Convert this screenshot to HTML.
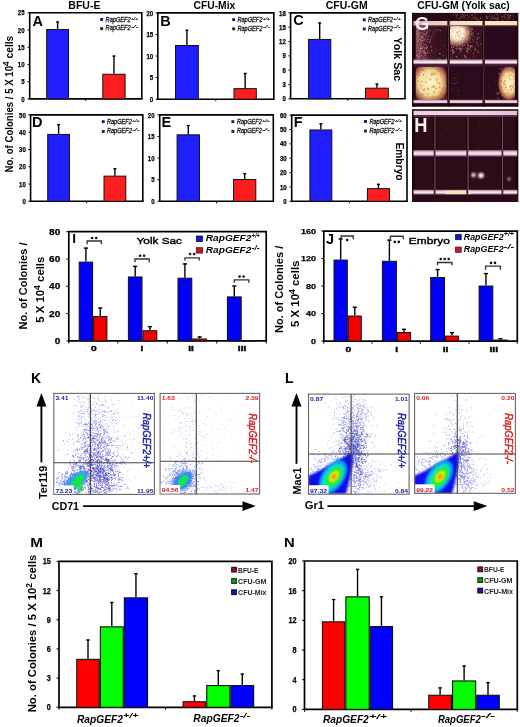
<!DOCTYPE html>
<html><head><meta charset="utf-8"><style>
html,body{margin:0;padding:0;background:#fff;width:520px;height:727px;overflow:hidden}
svg{display:block;font-family:"Liberation Sans",sans-serif;will-change:transform;filter:blur(0.35px)}
</style></head><body>
<svg width="520" height="727" viewBox="0 0 520 727">
<rect x="0" y="0" width="520" height="727" fill="#fff"/>
<path d="M29.70 98.90 V12.80 H141.80 V98.90" fill="none" stroke="#000" stroke-width="1.6"/>
<line x1="28.90" y1="98.90" x2="142.60" y2="98.90" stroke="#000" stroke-width="1.6"/>
<line x1="27.50" y1="98.90" x2="29.70" y2="98.90" stroke="#000" stroke-width="1.0"/>
<text x="24.60" y="101.51" font-size="7.3" font-weight="bold" text-anchor="end" textLength="3.37" lengthAdjust="spacingAndGlyphs" stroke="#000" stroke-width="0.25">0</text>
<line x1="27.50" y1="81.68" x2="29.70" y2="81.68" stroke="#000" stroke-width="1.0"/>
<text x="24.60" y="84.29" font-size="7.3" font-weight="bold" text-anchor="end" textLength="3.37" lengthAdjust="spacingAndGlyphs" stroke="#000" stroke-width="0.25">5</text>
<line x1="27.50" y1="64.46" x2="29.70" y2="64.46" stroke="#000" stroke-width="1.0"/>
<text x="24.60" y="67.07" font-size="7.3" font-weight="bold" text-anchor="end" textLength="6.74" lengthAdjust="spacingAndGlyphs" stroke="#000" stroke-width="0.25">10</text>
<line x1="27.50" y1="47.24" x2="29.70" y2="47.24" stroke="#000" stroke-width="1.0"/>
<text x="24.60" y="49.85" font-size="7.3" font-weight="bold" text-anchor="end" textLength="6.74" lengthAdjust="spacingAndGlyphs" stroke="#000" stroke-width="0.25">15</text>
<line x1="27.50" y1="30.02" x2="29.70" y2="30.02" stroke="#000" stroke-width="1.0"/>
<text x="24.60" y="32.63" font-size="7.3" font-weight="bold" text-anchor="end" textLength="6.74" lengthAdjust="spacingAndGlyphs" stroke="#000" stroke-width="0.25">20</text>
<line x1="27.50" y1="12.80" x2="29.70" y2="12.80" stroke="#000" stroke-width="1.0"/>
<text x="24.60" y="15.41" font-size="7.3" font-weight="bold" text-anchor="end" textLength="6.74" lengthAdjust="spacingAndGlyphs" stroke="#000" stroke-width="0.25">25</text>
<line x1="85.75" y1="98.90" x2="85.75" y2="100.90" stroke="#000" stroke-width="1"/>
<line x1="57.60" y1="28.99" x2="57.60" y2="21.41" stroke="#000" stroke-width="1.4"/>
<line x1="56.10" y1="22.01" x2="59.10" y2="22.01" stroke="#000" stroke-width="1.4"/>
<rect x="46.70" y="29.49" width="21.80" height="69.41" fill="#1e1eff" stroke="#111" stroke-width="1.0"/>
<line x1="113.95" y1="73.76" x2="113.95" y2="55.51" stroke="#000" stroke-width="1.4"/>
<line x1="112.45" y1="56.11" x2="115.45" y2="56.11" stroke="#000" stroke-width="1.4"/>
<rect x="102.80" y="74.26" width="22.30" height="24.64" fill="#ff1e1e" stroke="#111" stroke-width="1.0"/>
<text x="32.40" y="25.60" font-size="14.5" font-weight="bold">A</text>
<rect x="100.20" y="18.00" width="2.90" height="2.90" fill="#1a1a70"/>
<rect x="100.20" y="27.20" width="2.90" height="2.90" fill="#3a1a28"/>
<text x="105.60" y="21.80" font-size="6.6" font-style="italic" fill="#111" textLength="25.00" lengthAdjust="spacingAndGlyphs" stroke="#111" stroke-width="0.3">RapGEF2</text>
<text x="130.90" y="19.50" font-size="4.092" font-style="italic" fill="#111" textLength="7.40" lengthAdjust="spacingAndGlyphs" stroke="#111" stroke-width="0.2">+/+</text>
<text x="105.60" y="30.40" font-size="6.6" font-style="italic" fill="#111" textLength="25.00" lengthAdjust="spacingAndGlyphs" stroke="#111" stroke-width="0.3">RapGEF2</text>
<text x="130.90" y="28.10" font-size="4.092" font-style="italic" fill="#111" textLength="7.40" lengthAdjust="spacingAndGlyphs" stroke="#111" stroke-width="0.2">-/-</text>
<path d="M157.80 99.20 V12.90 H273.80 V99.20" fill="none" stroke="#000" stroke-width="1.6"/>
<line x1="157.00" y1="99.20" x2="274.60" y2="99.20" stroke="#000" stroke-width="1.6"/>
<line x1="155.60" y1="99.20" x2="157.80" y2="99.20" stroke="#000" stroke-width="1.0"/>
<text x="153.20" y="101.81" font-size="7.3" font-weight="bold" text-anchor="end" textLength="3.37" lengthAdjust="spacingAndGlyphs" stroke="#000" stroke-width="0.25">0</text>
<line x1="155.60" y1="77.62" x2="157.80" y2="77.62" stroke="#000" stroke-width="1.0"/>
<text x="153.20" y="80.24" font-size="7.3" font-weight="bold" text-anchor="end" textLength="3.37" lengthAdjust="spacingAndGlyphs" stroke="#000" stroke-width="0.25">5</text>
<line x1="155.60" y1="56.05" x2="157.80" y2="56.05" stroke="#000" stroke-width="1.0"/>
<text x="153.20" y="58.66" font-size="7.3" font-weight="bold" text-anchor="end" textLength="6.74" lengthAdjust="spacingAndGlyphs" stroke="#000" stroke-width="0.25">10</text>
<line x1="155.60" y1="34.48" x2="157.80" y2="34.48" stroke="#000" stroke-width="1.0"/>
<text x="153.20" y="37.09" font-size="7.3" font-weight="bold" text-anchor="end" textLength="6.74" lengthAdjust="spacingAndGlyphs" stroke="#000" stroke-width="0.25">15</text>
<line x1="155.60" y1="12.90" x2="157.80" y2="12.90" stroke="#000" stroke-width="1.0"/>
<text x="153.20" y="15.51" font-size="7.3" font-weight="bold" text-anchor="end" textLength="6.74" lengthAdjust="spacingAndGlyphs" stroke="#000" stroke-width="0.25">20</text>
<line x1="215.80" y1="99.20" x2="215.80" y2="101.20" stroke="#000" stroke-width="1"/>
<line x1="186.90" y1="45.00" x2="186.90" y2="29.73" stroke="#000" stroke-width="1.4"/>
<line x1="185.40" y1="30.33" x2="188.40" y2="30.33" stroke="#000" stroke-width="1.4"/>
<rect x="175.50" y="45.50" width="22.80" height="53.70" fill="#1e1eff" stroke="#111" stroke-width="1.0"/>
<line x1="245.15" y1="88.15" x2="245.15" y2="72.88" stroke="#000" stroke-width="1.4"/>
<line x1="243.65" y1="73.48" x2="246.65" y2="73.48" stroke="#000" stroke-width="1.4"/>
<rect x="234.00" y="88.65" width="22.30" height="10.55" fill="#ff1e1e" stroke="#111" stroke-width="1.0"/>
<text x="160.20" y="25.60" font-size="14.5" font-weight="bold">B</text>
<rect x="232.20" y="18.20" width="2.90" height="2.90" fill="#1a1a70"/>
<rect x="232.20" y="27.40" width="2.90" height="2.90" fill="#3a1a28"/>
<text x="237.40" y="22.00" font-size="6.6" font-style="italic" fill="#111" textLength="25.00" lengthAdjust="spacingAndGlyphs" stroke="#111" stroke-width="0.3">RapGEF2</text>
<text x="262.70" y="19.70" font-size="4.092" font-style="italic" fill="#111" textLength="7.40" lengthAdjust="spacingAndGlyphs" stroke="#111" stroke-width="0.2">+/+</text>
<text x="237.40" y="30.60" font-size="6.6" font-style="italic" fill="#111" textLength="25.00" lengthAdjust="spacingAndGlyphs" stroke="#111" stroke-width="0.3">RapGEF2</text>
<text x="262.70" y="28.30" font-size="4.092" font-style="italic" fill="#111" textLength="7.40" lengthAdjust="spacingAndGlyphs" stroke="#111" stroke-width="0.2">-/-</text>
<path d="M290.60 98.80 V12.90 H405.00 V98.80" fill="none" stroke="#000" stroke-width="1.6"/>
<line x1="289.80" y1="98.80" x2="405.80" y2="98.80" stroke="#000" stroke-width="1.6"/>
<line x1="288.40" y1="98.80" x2="290.60" y2="98.80" stroke="#000" stroke-width="1.0"/>
<text x="285.80" y="101.41" font-size="7.3" font-weight="bold" text-anchor="end" textLength="3.37" lengthAdjust="spacingAndGlyphs" stroke="#000" stroke-width="0.25">0</text>
<line x1="288.40" y1="84.48" x2="290.60" y2="84.48" stroke="#000" stroke-width="1.0"/>
<text x="285.80" y="87.10" font-size="7.3" font-weight="bold" text-anchor="end" textLength="3.37" lengthAdjust="spacingAndGlyphs" stroke="#000" stroke-width="0.25">3</text>
<line x1="288.40" y1="70.17" x2="290.60" y2="70.17" stroke="#000" stroke-width="1.0"/>
<text x="285.80" y="72.78" font-size="7.3" font-weight="bold" text-anchor="end" textLength="3.37" lengthAdjust="spacingAndGlyphs" stroke="#000" stroke-width="0.25">6</text>
<line x1="288.40" y1="55.85" x2="290.60" y2="55.85" stroke="#000" stroke-width="1.0"/>
<text x="285.80" y="58.46" font-size="7.3" font-weight="bold" text-anchor="end" textLength="3.37" lengthAdjust="spacingAndGlyphs" stroke="#000" stroke-width="0.25">9</text>
<line x1="288.40" y1="41.53" x2="290.60" y2="41.53" stroke="#000" stroke-width="1.0"/>
<text x="285.80" y="44.15" font-size="7.3" font-weight="bold" text-anchor="end" textLength="6.74" lengthAdjust="spacingAndGlyphs" stroke="#000" stroke-width="0.25">12</text>
<line x1="288.40" y1="27.22" x2="290.60" y2="27.22" stroke="#000" stroke-width="1.0"/>
<text x="285.80" y="29.83" font-size="7.3" font-weight="bold" text-anchor="end" textLength="6.74" lengthAdjust="spacingAndGlyphs" stroke="#000" stroke-width="0.25">15</text>
<line x1="288.40" y1="12.90" x2="290.60" y2="12.90" stroke="#000" stroke-width="1.0"/>
<text x="285.80" y="15.51" font-size="7.3" font-weight="bold" text-anchor="end" textLength="6.74" lengthAdjust="spacingAndGlyphs" stroke="#000" stroke-width="0.25">18</text>
<line x1="347.80" y1="98.80" x2="347.80" y2="100.80" stroke="#000" stroke-width="1"/>
<line x1="319.70" y1="38.91" x2="319.70" y2="22.44" stroke="#000" stroke-width="1.4"/>
<line x1="318.20" y1="23.04" x2="321.20" y2="23.04" stroke="#000" stroke-width="1.4"/>
<rect x="308.60" y="39.41" width="22.20" height="59.39" fill="#1e1eff" stroke="#111" stroke-width="1.0"/>
<line x1="376.90" y1="87.68" x2="376.90" y2="83.53" stroke="#000" stroke-width="1.4"/>
<line x1="375.40" y1="84.13" x2="378.40" y2="84.13" stroke="#000" stroke-width="1.4"/>
<rect x="365.50" y="88.18" width="22.80" height="10.62" fill="#ff1e1e" stroke="#111" stroke-width="1.0"/>
<text x="293.15" y="25.45" font-size="14.5" font-weight="bold">C</text>
<rect x="362.80" y="18.30" width="2.90" height="2.90" fill="#1a1a70"/>
<rect x="362.80" y="27.50" width="2.90" height="2.90" fill="#3a1a28"/>
<text x="368.00" y="22.00" font-size="6.6" font-style="italic" fill="#111" textLength="25.00" lengthAdjust="spacingAndGlyphs" stroke="#111" stroke-width="0.3">RapGEF2</text>
<text x="393.30" y="19.70" font-size="4.092" font-style="italic" fill="#111" textLength="7.40" lengthAdjust="spacingAndGlyphs" stroke="#111" stroke-width="0.2">+/+</text>
<text x="368.00" y="30.60" font-size="6.6" font-style="italic" fill="#111" textLength="25.00" lengthAdjust="spacingAndGlyphs" stroke="#111" stroke-width="0.3">RapGEF2</text>
<text x="393.30" y="28.30" font-size="4.092" font-style="italic" fill="#111" textLength="7.40" lengthAdjust="spacingAndGlyphs" stroke="#111" stroke-width="0.2">-/-</text>
<path d="M30.60 201.30 V114.90 H142.80 V201.30" fill="none" stroke="#000" stroke-width="1.6"/>
<line x1="29.80" y1="201.30" x2="143.60" y2="201.30" stroke="#000" stroke-width="1.6"/>
<line x1="28.40" y1="201.30" x2="30.60" y2="201.30" stroke="#000" stroke-width="1.0"/>
<text x="25.80" y="203.91" font-size="7.3" font-weight="bold" text-anchor="end" textLength="3.37" lengthAdjust="spacingAndGlyphs" stroke="#000" stroke-width="0.25">0</text>
<line x1="28.40" y1="184.02" x2="30.60" y2="184.02" stroke="#000" stroke-width="1.0"/>
<text x="25.80" y="186.63" font-size="7.3" font-weight="bold" text-anchor="end" textLength="6.74" lengthAdjust="spacingAndGlyphs" stroke="#000" stroke-width="0.25">10</text>
<line x1="28.40" y1="166.74" x2="30.60" y2="166.74" stroke="#000" stroke-width="1.0"/>
<text x="25.80" y="169.35" font-size="7.3" font-weight="bold" text-anchor="end" textLength="6.74" lengthAdjust="spacingAndGlyphs" stroke="#000" stroke-width="0.25">20</text>
<line x1="28.40" y1="149.46" x2="30.60" y2="149.46" stroke="#000" stroke-width="1.0"/>
<text x="25.80" y="152.07" font-size="7.3" font-weight="bold" text-anchor="end" textLength="6.74" lengthAdjust="spacingAndGlyphs" stroke="#000" stroke-width="0.25">30</text>
<line x1="28.40" y1="132.18" x2="30.60" y2="132.18" stroke="#000" stroke-width="1.0"/>
<text x="25.80" y="134.79" font-size="7.3" font-weight="bold" text-anchor="end" textLength="6.74" lengthAdjust="spacingAndGlyphs" stroke="#000" stroke-width="0.25">40</text>
<line x1="28.40" y1="114.90" x2="30.60" y2="114.90" stroke="#000" stroke-width="1.0"/>
<text x="25.80" y="117.51" font-size="7.3" font-weight="bold" text-anchor="end" textLength="6.74" lengthAdjust="spacingAndGlyphs" stroke="#000" stroke-width="0.25">50</text>
<line x1="86.70" y1="201.30" x2="86.70" y2="203.30" stroke="#000" stroke-width="1"/>
<line x1="58.60" y1="133.94" x2="58.60" y2="124.06" stroke="#000" stroke-width="1.4"/>
<line x1="57.10" y1="124.66" x2="60.10" y2="124.66" stroke="#000" stroke-width="1.4"/>
<rect x="47.70" y="134.44" width="21.80" height="66.86" fill="#1e1eff" stroke="#111" stroke-width="1.0"/>
<line x1="114.90" y1="175.64" x2="114.90" y2="168.04" stroke="#000" stroke-width="1.4"/>
<line x1="113.40" y1="168.64" x2="116.40" y2="168.64" stroke="#000" stroke-width="1.4"/>
<rect x="104.00" y="176.14" width="21.80" height="25.16" fill="#ff1e1e" stroke="#111" stroke-width="1.0"/>
<text x="32.00" y="127.30" font-size="14.5" font-weight="bold">D</text>
<rect x="101.80" y="120.20" width="2.90" height="2.90" fill="#1a1a70"/>
<rect x="101.80" y="130.00" width="2.90" height="2.90" fill="#3a1a28"/>
<text x="106.90" y="124.20" font-size="6.6" font-style="italic" fill="#111" textLength="25.00" lengthAdjust="spacingAndGlyphs" stroke="#111" stroke-width="0.3">RapGEF2</text>
<text x="132.20" y="121.90" font-size="4.092" font-style="italic" fill="#111" textLength="7.40" lengthAdjust="spacingAndGlyphs" stroke="#111" stroke-width="0.2">+/+</text>
<text x="106.90" y="132.80" font-size="6.6" font-style="italic" fill="#111" textLength="25.00" lengthAdjust="spacingAndGlyphs" stroke="#111" stroke-width="0.3">RapGEF2</text>
<text x="132.20" y="130.50" font-size="4.092" font-style="italic" fill="#111" textLength="7.40" lengthAdjust="spacingAndGlyphs" stroke="#111" stroke-width="0.2">-/-</text>
<path d="M159.70 201.30 V114.90 H273.30 V201.30" fill="none" stroke="#000" stroke-width="1.6"/>
<line x1="158.90" y1="201.30" x2="274.10" y2="201.30" stroke="#000" stroke-width="1.6"/>
<line x1="157.50" y1="201.30" x2="159.70" y2="201.30" stroke="#000" stroke-width="1.0"/>
<text x="154.60" y="203.91" font-size="7.3" font-weight="bold" text-anchor="end" textLength="3.37" lengthAdjust="spacingAndGlyphs" stroke="#000" stroke-width="0.25">0</text>
<line x1="157.50" y1="179.70" x2="159.70" y2="179.70" stroke="#000" stroke-width="1.0"/>
<text x="154.60" y="182.31" font-size="7.3" font-weight="bold" text-anchor="end" textLength="3.37" lengthAdjust="spacingAndGlyphs" stroke="#000" stroke-width="0.25">5</text>
<line x1="157.50" y1="158.10" x2="159.70" y2="158.10" stroke="#000" stroke-width="1.0"/>
<text x="154.60" y="160.71" font-size="7.3" font-weight="bold" text-anchor="end" textLength="6.74" lengthAdjust="spacingAndGlyphs" stroke="#000" stroke-width="0.25">10</text>
<line x1="157.50" y1="136.50" x2="159.70" y2="136.50" stroke="#000" stroke-width="1.0"/>
<text x="154.60" y="139.11" font-size="7.3" font-weight="bold" text-anchor="end" textLength="6.74" lengthAdjust="spacingAndGlyphs" stroke="#000" stroke-width="0.25">15</text>
<line x1="157.50" y1="114.90" x2="159.70" y2="114.90" stroke="#000" stroke-width="1.0"/>
<text x="154.60" y="117.51" font-size="7.3" font-weight="bold" text-anchor="end" textLength="6.74" lengthAdjust="spacingAndGlyphs" stroke="#000" stroke-width="0.25">20</text>
<line x1="216.50" y1="201.30" x2="216.50" y2="203.30" stroke="#000" stroke-width="1"/>
<line x1="188.30" y1="134.34" x2="188.30" y2="125.01" stroke="#000" stroke-width="1.4"/>
<line x1="186.80" y1="125.61" x2="189.80" y2="125.61" stroke="#000" stroke-width="1.4"/>
<rect x="177.10" y="134.84" width="22.40" height="66.46" fill="#1e1eff" stroke="#111" stroke-width="1.0"/>
<line x1="244.70" y1="179.05" x2="244.70" y2="173.05" stroke="#000" stroke-width="1.4"/>
<line x1="243.20" y1="173.65" x2="246.20" y2="173.65" stroke="#000" stroke-width="1.4"/>
<rect x="233.60" y="179.55" width="22.20" height="21.75" fill="#ff1e1e" stroke="#111" stroke-width="1.0"/>
<text x="161.50" y="127.30" font-size="14.5" font-weight="bold">E</text>
<rect x="231.40" y="120.20" width="2.90" height="2.90" fill="#1a1a70"/>
<rect x="231.40" y="130.00" width="2.90" height="2.90" fill="#3a1a28"/>
<text x="236.90" y="124.20" font-size="6.6" font-style="italic" fill="#111" textLength="25.00" lengthAdjust="spacingAndGlyphs" stroke="#111" stroke-width="0.3">RapGEF2</text>
<text x="262.20" y="121.90" font-size="4.092" font-style="italic" fill="#111" textLength="7.40" lengthAdjust="spacingAndGlyphs" stroke="#111" stroke-width="0.2">+/+</text>
<text x="236.90" y="132.80" font-size="6.6" font-style="italic" fill="#111" textLength="25.00" lengthAdjust="spacingAndGlyphs" stroke="#111" stroke-width="0.3">RapGEF2</text>
<text x="262.20" y="130.50" font-size="4.092" font-style="italic" fill="#111" textLength="7.40" lengthAdjust="spacingAndGlyphs" stroke="#111" stroke-width="0.2">-/-</text>
<path d="M291.70 201.30 V115.10 H407.00 V201.30" fill="none" stroke="#000" stroke-width="1.6"/>
<line x1="290.90" y1="201.30" x2="407.80" y2="201.30" stroke="#000" stroke-width="1.6"/>
<line x1="289.50" y1="201.30" x2="291.70" y2="201.30" stroke="#000" stroke-width="1.0"/>
<text x="286.70" y="203.91" font-size="7.3" font-weight="bold" text-anchor="end" textLength="3.37" lengthAdjust="spacingAndGlyphs" stroke="#000" stroke-width="0.25">0</text>
<line x1="289.50" y1="186.93" x2="291.70" y2="186.93" stroke="#000" stroke-width="1.0"/>
<text x="286.70" y="189.55" font-size="7.3" font-weight="bold" text-anchor="end" textLength="6.74" lengthAdjust="spacingAndGlyphs" stroke="#000" stroke-width="0.25">10</text>
<line x1="289.50" y1="172.57" x2="291.70" y2="172.57" stroke="#000" stroke-width="1.0"/>
<text x="286.70" y="175.18" font-size="7.3" font-weight="bold" text-anchor="end" textLength="6.74" lengthAdjust="spacingAndGlyphs" stroke="#000" stroke-width="0.25">20</text>
<line x1="289.50" y1="158.20" x2="291.70" y2="158.20" stroke="#000" stroke-width="1.0"/>
<text x="286.70" y="160.81" font-size="7.3" font-weight="bold" text-anchor="end" textLength="6.74" lengthAdjust="spacingAndGlyphs" stroke="#000" stroke-width="0.25">30</text>
<line x1="289.50" y1="143.83" x2="291.70" y2="143.83" stroke="#000" stroke-width="1.0"/>
<text x="286.70" y="146.45" font-size="7.3" font-weight="bold" text-anchor="end" textLength="6.74" lengthAdjust="spacingAndGlyphs" stroke="#000" stroke-width="0.25">40</text>
<line x1="289.50" y1="129.47" x2="291.70" y2="129.47" stroke="#000" stroke-width="1.0"/>
<text x="286.70" y="132.08" font-size="7.3" font-weight="bold" text-anchor="end" textLength="6.74" lengthAdjust="spacingAndGlyphs" stroke="#000" stroke-width="0.25">50</text>
<line x1="289.50" y1="115.10" x2="291.70" y2="115.10" stroke="#000" stroke-width="1.0"/>
<text x="286.70" y="117.71" font-size="7.3" font-weight="bold" text-anchor="end" textLength="6.74" lengthAdjust="spacingAndGlyphs" stroke="#000" stroke-width="0.25">60</text>
<line x1="349.35" y1="201.30" x2="349.35" y2="203.30" stroke="#000" stroke-width="1"/>
<line x1="320.85" y1="129.47" x2="320.85" y2="123.15" stroke="#000" stroke-width="1.4"/>
<line x1="319.35" y1="123.75" x2="322.35" y2="123.75" stroke="#000" stroke-width="1.4"/>
<rect x="309.90" y="129.97" width="21.90" height="71.33" fill="#1e1eff" stroke="#111" stroke-width="1.0"/>
<line x1="378.45" y1="188.14" x2="378.45" y2="183.77" stroke="#000" stroke-width="1.4"/>
<line x1="376.95" y1="184.37" x2="379.95" y2="184.37" stroke="#000" stroke-width="1.4"/>
<rect x="367.40" y="188.64" width="22.10" height="12.66" fill="#ff1e1e" stroke="#111" stroke-width="1.0"/>
<text x="293.80" y="127.30" font-size="14.5" font-weight="bold">F</text>
<rect x="364.00" y="120.00" width="2.90" height="2.90" fill="#1a1a70"/>
<rect x="364.00" y="129.60" width="2.90" height="2.90" fill="#3a1a28"/>
<text x="369.40" y="124.20" font-size="6.6" font-style="italic" fill="#111" textLength="25.00" lengthAdjust="spacingAndGlyphs" stroke="#111" stroke-width="0.3">RapGEF2</text>
<text x="394.70" y="121.90" font-size="4.092" font-style="italic" fill="#111" textLength="7.40" lengthAdjust="spacingAndGlyphs" stroke="#111" stroke-width="0.2">+/+</text>
<text x="369.40" y="132.80" font-size="6.6" font-style="italic" fill="#111" textLength="25.00" lengthAdjust="spacingAndGlyphs" stroke="#111" stroke-width="0.3">RapGEF2</text>
<text x="394.70" y="130.50" font-size="4.092" font-style="italic" fill="#111" textLength="7.40" lengthAdjust="spacingAndGlyphs" stroke="#111" stroke-width="0.2">-/-</text>
<text x="68.30" y="9.00" font-size="10.0" font-weight="bold" textLength="32.20" lengthAdjust="spacingAndGlyphs">BFU-E</text>
<text x="193.60" y="8.90" font-size="10.0" font-weight="bold" textLength="41.60" lengthAdjust="spacingAndGlyphs">CFU-Mix</text>
<text x="325.80" y="8.90" font-size="10.0" font-weight="bold" textLength="41.80" lengthAdjust="spacingAndGlyphs">CFU-GM</text>
<text x="417.30" y="8.90" font-size="10.0" font-weight="bold" textLength="92.40" lengthAdjust="spacingAndGlyphs">CFU-GM (Yolk sac)</text>
<text transform="translate(394.40,59.30) rotate(90)" font-size="10.8" font-weight="bold" text-anchor="middle" textLength="44.00" lengthAdjust="spacingAndGlyphs">Yolk Sac</text>
<text transform="translate(396.40,161.50) rotate(90)" font-size="10.8" font-weight="bold" text-anchor="middle" textLength="38.20" lengthAdjust="spacingAndGlyphs">Embryo</text>
<text transform="translate(12.9,172.5) rotate(-90)" font-size="10" font-weight="bold"><tspan textLength="106.5" lengthAdjust="spacingAndGlyphs">No. of Colonies / 5 X 10</tspan><tspan dy="-4.4" font-size="8.4">4</tspan><tspan dy="4.4" textLength="25.6" lengthAdjust="spacingAndGlyphs"> cells</tspan></text>
<path d="M68.80 340.90 V231.70 H266.20 V340.90" fill="none" stroke="#000" stroke-width="1.7"/>
<line x1="68.00" y1="340.90" x2="267.00" y2="340.90" stroke="#000" stroke-width="1.7"/>
<line x1="66.30" y1="340.90" x2="68.80" y2="340.90" stroke="#000" stroke-width="1.0"/>
<text x="60.40" y="344.05" font-size="8.8" font-weight="bold" text-anchor="end" textLength="5.63" lengthAdjust="spacingAndGlyphs" stroke="#000" stroke-width="0.25">0</text>
<line x1="66.30" y1="313.60" x2="68.80" y2="313.60" stroke="#000" stroke-width="1.0"/>
<text x="60.40" y="316.75" font-size="8.8" font-weight="bold" text-anchor="end" textLength="11.26" lengthAdjust="spacingAndGlyphs" stroke="#000" stroke-width="0.25">20</text>
<line x1="66.30" y1="286.30" x2="68.80" y2="286.30" stroke="#000" stroke-width="1.0"/>
<text x="60.40" y="289.45" font-size="8.8" font-weight="bold" text-anchor="end" textLength="11.26" lengthAdjust="spacingAndGlyphs" stroke="#000" stroke-width="0.25">40</text>
<line x1="66.30" y1="259.00" x2="68.80" y2="259.00" stroke="#000" stroke-width="1.0"/>
<text x="60.40" y="262.15" font-size="8.8" font-weight="bold" text-anchor="end" textLength="11.26" lengthAdjust="spacingAndGlyphs" stroke="#000" stroke-width="0.25">60</text>
<line x1="66.30" y1="231.70" x2="68.80" y2="231.70" stroke="#000" stroke-width="1.0"/>
<text x="60.40" y="234.85" font-size="8.8" font-weight="bold" text-anchor="end" textLength="11.26" lengthAdjust="spacingAndGlyphs" stroke="#000" stroke-width="0.25">80</text>
<line x1="68.80" y1="340.90" x2="68.80" y2="343.50" stroke="#000" stroke-width="1"/>
<line x1="117.80" y1="340.90" x2="117.80" y2="343.50" stroke="#000" stroke-width="1"/>
<line x1="167.30" y1="340.90" x2="167.30" y2="343.50" stroke="#000" stroke-width="1"/>
<line x1="216.70" y1="340.90" x2="216.70" y2="343.50" stroke="#000" stroke-width="1"/>
<line x1="266.20" y1="340.90" x2="266.20" y2="343.50" stroke="#000" stroke-width="1"/>
<line x1="85.90" y1="261.59" x2="85.90" y2="247.53" stroke="#000" stroke-width="1.4"/>
<line x1="83.80" y1="248.13" x2="88.00" y2="248.13" stroke="#000" stroke-width="1.4"/>
<rect x="79.20" y="262.09" width="13.40" height="78.81" fill="#0000fa" stroke="#111" stroke-width="1.0"/>
<line x1="100.25" y1="316.06" x2="100.25" y2="307.46" stroke="#000" stroke-width="1.4"/>
<line x1="98.15" y1="308.06" x2="102.35" y2="308.06" stroke="#000" stroke-width="1.4"/>
<rect x="93.60" y="316.56" width="13.30" height="24.34" fill="#f50000" stroke="#111" stroke-width="1.0"/>
<line x1="135.20" y1="276.47" x2="135.20" y2="265.82" stroke="#000" stroke-width="1.4"/>
<line x1="133.10" y1="266.43" x2="137.30" y2="266.43" stroke="#000" stroke-width="1.4"/>
<rect x="128.40" y="276.97" width="13.60" height="63.93" fill="#0000fa" stroke="#111" stroke-width="1.0"/>
<line x1="149.90" y1="330.25" x2="149.90" y2="326.02" stroke="#000" stroke-width="1.4"/>
<line x1="147.80" y1="326.62" x2="152.00" y2="326.62" stroke="#000" stroke-width="1.4"/>
<rect x="143.00" y="330.75" width="13.80" height="10.15" fill="#f50000" stroke="#111" stroke-width="1.0"/>
<line x1="184.90" y1="277.70" x2="184.90" y2="263.37" stroke="#000" stroke-width="1.4"/>
<line x1="182.80" y1="263.97" x2="187.00" y2="263.97" stroke="#000" stroke-width="1.4"/>
<rect x="178.00" y="278.20" width="13.80" height="62.70" fill="#0000fa" stroke="#111" stroke-width="1.0"/>
<line x1="199.65" y1="338.51" x2="199.65" y2="336.40" stroke="#000" stroke-width="1.4"/>
<line x1="197.55" y1="337.00" x2="201.75" y2="337.00" stroke="#000" stroke-width="1.4"/>
<rect x="192.80" y="339.01" width="13.70" height="1.89" fill="#f50000" stroke="#111" stroke-width="1.0"/>
<line x1="234.30" y1="296.40" x2="234.30" y2="285.48" stroke="#000" stroke-width="1.4"/>
<line x1="232.20" y1="286.08" x2="236.40" y2="286.08" stroke="#000" stroke-width="1.4"/>
<rect x="227.40" y="296.90" width="13.80" height="44.00" fill="#0000fa" stroke="#111" stroke-width="1.0"/>
<rect x="242.20" y="340.85" width="13.80" height="0.10" fill="#f50000" stroke="#111" stroke-width="1.0"/>
<text x="93.90" y="350.60" font-size="7.2" font-weight="bold" text-anchor="middle" textLength="5.69" lengthAdjust="spacingAndGlyphs" stroke="#000" stroke-width="0.35">0</text>
<text x="142.00" y="350.60" font-size="7.2" font-weight="bold" text-anchor="middle" textLength="2.84" lengthAdjust="spacingAndGlyphs" stroke="#000" stroke-width="0.35">I</text>
<text x="191.00" y="350.60" font-size="7.2" font-weight="bold" text-anchor="middle" textLength="5.68" lengthAdjust="spacingAndGlyphs" stroke="#000" stroke-width="0.35">II</text>
<text x="242.10" y="350.60" font-size="7.2" font-weight="bold" text-anchor="middle" textLength="8.52" lengthAdjust="spacingAndGlyphs" stroke="#000" stroke-width="0.35">III</text>
<path d="M87.10 244.30 V241.00 H101.30 V244.30" fill="none" stroke="#333" stroke-width="1.35"/>
<circle cx="92.20" cy="238.00" r="1.3" fill="#111"/>
<circle cx="96.20" cy="238.00" r="1.3" fill="#111"/>
<path d="M135.00 262.30 V259.00 H149.20 V262.30" fill="none" stroke="#333" stroke-width="1.35"/>
<circle cx="140.10" cy="255.80" r="1.3" fill="#111"/>
<circle cx="144.10" cy="255.80" r="1.3" fill="#111"/>
<path d="M185.00 260.60 V257.80 H199.20 V260.60" fill="none" stroke="#333" stroke-width="1.35"/>
<circle cx="190.10" cy="254.00" r="1.3" fill="#111"/>
<circle cx="194.10" cy="254.00" r="1.3" fill="#111"/>
<path d="M234.40 282.70 V279.80 H248.80 V282.70" fill="none" stroke="#333" stroke-width="1.35"/>
<circle cx="239.60" cy="276.60" r="1.3" fill="#111"/>
<circle cx="243.60" cy="276.60" r="1.3" fill="#111"/>
<text x="72.30" y="243.30" font-size="13.6" font-weight="bold">I</text>
<text x="136.60" y="243.50" font-size="9.8" textLength="45.40" lengthAdjust="spacingAndGlyphs" stroke="#000" stroke-width="0.4">Yolk Sac</text>
<rect x="196.30" y="236.00" width="6.20" height="5.40" fill="#1414d0" stroke="#0a0a50" stroke-width="0.8"/>
<rect x="196.30" y="247.70" width="6.20" height="5.40" fill="#d01430" stroke="#500a14" stroke-width="0.8"/>
<text x="205.80" y="241.40" font-size="8.6" font-weight="bold" font-style="italic" textLength="45.60" lengthAdjust="spacingAndGlyphs">RapGEF2</text>
<text x="251.80" y="237.80" font-size="6.6" font-weight="bold" font-style="italic" textLength="7.80" lengthAdjust="spacingAndGlyphs">+/+</text>
<text x="205.80" y="253.30" font-size="8.6" font-weight="bold" font-style="italic" textLength="45.60" lengthAdjust="spacingAndGlyphs">RapGEF2</text>
<text x="251.80" y="249.70" font-size="6.6" font-weight="bold" font-style="italic" textLength="7.80" lengthAdjust="spacingAndGlyphs">-/-</text>
<text transform="translate(27.30,286.00) rotate(-90)" font-size="10.2" font-weight="bold" text-anchor="middle" textLength="87.00" lengthAdjust="spacingAndGlyphs">No. of Colonies /</text>
<text transform="translate(43.90,322.65) rotate(-90)" font-size="10.2" font-weight="bold"><tspan textLength="32.78" lengthAdjust="spacingAndGlyphs">5 X 10</tspan><tspan dy="-4.4" font-size="8.67">4</tspan><tspan dy="4.4" textLength="28.36" lengthAdjust="spacingAndGlyphs"> cells</tspan></text>
<path d="M323.80 341.10 V231.10 H517.30 V341.10" fill="none" stroke="#000" stroke-width="1.7"/>
<line x1="323.00" y1="341.10" x2="518.10" y2="341.10" stroke="#000" stroke-width="1.7"/>
<line x1="321.30" y1="341.10" x2="323.80" y2="341.10" stroke="#000" stroke-width="1.0"/>
<text x="316.00" y="343.96" font-size="8.0" font-weight="bold" text-anchor="end" textLength="4.98" lengthAdjust="spacingAndGlyphs" stroke="#000" stroke-width="0.25">0</text>
<line x1="321.30" y1="313.60" x2="323.80" y2="313.60" stroke="#000" stroke-width="1.0"/>
<text x="316.00" y="316.46" font-size="8.0" font-weight="bold" text-anchor="end" textLength="9.97" lengthAdjust="spacingAndGlyphs" stroke="#000" stroke-width="0.25">40</text>
<line x1="321.30" y1="286.10" x2="323.80" y2="286.10" stroke="#000" stroke-width="1.0"/>
<text x="316.00" y="288.96" font-size="8.0" font-weight="bold" text-anchor="end" textLength="9.97" lengthAdjust="spacingAndGlyphs" stroke="#000" stroke-width="0.25">80</text>
<line x1="321.30" y1="258.60" x2="323.80" y2="258.60" stroke="#000" stroke-width="1.0"/>
<text x="316.00" y="261.46" font-size="8.0" font-weight="bold" text-anchor="end" textLength="14.95" lengthAdjust="spacingAndGlyphs" stroke="#000" stroke-width="0.25">120</text>
<line x1="321.30" y1="231.10" x2="323.80" y2="231.10" stroke="#000" stroke-width="1.0"/>
<text x="316.00" y="233.96" font-size="8.0" font-weight="bold" text-anchor="end" textLength="14.95" lengthAdjust="spacingAndGlyphs" stroke="#000" stroke-width="0.25">160</text>
<line x1="323.80" y1="341.10" x2="323.80" y2="343.70" stroke="#000" stroke-width="1"/>
<line x1="372.10" y1="341.10" x2="372.10" y2="343.70" stroke="#000" stroke-width="1"/>
<line x1="420.30" y1="341.10" x2="420.30" y2="343.70" stroke="#000" stroke-width="1"/>
<line x1="469.10" y1="341.10" x2="469.10" y2="343.70" stroke="#000" stroke-width="1"/>
<line x1="517.30" y1="341.10" x2="517.30" y2="343.70" stroke="#000" stroke-width="1"/>
<line x1="340.65" y1="259.56" x2="340.65" y2="238.32" stroke="#000" stroke-width="1.4"/>
<line x1="338.55" y1="238.92" x2="342.75" y2="238.92" stroke="#000" stroke-width="1.4"/>
<rect x="334.00" y="260.06" width="13.30" height="81.04" fill="#0000fa" stroke="#111" stroke-width="1.0"/>
<line x1="354.80" y1="315.53" x2="354.80" y2="306.66" stroke="#000" stroke-width="1.4"/>
<line x1="352.70" y1="307.26" x2="356.90" y2="307.26" stroke="#000" stroke-width="1.4"/>
<rect x="348.30" y="316.03" width="13.00" height="25.07" fill="#f50000" stroke="#111" stroke-width="1.0"/>
<line x1="389.40" y1="260.80" x2="389.40" y2="239.56" stroke="#000" stroke-width="1.4"/>
<line x1="387.30" y1="240.16" x2="391.50" y2="240.16" stroke="#000" stroke-width="1.4"/>
<rect x="382.40" y="261.30" width="14.00" height="79.80" fill="#0000fa" stroke="#111" stroke-width="1.0"/>
<line x1="403.95" y1="332.03" x2="403.95" y2="328.79" stroke="#000" stroke-width="1.4"/>
<line x1="401.85" y1="329.39" x2="406.05" y2="329.39" stroke="#000" stroke-width="1.4"/>
<rect x="397.40" y="332.53" width="13.10" height="8.57" fill="#f50000" stroke="#111" stroke-width="1.0"/>
<line x1="437.60" y1="277.02" x2="437.60" y2="268.98" stroke="#000" stroke-width="1.4"/>
<line x1="435.50" y1="269.58" x2="439.70" y2="269.58" stroke="#000" stroke-width="1.4"/>
<rect x="430.70" y="277.52" width="13.80" height="63.58" fill="#0000fa" stroke="#111" stroke-width="1.0"/>
<line x1="451.95" y1="335.60" x2="451.95" y2="332.03" stroke="#000" stroke-width="1.4"/>
<line x1="449.85" y1="332.63" x2="454.05" y2="332.63" stroke="#000" stroke-width="1.4"/>
<rect x="445.50" y="336.10" width="12.90" height="5.00" fill="#f50000" stroke="#111" stroke-width="1.0"/>
<line x1="485.95" y1="285.55" x2="485.95" y2="272.97" stroke="#000" stroke-width="1.4"/>
<line x1="483.85" y1="273.57" x2="488.05" y2="273.57" stroke="#000" stroke-width="1.4"/>
<rect x="479.10" y="286.05" width="13.70" height="55.05" fill="#0000fa" stroke="#111" stroke-width="1.0"/>
<line x1="500.40" y1="339.52" x2="500.40" y2="338.08" stroke="#000" stroke-width="1.4"/>
<line x1="498.30" y1="338.68" x2="502.50" y2="338.68" stroke="#000" stroke-width="1.4"/>
<rect x="493.80" y="340.02" width="13.20" height="1.08" fill="#f50000" stroke="#111" stroke-width="1.0"/>
<text x="348.40" y="351.70" font-size="7.2" font-weight="bold" text-anchor="middle" textLength="5.69" lengthAdjust="spacingAndGlyphs" stroke="#000" stroke-width="0.35">0</text>
<text x="396.60" y="351.70" font-size="7.2" font-weight="bold" text-anchor="middle" textLength="2.84" lengthAdjust="spacingAndGlyphs" stroke="#000" stroke-width="0.35">I</text>
<text x="445.50" y="351.70" font-size="7.2" font-weight="bold" text-anchor="middle" textLength="5.68" lengthAdjust="spacingAndGlyphs" stroke="#000" stroke-width="0.35">II</text>
<text x="493.80" y="351.70" font-size="7.2" font-weight="bold" text-anchor="middle" textLength="8.52" lengthAdjust="spacingAndGlyphs" stroke="#000" stroke-width="0.35">III</text>
<path d="M341.20 239.30 V236.00 H353.20 V239.30" fill="none" stroke="#333" stroke-width="1.35"/>
<circle cx="347.20" cy="240.00" r="1.3" fill="#111"/>
<path d="M390.40 239.30 V236.20 H403.20 V239.30" fill="none" stroke="#333" stroke-width="1.35"/>
<circle cx="394.80" cy="241.90" r="1.3" fill="#111"/>
<circle cx="398.80" cy="241.90" r="1.3" fill="#111"/>
<path d="M437.50 265.20 V262.50 H451.90 V265.20" fill="none" stroke="#333" stroke-width="1.35"/>
<circle cx="440.70" cy="259.00" r="1.3" fill="#111"/>
<circle cx="444.70" cy="259.00" r="1.3" fill="#111"/>
<circle cx="448.70" cy="259.00" r="1.3" fill="#111"/>
<path d="M485.60 269.80 V266.10 H500.40 V269.80" fill="none" stroke="#333" stroke-width="1.35"/>
<circle cx="491.00" cy="262.90" r="1.3" fill="#111"/>
<circle cx="495.00" cy="262.90" r="1.3" fill="#111"/>
<text x="326.00" y="243.75" font-size="14.5" font-weight="bold">J</text>
<text x="408.80" y="243.50" font-size="9.8" textLength="41.00" lengthAdjust="spacingAndGlyphs" stroke="#000" stroke-width="0.4">Embryo</text>
<rect x="455.60" y="234.50" width="5.60" height="5.20" fill="#1414d0" stroke="#0a0a50" stroke-width="0.8"/>
<rect x="455.60" y="247.10" width="5.60" height="5.20" fill="#d01430" stroke="#500a14" stroke-width="0.8"/>
<text x="463.80" y="239.60" font-size="8.6" font-weight="bold" font-style="italic" textLength="39.80" lengthAdjust="spacingAndGlyphs">RapGEF2</text>
<text x="503.80" y="236.00" font-size="6.6" font-weight="bold" font-style="italic" textLength="10.20" lengthAdjust="spacingAndGlyphs">+/+</text>
<text x="463.80" y="252.10" font-size="8.6" font-weight="bold" font-style="italic" textLength="39.80" lengthAdjust="spacingAndGlyphs">RapGEF2</text>
<text x="503.80" y="248.50" font-size="6.6" font-weight="bold" font-style="italic" textLength="10.20" lengthAdjust="spacingAndGlyphs">-/-</text>
<text transform="translate(282.70,289.40) rotate(-90)" font-size="10.2" font-weight="bold" text-anchor="middle" textLength="87.40" lengthAdjust="spacingAndGlyphs">No. of Colonies /</text>
<text transform="translate(299.40,327.00) rotate(-90)" font-size="10.2" font-weight="bold"><tspan textLength="33.02" lengthAdjust="spacingAndGlyphs">5 X 10</tspan><tspan dy="-4.4" font-size="8.67">4</tspan><tspan dy="4.4" textLength="28.58" lengthAdjust="spacingAndGlyphs"> cells</tspan></text>
<defs><radialGradient id="glow1" cx="0.5" cy="0.5" r="0.5"><stop offset="0" stop-color="#fffcea"/><stop offset="0.42" stop-color="#fbf0c4"/><stop offset="0.68" stop-color="#d89080" stop-opacity="0.75"/><stop offset="1" stop-color="#3a1020" stop-opacity="0"/></radialGradient><radialGradient id="glow2" cx="0.5" cy="0.5" r="0.5"><stop offset="0" stop-color="#f8f6c8"/><stop offset="0.55" stop-color="#f2dc98"/><stop offset="0.82" stop-color="#c87050" stop-opacity="0.8"/><stop offset="1" stop-color="#401020" stop-opacity="0"/></radialGradient><linearGradient id="bandG1" x1="0" x2="1" y1="0" y2="0"><stop offset="0" stop-color="#dcb0c0"/><stop offset="0.3" stop-color="#eed8c0"/><stop offset="0.5" stop-color="#f0e4c8"/><stop offset="0.7" stop-color="#f4ecc4"/><stop offset="1" stop-color="#f2e4b0"/></linearGradient><linearGradient id="bandH1" x1="0" x2="1" y1="0" y2="0"><stop offset="0" stop-color="#ecd0dc"/><stop offset="0.5" stop-color="#eed8e0"/><stop offset="1" stop-color="#e4c0d0"/></linearGradient><linearGradient id="bandV" x1="0" x2="0" y1="0" y2="1"><stop offset="0" stop-color="#b07890"/><stop offset="0.35" stop-color="#ecd0dc"/><stop offset="0.6" stop-color="#f6ecf0"/><stop offset="1" stop-color="#6a3a68"/></linearGradient><linearGradient id="cell1" x1="0" x2="1" y1="0" y2="0"><stop offset="0" stop-color="#7a3a4a"/><stop offset="0.4" stop-color="#3e1424"/><stop offset="1" stop-color="#30101e"/></linearGradient></defs>
<rect x="412.00" y="12.90" width="106.20" height="93.60" fill="#2a0a16"/>
<rect x="489.5" y="19.8" width="1.1" height="1.1" fill="#904040" fill-opacity="0.42"/><rect x="504.4" y="13.5" width="1.2" height="1.2" fill="#b86050" fill-opacity="0.62"/><rect x="480.1" y="15.6" width="0.8" height="0.8" fill="#904040" fill-opacity="0.48"/><rect x="482.3" y="17.4" width="1.3" height="1.3" fill="#b86050" fill-opacity="0.62"/><rect x="489.3" y="20.4" width="0.8" height="0.8" fill="#904040" fill-opacity="0.55"/><rect x="454.6" y="13.7" width="1.0" height="1.0" fill="#b86050" fill-opacity="0.49"/><rect x="507.0" y="17.9" width="1.0" height="1.0" fill="#b86050" fill-opacity="0.40"/><rect x="452.7" y="14.8" width="1.1" height="1.1" fill="#d89070" fill-opacity="0.38"/><rect x="474.2" y="13.5" width="1.2" height="1.2" fill="#d89070" fill-opacity="0.41"/><rect x="504.8" y="17.1" width="1.2" height="1.2" fill="#b86050" fill-opacity="0.56"/><rect x="496.5" y="14.1" width="1.0" height="1.0" fill="#904040" fill-opacity="0.65"/><rect x="473.7" y="17.7" width="0.6" height="0.6" fill="#d89070" fill-opacity="0.46"/><rect x="471.4" y="14.6" width="1.2" height="1.2" fill="#d89070" fill-opacity="0.69"/><rect x="487.4" y="17.7" width="1.0" height="1.0" fill="#d89070" fill-opacity="0.57"/><rect x="461.0" y="16.6" width="0.8" height="0.8" fill="#b86050" fill-opacity="0.34"/><rect x="510.1" y="15.0" width="1.1" height="1.1" fill="#d89070" fill-opacity="0.42"/><rect x="504.4" y="18.1" width="0.7" height="0.7" fill="#904040" fill-opacity="0.68"/><rect x="506.2" y="17.5" width="0.7" height="0.7" fill="#904040" fill-opacity="0.38"/><rect x="507.7" y="17.4" width="0.7" height="0.7" fill="#d89070" fill-opacity="0.56"/><rect x="486.2" y="16.1" width="0.9" height="0.9" fill="#904040" fill-opacity="0.40"/><rect x="454.3" y="19.6" width="0.9" height="0.9" fill="#904040" fill-opacity="0.43"/><rect x="497.1" y="13.7" width="0.9" height="0.9" fill="#d89070" fill-opacity="0.31"/><rect x="459.4" y="20.3" width="1.1" height="1.1" fill="#904040" fill-opacity="0.51"/><rect x="504.4" y="15.9" width="1.0" height="1.0" fill="#d89070" fill-opacity="0.57"/><rect x="473.3" y="17.1" width="1.1" height="1.1" fill="#904040" fill-opacity="0.36"/><rect x="508.0" y="13.5" width="1.1" height="1.1" fill="#904040" fill-opacity="0.62"/><rect x="460.2" y="16.4" width="1.2" height="1.2" fill="#904040" fill-opacity="0.55"/><rect x="499.6" y="17.1" width="1.1" height="1.1" fill="#b86050" fill-opacity="0.39"/><rect x="463.9" y="16.0" width="0.7" height="0.7" fill="#d89070" fill-opacity="0.68"/><rect x="486.4" y="15.9" width="0.8" height="0.8" fill="#d89070" fill-opacity="0.68"/><rect x="478.7" y="20.4" width="1.0" height="1.0" fill="#904040" fill-opacity="0.66"/><rect x="496.6" y="17.6" width="0.9" height="0.9" fill="#d89070" fill-opacity="0.65"/><rect x="476.7" y="20.0" width="0.6" height="0.6" fill="#b86050" fill-opacity="0.51"/><rect x="509.1" y="15.3" width="1.2" height="1.2" fill="#d89070" fill-opacity="0.57"/><rect x="495.0" y="17.9" width="1.3" height="1.3" fill="#b86050" fill-opacity="0.46"/><rect x="464.2" y="13.9" width="0.7" height="0.7" fill="#b86050" fill-opacity="0.67"/><rect x="502.4" y="14.3" width="1.0" height="1.0" fill="#904040" fill-opacity="0.54"/><rect x="491.6" y="15.6" width="1.3" height="1.3" fill="#d89070" fill-opacity="0.49"/><rect x="489.7" y="17.9" width="0.7" height="0.7" fill="#904040" fill-opacity="0.46"/><rect x="497.8" y="19.2" width="1.1" height="1.1" fill="#b86050" fill-opacity="0.35"/><rect x="506.8" y="19.1" width="1.2" height="1.2" fill="#904040" fill-opacity="0.67"/><rect x="454.8" y="13.7" width="0.6" height="0.6" fill="#d89070" fill-opacity="0.40"/><rect x="466.9" y="14.8" width="1.0" height="1.0" fill="#b86050" fill-opacity="0.54"/><rect x="462.0" y="18.2" width="0.6" height="0.6" fill="#b86050" fill-opacity="0.42"/><rect x="508.3" y="17.3" width="1.2" height="1.2" fill="#d89070" fill-opacity="0.54"/><rect x="463.5" y="17.5" width="0.6" height="0.6" fill="#d89070" fill-opacity="0.62"/><rect x="509.6" y="19.5" width="0.6" height="0.6" fill="#d89070" fill-opacity="0.43"/><rect x="458.8" y="17.9" width="1.2" height="1.2" fill="#d89070" fill-opacity="0.43"/><rect x="503.8" y="19.1" width="0.7" height="0.7" fill="#904040" fill-opacity="0.65"/><rect x="463.8" y="17.5" width="1.0" height="1.0" fill="#904040" fill-opacity="0.54"/><rect x="457.8" y="18.1" width="1.0" height="1.0" fill="#904040" fill-opacity="0.62"/><rect x="471.6" y="18.6" width="1.2" height="1.2" fill="#904040" fill-opacity="0.66"/><rect x="461.7" y="13.7" width="1.1" height="1.1" fill="#d89070" fill-opacity="0.53"/><rect x="508.7" y="16.2" width="0.8" height="0.8" fill="#b86050" fill-opacity="0.48"/><rect x="491.4" y="14.2" width="0.9" height="0.9" fill="#904040" fill-opacity="0.56"/><rect x="501.8" y="16.1" width="0.9" height="0.9" fill="#b86050" fill-opacity="0.52"/><rect x="464.9" y="15.2" width="0.8" height="0.8" fill="#904040" fill-opacity="0.33"/><rect x="497.2" y="17.6" width="0.8" height="0.8" fill="#d89070" fill-opacity="0.33"/><rect x="497.8" y="14.4" width="0.7" height="0.7" fill="#904040" fill-opacity="0.33"/><rect x="506.4" y="15.4" width="0.8" height="0.8" fill="#b86050" fill-opacity="0.63"/><rect x="489.2" y="14.8" width="0.9" height="0.9" fill="#b86050" fill-opacity="0.45"/><rect x="494.7" y="14.2" width="1.1" height="1.1" fill="#904040" fill-opacity="0.61"/><rect x="501.5" y="18.2" width="0.9" height="0.9" fill="#904040" fill-opacity="0.51"/><rect x="497.4" y="14.8" width="0.8" height="0.8" fill="#b86050" fill-opacity="0.51"/><rect x="496.9" y="19.8" width="0.7" height="0.7" fill="#904040" fill-opacity="0.62"/><rect x="490.7" y="18.5" width="1.3" height="1.3" fill="#b86050" fill-opacity="0.68"/><rect x="502.6" y="18.9" width="0.9" height="0.9" fill="#b86050" fill-opacity="0.37"/><rect x="497.6" y="18.8" width="1.1" height="1.1" fill="#d89070" fill-opacity="0.48"/><rect x="474.7" y="16.4" width="0.6" height="0.6" fill="#d89070" fill-opacity="0.52"/><rect x="475.3" y="17.3" width="1.1" height="1.1" fill="#904040" fill-opacity="0.45"/><rect x="501.8" y="19.9" width="0.9" height="0.9" fill="#904040" fill-opacity="0.60"/><rect x="511.6" y="14.5" width="1.1" height="1.1" fill="#b86050" fill-opacity="0.63"/><rect x="507.2" y="14.4" width="0.7" height="0.7" fill="#904040" fill-opacity="0.35"/><rect x="462.6" y="17.5" width="0.9" height="0.9" fill="#904040" fill-opacity="0.60"/><rect x="463.4" y="19.9" width="0.8" height="0.8" fill="#904040" fill-opacity="0.33"/><rect x="480.4" y="13.7" width="0.8" height="0.8" fill="#904040" fill-opacity="0.42"/><rect x="495.2" y="16.7" width="0.6" height="0.6" fill="#904040" fill-opacity="0.66"/><rect x="507.0" y="15.2" width="0.9" height="0.9" fill="#904040" fill-opacity="0.39"/><rect x="459.5" y="13.7" width="1.0" height="1.0" fill="#904040" fill-opacity="0.37"/><rect x="503.6" y="16.9" width="0.7" height="0.7" fill="#b86050" fill-opacity="0.57"/><rect x="468.0" y="17.2" width="0.8" height="0.8" fill="#904040" fill-opacity="0.55"/><rect x="484.2" y="16.3" width="1.2" height="1.2" fill="#d89070" fill-opacity="0.65"/><rect x="462.8" y="14.5" width="0.7" height="0.7" fill="#d89070" fill-opacity="0.68"/><rect x="465.8" y="20.3" width="0.7" height="0.7" fill="#904040" fill-opacity="0.50"/><rect x="481.8" y="19.9" width="0.6" height="0.6" fill="#904040" fill-opacity="0.54"/><rect x="456.0" y="15.2" width="0.9" height="0.9" fill="#b86050" fill-opacity="0.65"/><rect x="497.7" y="19.3" width="1.1" height="1.1" fill="#904040" fill-opacity="0.64"/><rect x="492.9" y="18.6" width="0.8" height="0.8" fill="#904040" fill-opacity="0.37"/><rect x="497.4" y="14.7" width="1.2" height="1.2" fill="#904040" fill-opacity="0.43"/><rect x="508.2" y="14.6" width="1.0" height="1.0" fill="#d89070" fill-opacity="0.34"/><rect x="509.9" y="17.5" width="1.2" height="1.2" fill="#b86050" fill-opacity="0.62"/><rect x="494.2" y="18.0" width="1.3" height="1.3" fill="#b86050" fill-opacity="0.47"/><rect x="476.9" y="18.3" width="1.2" height="1.2" fill="#904040" fill-opacity="0.57"/><rect x="464.5" y="17.4" width="1.1" height="1.1" fill="#d89070" fill-opacity="0.33"/><rect x="495.7" y="13.6" width="1.3" height="1.3" fill="#904040" fill-opacity="0.46"/><rect x="495.2" y="17.2" width="1.1" height="1.1" fill="#d89070" fill-opacity="0.33"/><rect x="485.8" y="17.4" width="1.3" height="1.3" fill="#d89070" fill-opacity="0.48"/><rect x="489.9" y="17.4" width="0.7" height="0.7" fill="#b86050" fill-opacity="0.54"/><rect x="465.3" y="14.9" width="1.2" height="1.2" fill="#d89070" fill-opacity="0.48"/><rect x="497.0" y="18.5" width="1.0" height="1.0" fill="#b86050" fill-opacity="0.62"/><rect x="479.9" y="17.8" width="1.2" height="1.2" fill="#d89070" fill-opacity="0.56"/><rect x="476.4" y="17.4" width="0.9" height="0.9" fill="#904040" fill-opacity="0.60"/><rect x="474.8" y="16.8" width="1.1" height="1.1" fill="#904040" fill-opacity="0.44"/><rect x="501.6" y="16.2" width="1.2" height="1.2" fill="#d89070" fill-opacity="0.61"/><rect x="478.8" y="18.5" width="0.6" height="0.6" fill="#904040" fill-opacity="0.64"/><rect x="486.8" y="17.4" width="1.1" height="1.1" fill="#d89070" fill-opacity="0.57"/><rect x="487.0" y="16.4" width="0.7" height="0.7" fill="#d89070" fill-opacity="0.42"/><rect x="477.8" y="20.5" width="0.8" height="0.8" fill="#b86050" fill-opacity="0.48"/><rect x="474.3" y="17.6" width="1.3" height="1.3" fill="#b86050" fill-opacity="0.45"/><rect x="468.0" y="19.7" width="0.9" height="0.9" fill="#904040" fill-opacity="0.57"/><rect x="456.4" y="19.6" width="0.8" height="0.8" fill="#d89070" fill-opacity="0.38"/><rect x="477.2" y="19.3" width="1.2" height="1.2" fill="#d89070" fill-opacity="0.49"/><rect x="498.1" y="16.7" width="0.9" height="0.9" fill="#d89070" fill-opacity="0.38"/><rect x="471.0" y="18.4" width="1.1" height="1.1" fill="#d89070" fill-opacity="0.32"/><rect x="496.0" y="19.2" width="0.9" height="0.9" fill="#b86050" fill-opacity="0.57"/><rect x="466.8" y="18.0" width="0.9" height="0.9" fill="#b86050" fill-opacity="0.55"/><rect x="467.5" y="16.8" width="1.0" height="1.0" fill="#904040" fill-opacity="0.38"/><rect x="509.7" y="15.5" width="0.8" height="0.8" fill="#d89070" fill-opacity="0.40"/><rect x="456.0" y="16.5" width="1.1" height="1.1" fill="#d89070" fill-opacity="0.38"/><rect x="460.2" y="15.7" width="1.1" height="1.1" fill="#904040" fill-opacity="0.50"/><rect x="507.4" y="18.1" width="1.0" height="1.0" fill="#904040" fill-opacity="0.60"/><rect x="472.6" y="15.3" width="0.9" height="0.9" fill="#904040" fill-opacity="0.50"/><rect x="460.5" y="16.6" width="1.0" height="1.0" fill="#d89070" fill-opacity="0.36"/><rect x="462.4" y="15.5" width="1.3" height="1.3" fill="#b86050" fill-opacity="0.31"/><rect x="463.0" y="14.7" width="0.9" height="0.9" fill="#904040" fill-opacity="0.48"/><rect x="461.8" y="15.4" width="1.2" height="1.2" fill="#b86050" fill-opacity="0.37"/><rect x="489.0" y="16.3" width="0.9" height="0.9" fill="#d89070" fill-opacity="0.36"/><rect x="507.4" y="19.8" width="1.1" height="1.1" fill="#904040" fill-opacity="0.32"/><rect x="491.8" y="17.7" width="1.1" height="1.1" fill="#904040" fill-opacity="0.68"/><rect x="505.2" y="14.3" width="0.8" height="0.8" fill="#b86050" fill-opacity="0.31"/><rect x="501.9" y="19.9" width="1.3" height="1.3" fill="#d89070" fill-opacity="0.57"/><rect x="492.7" y="17.5" width="1.3" height="1.3" fill="#d89070" fill-opacity="0.54"/><rect x="472.1" y="17.1" width="0.6" height="0.6" fill="#d89070" fill-opacity="0.58"/><rect x="477.3" y="19.5" width="1.1" height="1.1" fill="#904040" fill-opacity="0.43"/><rect x="456.6" y="14.4" width="0.7" height="0.7" fill="#b86050" fill-opacity="0.48"/><rect x="507.7" y="15.4" width="1.2" height="1.2" fill="#b86050" fill-opacity="0.57"/><rect x="503.2" y="16.3" width="0.6" height="0.6" fill="#b86050" fill-opacity="0.40"/><rect x="460.5" y="19.1" width="1.1" height="1.1" fill="#904040" fill-opacity="0.38"/><rect x="468.1" y="20.1" width="0.8" height="0.8" fill="#904040" fill-opacity="0.35"/><rect x="500.9" y="14.3" width="1.0" height="1.0" fill="#904040" fill-opacity="0.31"/><rect x="485.0" y="19.4" width="0.7" height="0.7" fill="#b86050" fill-opacity="0.61"/><rect x="488.5" y="15.7" width="1.0" height="1.0" fill="#b86050" fill-opacity="0.48"/><rect x="503.7" y="15.6" width="1.1" height="1.1" fill="#904040" fill-opacity="0.60"/><rect x="474.7" y="18.6" width="1.1" height="1.1" fill="#d89070" fill-opacity="0.45"/><rect x="453.6" y="20.2" width="1.1" height="1.1" fill="#b86050" fill-opacity="0.59"/><rect x="468.7" y="16.8" width="1.2" height="1.2" fill="#b86050" fill-opacity="0.48"/><rect x="469.3" y="15.6" width="0.7" height="0.7" fill="#904040" fill-opacity="0.41"/><rect x="462.4" y="13.9" width="0.9" height="0.9" fill="#b86050" fill-opacity="0.39"/><rect x="496.3" y="20.0" width="0.8" height="0.8" fill="#b86050" fill-opacity="0.50"/><rect x="456.5" y="14.4" width="1.2" height="1.2" fill="#d89070" fill-opacity="0.49"/>
<rect x="415.50" y="25.60" width="31.50" height="34.20" fill="url(#cell1)"/>
<rect x="450.00" y="25.60" width="32.50" height="34.20" fill="#38101e"/>
<rect x="485.00" y="25.60" width="30.00" height="34.20" fill="#2a0a1e"/>
<rect x="442.8" y="55.0" width="0.9" height="0.9" fill="#d08898" fill-opacity="0.68"/><rect x="418.3" y="34.9" width="0.8" height="0.8" fill="#e8b0b0" fill-opacity="0.53"/><rect x="428.2" y="31.1" width="0.9" height="0.9" fill="#d08898" fill-opacity="0.59"/><rect x="417.4" y="37.1" width="0.8" height="0.8" fill="#d89898" fill-opacity="0.76"/><rect x="418.2" y="31.7" width="0.9" height="0.9" fill="#a05868" fill-opacity="0.52"/><rect x="425.6" y="52.2" width="1.1" height="1.1" fill="#a05868" fill-opacity="0.38"/><rect x="421.1" y="30.7" width="0.5" height="0.5" fill="#d89898" fill-opacity="0.37"/><rect x="424.7" y="27.1" width="1.0" height="1.0" fill="#d08898" fill-opacity="0.43"/><rect x="420.5" y="49.9" width="0.6" height="0.6" fill="#e8b0b0" fill-opacity="0.65"/><rect x="420.0" y="56.3" width="0.6" height="0.6" fill="#d89898" fill-opacity="0.47"/><rect x="423.1" y="33.8" width="0.7" height="0.7" fill="#a05868" fill-opacity="0.49"/><rect x="426.0" y="47.3" width="0.6" height="0.6" fill="#d89898" fill-opacity="0.65"/><rect x="417.1" y="39.5" width="0.7" height="0.7" fill="#a05868" fill-opacity="0.60"/><rect x="418.5" y="58.5" width="0.7" height="0.7" fill="#e8b0b0" fill-opacity="0.40"/><rect x="426.4" y="37.0" width="0.5" height="0.5" fill="#a05868" fill-opacity="0.34"/><rect x="422.3" y="37.2" width="0.5" height="0.5" fill="#a05868" fill-opacity="0.76"/><rect x="416.3" y="34.2" width="1.1" height="1.1" fill="#d08898" fill-opacity="0.35"/><rect x="425.9" y="26.9" width="0.5" height="0.5" fill="#a05868" fill-opacity="0.36"/><rect x="418.7" y="52.7" width="0.9" height="0.9" fill="#a05868" fill-opacity="0.35"/><rect x="416.5" y="55.8" width="0.6" height="0.6" fill="#a05868" fill-opacity="0.65"/><rect x="416.3" y="40.8" width="1.0" height="1.0" fill="#a05868" fill-opacity="0.73"/><rect x="417.4" y="59.2" width="0.5" height="0.5" fill="#a05868" fill-opacity="0.56"/><rect x="416.6" y="44.1" width="0.9" height="0.9" fill="#d89898" fill-opacity="0.63"/><rect x="425.0" y="52.9" width="1.0" height="1.0" fill="#e8b0b0" fill-opacity="0.47"/><rect x="426.9" y="28.3" width="0.9" height="0.9" fill="#d08898" fill-opacity="0.63"/><rect x="420.4" y="26.4" width="0.6" height="0.6" fill="#d08898" fill-opacity="0.39"/><rect x="422.4" y="48.3" width="0.8" height="0.8" fill="#d89898" fill-opacity="0.75"/><rect x="423.6" y="50.1" width="1.1" height="1.1" fill="#e8b0b0" fill-opacity="0.50"/><rect x="416.5" y="31.4" width="0.6" height="0.6" fill="#a05868" fill-opacity="0.60"/><rect x="419.5" y="44.9" width="1.0" height="1.0" fill="#e8b0b0" fill-opacity="0.43"/><rect x="428.9" y="52.1" width="0.9" height="0.9" fill="#a05868" fill-opacity="0.56"/><rect x="424.8" y="56.8" width="1.0" height="1.0" fill="#a05868" fill-opacity="0.50"/><rect x="445.0" y="57.8" width="1.2" height="1.2" fill="#e8b0b0" fill-opacity="0.34"/><rect x="421.7" y="38.3" width="0.9" height="0.9" fill="#a05868" fill-opacity="0.71"/><rect x="416.2" y="38.5" width="0.6" height="0.6" fill="#e8b0b0" fill-opacity="0.63"/><rect x="425.1" y="52.1" width="1.1" height="1.1" fill="#d89898" fill-opacity="0.34"/><rect x="419.7" y="51.1" width="0.6" height="0.6" fill="#d89898" fill-opacity="0.45"/><rect x="430.3" y="51.8" width="1.1" height="1.1" fill="#a05868" fill-opacity="0.59"/><rect x="417.8" y="50.0" width="0.7" height="0.7" fill="#d89898" fill-opacity="0.60"/><rect x="435.5" y="57.2" width="0.6" height="0.6" fill="#e8b0b0" fill-opacity="0.48"/><rect x="421.0" y="42.0" width="1.2" height="1.2" fill="#d89898" fill-opacity="0.56"/><rect x="418.6" y="32.9" width="1.0" height="1.0" fill="#d08898" fill-opacity="0.45"/><rect x="423.9" y="26.0" width="1.2" height="1.2" fill="#e8b0b0" fill-opacity="0.33"/><rect x="427.3" y="37.0" width="1.1" height="1.1" fill="#d89898" fill-opacity="0.39"/><rect x="416.3" y="55.8" width="1.0" height="1.0" fill="#a05868" fill-opacity="0.32"/><rect x="418.8" y="42.7" width="0.9" height="0.9" fill="#a05868" fill-opacity="0.67"/><rect x="423.3" y="56.1" width="0.9" height="0.9" fill="#a05868" fill-opacity="0.77"/><rect x="421.3" y="39.7" width="1.0" height="1.0" fill="#d08898" fill-opacity="0.77"/><rect x="437.9" y="58.6" width="1.0" height="1.0" fill="#d08898" fill-opacity="0.53"/><rect x="420.6" y="40.7" width="1.1" height="1.1" fill="#d08898" fill-opacity="0.72"/><rect x="426.0" y="48.0" width="1.0" height="1.0" fill="#d89898" fill-opacity="0.61"/><rect x="418.7" y="44.2" width="1.1" height="1.1" fill="#a05868" fill-opacity="0.74"/><rect x="417.8" y="51.9" width="1.0" height="1.0" fill="#e8b0b0" fill-opacity="0.46"/><rect x="430.2" y="44.9" width="0.8" height="0.8" fill="#e8b0b0" fill-opacity="0.41"/><rect x="419.8" y="38.1" width="0.6" height="0.6" fill="#d08898" fill-opacity="0.44"/><rect x="421.9" y="29.0" width="0.7" height="0.7" fill="#e8b0b0" fill-opacity="0.70"/><rect x="420.8" y="42.5" width="0.8" height="0.8" fill="#e8b0b0" fill-opacity="0.64"/><rect x="422.0" y="36.3" width="1.2" height="1.2" fill="#d89898" fill-opacity="0.47"/><rect x="423.1" y="57.5" width="1.2" height="1.2" fill="#d89898" fill-opacity="0.62"/><rect x="429.3" y="32.6" width="0.6" height="0.6" fill="#d89898" fill-opacity="0.47"/><rect x="433.2" y="31.3" width="1.2" height="1.2" fill="#d89898" fill-opacity="0.39"/><rect x="419.2" y="47.8" width="0.5" height="0.5" fill="#e8b0b0" fill-opacity="0.66"/><rect x="424.0" y="52.1" width="0.9" height="0.9" fill="#d08898" fill-opacity="0.64"/><rect x="418.3" y="35.3" width="1.0" height="1.0" fill="#e8b0b0" fill-opacity="0.62"/><rect x="446.8" y="48.9" width="0.7" height="0.7" fill="#d08898" fill-opacity="0.76"/><rect x="421.9" y="26.1" width="1.1" height="1.1" fill="#d89898" fill-opacity="0.61"/><rect x="418.5" y="33.9" width="0.6" height="0.6" fill="#a05868" fill-opacity="0.51"/><rect x="416.7" y="29.5" width="0.9" height="0.9" fill="#d08898" fill-opacity="0.52"/><rect x="424.3" y="44.2" width="1.1" height="1.1" fill="#e8b0b0" fill-opacity="0.46"/><rect x="416.8" y="55.7" width="1.0" height="1.0" fill="#d89898" fill-opacity="0.73"/><rect x="416.1" y="53.9" width="0.6" height="0.6" fill="#e8b0b0" fill-opacity="0.46"/><rect x="422.7" y="38.7" width="0.5" height="0.5" fill="#e8b0b0" fill-opacity="0.50"/><rect x="419.7" y="39.3" width="1.0" height="1.0" fill="#e8b0b0" fill-opacity="0.69"/><rect x="417.1" y="32.5" width="0.8" height="0.8" fill="#a05868" fill-opacity="0.39"/><rect x="418.1" y="57.7" width="0.7" height="0.7" fill="#e8b0b0" fill-opacity="0.56"/><rect x="417.2" y="41.1" width="0.5" height="0.5" fill="#e8b0b0" fill-opacity="0.79"/><rect x="425.1" y="44.0" width="0.5" height="0.5" fill="#d89898" fill-opacity="0.77"/><rect x="421.8" y="40.0" width="0.6" height="0.6" fill="#d89898" fill-opacity="0.63"/><rect x="416.5" y="33.7" width="1.0" height="1.0" fill="#e8b0b0" fill-opacity="0.52"/><rect x="425.0" y="59.3" width="0.5" height="0.5" fill="#e8b0b0" fill-opacity="0.51"/><rect x="422.1" y="49.6" width="1.1" height="1.1" fill="#a05868" fill-opacity="0.67"/><rect x="421.0" y="35.9" width="0.7" height="0.7" fill="#d08898" fill-opacity="0.69"/><rect x="419.5" y="32.9" width="0.7" height="0.7" fill="#e8b0b0" fill-opacity="0.49"/><rect x="418.1" y="32.9" width="0.9" height="0.9" fill="#d08898" fill-opacity="0.44"/><rect x="418.8" y="55.8" width="0.8" height="0.8" fill="#a05868" fill-opacity="0.77"/><rect x="417.0" y="41.1" width="1.2" height="1.2" fill="#d89898" fill-opacity="0.30"/><rect x="426.1" y="32.8" width="0.8" height="0.8" fill="#e8b0b0" fill-opacity="0.75"/><rect x="418.7" y="55.1" width="0.7" height="0.7" fill="#d08898" fill-opacity="0.58"/><rect x="425.6" y="56.8" width="0.6" height="0.6" fill="#a05868" fill-opacity="0.47"/><rect x="425.2" y="53.1" width="1.0" height="1.0" fill="#d08898" fill-opacity="0.70"/><rect x="422.6" y="28.8" width="1.0" height="1.0" fill="#d08898" fill-opacity="0.31"/><rect x="417.2" y="57.6" width="0.6" height="0.6" fill="#d89898" fill-opacity="0.71"/><rect x="428.7" y="37.2" width="0.7" height="0.7" fill="#e8b0b0" fill-opacity="0.35"/><rect x="417.1" y="35.8" width="1.1" height="1.1" fill="#e8b0b0" fill-opacity="0.44"/><rect x="427.4" y="40.9" width="0.8" height="0.8" fill="#e8b0b0" fill-opacity="0.38"/><rect x="416.7" y="36.0" width="1.0" height="1.0" fill="#d08898" fill-opacity="0.69"/><rect x="419.8" y="28.2" width="0.8" height="0.8" fill="#e8b0b0" fill-opacity="0.66"/><rect x="427.1" y="28.5" width="0.8" height="0.8" fill="#d89898" fill-opacity="0.43"/><rect x="439.7" y="30.1" width="1.2" height="1.2" fill="#e8b0b0" fill-opacity="0.55"/><rect x="422.5" y="33.0" width="1.1" height="1.1" fill="#e8b0b0" fill-opacity="0.32"/><rect x="427.2" y="33.8" width="0.7" height="0.7" fill="#d08898" fill-opacity="0.30"/><rect x="440.4" y="48.4" width="0.5" height="0.5" fill="#d89898" fill-opacity="0.67"/><rect x="422.5" y="40.3" width="1.0" height="1.0" fill="#d08898" fill-opacity="0.39"/><rect x="429.9" y="29.8" width="1.0" height="1.0" fill="#d08898" fill-opacity="0.67"/><rect x="427.5" y="39.1" width="0.9" height="0.9" fill="#e8b0b0" fill-opacity="0.77"/><rect x="416.7" y="54.3" width="0.5" height="0.5" fill="#a05868" fill-opacity="0.67"/><rect x="418.0" y="30.1" width="1.0" height="1.0" fill="#e8b0b0" fill-opacity="0.59"/><rect x="436.5" y="33.2" width="0.6" height="0.6" fill="#d89898" fill-opacity="0.39"/><rect x="424.1" y="51.2" width="0.8" height="0.8" fill="#d89898" fill-opacity="0.66"/><rect x="419.0" y="28.9" width="1.0" height="1.0" fill="#d89898" fill-opacity="0.75"/><rect x="421.0" y="51.9" width="0.6" height="0.6" fill="#a05868" fill-opacity="0.59"/><rect x="424.7" y="34.1" width="0.7" height="0.7" fill="#d08898" fill-opacity="0.69"/><rect x="416.7" y="42.2" width="0.5" height="0.5" fill="#e8b0b0" fill-opacity="0.75"/><rect x="426.9" y="34.3" width="0.5" height="0.5" fill="#e8b0b0" fill-opacity="0.43"/><rect x="419.3" y="43.8" width="0.6" height="0.6" fill="#e8b0b0" fill-opacity="0.33"/><rect x="416.7" y="48.3" width="1.0" height="1.0" fill="#d89898" fill-opacity="0.66"/><rect x="418.2" y="28.8" width="0.9" height="0.9" fill="#d89898" fill-opacity="0.30"/><rect x="426.6" y="53.1" width="0.8" height="0.8" fill="#e8b0b0" fill-opacity="0.35"/><rect x="425.2" y="59.0" width="1.0" height="1.0" fill="#e8b0b0" fill-opacity="0.51"/><rect x="419.2" y="50.8" width="0.8" height="0.8" fill="#e8b0b0" fill-opacity="0.46"/><rect x="423.3" y="57.3" width="1.0" height="1.0" fill="#a05868" fill-opacity="0.71"/><rect x="424.2" y="28.6" width="0.6" height="0.6" fill="#a05868" fill-opacity="0.31"/><rect x="420.2" y="51.5" width="0.6" height="0.6" fill="#a05868" fill-opacity="0.78"/><rect x="425.3" y="47.8" width="0.9" height="0.9" fill="#d89898" fill-opacity="0.33"/><rect x="416.4" y="50.0" width="1.0" height="1.0" fill="#d08898" fill-opacity="0.72"/><rect x="424.3" y="39.0" width="0.6" height="0.6" fill="#d89898" fill-opacity="0.74"/><rect x="416.8" y="32.1" width="0.7" height="0.7" fill="#a05868" fill-opacity="0.78"/><rect x="418.2" y="49.7" width="1.0" height="1.0" fill="#e8b0b0" fill-opacity="0.45"/><rect x="420.0" y="26.7" width="1.1" height="1.1" fill="#a05868" fill-opacity="0.64"/><rect x="425.2" y="47.9" width="0.8" height="0.8" fill="#d89898" fill-opacity="0.53"/><rect x="422.9" y="35.0" width="0.7" height="0.7" fill="#e8b0b0" fill-opacity="0.35"/><rect x="417.1" y="56.7" width="0.7" height="0.7" fill="#a05868" fill-opacity="0.32"/><rect x="422.0" y="46.3" width="1.1" height="1.1" fill="#d08898" fill-opacity="0.66"/><rect x="427.0" y="42.4" width="0.8" height="0.8" fill="#a05868" fill-opacity="0.55"/><rect x="417.0" y="39.2" width="0.9" height="0.9" fill="#d08898" fill-opacity="0.61"/><rect x="435.6" y="51.3" width="0.6" height="0.6" fill="#d89898" fill-opacity="0.66"/><rect x="417.8" y="55.9" width="0.9" height="0.9" fill="#d08898" fill-opacity="0.65"/><rect x="432.7" y="34.7" width="0.6" height="0.6" fill="#e8b0b0" fill-opacity="0.72"/><rect x="422.6" y="28.5" width="0.9" height="0.9" fill="#d08898" fill-opacity="0.74"/><rect x="423.1" y="46.8" width="1.1" height="1.1" fill="#a05868" fill-opacity="0.40"/><rect x="421.5" y="46.4" width="0.9" height="0.9" fill="#a05868" fill-opacity="0.58"/><rect x="419.3" y="35.1" width="0.8" height="0.8" fill="#e8b0b0" fill-opacity="0.51"/><rect x="428.5" y="32.4" width="0.5" height="0.5" fill="#d08898" fill-opacity="0.46"/><rect x="417.9" y="56.0" width="0.9" height="0.9" fill="#a05868" fill-opacity="0.77"/><rect x="422.8" y="58.4" width="0.7" height="0.7" fill="#d89898" fill-opacity="0.56"/><rect x="430.5" y="55.7" width="0.5" height="0.5" fill="#d08898" fill-opacity="0.38"/><rect x="435.0" y="47.5" width="0.7" height="0.7" fill="#e8b0b0" fill-opacity="0.47"/><rect x="416.1" y="33.3" width="0.8" height="0.8" fill="#d89898" fill-opacity="0.52"/><rect x="433.0" y="41.9" width="0.7" height="0.7" fill="#a05868" fill-opacity="0.31"/><rect x="417.2" y="55.5" width="0.6" height="0.6" fill="#d89898" fill-opacity="0.60"/><rect x="428.6" y="34.9" width="1.2" height="1.2" fill="#e8b0b0" fill-opacity="0.37"/><rect x="419.8" y="43.4" width="0.6" height="0.6" fill="#e8b0b0" fill-opacity="0.36"/><rect x="418.4" y="29.7" width="1.0" height="1.0" fill="#a05868" fill-opacity="0.66"/><rect x="418.5" y="33.1" width="0.6" height="0.6" fill="#a05868" fill-opacity="0.57"/><rect x="430.7" y="46.3" width="1.1" height="1.1" fill="#d08898" fill-opacity="0.77"/><rect x="426.5" y="35.3" width="0.8" height="0.8" fill="#a05868" fill-opacity="0.38"/><rect x="418.3" y="48.8" width="0.6" height="0.6" fill="#a05868" fill-opacity="0.64"/><rect x="416.6" y="55.0" width="0.7" height="0.7" fill="#d08898" fill-opacity="0.40"/><rect x="419.2" y="51.4" width="0.7" height="0.7" fill="#d08898" fill-opacity="0.54"/><rect x="417.8" y="28.3" width="0.9" height="0.9" fill="#d89898" fill-opacity="0.71"/><rect x="419.1" y="26.7" width="0.8" height="0.8" fill="#e8b0b0" fill-opacity="0.71"/><rect x="416.1" y="31.0" width="1.2" height="1.2" fill="#e8b0b0" fill-opacity="0.34"/><rect x="424.3" y="35.1" width="0.6" height="0.6" fill="#e8b0b0" fill-opacity="0.52"/><rect x="429.8" y="47.1" width="0.9" height="0.9" fill="#a05868" fill-opacity="0.35"/><rect x="417.7" y="32.8" width="0.5" height="0.5" fill="#d89898" fill-opacity="0.42"/><rect x="422.7" y="46.5" width="0.7" height="0.7" fill="#e8b0b0" fill-opacity="0.61"/><rect x="425.5" y="55.4" width="0.7" height="0.7" fill="#d08898" fill-opacity="0.65"/><rect x="425.1" y="52.4" width="0.8" height="0.8" fill="#d08898" fill-opacity="0.55"/><rect x="417.6" y="40.4" width="1.2" height="1.2" fill="#d08898" fill-opacity="0.50"/><rect x="427.3" y="51.7" width="1.1" height="1.1" fill="#a05868" fill-opacity="0.64"/><rect x="420.4" y="40.0" width="0.6" height="0.6" fill="#e8b0b0" fill-opacity="0.71"/><rect x="418.0" y="38.4" width="0.9" height="0.9" fill="#e8b0b0" fill-opacity="0.38"/><rect x="441.6" y="26.2" width="0.9" height="0.9" fill="#a05868" fill-opacity="0.50"/><rect x="418.1" y="49.9" width="1.1" height="1.1" fill="#e8b0b0" fill-opacity="0.32"/><rect x="442.8" y="55.9" width="0.8" height="0.8" fill="#d08898" fill-opacity="0.56"/><rect x="418.8" y="55.7" width="1.0" height="1.0" fill="#d08898" fill-opacity="0.63"/><rect x="417.2" y="34.5" width="0.9" height="0.9" fill="#e8b0b0" fill-opacity="0.36"/><rect x="431.2" y="36.3" width="0.9" height="0.9" fill="#e8b0b0" fill-opacity="0.61"/><rect x="416.3" y="35.1" width="1.2" height="1.2" fill="#a05868" fill-opacity="0.44"/><rect x="421.1" y="42.4" width="1.1" height="1.1" fill="#a05868" fill-opacity="0.58"/><rect x="425.6" y="26.7" width="1.2" height="1.2" fill="#d08898" fill-opacity="0.33"/><rect x="419.0" y="55.9" width="1.0" height="1.0" fill="#d08898" fill-opacity="0.65"/><rect x="432.8" y="36.3" width="0.9" height="0.9" fill="#d89898" fill-opacity="0.44"/><rect x="426.8" y="46.5" width="1.2" height="1.2" fill="#e8b0b0" fill-opacity="0.70"/><rect x="431.6" y="56.7" width="0.7" height="0.7" fill="#d89898" fill-opacity="0.55"/><rect x="434.7" y="27.5" width="0.8" height="0.8" fill="#d89898" fill-opacity="0.31"/><rect x="418.6" y="47.5" width="0.6" height="0.6" fill="#e8b0b0" fill-opacity="0.48"/><rect x="424.0" y="55.3" width="0.8" height="0.8" fill="#d89898" fill-opacity="0.67"/><rect x="422.4" y="34.2" width="0.8" height="0.8" fill="#a05868" fill-opacity="0.61"/><rect x="417.7" y="32.4" width="0.7" height="0.7" fill="#a05868" fill-opacity="0.39"/><rect x="427.1" y="32.0" width="1.0" height="1.0" fill="#a05868" fill-opacity="0.53"/><rect x="421.0" y="32.0" width="0.9" height="0.9" fill="#d89898" fill-opacity="0.68"/><rect x="416.4" y="47.4" width="0.8" height="0.8" fill="#d89898" fill-opacity="0.39"/><rect x="422.2" y="56.4" width="0.5" height="0.5" fill="#e8b0b0" fill-opacity="0.54"/><rect x="416.2" y="51.9" width="0.8" height="0.8" fill="#e8b0b0" fill-opacity="0.57"/><rect x="420.1" y="39.9" width="1.2" height="1.2" fill="#d08898" fill-opacity="0.46"/><rect x="421.7" y="55.6" width="0.7" height="0.7" fill="#d08898" fill-opacity="0.51"/><rect x="419.0" y="42.3" width="0.7" height="0.7" fill="#d08898" fill-opacity="0.38"/><rect x="419.0" y="50.8" width="1.0" height="1.0" fill="#e8b0b0" fill-opacity="0.37"/><rect x="419.5" y="37.8" width="0.8" height="0.8" fill="#d89898" fill-opacity="0.78"/><rect x="439.4" y="57.9" width="0.9" height="0.9" fill="#d89898" fill-opacity="0.70"/><rect x="423.2" y="50.8" width="1.0" height="1.0" fill="#d08898" fill-opacity="0.64"/><rect x="416.8" y="27.3" width="1.1" height="1.1" fill="#a05868" fill-opacity="0.49"/><rect x="416.0" y="43.5" width="1.1" height="1.1" fill="#d89898" fill-opacity="0.39"/><rect x="445.7" y="58.5" width="1.0" height="1.0" fill="#d89898" fill-opacity="0.74"/><rect x="424.1" y="28.2" width="1.0" height="1.0" fill="#a05868" fill-opacity="0.57"/><rect x="439.2" y="53.0" width="1.2" height="1.2" fill="#e8b0b0" fill-opacity="0.77"/><rect x="424.4" y="47.1" width="0.8" height="0.8" fill="#d89898" fill-opacity="0.65"/><rect x="420.3" y="49.1" width="0.6" height="0.6" fill="#d89898" fill-opacity="0.54"/><rect x="443.8" y="51.6" width="0.5" height="0.5" fill="#e8b0b0" fill-opacity="0.80"/><rect x="423.7" y="52.0" width="0.6" height="0.6" fill="#e8b0b0" fill-opacity="0.72"/><rect x="425.1" y="36.1" width="0.9" height="0.9" fill="#a05868" fill-opacity="0.69"/><rect x="419.9" y="43.9" width="0.6" height="0.6" fill="#e8b0b0" fill-opacity="0.44"/><rect x="422.2" y="59.0" width="0.7" height="0.7" fill="#a05868" fill-opacity="0.61"/><rect x="423.4" y="33.2" width="1.2" height="1.2" fill="#d89898" fill-opacity="0.76"/><rect x="421.1" y="37.0" width="1.2" height="1.2" fill="#d08898" fill-opacity="0.35"/><rect x="421.0" y="39.6" width="1.0" height="1.0" fill="#a05868" fill-opacity="0.44"/><rect x="416.4" y="57.5" width="0.7" height="0.7" fill="#a05868" fill-opacity="0.31"/><rect x="424.5" y="50.3" width="0.7" height="0.7" fill="#a05868" fill-opacity="0.43"/><rect x="421.2" y="52.4" width="0.7" height="0.7" fill="#e8b0b0" fill-opacity="0.34"/><rect x="419.9" y="40.9" width="0.6" height="0.6" fill="#a05868" fill-opacity="0.62"/><rect x="418.4" y="46.6" width="1.2" height="1.2" fill="#d08898" fill-opacity="0.48"/><rect x="418.5" y="52.2" width="0.8" height="0.8" fill="#a05868" fill-opacity="0.47"/><rect x="420.1" y="34.6" width="0.7" height="0.7" fill="#d08898" fill-opacity="0.63"/><rect x="443.9" y="45.3" width="1.2" height="1.2" fill="#a05868" fill-opacity="0.47"/><rect x="424.8" y="39.8" width="0.7" height="0.7" fill="#d08898" fill-opacity="0.60"/><rect x="419.6" y="42.9" width="0.6" height="0.6" fill="#e8b0b0" fill-opacity="0.80"/><rect x="423.4" y="29.9" width="0.7" height="0.7" fill="#a05868" fill-opacity="0.44"/><rect x="418.8" y="28.4" width="0.6" height="0.6" fill="#d08898" fill-opacity="0.40"/><rect x="425.7" y="41.3" width="0.7" height="0.7" fill="#e8b0b0" fill-opacity="0.54"/><rect x="429.4" y="56.9" width="0.5" height="0.5" fill="#d89898" fill-opacity="0.76"/><rect x="418.7" y="38.1" width="0.8" height="0.8" fill="#d08898" fill-opacity="0.68"/><rect x="418.6" y="57.0" width="0.8" height="0.8" fill="#a05868" fill-opacity="0.44"/><rect x="416.4" y="46.6" width="0.7" height="0.7" fill="#a05868" fill-opacity="0.55"/><rect x="446.5" y="28.0" width="0.6" height="0.6" fill="#e8b0b0" fill-opacity="0.51"/><rect x="418.6" y="32.8" width="0.8" height="0.8" fill="#a05868" fill-opacity="0.68"/><rect x="425.1" y="37.9" width="0.6" height="0.6" fill="#e8b0b0" fill-opacity="0.36"/><rect x="426.2" y="34.6" width="0.8" height="0.8" fill="#e8b0b0" fill-opacity="0.39"/><rect x="420.7" y="49.5" width="1.0" height="1.0" fill="#e8b0b0" fill-opacity="0.55"/><rect x="426.6" y="53.7" width="0.7" height="0.7" fill="#e8b0b0" fill-opacity="0.47"/><rect x="422.5" y="38.3" width="1.2" height="1.2" fill="#a05868" fill-opacity="0.34"/><rect x="419.7" y="48.1" width="1.0" height="1.0" fill="#d08898" fill-opacity="0.43"/><rect x="418.3" y="32.1" width="0.6" height="0.6" fill="#e8b0b0" fill-opacity="0.57"/><rect x="417.0" y="46.3" width="0.9" height="0.9" fill="#d08898" fill-opacity="0.37"/><rect x="426.2" y="34.7" width="0.5" height="0.5" fill="#d08898" fill-opacity="0.34"/><rect x="417.7" y="28.1" width="1.2" height="1.2" fill="#a05868" fill-opacity="0.33"/><rect x="416.7" y="26.3" width="0.6" height="0.6" fill="#d89898" fill-opacity="0.63"/><rect x="416.5" y="55.1" width="0.9" height="0.9" fill="#a05868" fill-opacity="0.48"/><rect x="426.6" y="39.5" width="0.8" height="0.8" fill="#d89898" fill-opacity="0.48"/><rect x="435.1" y="29.4" width="1.1" height="1.1" fill="#e8b0b0" fill-opacity="0.42"/><rect x="419.3" y="48.0" width="1.1" height="1.1" fill="#e8b0b0" fill-opacity="0.46"/><rect x="422.6" y="51.6" width="1.2" height="1.2" fill="#a05868" fill-opacity="0.66"/><rect x="419.1" y="38.5" width="1.1" height="1.1" fill="#d08898" fill-opacity="0.39"/><rect x="424.8" y="34.3" width="0.7" height="0.7" fill="#e8b0b0" fill-opacity="0.42"/><rect x="420.9" y="45.1" width="0.6" height="0.6" fill="#d08898" fill-opacity="0.40"/><rect x="426.2" y="57.1" width="0.7" height="0.7" fill="#a05868" fill-opacity="0.65"/><rect x="420.6" y="50.7" width="1.1" height="1.1" fill="#d08898" fill-opacity="0.42"/><rect x="422.8" y="51.8" width="0.9" height="0.9" fill="#d08898" fill-opacity="0.72"/><rect x="422.2" y="30.4" width="0.6" height="0.6" fill="#e8b0b0" fill-opacity="0.58"/><rect x="417.4" y="55.4" width="0.8" height="0.8" fill="#d89898" fill-opacity="0.37"/><rect x="416.4" y="53.9" width="0.7" height="0.7" fill="#d08898" fill-opacity="0.55"/><rect x="421.0" y="42.7" width="0.8" height="0.8" fill="#a05868" fill-opacity="0.64"/><rect x="426.0" y="48.3" width="0.9" height="0.9" fill="#d08898" fill-opacity="0.77"/><rect x="422.6" y="35.9" width="0.7" height="0.7" fill="#d89898" fill-opacity="0.60"/><rect x="418.1" y="26.6" width="0.7" height="0.7" fill="#e8b0b0" fill-opacity="0.31"/><rect x="417.6" y="56.3" width="0.6" height="0.6" fill="#d89898" fill-opacity="0.66"/><rect x="421.0" y="52.8" width="0.7" height="0.7" fill="#e8b0b0" fill-opacity="0.45"/><rect x="417.4" y="44.3" width="0.5" height="0.5" fill="#d89898" fill-opacity="0.57"/><rect x="424.3" y="30.9" width="0.7" height="0.7" fill="#a05868" fill-opacity="0.64"/><rect x="416.5" y="36.7" width="0.6" height="0.6" fill="#d08898" fill-opacity="0.73"/><rect x="430.9" y="38.4" width="0.7" height="0.7" fill="#e8b0b0" fill-opacity="0.44"/><rect x="417.4" y="45.4" width="1.1" height="1.1" fill="#a05868" fill-opacity="0.65"/><rect x="426.2" y="45.1" width="0.6" height="0.6" fill="#d89898" fill-opacity="0.36"/><rect x="423.8" y="27.6" width="0.6" height="0.6" fill="#d08898" fill-opacity="0.64"/><rect x="422.9" y="44.7" width="0.8" height="0.8" fill="#d89898" fill-opacity="0.45"/><rect x="416.6" y="54.2" width="1.0" height="1.0" fill="#d89898" fill-opacity="0.51"/><rect x="433.0" y="52.6" width="0.8" height="0.8" fill="#d89898" fill-opacity="0.59"/><rect x="420.4" y="44.2" width="1.0" height="1.0" fill="#e8b0b0" fill-opacity="0.41"/><rect x="427.3" y="57.7" width="1.2" height="1.2" fill="#d89898" fill-opacity="0.34"/><rect x="416.5" y="47.0" width="0.6" height="0.6" fill="#d08898" fill-opacity="0.71"/><rect x="416.1" y="50.5" width="1.1" height="1.1" fill="#a05868" fill-opacity="0.32"/><rect x="418.1" y="38.1" width="0.5" height="0.5" fill="#d89898" fill-opacity="0.54"/><rect x="427.1" y="50.6" width="1.2" height="1.2" fill="#d89898" fill-opacity="0.44"/><rect x="419.8" y="39.1" width="1.0" height="1.0" fill="#d08898" fill-opacity="0.75"/><rect x="423.7" y="53.1" width="0.8" height="0.8" fill="#e8b0b0" fill-opacity="0.75"/><rect x="427.6" y="49.5" width="1.0" height="1.0" fill="#d08898" fill-opacity="0.41"/><rect x="423.1" y="28.9" width="1.1" height="1.1" fill="#d08898" fill-opacity="0.72"/><rect x="428.3" y="53.3" width="0.7" height="0.7" fill="#e8b0b0" fill-opacity="0.36"/><rect x="427.4" y="28.8" width="1.0" height="1.0" fill="#d08898" fill-opacity="0.79"/><rect x="416.1" y="29.9" width="0.6" height="0.6" fill="#d08898" fill-opacity="0.33"/><rect x="426.0" y="30.3" width="0.8" height="0.8" fill="#a05868" fill-opacity="0.34"/><rect x="420.7" y="48.0" width="1.0" height="1.0" fill="#d89898" fill-opacity="0.71"/><rect x="424.6" y="30.1" width="0.6" height="0.6" fill="#d89898" fill-opacity="0.32"/><rect x="416.6" y="27.2" width="1.0" height="1.0" fill="#d89898" fill-opacity="0.58"/><rect x="418.0" y="37.7" width="0.7" height="0.7" fill="#d89898" fill-opacity="0.52"/><rect x="423.4" y="37.3" width="0.6" height="0.6" fill="#d08898" fill-opacity="0.32"/><rect x="419.9" y="47.8" width="1.1" height="1.1" fill="#d89898" fill-opacity="0.43"/><rect x="424.7" y="30.5" width="0.7" height="0.7" fill="#d89898" fill-opacity="0.39"/><rect x="429.8" y="53.5" width="0.6" height="0.6" fill="#e8b0b0" fill-opacity="0.33"/><rect x="418.2" y="43.4" width="0.6" height="0.6" fill="#d89898" fill-opacity="0.60"/><rect x="430.1" y="54.4" width="0.7" height="0.7" fill="#e8b0b0" fill-opacity="0.32"/><rect x="422.6" y="26.2" width="0.8" height="0.8" fill="#a05868" fill-opacity="0.32"/><rect x="420.5" y="36.6" width="0.6" height="0.6" fill="#d08898" fill-opacity="0.43"/><rect x="426.4" y="55.4" width="0.7" height="0.7" fill="#d89898" fill-opacity="0.65"/><rect x="421.4" y="36.5" width="1.2" height="1.2" fill="#d89898" fill-opacity="0.61"/><rect x="425.1" y="26.4" width="1.0" height="1.0" fill="#e8b0b0" fill-opacity="0.49"/><rect x="440.2" y="54.7" width="0.5" height="0.5" fill="#a05868" fill-opacity="0.47"/><rect x="423.5" y="47.2" width="0.9" height="0.9" fill="#a05868" fill-opacity="0.65"/><rect x="419.6" y="53.4" width="0.7" height="0.7" fill="#d89898" fill-opacity="0.69"/><rect x="416.7" y="34.3" width="0.6" height="0.6" fill="#d08898" fill-opacity="0.33"/><rect x="421.3" y="37.7" width="0.6" height="0.6" fill="#d08898" fill-opacity="0.72"/><rect x="424.3" y="48.6" width="0.9" height="0.9" fill="#e8b0b0" fill-opacity="0.67"/><rect x="424.8" y="53.1" width="1.2" height="1.2" fill="#e8b0b0" fill-opacity="0.47"/><rect x="418.3" y="56.6" width="0.5" height="0.5" fill="#d08898" fill-opacity="0.56"/><rect x="424.3" y="47.8" width="0.9" height="0.9" fill="#a05868" fill-opacity="0.61"/><rect x="423.8" y="38.0" width="1.0" height="1.0" fill="#a05868" fill-opacity="0.79"/><rect x="416.8" y="29.0" width="0.7" height="0.7" fill="#e8b0b0" fill-opacity="0.37"/><rect x="433.0" y="32.9" width="1.1" height="1.1" fill="#d89898" fill-opacity="0.36"/><rect x="420.2" y="53.4" width="0.6" height="0.6" fill="#d89898" fill-opacity="0.40"/><rect x="420.3" y="36.0" width="1.0" height="1.0" fill="#d89898" fill-opacity="0.66"/><rect x="421.5" y="26.1" width="1.2" height="1.2" fill="#d89898" fill-opacity="0.61"/><rect x="424.6" y="58.7" width="1.1" height="1.1" fill="#e8b0b0" fill-opacity="0.68"/><rect x="427.5" y="58.4" width="1.1" height="1.1" fill="#a05868" fill-opacity="0.72"/><rect x="418.9" y="28.4" width="1.0" height="1.0" fill="#d89898" fill-opacity="0.48"/><rect x="420.8" y="51.8" width="0.5" height="0.5" fill="#e8b0b0" fill-opacity="0.65"/><rect x="424.8" y="57.8" width="0.7" height="0.7" fill="#e8b0b0" fill-opacity="0.47"/><rect x="427.5" y="36.0" width="0.6" height="0.6" fill="#e8b0b0" fill-opacity="0.64"/><rect x="426.6" y="31.3" width="1.1" height="1.1" fill="#e8b0b0" fill-opacity="0.53"/><rect x="423.5" y="50.5" width="1.0" height="1.0" fill="#e8b0b0" fill-opacity="0.63"/><rect x="416.5" y="37.6" width="1.2" height="1.2" fill="#e8b0b0" fill-opacity="0.37"/><rect x="417.9" y="41.2" width="0.9" height="0.9" fill="#d89898" fill-opacity="0.78"/><rect x="425.5" y="31.3" width="0.9" height="0.9" fill="#a05868" fill-opacity="0.69"/><rect x="429.0" y="28.0" width="0.7" height="0.7" fill="#a05868" fill-opacity="0.64"/><rect x="417.3" y="27.1" width="0.8" height="0.8" fill="#d89898" fill-opacity="0.72"/><rect x="426.2" y="44.6" width="0.9" height="0.9" fill="#d08898" fill-opacity="0.62"/><rect x="420.1" y="51.2" width="1.0" height="1.0" fill="#e8b0b0" fill-opacity="0.50"/><rect x="418.6" y="56.9" width="1.2" height="1.2" fill="#a05868" fill-opacity="0.74"/><rect x="418.3" y="53.6" width="1.2" height="1.2" fill="#e8b0b0" fill-opacity="0.73"/><rect x="418.0" y="47.6" width="0.7" height="0.7" fill="#e8b0b0" fill-opacity="0.43"/><rect x="422.4" y="37.1" width="1.2" height="1.2" fill="#a05868" fill-opacity="0.42"/><rect x="420.1" y="48.2" width="1.1" height="1.1" fill="#a05868" fill-opacity="0.37"/><rect x="418.5" y="56.4" width="1.1" height="1.1" fill="#a05868" fill-opacity="0.34"/><rect x="421.2" y="54.8" width="0.5" height="0.5" fill="#e8b0b0" fill-opacity="0.44"/><rect x="423.9" y="27.5" width="0.6" height="0.6" fill="#e8b0b0" fill-opacity="0.41"/><rect x="436.9" y="31.3" width="0.6" height="0.6" fill="#d89898" fill-opacity="0.38"/><rect x="417.1" y="40.3" width="1.1" height="1.1" fill="#e8b0b0" fill-opacity="0.33"/><rect x="426.3" y="47.5" width="1.1" height="1.1" fill="#d08898" fill-opacity="0.42"/><rect x="437.4" y="28.9" width="1.2" height="1.2" fill="#d08898" fill-opacity="0.48"/><rect x="416.6" y="39.4" width="0.7" height="0.7" fill="#d89898" fill-opacity="0.71"/><rect x="422.4" y="40.1" width="1.1" height="1.1" fill="#d89898" fill-opacity="0.53"/><rect x="417.4" y="33.4" width="1.1" height="1.1" fill="#d89898" fill-opacity="0.67"/><rect x="421.2" y="45.5" width="1.2" height="1.2" fill="#d89898" fill-opacity="0.31"/><rect x="416.2" y="27.2" width="1.0" height="1.0" fill="#d08898" fill-opacity="0.75"/><rect x="418.0" y="36.7" width="1.2" height="1.2" fill="#a05868" fill-opacity="0.45"/><rect x="421.3" y="56.8" width="0.7" height="0.7" fill="#e8b0b0" fill-opacity="0.59"/><rect x="425.0" y="35.0" width="0.8" height="0.8" fill="#d89898" fill-opacity="0.48"/><rect x="429.7" y="39.4" width="1.2" height="1.2" fill="#d89898" fill-opacity="0.78"/><rect x="418.1" y="26.0" width="0.8" height="0.8" fill="#a05868" fill-opacity="0.48"/><rect x="427.4" y="51.9" width="0.8" height="0.8" fill="#d08898" fill-opacity="0.43"/><rect x="418.1" y="44.2" width="0.5" height="0.5" fill="#e8b0b0" fill-opacity="0.44"/><rect x="420.3" y="46.6" width="0.9" height="0.9" fill="#e8b0b0" fill-opacity="0.68"/><rect x="423.5" y="43.3" width="0.6" height="0.6" fill="#d89898" fill-opacity="0.78"/><rect x="419.6" y="31.1" width="0.7" height="0.7" fill="#d08898" fill-opacity="0.37"/><rect x="419.1" y="52.6" width="0.6" height="0.6" fill="#d89898" fill-opacity="0.65"/><rect x="417.4" y="56.1" width="0.8" height="0.8" fill="#a05868" fill-opacity="0.78"/><rect x="421.1" y="47.8" width="1.0" height="1.0" fill="#d89898" fill-opacity="0.33"/><rect x="425.8" y="32.8" width="1.0" height="1.0" fill="#e8b0b0" fill-opacity="0.59"/><rect x="420.0" y="47.6" width="0.6" height="0.6" fill="#d08898" fill-opacity="0.32"/><rect x="426.1" y="37.4" width="0.6" height="0.6" fill="#a05868" fill-opacity="0.31"/><rect x="420.6" y="26.9" width="1.0" height="1.0" fill="#d08898" fill-opacity="0.63"/><rect x="419.7" y="35.4" width="0.6" height="0.6" fill="#d89898" fill-opacity="0.46"/><rect x="425.0" y="41.2" width="0.8" height="0.8" fill="#a05868" fill-opacity="0.45"/><rect x="422.4" y="35.5" width="0.6" height="0.6" fill="#a05868" fill-opacity="0.50"/><rect x="423.4" y="47.0" width="1.1" height="1.1" fill="#d08898" fill-opacity="0.30"/><rect x="420.8" y="28.8" width="1.1" height="1.1" fill="#a05868" fill-opacity="0.38"/><rect x="419.3" y="51.1" width="0.5" height="0.5" fill="#a05868" fill-opacity="0.59"/><rect x="421.9" y="35.8" width="1.2" height="1.2" fill="#d08898" fill-opacity="0.61"/><rect x="423.4" y="39.5" width="1.1" height="1.1" fill="#e8b0b0" fill-opacity="0.49"/><rect x="419.6" y="54.6" width="0.7" height="0.7" fill="#d08898" fill-opacity="0.75"/><rect x="416.5" y="50.1" width="0.8" height="0.8" fill="#a05868" fill-opacity="0.51"/><rect x="416.6" y="29.7" width="0.6" height="0.6" fill="#d08898" fill-opacity="0.40"/><rect x="427.3" y="39.5" width="0.7" height="0.7" fill="#d08898" fill-opacity="0.69"/><rect x="420.8" y="26.1" width="0.5" height="0.5" fill="#d89898" fill-opacity="0.61"/><rect x="416.7" y="45.8" width="0.9" height="0.9" fill="#e8b0b0" fill-opacity="0.39"/><rect x="444.5" y="44.0" width="0.7" height="0.7" fill="#a05868" fill-opacity="0.40"/><rect x="423.3" y="55.3" width="1.0" height="1.0" fill="#a05868" fill-opacity="0.31"/><rect x="426.9" y="26.2" width="0.8" height="0.8" fill="#e8b0b0" fill-opacity="0.56"/><rect x="420.1" y="45.1" width="1.0" height="1.0" fill="#a05868" fill-opacity="0.78"/><rect x="416.4" y="33.8" width="0.5" height="0.5" fill="#a05868" fill-opacity="0.68"/><rect x="419.2" y="51.7" width="0.7" height="0.7" fill="#d08898" fill-opacity="0.55"/><rect x="416.6" y="30.2" width="1.0" height="1.0" fill="#d89898" fill-opacity="0.42"/><rect x="425.5" y="51.9" width="0.7" height="0.7" fill="#a05868" fill-opacity="0.77"/><rect x="417.3" y="39.4" width="1.0" height="1.0" fill="#d89898" fill-opacity="0.46"/><rect x="418.8" y="32.7" width="0.8" height="0.8" fill="#d89898" fill-opacity="0.51"/><rect x="416.9" y="44.9" width="0.7" height="0.7" fill="#e8b0b0" fill-opacity="0.30"/><rect x="419.5" y="32.2" width="1.0" height="1.0" fill="#d08898" fill-opacity="0.66"/><rect x="436.8" y="48.6" width="0.7" height="0.7" fill="#e8b0b0" fill-opacity="0.43"/><rect x="416.3" y="55.0" width="0.9" height="0.9" fill="#e8b0b0" fill-opacity="0.44"/><rect x="417.6" y="28.3" width="1.0" height="1.0" fill="#e8b0b0" fill-opacity="0.67"/><rect x="421.3" y="38.1" width="1.0" height="1.0" fill="#a05868" fill-opacity="0.68"/><rect x="420.5" y="47.9" width="0.7" height="0.7" fill="#e8b0b0" fill-opacity="0.77"/><rect x="421.1" y="54.9" width="1.1" height="1.1" fill="#d08898" fill-opacity="0.77"/><rect x="419.9" y="47.9" width="1.1" height="1.1" fill="#d08898" fill-opacity="0.69"/><rect x="427.0" y="56.2" width="0.6" height="0.6" fill="#d08898" fill-opacity="0.64"/><rect x="418.0" y="44.8" width="0.7" height="0.7" fill="#d08898" fill-opacity="0.32"/><rect x="431.1" y="50.0" width="1.1" height="1.1" fill="#d89898" fill-opacity="0.72"/><rect x="416.5" y="33.3" width="1.0" height="1.0" fill="#d89898" fill-opacity="0.76"/><rect x="429.0" y="41.6" width="1.2" height="1.2" fill="#e8b0b0" fill-opacity="0.76"/><rect x="419.1" y="44.5" width="0.6" height="0.6" fill="#a05868" fill-opacity="0.33"/><rect x="420.3" y="47.8" width="1.0" height="1.0" fill="#e8b0b0" fill-opacity="0.37"/><rect x="417.4" y="55.5" width="0.6" height="0.6" fill="#e8b0b0" fill-opacity="0.33"/><rect x="418.6" y="30.0" width="0.6" height="0.6" fill="#a05868" fill-opacity="0.61"/><rect x="426.1" y="46.4" width="0.8" height="0.8" fill="#d89898" fill-opacity="0.40"/><rect x="421.6" y="47.6" width="1.1" height="1.1" fill="#d89898" fill-opacity="0.55"/><rect x="416.8" y="31.4" width="1.2" height="1.2" fill="#d08898" fill-opacity="0.47"/><rect x="423.6" y="31.9" width="0.6" height="0.6" fill="#e8b0b0" fill-opacity="0.66"/><rect x="424.7" y="39.4" width="0.8" height="0.8" fill="#a05868" fill-opacity="0.48"/><rect x="426.8" y="29.1" width="1.1" height="1.1" fill="#e8b0b0" fill-opacity="0.32"/><rect x="424.6" y="54.9" width="0.6" height="0.6" fill="#e8b0b0" fill-opacity="0.72"/><rect x="419.6" y="57.7" width="0.9" height="0.9" fill="#e8b0b0" fill-opacity="0.69"/>
<clipPath id="c2"><rect x="450" y="25.6" width="32.5" height="34.2"/></clipPath>
<ellipse cx="457" cy="33" rx="17" ry="16" fill="url(#glow1)" clip-path="url(#c2)"/>
<rect x="467.9" y="43.0" width="0.7" height="0.7" fill="#d89090" fill-opacity="0.50"/><rect x="450.2" y="54.0" width="1.1" height="1.1" fill="#f0d0c0" fill-opacity="0.30"/><rect x="474.8" y="47.4" width="1.0" height="1.0" fill="#f0d0c0" fill-opacity="0.36"/><rect x="480.3" y="32.8" width="1.1" height="1.1" fill="#b06068" fill-opacity="0.38"/><rect x="462.6" y="43.4" width="0.6" height="0.6" fill="#d89090" fill-opacity="0.71"/><rect x="456.7" y="33.5" width="1.0" height="1.0" fill="#f0d0c0" fill-opacity="0.56"/><rect x="460.1" y="51.7" width="1.0" height="1.0" fill="#e8b0a8" fill-opacity="0.35"/><rect x="457.9" y="32.9" width="0.9" height="0.9" fill="#f0d0c0" fill-opacity="0.42"/><rect x="451.3" y="35.6" width="1.0" height="1.0" fill="#b06068" fill-opacity="0.63"/><rect x="476.0" y="37.1" width="0.8" height="0.8" fill="#f0d0c0" fill-opacity="0.38"/><rect x="459.8" y="34.0" width="1.0" height="1.0" fill="#f0d0c0" fill-opacity="0.71"/><rect x="466.4" y="26.9" width="0.7" height="0.7" fill="#b06068" fill-opacity="0.65"/><rect x="468.1" y="48.9" width="0.7" height="0.7" fill="#d89090" fill-opacity="0.63"/><rect x="463.8" y="33.3" width="1.0" height="1.0" fill="#b06068" fill-opacity="0.66"/><rect x="457.9" y="57.8" width="0.7" height="0.7" fill="#d89090" fill-opacity="0.70"/><rect x="461.7" y="32.1" width="0.9" height="0.9" fill="#e8b0a8" fill-opacity="0.37"/><rect x="464.4" y="26.1" width="0.9" height="0.9" fill="#b06068" fill-opacity="0.47"/><rect x="464.7" y="56.5" width="1.1" height="1.1" fill="#f0d0c0" fill-opacity="0.67"/><rect x="450.4" y="50.1" width="0.9" height="0.9" fill="#e8b0a8" fill-opacity="0.67"/><rect x="465.6" y="47.3" width="0.5" height="0.5" fill="#b06068" fill-opacity="0.63"/><rect x="462.3" y="47.9" width="1.0" height="1.0" fill="#d89090" fill-opacity="0.70"/><rect x="458.9" y="37.2" width="0.6" height="0.6" fill="#e8b0a8" fill-opacity="0.79"/><rect x="472.7" y="32.8" width="0.8" height="0.8" fill="#b06068" fill-opacity="0.58"/><rect x="464.9" y="32.6" width="0.7" height="0.7" fill="#e8b0a8" fill-opacity="0.45"/><rect x="458.9" y="39.0" width="0.5" height="0.5" fill="#d89090" fill-opacity="0.47"/><rect x="452.4" y="44.9" width="1.0" height="1.0" fill="#b06068" fill-opacity="0.66"/><rect x="466.1" y="50.5" width="1.1" height="1.1" fill="#e8b0a8" fill-opacity="0.75"/><rect x="468.0" y="33.2" width="1.1" height="1.1" fill="#f0d0c0" fill-opacity="0.64"/><rect x="455.8" y="38.2" width="1.0" height="1.0" fill="#f0d0c0" fill-opacity="0.77"/><rect x="451.3" y="38.6" width="1.1" height="1.1" fill="#f0d0c0" fill-opacity="0.40"/><rect x="464.0" y="33.0" width="0.6" height="0.6" fill="#f0d0c0" fill-opacity="0.63"/><rect x="467.7" y="45.0" width="1.2" height="1.2" fill="#e8b0a8" fill-opacity="0.73"/><rect x="461.3" y="40.3" width="0.9" height="0.9" fill="#d89090" fill-opacity="0.60"/><rect x="452.6" y="53.2" width="1.2" height="1.2" fill="#f0d0c0" fill-opacity="0.32"/><rect x="461.9" y="55.3" width="1.0" height="1.0" fill="#e8b0a8" fill-opacity="0.33"/><rect x="462.3" y="33.0" width="1.1" height="1.1" fill="#f0d0c0" fill-opacity="0.79"/><rect x="464.6" y="42.5" width="1.1" height="1.1" fill="#b06068" fill-opacity="0.70"/><rect x="459.2" y="48.8" width="1.0" height="1.0" fill="#d89090" fill-opacity="0.55"/><rect x="464.1" y="48.4" width="0.9" height="0.9" fill="#d89090" fill-opacity="0.40"/><rect x="451.0" y="43.6" width="1.1" height="1.1" fill="#b06068" fill-opacity="0.63"/><rect x="458.4" y="45.7" width="0.7" height="0.7" fill="#d89090" fill-opacity="0.52"/><rect x="470.8" y="31.0" width="0.8" height="0.8" fill="#f0d0c0" fill-opacity="0.39"/><rect x="472.1" y="35.6" width="0.5" height="0.5" fill="#b06068" fill-opacity="0.77"/><rect x="477.2" y="51.2" width="0.9" height="0.9" fill="#d89090" fill-opacity="0.66"/><rect x="463.8" y="38.7" width="0.5" height="0.5" fill="#b06068" fill-opacity="0.43"/><rect x="464.2" y="44.5" width="1.1" height="1.1" fill="#e8b0a8" fill-opacity="0.74"/><rect x="458.7" y="53.3" width="0.9" height="0.9" fill="#f0d0c0" fill-opacity="0.35"/><rect x="471.1" y="32.5" width="1.1" height="1.1" fill="#b06068" fill-opacity="0.41"/><rect x="464.0" y="55.6" width="1.0" height="1.0" fill="#b06068" fill-opacity="0.61"/><rect x="466.6" y="44.2" width="0.6" height="0.6" fill="#d89090" fill-opacity="0.67"/><rect x="451.7" y="57.2" width="1.0" height="1.0" fill="#e8b0a8" fill-opacity="0.61"/><rect x="463.5" y="31.6" width="1.0" height="1.0" fill="#e8b0a8" fill-opacity="0.40"/><rect x="460.5" y="32.9" width="0.9" height="0.9" fill="#f0d0c0" fill-opacity="0.51"/><rect x="463.3" y="30.1" width="0.6" height="0.6" fill="#f0d0c0" fill-opacity="0.60"/><rect x="480.8" y="29.8" width="1.0" height="1.0" fill="#f0d0c0" fill-opacity="0.32"/><rect x="469.0" y="31.0" width="1.0" height="1.0" fill="#e8b0a8" fill-opacity="0.57"/><rect x="458.0" y="31.5" width="0.7" height="0.7" fill="#b06068" fill-opacity="0.48"/><rect x="458.0" y="29.3" width="0.6" height="0.6" fill="#e8b0a8" fill-opacity="0.45"/><rect x="467.0" y="39.3" width="0.6" height="0.6" fill="#d89090" fill-opacity="0.32"/><rect x="459.5" y="47.4" width="1.1" height="1.1" fill="#d89090" fill-opacity="0.79"/><rect x="469.7" y="27.6" width="0.9" height="0.9" fill="#e8b0a8" fill-opacity="0.79"/><rect x="473.6" y="55.8" width="0.9" height="0.9" fill="#f0d0c0" fill-opacity="0.54"/><rect x="456.9" y="44.9" width="1.2" height="1.2" fill="#e8b0a8" fill-opacity="0.45"/><rect x="455.5" y="33.5" width="0.8" height="0.8" fill="#d89090" fill-opacity="0.78"/><rect x="460.5" y="42.2" width="0.7" height="0.7" fill="#b06068" fill-opacity="0.58"/><rect x="459.6" y="35.3" width="0.5" height="0.5" fill="#d89090" fill-opacity="0.73"/><rect x="455.4" y="27.5" width="0.9" height="0.9" fill="#f0d0c0" fill-opacity="0.41"/><rect x="472.1" y="45.8" width="0.9" height="0.9" fill="#e8b0a8" fill-opacity="0.72"/><rect x="466.5" y="39.0" width="0.9" height="0.9" fill="#d89090" fill-opacity="0.75"/><rect x="454.0" y="50.9" width="1.0" height="1.0" fill="#d89090" fill-opacity="0.56"/><rect x="476.3" y="41.7" width="1.0" height="1.0" fill="#f0d0c0" fill-opacity="0.55"/><rect x="451.7" y="34.7" width="0.6" height="0.6" fill="#f0d0c0" fill-opacity="0.53"/><rect x="471.4" y="28.8" width="1.1" height="1.1" fill="#d89090" fill-opacity="0.36"/><rect x="477.5" y="33.0" width="1.1" height="1.1" fill="#d89090" fill-opacity="0.62"/><rect x="460.8" y="45.4" width="0.7" height="0.7" fill="#f0d0c0" fill-opacity="0.72"/><rect x="460.1" y="28.0" width="0.7" height="0.7" fill="#b06068" fill-opacity="0.61"/><rect x="455.7" y="47.5" width="0.6" height="0.6" fill="#d89090" fill-opacity="0.50"/><rect x="468.1" y="33.1" width="0.5" height="0.5" fill="#f0d0c0" fill-opacity="0.59"/><rect x="462.4" y="37.3" width="1.2" height="1.2" fill="#f0d0c0" fill-opacity="0.64"/><rect x="451.0" y="29.3" width="0.6" height="0.6" fill="#b06068" fill-opacity="0.64"/><rect x="453.7" y="29.1" width="0.5" height="0.5" fill="#d89090" fill-opacity="0.46"/><rect x="459.1" y="33.6" width="1.0" height="1.0" fill="#f0d0c0" fill-opacity="0.77"/><rect x="454.9" y="27.0" width="0.7" height="0.7" fill="#b06068" fill-opacity="0.64"/><rect x="473.9" y="39.2" width="1.2" height="1.2" fill="#b06068" fill-opacity="0.32"/><rect x="476.0" y="43.8" width="0.6" height="0.6" fill="#f0d0c0" fill-opacity="0.40"/><rect x="466.4" y="41.7" width="1.2" height="1.2" fill="#e8b0a8" fill-opacity="0.44"/><rect x="457.0" y="47.7" width="0.9" height="0.9" fill="#d89090" fill-opacity="0.66"/><rect x="457.1" y="40.4" width="0.8" height="0.8" fill="#f0d0c0" fill-opacity="0.38"/><rect x="462.5" y="29.5" width="0.6" height="0.6" fill="#f0d0c0" fill-opacity="0.46"/><rect x="458.4" y="42.6" width="0.9" height="0.9" fill="#b06068" fill-opacity="0.59"/><rect x="453.7" y="27.2" width="0.9" height="0.9" fill="#f0d0c0" fill-opacity="0.46"/><rect x="473.1" y="36.1" width="1.1" height="1.1" fill="#b06068" fill-opacity="0.74"/><rect x="463.5" y="45.1" width="0.6" height="0.6" fill="#e8b0a8" fill-opacity="0.43"/><rect x="462.4" y="59.2" width="0.7" height="0.7" fill="#e8b0a8" fill-opacity="0.74"/><rect x="468.1" y="28.4" width="1.1" height="1.1" fill="#b06068" fill-opacity="0.35"/><rect x="456.7" y="28.3" width="0.6" height="0.6" fill="#d89090" fill-opacity="0.58"/><rect x="458.2" y="27.1" width="1.0" height="1.0" fill="#f0d0c0" fill-opacity="0.38"/><rect x="461.7" y="34.0" width="1.1" height="1.1" fill="#e8b0a8" fill-opacity="0.34"/><rect x="476.7" y="43.9" width="0.6" height="0.6" fill="#b06068" fill-opacity="0.58"/><rect x="457.7" y="35.8" width="1.0" height="1.0" fill="#b06068" fill-opacity="0.63"/><rect x="457.2" y="34.5" width="1.0" height="1.0" fill="#e8b0a8" fill-opacity="0.68"/><rect x="458.5" y="48.1" width="1.1" height="1.1" fill="#f0d0c0" fill-opacity="0.54"/><rect x="458.0" y="35.7" width="0.8" height="0.8" fill="#d89090" fill-opacity="0.53"/><rect x="468.4" y="38.1" width="0.9" height="0.9" fill="#e8b0a8" fill-opacity="0.33"/><rect x="451.7" y="47.5" width="1.1" height="1.1" fill="#e8b0a8" fill-opacity="0.56"/><rect x="466.2" y="58.3" width="0.9" height="0.9" fill="#b06068" fill-opacity="0.76"/><rect x="465.0" y="41.3" width="0.5" height="0.5" fill="#f0d0c0" fill-opacity="0.33"/><rect x="469.3" y="48.7" width="1.0" height="1.0" fill="#f0d0c0" fill-opacity="0.45"/><rect x="466.4" y="34.9" width="1.1" height="1.1" fill="#b06068" fill-opacity="0.33"/><rect x="456.4" y="33.2" width="1.0" height="1.0" fill="#f0d0c0" fill-opacity="0.34"/><rect x="458.8" y="50.7" width="0.7" height="0.7" fill="#e8b0a8" fill-opacity="0.33"/><rect x="450.8" y="36.6" width="1.1" height="1.1" fill="#d89090" fill-opacity="0.68"/><rect x="453.6" y="27.9" width="1.0" height="1.0" fill="#f0d0c0" fill-opacity="0.62"/><rect x="465.7" y="41.5" width="0.6" height="0.6" fill="#b06068" fill-opacity="0.70"/><rect x="474.9" y="48.8" width="0.7" height="0.7" fill="#f0d0c0" fill-opacity="0.77"/><rect x="471.8" y="28.7" width="1.1" height="1.1" fill="#f0d0c0" fill-opacity="0.54"/><rect x="456.4" y="48.8" width="0.7" height="0.7" fill="#f0d0c0" fill-opacity="0.61"/><rect x="455.9" y="45.5" width="0.8" height="0.8" fill="#d89090" fill-opacity="0.74"/><rect x="452.9" y="44.8" width="0.6" height="0.6" fill="#b06068" fill-opacity="0.73"/><rect x="456.3" y="48.8" width="0.9" height="0.9" fill="#e8b0a8" fill-opacity="0.58"/><rect x="450.2" y="27.7" width="0.8" height="0.8" fill="#b06068" fill-opacity="0.44"/><rect x="460.3" y="36.4" width="0.8" height="0.8" fill="#d89090" fill-opacity="0.44"/><rect x="466.8" y="47.3" width="1.1" height="1.1" fill="#f0d0c0" fill-opacity="0.68"/><rect x="455.6" y="30.8" width="0.6" height="0.6" fill="#b06068" fill-opacity="0.36"/><rect x="468.9" y="58.7" width="0.8" height="0.8" fill="#d89090" fill-opacity="0.57"/><rect x="468.4" y="42.4" width="1.0" height="1.0" fill="#d89090" fill-opacity="0.55"/><rect x="463.9" y="56.6" width="0.8" height="0.8" fill="#b06068" fill-opacity="0.49"/><rect x="458.9" y="36.8" width="0.8" height="0.8" fill="#d89090" fill-opacity="0.40"/><rect x="478.9" y="51.0" width="1.2" height="1.2" fill="#b06068" fill-opacity="0.39"/><rect x="468.0" y="27.9" width="0.5" height="0.5" fill="#e8b0a8" fill-opacity="0.79"/><rect x="475.4" y="49.5" width="0.6" height="0.6" fill="#f0d0c0" fill-opacity="0.74"/><rect x="461.1" y="38.9" width="0.7" height="0.7" fill="#f0d0c0" fill-opacity="0.77"/><rect x="452.9" y="28.4" width="0.8" height="0.8" fill="#f0d0c0" fill-opacity="0.80"/><rect x="461.0" y="49.4" width="1.0" height="1.0" fill="#b06068" fill-opacity="0.66"/><rect x="453.8" y="52.9" width="0.7" height="0.7" fill="#b06068" fill-opacity="0.63"/><rect x="475.5" y="38.5" width="0.6" height="0.6" fill="#f0d0c0" fill-opacity="0.36"/><rect x="459.4" y="51.5" width="0.7" height="0.7" fill="#d89090" fill-opacity="0.50"/><rect x="460.8" y="43.1" width="0.8" height="0.8" fill="#b06068" fill-opacity="0.69"/><rect x="474.6" y="31.0" width="0.7" height="0.7" fill="#d89090" fill-opacity="0.37"/><rect x="477.4" y="43.8" width="0.8" height="0.8" fill="#b06068" fill-opacity="0.60"/><rect x="462.3" y="43.3" width="0.5" height="0.5" fill="#e8b0a8" fill-opacity="0.59"/><rect x="466.1" y="38.4" width="1.1" height="1.1" fill="#e8b0a8" fill-opacity="0.76"/><rect x="466.2" y="57.0" width="1.0" height="1.0" fill="#b06068" fill-opacity="0.73"/><rect x="467.1" y="34.0" width="0.8" height="0.8" fill="#e8b0a8" fill-opacity="0.58"/><rect x="465.3" y="26.6" width="1.0" height="1.0" fill="#e8b0a8" fill-opacity="0.67"/><rect x="463.3" y="34.6" width="0.7" height="0.7" fill="#b06068" fill-opacity="0.33"/><rect x="461.8" y="41.1" width="1.2" height="1.2" fill="#e8b0a8" fill-opacity="0.36"/><rect x="471.2" y="30.8" width="0.8" height="0.8" fill="#d89090" fill-opacity="0.44"/><rect x="455.1" y="38.4" width="0.6" height="0.6" fill="#b06068" fill-opacity="0.46"/><rect x="469.1" y="36.0" width="0.7" height="0.7" fill="#b06068" fill-opacity="0.32"/><rect x="455.2" y="35.6" width="1.1" height="1.1" fill="#b06068" fill-opacity="0.56"/><rect x="472.9" y="40.9" width="1.0" height="1.0" fill="#b06068" fill-opacity="0.65"/><rect x="458.6" y="36.1" width="0.9" height="0.9" fill="#f0d0c0" fill-opacity="0.40"/><rect x="468.7" y="46.1" width="0.9" height="0.9" fill="#f0d0c0" fill-opacity="0.49"/><rect x="463.8" y="32.2" width="1.0" height="1.0" fill="#e8b0a8" fill-opacity="0.72"/><rect x="459.0" y="44.1" width="0.9" height="0.9" fill="#f0d0c0" fill-opacity="0.45"/><rect x="467.2" y="51.1" width="1.1" height="1.1" fill="#f0d0c0" fill-opacity="0.54"/><rect x="457.0" y="27.3" width="0.7" height="0.7" fill="#d89090" fill-opacity="0.34"/><rect x="469.5" y="37.9" width="1.1" height="1.1" fill="#d89090" fill-opacity="0.69"/><rect x="466.9" y="41.3" width="0.8" height="0.8" fill="#d89090" fill-opacity="0.31"/><rect x="474.4" y="49.7" width="0.9" height="0.9" fill="#f0d0c0" fill-opacity="0.66"/><rect x="456.0" y="31.8" width="1.2" height="1.2" fill="#d89090" fill-opacity="0.71"/><rect x="462.9" y="52.6" width="0.6" height="0.6" fill="#d89090" fill-opacity="0.32"/><rect x="477.5" y="52.1" width="0.8" height="0.8" fill="#f0d0c0" fill-opacity="0.43"/><rect x="462.3" y="38.8" width="0.5" height="0.5" fill="#f0d0c0" fill-opacity="0.45"/><rect x="468.0" y="31.5" width="1.2" height="1.2" fill="#e8b0a8" fill-opacity="0.60"/><rect x="453.0" y="52.2" width="0.8" height="0.8" fill="#d89090" fill-opacity="0.47"/><rect x="450.6" y="28.4" width="0.6" height="0.6" fill="#e8b0a8" fill-opacity="0.78"/><rect x="472.4" y="32.1" width="1.0" height="1.0" fill="#b06068" fill-opacity="0.33"/><rect x="451.0" y="47.2" width="0.8" height="0.8" fill="#e8b0a8" fill-opacity="0.75"/><rect x="452.9" y="42.3" width="1.2" height="1.2" fill="#b06068" fill-opacity="0.40"/><rect x="454.1" y="26.8" width="1.2" height="1.2" fill="#f0d0c0" fill-opacity="0.74"/><rect x="468.4" y="53.1" width="0.6" height="0.6" fill="#d89090" fill-opacity="0.37"/><rect x="456.9" y="32.5" width="0.9" height="0.9" fill="#b06068" fill-opacity="0.79"/><rect x="450.7" y="38.9" width="0.6" height="0.6" fill="#d89090" fill-opacity="0.44"/><rect x="454.2" y="29.9" width="1.0" height="1.0" fill="#f0d0c0" fill-opacity="0.57"/><rect x="462.1" y="41.9" width="1.2" height="1.2" fill="#d89090" fill-opacity="0.74"/><rect x="478.1" y="52.2" width="0.6" height="0.6" fill="#f0d0c0" fill-opacity="0.36"/><rect x="464.9" y="28.2" width="1.1" height="1.1" fill="#e8b0a8" fill-opacity="0.32"/><rect x="451.0" y="29.5" width="0.5" height="0.5" fill="#f0d0c0" fill-opacity="0.63"/><rect x="472.5" y="41.6" width="0.7" height="0.7" fill="#b06068" fill-opacity="0.49"/><rect x="471.4" y="33.9" width="1.2" height="1.2" fill="#e8b0a8" fill-opacity="0.75"/><rect x="466.2" y="48.2" width="0.8" height="0.8" fill="#b06068" fill-opacity="0.65"/><rect x="462.2" y="37.2" width="0.9" height="0.9" fill="#b06068" fill-opacity="0.61"/><rect x="460.1" y="34.9" width="0.6" height="0.6" fill="#e8b0a8" fill-opacity="0.62"/><rect x="458.0" y="34.4" width="1.1" height="1.1" fill="#f0d0c0" fill-opacity="0.55"/><rect x="476.7" y="29.7" width="0.5" height="0.5" fill="#f0d0c0" fill-opacity="0.33"/><rect x="467.3" y="48.6" width="1.2" height="1.2" fill="#f0d0c0" fill-opacity="0.79"/><rect x="457.6" y="30.7" width="0.9" height="0.9" fill="#d89090" fill-opacity="0.61"/><rect x="465.8" y="35.3" width="0.8" height="0.8" fill="#b06068" fill-opacity="0.51"/><rect x="459.3" y="36.2" width="0.6" height="0.6" fill="#d89090" fill-opacity="0.35"/><rect x="457.9" y="31.7" width="0.7" height="0.7" fill="#b06068" fill-opacity="0.35"/><rect x="460.3" y="37.6" width="0.5" height="0.5" fill="#d89090" fill-opacity="0.37"/><rect x="463.2" y="32.5" width="1.1" height="1.1" fill="#f0d0c0" fill-opacity="0.78"/><rect x="465.8" y="42.1" width="0.7" height="0.7" fill="#d89090" fill-opacity="0.51"/><rect x="461.0" y="58.7" width="0.7" height="0.7" fill="#b06068" fill-opacity="0.47"/><rect x="461.1" y="26.2" width="0.8" height="0.8" fill="#d89090" fill-opacity="0.49"/><rect x="461.6" y="40.6" width="1.1" height="1.1" fill="#e8b0a8" fill-opacity="0.60"/><rect x="456.2" y="56.1" width="1.1" height="1.1" fill="#d89090" fill-opacity="0.64"/><rect x="462.5" y="39.0" width="0.6" height="0.6" fill="#b06068" fill-opacity="0.61"/><rect x="460.9" y="27.0" width="0.6" height="0.6" fill="#d89090" fill-opacity="0.53"/><rect x="452.5" y="30.7" width="0.7" height="0.7" fill="#d89090" fill-opacity="0.77"/><rect x="459.4" y="34.5" width="0.8" height="0.8" fill="#d89090" fill-opacity="0.41"/><rect x="459.4" y="32.4" width="0.7" height="0.7" fill="#d89090" fill-opacity="0.33"/><rect x="470.1" y="45.3" width="1.2" height="1.2" fill="#d89090" fill-opacity="0.58"/><rect x="480.2" y="43.7" width="1.0" height="1.0" fill="#b06068" fill-opacity="0.78"/><rect x="451.9" y="42.9" width="1.1" height="1.1" fill="#e8b0a8" fill-opacity="0.70"/><rect x="454.0" y="30.2" width="0.6" height="0.6" fill="#d89090" fill-opacity="0.77"/><rect x="467.9" y="34.5" width="0.5" height="0.5" fill="#e8b0a8" fill-opacity="0.61"/><rect x="457.8" y="59.2" width="1.1" height="1.1" fill="#d89090" fill-opacity="0.55"/><rect x="472.0" y="39.2" width="1.1" height="1.1" fill="#d89090" fill-opacity="0.49"/><rect x="470.0" y="41.6" width="0.8" height="0.8" fill="#f0d0c0" fill-opacity="0.64"/><rect x="470.1" y="47.1" width="1.0" height="1.0" fill="#e8b0a8" fill-opacity="0.67"/><rect x="455.3" y="47.9" width="1.1" height="1.1" fill="#b06068" fill-opacity="0.61"/><rect x="452.5" y="51.4" width="1.2" height="1.2" fill="#f0d0c0" fill-opacity="0.51"/><rect x="465.3" y="28.5" width="1.1" height="1.1" fill="#b06068" fill-opacity="0.75"/><rect x="452.3" y="49.6" width="1.1" height="1.1" fill="#f0d0c0" fill-opacity="0.75"/><rect x="451.6" y="46.3" width="0.6" height="0.6" fill="#b06068" fill-opacity="0.50"/><rect x="458.9" y="43.1" width="1.1" height="1.1" fill="#f0d0c0" fill-opacity="0.52"/><rect x="466.1" y="35.8" width="0.6" height="0.6" fill="#f0d0c0" fill-opacity="0.78"/><rect x="463.3" y="26.3" width="1.2" height="1.2" fill="#b06068" fill-opacity="0.49"/><rect x="455.3" y="39.1" width="1.1" height="1.1" fill="#e8b0a8" fill-opacity="0.57"/><rect x="463.0" y="39.1" width="1.0" height="1.0" fill="#f0d0c0" fill-opacity="0.71"/><rect x="460.0" y="50.7" width="1.0" height="1.0" fill="#f0d0c0" fill-opacity="0.31"/><rect x="477.2" y="49.4" width="0.7" height="0.7" fill="#b06068" fill-opacity="0.56"/><rect x="471.1" y="50.3" width="0.7" height="0.7" fill="#e8b0a8" fill-opacity="0.47"/><rect x="470.8" y="29.2" width="0.6" height="0.6" fill="#e8b0a8" fill-opacity="0.54"/><rect x="456.5" y="42.2" width="1.1" height="1.1" fill="#d89090" fill-opacity="0.36"/><rect x="474.7" y="48.0" width="0.8" height="0.8" fill="#b06068" fill-opacity="0.53"/><rect x="471.6" y="26.5" width="1.0" height="1.0" fill="#e8b0a8" fill-opacity="0.35"/><rect x="477.0" y="38.4" width="1.0" height="1.0" fill="#e8b0a8" fill-opacity="0.80"/><rect x="452.4" y="26.9" width="0.8" height="0.8" fill="#d89090" fill-opacity="0.50"/><rect x="452.9" y="26.9" width="1.1" height="1.1" fill="#f0d0c0" fill-opacity="0.36"/><rect x="456.2" y="34.1" width="1.2" height="1.2" fill="#e8b0a8" fill-opacity="0.40"/><rect x="470.2" y="35.5" width="0.8" height="0.8" fill="#f0d0c0" fill-opacity="0.40"/><rect x="459.2" y="30.6" width="1.1" height="1.1" fill="#b06068" fill-opacity="0.78"/><rect x="481.5" y="42.9" width="0.9" height="0.9" fill="#e8b0a8" fill-opacity="0.34"/><rect x="470.6" y="45.5" width="1.2" height="1.2" fill="#e8b0a8" fill-opacity="0.67"/><rect x="451.0" y="35.1" width="0.5" height="0.5" fill="#d89090" fill-opacity="0.74"/><rect x="470.0" y="45.6" width="0.8" height="0.8" fill="#e8b0a8" fill-opacity="0.36"/><rect x="462.4" y="39.0" width="0.7" height="0.7" fill="#f0d0c0" fill-opacity="0.53"/><rect x="479.1" y="37.5" width="0.7" height="0.7" fill="#f0d0c0" fill-opacity="0.74"/><rect x="458.3" y="32.4" width="0.8" height="0.8" fill="#b06068" fill-opacity="0.45"/><rect x="455.4" y="59.4" width="1.1" height="1.1" fill="#b06068" fill-opacity="0.50"/><rect x="459.2" y="27.4" width="0.8" height="0.8" fill="#b06068" fill-opacity="0.78"/><rect x="452.5" y="44.8" width="0.6" height="0.6" fill="#f0d0c0" fill-opacity="0.61"/><rect x="468.3" y="39.8" width="1.1" height="1.1" fill="#f0d0c0" fill-opacity="0.52"/><rect x="464.0" y="55.0" width="0.8" height="0.8" fill="#e8b0a8" fill-opacity="0.68"/><rect x="453.2" y="38.3" width="0.8" height="0.8" fill="#e8b0a8" fill-opacity="0.47"/><rect x="455.6" y="56.1" width="0.7" height="0.7" fill="#e8b0a8" fill-opacity="0.70"/><rect x="467.3" y="44.0" width="0.9" height="0.9" fill="#d89090" fill-opacity="0.64"/><rect x="450.2" y="28.2" width="1.1" height="1.1" fill="#b06068" fill-opacity="0.46"/><rect x="456.2" y="39.2" width="0.6" height="0.6" fill="#d89090" fill-opacity="0.50"/><rect x="461.0" y="26.4" width="0.8" height="0.8" fill="#d89090" fill-opacity="0.64"/><rect x="461.5" y="30.7" width="0.8" height="0.8" fill="#f0d0c0" fill-opacity="0.46"/><rect x="457.1" y="32.2" width="0.7" height="0.7" fill="#f0d0c0" fill-opacity="0.56"/><rect x="467.2" y="36.6" width="1.0" height="1.0" fill="#f0d0c0" fill-opacity="0.35"/><rect x="454.5" y="38.0" width="0.5" height="0.5" fill="#d89090" fill-opacity="0.72"/><rect x="457.8" y="41.7" width="1.1" height="1.1" fill="#b06068" fill-opacity="0.32"/><rect x="460.8" y="32.6" width="1.1" height="1.1" fill="#d89090" fill-opacity="0.41"/><rect x="452.8" y="30.3" width="0.9" height="0.9" fill="#b06068" fill-opacity="0.34"/><rect x="465.8" y="55.5" width="0.9" height="0.9" fill="#e8b0a8" fill-opacity="0.38"/><rect x="466.3" y="37.5" width="0.5" height="0.5" fill="#b06068" fill-opacity="0.52"/><rect x="450.6" y="32.6" width="0.6" height="0.6" fill="#b06068" fill-opacity="0.43"/><rect x="460.1" y="48.0" width="1.1" height="1.1" fill="#e8b0a8" fill-opacity="0.75"/><rect x="456.7" y="42.6" width="0.5" height="0.5" fill="#b06068" fill-opacity="0.72"/><rect x="472.6" y="52.4" width="1.0" height="1.0" fill="#d89090" fill-opacity="0.37"/><rect x="458.7" y="38.3" width="0.6" height="0.6" fill="#b06068" fill-opacity="0.38"/><rect x="461.9" y="38.0" width="1.1" height="1.1" fill="#b06068" fill-opacity="0.51"/><rect x="462.4" y="26.7" width="0.7" height="0.7" fill="#e8b0a8" fill-opacity="0.43"/><rect x="462.2" y="41.4" width="1.1" height="1.1" fill="#e8b0a8" fill-opacity="0.38"/><rect x="452.7" y="37.3" width="0.9" height="0.9" fill="#e8b0a8" fill-opacity="0.66"/><rect x="471.1" y="28.8" width="0.8" height="0.8" fill="#f0d0c0" fill-opacity="0.59"/><rect x="452.1" y="43.3" width="0.6" height="0.6" fill="#d89090" fill-opacity="0.63"/><rect x="452.3" y="52.0" width="1.1" height="1.1" fill="#e8b0a8" fill-opacity="0.59"/><rect x="452.2" y="35.9" width="0.6" height="0.6" fill="#d89090" fill-opacity="0.65"/><rect x="466.4" y="33.5" width="0.8" height="0.8" fill="#d89090" fill-opacity="0.65"/><rect x="451.7" y="50.2" width="0.8" height="0.8" fill="#d89090" fill-opacity="0.61"/><rect x="453.0" y="46.2" width="1.1" height="1.1" fill="#f0d0c0" fill-opacity="0.66"/><rect x="473.3" y="32.0" width="0.7" height="0.7" fill="#f0d0c0" fill-opacity="0.62"/><rect x="452.1" y="31.8" width="1.0" height="1.0" fill="#e8b0a8" fill-opacity="0.79"/><rect x="469.4" y="48.2" width="0.8" height="0.8" fill="#e8b0a8" fill-opacity="0.59"/><rect x="473.2" y="52.9" width="0.9" height="0.9" fill="#d89090" fill-opacity="0.71"/><rect x="462.0" y="45.4" width="1.2" height="1.2" fill="#f0d0c0" fill-opacity="0.58"/><rect x="452.5" y="43.9" width="0.6" height="0.6" fill="#f0d0c0" fill-opacity="0.53"/><rect x="452.2" y="37.4" width="0.7" height="0.7" fill="#e8b0a8" fill-opacity="0.52"/><rect x="451.1" y="27.1" width="1.0" height="1.0" fill="#e8b0a8" fill-opacity="0.68"/><rect x="465.8" y="40.7" width="0.9" height="0.9" fill="#f0d0c0" fill-opacity="0.43"/><rect x="464.8" y="34.5" width="0.9" height="0.9" fill="#f0d0c0" fill-opacity="0.46"/><rect x="461.0" y="43.6" width="0.6" height="0.6" fill="#e8b0a8" fill-opacity="0.38"/><rect x="455.6" y="28.4" width="1.0" height="1.0" fill="#d89090" fill-opacity="0.74"/><rect x="456.3" y="57.3" width="0.7" height="0.7" fill="#e8b0a8" fill-opacity="0.47"/><rect x="458.4" y="39.9" width="0.5" height="0.5" fill="#b06068" fill-opacity="0.33"/><rect x="477.8" y="36.6" width="0.7" height="0.7" fill="#d89090" fill-opacity="0.77"/><rect x="453.0" y="54.9" width="0.6" height="0.6" fill="#b06068" fill-opacity="0.62"/><rect x="460.3" y="49.5" width="1.1" height="1.1" fill="#f0d0c0" fill-opacity="0.59"/><rect x="477.5" y="45.5" width="0.9" height="0.9" fill="#d89090" fill-opacity="0.62"/><rect x="461.3" y="26.4" width="0.5" height="0.5" fill="#e8b0a8" fill-opacity="0.41"/><rect x="458.7" y="36.8" width="1.0" height="1.0" fill="#e8b0a8" fill-opacity="0.68"/><rect x="463.2" y="28.7" width="1.1" height="1.1" fill="#f0d0c0" fill-opacity="0.37"/>
<rect x="415.50" y="66.60" width="31.00" height="33.60" fill="#3a1222"/>
<rect x="449.00" y="66.60" width="33.50" height="33.60" fill="#2c0c1c"/>
<rect x="485.00" y="66.60" width="30.00" height="33.60" fill="#2c0c1c"/>
<clipPath id="c4"><rect x="415.5" y="66.6" width="31" height="33.6"/></clipPath>
<rect x="416" y="67.5" width="30" height="32" fill="url(#glow2)"/>
<ellipse cx="430" cy="83" rx="21" ry="23" fill="url(#glow2)" clip-path="url(#c4)"/>
<rect x="441.3" y="81.2" width="0.9" height="0.9" fill="#b05030" fill-opacity="0.60"/><rect x="444.9" y="85.2" width="1.7" height="1.7" fill="#e09050" fill-opacity="0.53"/><rect x="425.1" y="81.2" width="1.5" height="1.5" fill="#d07838" fill-opacity="0.64"/><rect x="443.1" y="85.0" width="1.3" height="1.3" fill="#e09050" fill-opacity="0.53"/><rect x="443.2" y="80.3" width="0.9" height="0.9" fill="#c06030" fill-opacity="0.58"/><rect x="440.5" y="96.4" width="1.5" height="1.5" fill="#d07838" fill-opacity="0.63"/><rect x="439.9" y="92.6" width="1.4" height="1.4" fill="#d07838" fill-opacity="0.66"/><rect x="418.2" y="73.4" width="1.8" height="1.8" fill="#e09050" fill-opacity="0.58"/><rect x="421.8" y="95.5" width="0.9" height="0.9" fill="#b05030" fill-opacity="0.49"/><rect x="425.8" y="76.7" width="0.9" height="0.9" fill="#b05030" fill-opacity="0.48"/><rect x="420.7" y="87.5" width="1.1" height="1.1" fill="#c06030" fill-opacity="0.68"/><rect x="441.9" y="90.7" width="1.6" height="1.6" fill="#e09050" fill-opacity="0.38"/><rect x="444.3" y="86.1" width="1.3" height="1.3" fill="#d07838" fill-opacity="0.42"/><rect x="430.7" y="73.4" width="1.7" height="1.7" fill="#b05030" fill-opacity="0.52"/><rect x="421.6" y="97.2" width="1.4" height="1.4" fill="#d07838" fill-opacity="0.63"/><rect x="436.8" y="82.4" width="1.1" height="1.1" fill="#e09050" fill-opacity="0.37"/><rect x="434.8" y="73.1" width="1.2" height="1.2" fill="#d07838" fill-opacity="0.67"/><rect x="440.2" y="75.4" width="1.7" height="1.7" fill="#e09050" fill-opacity="0.40"/><rect x="442.8" y="91.0" width="1.8" height="1.8" fill="#e09050" fill-opacity="0.53"/><rect x="426.4" y="95.7" width="1.1" height="1.1" fill="#e09050" fill-opacity="0.47"/><rect x="433.4" y="74.0" width="1.3" height="1.3" fill="#b05030" fill-opacity="0.51"/><rect x="442.5" y="95.8" width="1.8" height="1.8" fill="#c06030" fill-opacity="0.60"/><rect x="438.2" y="82.0" width="1.7" height="1.7" fill="#b05030" fill-opacity="0.41"/><rect x="421.2" y="81.4" width="0.9" height="0.9" fill="#c06030" fill-opacity="0.60"/><rect x="422.9" y="89.3" width="1.4" height="1.4" fill="#c06030" fill-opacity="0.60"/><rect x="439.2" y="83.4" width="1.4" height="1.4" fill="#b05030" fill-opacity="0.44"/><rect x="431.5" y="72.5" width="1.8" height="1.8" fill="#b05030" fill-opacity="0.38"/><rect x="418.3" y="81.1" width="1.3" height="1.3" fill="#e09050" fill-opacity="0.52"/><rect x="427.1" y="87.4" width="1.2" height="1.2" fill="#d07838" fill-opacity="0.36"/><rect x="434.0" y="72.3" width="1.7" height="1.7" fill="#d07838" fill-opacity="0.52"/><rect x="427.6" y="88.5" width="1.7" height="1.7" fill="#d07838" fill-opacity="0.49"/><rect x="444.3" y="94.2" width="1.2" height="1.2" fill="#c06030" fill-opacity="0.48"/><rect x="440.0" y="72.4" width="0.9" height="0.9" fill="#e09050" fill-opacity="0.55"/><rect x="433.4" y="91.4" width="1.7" height="1.7" fill="#b05030" fill-opacity="0.49"/><rect x="426.8" y="93.8" width="1.0" height="1.0" fill="#d07838" fill-opacity="0.60"/><rect x="440.9" y="87.8" width="0.9" height="0.9" fill="#e09050" fill-opacity="0.60"/><rect x="431.4" y="75.1" width="0.9" height="0.9" fill="#b05030" fill-opacity="0.39"/><rect x="421.7" y="93.6" width="1.8" height="1.8" fill="#d07838" fill-opacity="0.70"/><rect x="433.1" y="85.8" width="0.9" height="0.9" fill="#e09050" fill-opacity="0.62"/><rect x="433.4" y="85.9" width="1.6" height="1.6" fill="#c06030" fill-opacity="0.63"/><rect x="437.2" y="70.3" width="1.3" height="1.3" fill="#d07838" fill-opacity="0.64"/><rect x="443.6" y="84.5" width="1.3" height="1.3" fill="#e09050" fill-opacity="0.36"/><rect x="431.8" y="85.8" width="1.7" height="1.7" fill="#c06030" fill-opacity="0.37"/><rect x="421.8" y="80.7" width="1.6" height="1.6" fill="#e09050" fill-opacity="0.41"/><rect x="438.9" y="86.6" width="1.7" height="1.7" fill="#b05030" fill-opacity="0.49"/><rect x="419.6" y="84.5" width="1.6" height="1.6" fill="#d07838" fill-opacity="0.53"/><rect x="432.1" y="95.6" width="1.6" height="1.6" fill="#e09050" fill-opacity="0.68"/><rect x="437.6" y="78.4" width="1.0" height="1.0" fill="#d07838" fill-opacity="0.59"/><rect x="431.7" y="86.8" width="0.9" height="0.9" fill="#c06030" fill-opacity="0.65"/><rect x="429.3" y="78.5" width="1.8" height="1.8" fill="#e09050" fill-opacity="0.69"/><rect x="421.4" y="85.1" width="1.2" height="1.2" fill="#d07838" fill-opacity="0.53"/><rect x="436.0" y="80.3" width="1.1" height="1.1" fill="#d07838" fill-opacity="0.65"/><rect x="435.8" y="78.6" width="1.0" height="1.0" fill="#c06030" fill-opacity="0.68"/><rect x="440.4" y="75.9" width="1.4" height="1.4" fill="#d07838" fill-opacity="0.35"/><rect x="442.5" y="96.4" width="1.0" height="1.0" fill="#b05030" fill-opacity="0.46"/><rect x="423.0" y="89.1" width="1.2" height="1.2" fill="#d07838" fill-opacity="0.35"/><rect x="423.9" y="88.5" width="1.5" height="1.5" fill="#d07838" fill-opacity="0.54"/><rect x="435.2" y="87.8" width="1.5" height="1.5" fill="#c06030" fill-opacity="0.62"/><rect x="427.1" y="93.8" width="1.2" height="1.2" fill="#b05030" fill-opacity="0.58"/><rect x="427.3" y="87.8" width="1.2" height="1.2" fill="#c06030" fill-opacity="0.52"/>
<rect x="422.9" y="69.3" width="1.0" height="1.0" fill="#c05048" fill-opacity="0.63"/><rect x="446.0" y="88.1" width="1.1" height="1.1" fill="#c05048" fill-opacity="0.47"/><rect x="430.8" y="70.4" width="0.8" height="0.8" fill="#a04040" fill-opacity="0.63"/><rect x="440.3" y="94.3" width="0.8" height="0.8" fill="#d07050" fill-opacity="0.73"/><rect x="431.0" y="67.5" width="0.8" height="0.8" fill="#a04040" fill-opacity="0.49"/><rect x="433.0" y="96.5" width="1.0" height="1.0" fill="#c05048" fill-opacity="0.57"/><rect x="444.3" y="78.0" width="1.1" height="1.1" fill="#a04040" fill-opacity="0.69"/><rect x="441.0" y="67.2" width="0.7" height="0.7" fill="#d07050" fill-opacity="0.65"/><rect x="417.6" y="96.1" width="1.2" height="1.2" fill="#c05048" fill-opacity="0.66"/><rect x="418.2" y="90.7" width="0.8" height="0.8" fill="#c05048" fill-opacity="0.74"/><rect x="437.3" y="74.8" width="1.0" height="1.0" fill="#d07050" fill-opacity="0.64"/><rect x="417.4" y="87.6" width="0.8" height="0.8" fill="#a04040" fill-opacity="0.41"/><rect x="417.8" y="80.7" width="1.2" height="1.2" fill="#c05048" fill-opacity="0.49"/><rect x="424.2" y="72.7" width="0.6" height="0.6" fill="#a04040" fill-opacity="0.69"/><rect x="433.9" y="97.3" width="1.0" height="1.0" fill="#c05048" fill-opacity="0.48"/><rect x="441.7" y="67.9" width="0.8" height="0.8" fill="#a04040" fill-opacity="0.71"/><rect x="437.7" y="73.3" width="0.6" height="0.6" fill="#c05048" fill-opacity="0.71"/><rect x="417.7" y="75.6" width="0.7" height="0.7" fill="#c05048" fill-opacity="0.54"/><rect x="439.8" y="67.7" width="1.1" height="1.1" fill="#a04040" fill-opacity="0.77"/><rect x="428.9" y="67.5" width="0.8" height="0.8" fill="#d07050" fill-opacity="0.63"/><rect x="437.8" y="98.4" width="0.8" height="0.8" fill="#d07050" fill-opacity="0.73"/><rect x="418.7" y="98.2" width="1.1" height="1.1" fill="#c05048" fill-opacity="0.53"/><rect x="442.1" y="68.4" width="0.7" height="0.7" fill="#d07050" fill-opacity="0.47"/><rect x="429.4" y="96.3" width="1.1" height="1.1" fill="#a04040" fill-opacity="0.41"/><rect x="441.7" y="69.7" width="0.7" height="0.7" fill="#d07050" fill-opacity="0.49"/><rect x="441.4" y="92.3" width="0.7" height="0.7" fill="#d07050" fill-opacity="0.69"/><rect x="416.4" y="83.9" width="0.7" height="0.7" fill="#c05048" fill-opacity="0.46"/><rect x="445.0" y="82.2" width="1.0" height="1.0" fill="#c05048" fill-opacity="0.62"/><rect x="434.5" y="98.9" width="0.7" height="0.7" fill="#a04040" fill-opacity="0.48"/><rect x="419.3" y="74.7" width="0.9" height="0.9" fill="#a04040" fill-opacity="0.57"/><rect x="420.2" y="67.4" width="1.1" height="1.1" fill="#d07050" fill-opacity="0.61"/><rect x="422.9" y="74.0" width="1.2" height="1.2" fill="#a04040" fill-opacity="0.77"/><rect x="422.4" y="98.2" width="0.7" height="0.7" fill="#c05048" fill-opacity="0.63"/><rect x="417.8" y="96.6" width="1.0" height="1.0" fill="#c05048" fill-opacity="0.63"/><rect x="443.9" y="98.2" width="1.1" height="1.1" fill="#c05048" fill-opacity="0.66"/><rect x="444.2" y="71.3" width="0.6" height="0.6" fill="#a04040" fill-opacity="0.44"/><rect x="445.8" y="87.4" width="0.9" height="0.9" fill="#a04040" fill-opacity="0.55"/><rect x="426.1" y="71.6" width="0.7" height="0.7" fill="#d07050" fill-opacity="0.58"/><rect x="416.6" y="73.6" width="1.1" height="1.1" fill="#a04040" fill-opacity="0.77"/><rect x="419.4" y="70.7" width="0.8" height="0.8" fill="#d07050" fill-opacity="0.47"/><rect x="417.4" y="70.8" width="1.1" height="1.1" fill="#c05048" fill-opacity="0.55"/><rect x="419.7" y="68.5" width="1.1" height="1.1" fill="#c05048" fill-opacity="0.59"/><rect x="426.1" y="69.2" width="0.8" height="0.8" fill="#d07050" fill-opacity="0.67"/><rect x="443.8" y="95.8" width="0.8" height="0.8" fill="#c05048" fill-opacity="0.68"/><rect x="441.4" y="89.1" width="1.2" height="1.2" fill="#c05048" fill-opacity="0.52"/><rect x="418.0" y="71.6" width="0.9" height="0.9" fill="#a04040" fill-opacity="0.55"/><rect x="441.4" y="95.9" width="0.7" height="0.7" fill="#c05048" fill-opacity="0.52"/><rect x="443.3" y="67.9" width="0.8" height="0.8" fill="#d07050" fill-opacity="0.70"/><rect x="418.0" y="97.6" width="0.6" height="0.6" fill="#c05048" fill-opacity="0.61"/><rect x="445.8" y="98.2" width="0.9" height="0.9" fill="#d07050" fill-opacity="0.73"/><rect x="436.4" y="96.6" width="0.8" height="0.8" fill="#a04040" fill-opacity="0.60"/><rect x="435.5" y="68.5" width="1.0" height="1.0" fill="#d07050" fill-opacity="0.51"/><rect x="437.7" y="69.7" width="0.7" height="0.7" fill="#c05048" fill-opacity="0.56"/><rect x="438.4" y="91.2" width="1.0" height="1.0" fill="#d07050" fill-opacity="0.72"/><rect x="443.5" y="69.8" width="0.9" height="0.9" fill="#d07050" fill-opacity="0.44"/><rect x="445.9" y="89.8" width="1.0" height="1.0" fill="#d07050" fill-opacity="0.57"/><rect x="417.8" y="72.4" width="0.8" height="0.8" fill="#a04040" fill-opacity="0.74"/><rect x="421.6" y="69.6" width="0.9" height="0.9" fill="#c05048" fill-opacity="0.65"/><rect x="418.4" y="71.8" width="0.8" height="0.8" fill="#d07050" fill-opacity="0.71"/><rect x="441.6" y="96.2" width="1.0" height="1.0" fill="#d07050" fill-opacity="0.57"/><rect x="443.4" y="72.6" width="1.2" height="1.2" fill="#c05048" fill-opacity="0.76"/><rect x="441.2" y="78.5" width="1.0" height="1.0" fill="#d07050" fill-opacity="0.80"/><rect x="438.1" y="97.8" width="0.8" height="0.8" fill="#a04040" fill-opacity="0.58"/><rect x="423.3" y="70.2" width="1.1" height="1.1" fill="#d07050" fill-opacity="0.46"/><rect x="433.5" y="94.6" width="0.6" height="0.6" fill="#a04040" fill-opacity="0.69"/><rect x="423.8" y="70.9" width="0.8" height="0.8" fill="#d07050" fill-opacity="0.75"/><rect x="441.7" y="97.1" width="0.8" height="0.8" fill="#c05048" fill-opacity="0.53"/><rect x="436.2" y="97.5" width="0.6" height="0.6" fill="#a04040" fill-opacity="0.50"/><rect x="417.1" y="93.5" width="0.8" height="0.8" fill="#a04040" fill-opacity="0.79"/><rect x="417.4" y="68.2" width="1.2" height="1.2" fill="#d07050" fill-opacity="0.66"/><rect x="442.3" y="87.7" width="1.0" height="1.0" fill="#c05048" fill-opacity="0.60"/><rect x="441.9" y="73.6" width="0.7" height="0.7" fill="#d07050" fill-opacity="0.54"/><rect x="429.5" y="67.4" width="0.7" height="0.7" fill="#d07050" fill-opacity="0.45"/><rect x="433.2" y="71.3" width="0.8" height="0.8" fill="#c05048" fill-opacity="0.73"/><rect x="445.3" y="91.3" width="1.1" height="1.1" fill="#d07050" fill-opacity="0.56"/><rect x="418.6" y="70.7" width="0.6" height="0.6" fill="#c05048" fill-opacity="0.56"/><rect x="420.5" y="98.3" width="0.6" height="0.6" fill="#c05048" fill-opacity="0.69"/><rect x="444.4" y="74.8" width="1.0" height="1.0" fill="#a04040" fill-opacity="0.65"/><rect x="432.0" y="67.1" width="0.8" height="0.8" fill="#a04040" fill-opacity="0.66"/><rect x="417.2" y="81.3" width="0.7" height="0.7" fill="#c05048" fill-opacity="0.58"/>
<clipPath id="c6"><rect x="485" y="66.6" width="30" height="33.6"/></clipPath>
<ellipse cx="509" cy="83" rx="12" ry="19" fill="url(#glow2)" clip-path="url(#c6)"/>
<rect x="504.2" y="82.4" width="0.6" height="0.6" fill="#a04040" fill-opacity="0.74"/><rect x="514.4" y="84.0" width="0.9" height="0.9" fill="#a04040" fill-opacity="0.85"/><rect x="501.9" y="95.1" width="0.6" height="0.6" fill="#c05040" fill-opacity="0.76"/><rect x="502.9" y="82.0" width="1.1" height="1.1" fill="#a04040" fill-opacity="0.59"/><rect x="513.9" y="82.0" width="0.7" height="0.7" fill="#a04040" fill-opacity="0.54"/><rect x="513.5" y="78.6" width="1.0" height="1.0" fill="#a04040" fill-opacity="0.79"/><rect x="507.3" y="90.2" width="0.6" height="0.6" fill="#a04040" fill-opacity="0.73"/><rect x="509.4" y="96.5" width="0.6" height="0.6" fill="#c05040" fill-opacity="0.71"/><rect x="511.4" y="90.5" width="0.7" height="0.7" fill="#c05040" fill-opacity="0.83"/><rect x="514.9" y="79.6" width="0.5" height="0.5" fill="#a04040" fill-opacity="0.48"/><rect x="509.6" y="81.6" width="0.6" height="0.6" fill="#c05040" fill-opacity="0.46"/><rect x="512.1" y="96.6" width="0.5" height="0.5" fill="#c05040" fill-opacity="0.84"/><rect x="510.5" y="94.1" width="0.6" height="0.6" fill="#c05040" fill-opacity="0.59"/><rect x="501.6" y="86.9" width="1.1" height="1.1" fill="#c05040" fill-opacity="0.78"/><rect x="507.0" y="69.9" width="1.0" height="1.0" fill="#c05040" fill-opacity="0.60"/><rect x="514.8" y="92.3" width="0.5" height="0.5" fill="#e09060" fill-opacity="0.86"/><rect x="509.2" y="86.1" width="1.2" height="1.2" fill="#a04040" fill-opacity="0.48"/><rect x="506.2" y="78.6" width="0.5" height="0.5" fill="#c05040" fill-opacity="0.47"/><rect x="514.5" y="96.6" width="0.6" height="0.6" fill="#e09060" fill-opacity="0.41"/><rect x="497.9" y="73.0" width="0.8" height="0.8" fill="#c05040" fill-opacity="0.77"/><rect x="504.7" y="83.5" width="0.9" height="0.9" fill="#a04040" fill-opacity="0.44"/><rect x="514.0" y="76.0" width="0.7" height="0.7" fill="#c05040" fill-opacity="0.56"/><rect x="501.7" y="94.9" width="0.8" height="0.8" fill="#e09060" fill-opacity="0.45"/><rect x="515.0" y="80.4" width="1.2" height="1.2" fill="#a04040" fill-opacity="0.86"/><rect x="503.1" y="97.1" width="1.2" height="1.2" fill="#a04040" fill-opacity="0.71"/><rect x="508.0" y="76.2" width="0.7" height="0.7" fill="#e09060" fill-opacity="0.80"/><rect x="507.3" y="92.4" width="1.2" height="1.2" fill="#e09060" fill-opacity="0.85"/><rect x="504.7" y="72.0" width="0.6" height="0.6" fill="#a04040" fill-opacity="0.67"/><rect x="513.9" y="85.1" width="0.6" height="0.6" fill="#c05040" fill-opacity="0.49"/><rect x="501.7" y="95.4" width="0.7" height="0.7" fill="#e09060" fill-opacity="0.76"/><rect x="502.8" y="70.4" width="0.9" height="0.9" fill="#c05040" fill-opacity="0.52"/><rect x="500.7" y="80.1" width="1.0" height="1.0" fill="#a04040" fill-opacity="0.83"/><rect x="503.8" y="75.9" width="0.6" height="0.6" fill="#c05040" fill-opacity="0.62"/><rect x="503.9" y="94.2" width="1.0" height="1.0" fill="#c05040" fill-opacity="0.53"/><rect x="503.4" y="72.1" width="0.9" height="0.9" fill="#e09060" fill-opacity="0.54"/><rect x="496.2" y="93.0" width="1.1" height="1.1" fill="#e09060" fill-opacity="0.82"/><rect x="508.0" y="71.6" width="0.9" height="0.9" fill="#c05040" fill-opacity="0.83"/><rect x="500.9" y="82.2" width="0.9" height="0.9" fill="#a04040" fill-opacity="0.55"/><rect x="504.6" y="86.6" width="0.6" height="0.6" fill="#e09060" fill-opacity="0.76"/><rect x="514.7" y="83.6" width="0.6" height="0.6" fill="#a04040" fill-opacity="0.89"/><rect x="509.2" y="73.1" width="0.6" height="0.6" fill="#a04040" fill-opacity="0.77"/><rect x="513.4" y="88.4" width="1.1" height="1.1" fill="#a04040" fill-opacity="0.59"/><rect x="509.2" y="74.8" width="0.9" height="0.9" fill="#a04040" fill-opacity="0.83"/><rect x="505.7" y="83.7" width="0.7" height="0.7" fill="#c05040" fill-opacity="0.85"/><rect x="507.9" y="91.9" width="0.6" height="0.6" fill="#a04040" fill-opacity="0.61"/><rect x="510.1" y="70.1" width="1.0" height="1.0" fill="#a04040" fill-opacity="0.87"/><rect x="507.9" y="90.4" width="0.6" height="0.6" fill="#e09060" fill-opacity="0.72"/><rect x="509.4" y="92.9" width="1.1" height="1.1" fill="#e09060" fill-opacity="0.73"/><rect x="501.9" y="89.2" width="1.1" height="1.1" fill="#a04040" fill-opacity="0.53"/><rect x="511.2" y="89.1" width="0.8" height="0.8" fill="#c05040" fill-opacity="0.57"/><rect x="499.9" y="68.4" width="1.0" height="1.0" fill="#e09060" fill-opacity="0.57"/><rect x="500.2" y="73.6" width="0.6" height="0.6" fill="#e09060" fill-opacity="0.71"/><rect x="513.4" y="89.3" width="0.9" height="0.9" fill="#a04040" fill-opacity="0.44"/><rect x="496.4" y="97.2" width="0.9" height="0.9" fill="#c05040" fill-opacity="0.72"/><rect x="507.9" y="89.1" width="0.6" height="0.6" fill="#e09060" fill-opacity="0.83"/><rect x="511.1" y="74.3" width="0.8" height="0.8" fill="#c05040" fill-opacity="0.81"/><rect x="511.3" y="72.5" width="0.6" height="0.6" fill="#c05040" fill-opacity="0.56"/><rect x="511.0" y="84.7" width="1.0" height="1.0" fill="#a04040" fill-opacity="0.48"/><rect x="502.4" y="73.3" width="0.5" height="0.5" fill="#c05040" fill-opacity="0.63"/><rect x="514.6" y="79.8" width="0.6" height="0.6" fill="#e09060" fill-opacity="0.54"/><rect x="498.1" y="98.2" width="0.9" height="0.9" fill="#e09060" fill-opacity="0.87"/><rect x="513.3" y="76.2" width="1.1" height="1.1" fill="#a04040" fill-opacity="0.67"/><rect x="508.9" y="77.6" width="1.0" height="1.0" fill="#c05040" fill-opacity="0.52"/><rect x="499.3" y="75.2" width="0.8" height="0.8" fill="#c05040" fill-opacity="0.49"/><rect x="507.2" y="71.2" width="1.2" height="1.2" fill="#e09060" fill-opacity="0.85"/><rect x="498.0" y="92.4" width="1.2" height="1.2" fill="#e09060" fill-opacity="0.88"/><rect x="510.7" y="88.3" width="0.7" height="0.7" fill="#c05040" fill-opacity="0.51"/><rect x="504.1" y="80.3" width="0.7" height="0.7" fill="#a04040" fill-opacity="0.84"/><rect x="500.9" y="76.0" width="0.7" height="0.7" fill="#e09060" fill-opacity="0.89"/><rect x="500.8" y="68.1" width="1.1" height="1.1" fill="#e09060" fill-opacity="0.43"/><rect x="512.6" y="87.0" width="0.9" height="0.9" fill="#a04040" fill-opacity="0.84"/><rect x="503.5" y="84.1" width="1.2" height="1.2" fill="#a04040" fill-opacity="0.70"/><rect x="506.4" y="68.9" width="0.7" height="0.7" fill="#e09060" fill-opacity="0.47"/><rect x="509.8" y="79.2" width="0.7" height="0.7" fill="#a04040" fill-opacity="0.67"/><rect x="505.8" y="92.3" width="0.5" height="0.5" fill="#a04040" fill-opacity="0.49"/><rect x="512.2" y="75.3" width="1.1" height="1.1" fill="#e09060" fill-opacity="0.82"/><rect x="505.5" y="86.6" width="1.1" height="1.1" fill="#e09060" fill-opacity="0.74"/><rect x="512.9" y="71.6" width="0.9" height="0.9" fill="#e09060" fill-opacity="0.62"/><rect x="513.0" y="77.6" width="1.0" height="1.0" fill="#e09060" fill-opacity="0.40"/><rect x="502.2" y="74.3" width="0.8" height="0.8" fill="#c05040" fill-opacity="0.49"/><rect x="505.3" y="87.1" width="0.9" height="0.9" fill="#a04040" fill-opacity="0.69"/><rect x="511.8" y="94.3" width="0.7" height="0.7" fill="#c05040" fill-opacity="0.76"/><rect x="512.7" y="85.4" width="1.2" height="1.2" fill="#a04040" fill-opacity="0.57"/><rect x="504.0" y="89.4" width="0.9" height="0.9" fill="#e09060" fill-opacity="0.84"/><rect x="502.0" y="75.7" width="1.1" height="1.1" fill="#c05040" fill-opacity="0.55"/><rect x="497.2" y="94.4" width="0.9" height="0.9" fill="#a04040" fill-opacity="0.73"/><rect x="513.6" y="89.3" width="0.9" height="0.9" fill="#c05040" fill-opacity="0.54"/><rect x="513.5" y="82.3" width="0.8" height="0.8" fill="#a04040" fill-opacity="0.49"/><rect x="505.6" y="93.6" width="0.9" height="0.9" fill="#a04040" fill-opacity="0.72"/><rect x="513.6" y="70.2" width="0.7" height="0.7" fill="#e09060" fill-opacity="0.67"/><rect x="511.2" y="90.7" width="0.6" height="0.6" fill="#e09060" fill-opacity="0.62"/><rect x="506.5" y="75.7" width="0.7" height="0.7" fill="#e09060" fill-opacity="0.72"/><rect x="513.4" y="85.7" width="0.7" height="0.7" fill="#a04040" fill-opacity="0.56"/><rect x="514.7" y="97.7" width="0.9" height="0.9" fill="#e09060" fill-opacity="0.44"/><rect x="505.1" y="98.5" width="1.0" height="1.0" fill="#a04040" fill-opacity="0.90"/><rect x="510.6" y="94.4" width="0.7" height="0.7" fill="#e09060" fill-opacity="0.70"/><rect x="510.4" y="93.4" width="0.8" height="0.8" fill="#e09060" fill-opacity="0.46"/><rect x="504.5" y="80.4" width="1.1" height="1.1" fill="#c05040" fill-opacity="0.54"/><rect x="514.2" y="72.1" width="0.9" height="0.9" fill="#e09060" fill-opacity="0.69"/><rect x="497.0" y="83.2" width="1.0" height="1.0" fill="#a04040" fill-opacity="0.56"/><rect x="514.1" y="80.4" width="0.5" height="0.5" fill="#a04040" fill-opacity="0.53"/><rect x="513.9" y="92.2" width="0.7" height="0.7" fill="#c05040" fill-opacity="0.43"/><rect x="495.7" y="91.0" width="1.0" height="1.0" fill="#a04040" fill-opacity="0.74"/><rect x="510.7" y="86.8" width="0.5" height="0.5" fill="#e09060" fill-opacity="0.51"/><rect x="512.9" y="94.8" width="0.9" height="0.9" fill="#a04040" fill-opacity="0.49"/><rect x="510.2" y="88.9" width="1.0" height="1.0" fill="#e09060" fill-opacity="0.41"/><rect x="495.1" y="80.8" width="0.9" height="0.9" fill="#c05040" fill-opacity="0.53"/><rect x="508.3" y="70.2" width="0.8" height="0.8" fill="#a04040" fill-opacity="0.41"/><rect x="509.7" y="95.6" width="1.1" height="1.1" fill="#e09060" fill-opacity="0.89"/><rect x="501.0" y="81.6" width="0.7" height="0.7" fill="#e09060" fill-opacity="0.76"/><rect x="505.1" y="96.7" width="0.7" height="0.7" fill="#c05040" fill-opacity="0.88"/><rect x="501.1" y="80.2" width="0.7" height="0.7" fill="#a04040" fill-opacity="0.85"/><rect x="514.5" y="83.2" width="0.7" height="0.7" fill="#e09060" fill-opacity="0.86"/><rect x="498.7" y="73.0" width="1.0" height="1.0" fill="#e09060" fill-opacity="0.63"/><rect x="505.2" y="87.7" width="1.0" height="1.0" fill="#c05040" fill-opacity="0.45"/><rect x="514.1" y="69.5" width="1.0" height="1.0" fill="#e09060" fill-opacity="0.64"/><rect x="508.0" y="92.9" width="0.9" height="0.9" fill="#c05040" fill-opacity="0.62"/><rect x="510.1" y="85.7" width="0.9" height="0.9" fill="#a04040" fill-opacity="0.87"/><rect x="514.7" y="71.8" width="0.5" height="0.5" fill="#e09060" fill-opacity="0.59"/><rect x="501.5" y="94.4" width="0.7" height="0.7" fill="#c05040" fill-opacity="0.54"/>
<rect x="451.2" y="89.3" width="0.9" height="0.9" fill="#b07080" fill-opacity="0.63"/><rect x="453.6" y="77.1" width="0.6" height="0.6" fill="#b07080" fill-opacity="0.37"/><rect x="454.6" y="79.9" width="0.8" height="0.8" fill="#b07080" fill-opacity="0.31"/><rect x="456.4" y="82.0" width="1.0" height="1.0" fill="#b07080" fill-opacity="0.64"/><rect x="453.9" y="83.0" width="1.0" height="1.0" fill="#c08090" fill-opacity="0.62"/><rect x="453.9" y="78.0" width="0.8" height="0.8" fill="#b07080" fill-opacity="0.56"/><rect x="457.7" y="91.7" width="0.6" height="0.6" fill="#b07080" fill-opacity="0.44"/><rect x="451.5" y="82.7" width="0.8" height="0.8" fill="#b07080" fill-opacity="0.51"/><rect x="453.8" y="77.7" width="0.9" height="0.9" fill="#c08090" fill-opacity="0.32"/><rect x="457.0" y="76.6" width="0.7" height="0.7" fill="#b07080" fill-opacity="0.40"/><rect x="455.6" y="77.7" width="0.9" height="0.9" fill="#b07080" fill-opacity="0.46"/><rect x="458.4" y="90.1" width="0.7" height="0.7" fill="#c08090" fill-opacity="0.39"/><rect x="451.9" y="89.1" width="0.7" height="0.7" fill="#c08090" fill-opacity="0.34"/><rect x="458.0" y="89.9" width="0.9" height="0.9" fill="#b07080" fill-opacity="0.58"/>
<rect x="412.00" y="12.90" width="3.50" height="93.60" fill="#200810"/>
<rect x="447.00" y="12.90" width="3.00" height="93.60" fill="#200810"/>
<line x1="448.50" y1="26.00" x2="448.50" y2="100.00" stroke="#7a4a60" stroke-width="0.7"/>
<rect x="482.50" y="12.90" width="2.50" height="93.60" fill="#200810"/>
<line x1="483.75" y1="26.00" x2="483.75" y2="100.00" stroke="#7a4a60" stroke-width="0.7"/>
<rect x="515.00" y="12.90" width="3.20" height="93.60" fill="#200810"/>
<rect x="413.50" y="21.00" width="103.70" height="4.40" fill="url(#bandG1)"/>
<rect x="413.50" y="25.20" width="103.70" height="1.00" fill="#8a5060"/>
<rect x="413.50" y="59.40" width="103.70" height="5.20" fill="url(#bandV)"/>
<rect x="413.50" y="64.60" width="103.70" height="2.00" fill="#3e1a38"/>
<rect x="413.50" y="99.80" width="103.70" height="4.00" fill="url(#bandV)"/>
<rect x="447.30" y="21.00" width="2.40" height="4.40" fill="#3a1018"/>
<rect x="447.30" y="59.40" width="2.40" height="5.20" fill="#3a1018"/>
<rect x="447.30" y="99.80" width="2.40" height="4.00" fill="#3a1018"/>
<rect x="482.50" y="21.00" width="2.40" height="4.40" fill="#3a1018"/>
<rect x="482.50" y="59.40" width="2.40" height="5.20" fill="#3a1018"/>
<rect x="482.50" y="99.80" width="2.40" height="4.00" fill="#3a1018"/>
<rect x="412.00" y="103.40" width="106.20" height="3.10" fill="#240812"/>
<text x="415.0" y="29.6" font-size="18" font-weight="bold" fill="#f6f0f2" textLength="14.2" lengthAdjust="spacingAndGlyphs">G</text>
<rect x="412.00" y="109.20" width="106.20" height="92.80" fill="#2a0a14"/>
<rect x="415.00" y="117.20" width="18.40" height="33.40" fill="#2e0c16"/>
<rect x="436.00" y="117.20" width="30.00" height="33.40" fill="#300e18"/>
<rect x="469.00" y="117.20" width="32.00" height="33.40" fill="#2e0c16"/>
<rect x="504.00" y="117.20" width="12.00" height="33.40" fill="#2c0c16"/>
<rect x="415.00" y="157.60" width="101.00" height="32.40" fill="#2c0c16"/>
<rect x="412.00" y="110.80" width="2.80" height="84.00" fill="#1a0610"/>
<rect x="433.40" y="110.80" width="3.20" height="84.00" fill="#1a0610"/>
<line x1="435.00" y1="115.00" x2="435.00" y2="190.00" stroke="#9a7088" stroke-width="0.8"/>
<rect x="466.60" y="110.80" width="3.00" height="84.00" fill="#1a0610"/>
<line x1="468.10" y1="115.00" x2="468.10" y2="190.00" stroke="#9a7088" stroke-width="0.8"/>
<rect x="501.20" y="110.80" width="2.80" height="84.00" fill="#1a0610"/>
<line x1="502.60" y1="115.00" x2="502.60" y2="190.00" stroke="#9a7088" stroke-width="0.8"/>
<rect x="515.60" y="110.80" width="2.60" height="84.00" fill="#1a0610"/>
<rect x="413.50" y="110.80" width="103.70" height="4.20" fill="url(#bandH1)"/>
<rect x="413.50" y="115.00" width="103.70" height="2.00" fill="#5a3050"/>
<rect x="413.50" y="150.20" width="103.70" height="6.40" fill="url(#bandV)"/>
<rect x="413.50" y="189.80" width="103.70" height="5.00" fill="url(#bandV)"/>
<rect x="445.00" y="190.60" width="26.00" height="3.60" fill="#eee6bc"/>
<rect x="433.70" y="150.20" width="1.80" height="6.40" fill="#4a2030"/>
<rect x="433.70" y="189.80" width="1.80" height="5.00" fill="#4a2030"/>
<rect x="466.40" y="150.20" width="1.80" height="6.40" fill="#4a2030"/>
<rect x="466.40" y="189.80" width="1.80" height="5.00" fill="#4a2030"/>
<rect x="501.50" y="150.20" width="1.80" height="6.40" fill="#4a2030"/>
<rect x="501.50" y="189.80" width="1.80" height="5.00" fill="#4a2030"/>
<rect x="412.00" y="194.80" width="106.20" height="7.20" fill="#2a0a16"/>
<circle cx="473.5" cy="175" r="2.2" fill="#f8e8d0" filter="url(#b1)"/>
<circle cx="481" cy="175.5" r="2.8" fill="#fff0d8" filter="url(#b1)"/>
<circle cx="509" cy="179" r="1.5" fill="#e0c0b0" filter="url(#b1)"/>
<rect x="451.6" y="130.8" width="0.6" height="0.6" fill="#704858" fill-opacity="0.57"/><rect x="417.8" y="131.2" width="0.9" height="0.9" fill="#604050" fill-opacity="0.32"/><rect x="445.0" y="171.9" width="0.7" height="0.7" fill="#704858" fill-opacity="0.38"/><rect x="435.7" y="175.9" width="1.2" height="1.2" fill="#604050" fill-opacity="0.48"/><rect x="440.7" y="134.8" width="1.0" height="1.0" fill="#604050" fill-opacity="0.54"/><rect x="428.8" y="131.5" width="0.8" height="0.8" fill="#704858" fill-opacity="0.43"/><rect x="497.2" y="123.4" width="0.8" height="0.8" fill="#704858" fill-opacity="0.54"/><rect x="486.8" y="176.0" width="0.8" height="0.8" fill="#604050" fill-opacity="0.46"/><rect x="504.5" y="118.5" width="1.1" height="1.1" fill="#704858" fill-opacity="0.43"/><rect x="493.2" y="172.3" width="0.7" height="0.7" fill="#704858" fill-opacity="0.59"/><rect x="510.0" y="135.7" width="1.2" height="1.2" fill="#604050" fill-opacity="0.45"/><rect x="493.2" y="183.8" width="0.8" height="0.8" fill="#704858" fill-opacity="0.34"/><rect x="499.7" y="149.3" width="0.9" height="0.9" fill="#704858" fill-opacity="0.56"/><rect x="472.4" y="168.4" width="1.1" height="1.1" fill="#604050" fill-opacity="0.30"/><rect x="471.6" y="161.1" width="0.7" height="0.7" fill="#704858" fill-opacity="0.32"/><rect x="456.8" y="173.6" width="0.7" height="0.7" fill="#604050" fill-opacity="0.56"/><rect x="421.8" y="142.2" width="0.7" height="0.7" fill="#704858" fill-opacity="0.35"/><rect x="501.1" y="154.8" width="0.8" height="0.8" fill="#704858" fill-opacity="0.43"/><rect x="428.2" y="161.4" width="1.0" height="1.0" fill="#704858" fill-opacity="0.54"/><rect x="492.4" y="166.3" width="1.1" height="1.1" fill="#604050" fill-opacity="0.43"/><rect x="430.7" y="155.6" width="0.9" height="0.9" fill="#604050" fill-opacity="0.51"/><rect x="459.9" y="166.3" width="0.7" height="0.7" fill="#604050" fill-opacity="0.37"/><rect x="424.5" y="183.3" width="1.0" height="1.0" fill="#704858" fill-opacity="0.32"/><rect x="449.0" y="173.9" width="1.1" height="1.1" fill="#604050" fill-opacity="0.35"/><rect x="508.4" y="131.7" width="0.6" height="0.6" fill="#704858" fill-opacity="0.31"/><rect x="439.3" y="173.2" width="0.9" height="0.9" fill="#604050" fill-opacity="0.54"/><rect x="424.4" y="171.6" width="0.7" height="0.7" fill="#704858" fill-opacity="0.58"/><rect x="488.8" y="170.3" width="1.0" height="1.0" fill="#604050" fill-opacity="0.41"/><rect x="478.4" y="148.4" width="1.1" height="1.1" fill="#704858" fill-opacity="0.57"/><rect x="499.5" y="178.3" width="0.7" height="0.7" fill="#704858" fill-opacity="0.31"/><rect x="453.6" y="186.0" width="1.0" height="1.0" fill="#704858" fill-opacity="0.55"/><rect x="479.0" y="125.2" width="0.9" height="0.9" fill="#704858" fill-opacity="0.56"/><rect x="496.4" y="121.5" width="1.2" height="1.2" fill="#604050" fill-opacity="0.39"/><rect x="458.5" y="185.8" width="1.1" height="1.1" fill="#704858" fill-opacity="0.41"/><rect x="479.4" y="122.2" width="1.1" height="1.1" fill="#704858" fill-opacity="0.51"/><rect x="447.0" y="128.1" width="0.7" height="0.7" fill="#604050" fill-opacity="0.59"/><rect x="437.4" y="151.3" width="0.7" height="0.7" fill="#704858" fill-opacity="0.55"/><rect x="440.2" y="169.1" width="0.8" height="0.8" fill="#604050" fill-opacity="0.34"/><rect x="497.1" y="142.1" width="1.0" height="1.0" fill="#604050" fill-opacity="0.52"/><rect x="448.4" y="161.9" width="1.0" height="1.0" fill="#704858" fill-opacity="0.36"/>
<text x="414.3" y="131.5" font-size="20" font-weight="bold" fill="#f6f0f2" textLength="13.2" lengthAdjust="spacingAndGlyphs">H</text>
<defs><filter id="b1" x="-50%" y="-50%" width="200%" height="200%"><feGaussianBlur stdDeviation="1.2"/></filter><filter id="b2" x="-50%" y="-50%" width="200%" height="200%"><feGaussianBlur stdDeviation="2.2"/></filter></defs>
<clipPath id="k1"><rect x="53.8" y="393.4" width="100.60000000000001" height="101.0"/></clipPath>
<g clip-path="url(#k1)">
<path d="M100.8 439.1h0.9v0.9h-0.9zM106.0 474.0h0.9v0.9h-0.9zM100.6 444.5h0.9v0.9h-0.9zM82.7 478.5h0.9v0.9h-0.9zM107.0 484.2h0.9v0.9h-0.9zM101.9 426.0h0.9v0.9h-0.9zM91.1 459.0h0.9v0.9h-0.9zM103.4 430.3h0.9v0.9h-0.9zM101.0 460.5h0.9v0.9h-0.9zM100.2 480.0h0.9v0.9h-0.9zM97.3 434.5h0.9v0.9h-0.9zM88.9 455.5h0.9v0.9h-0.9zM95.2 438.0h0.9v0.9h-0.9zM91.7 459.2h0.9v0.9h-0.9zM103.6 477.5h0.9v0.9h-0.9zM97.4 434.1h0.9v0.9h-0.9zM93.8 461.7h0.9v0.9h-0.9zM88.4 434.2h0.9v0.9h-0.9zM94.2 485.8h0.9v0.9h-0.9zM97.1 464.8h0.9v0.9h-0.9zM94.0 453.1h0.9v0.9h-0.9zM111.2 482.3h0.9v0.9h-0.9zM108.1 435.9h0.9v0.9h-0.9zM67.2 453.8h0.9v0.9h-0.9zM95.1 459.1h0.9v0.9h-0.9zM92.4 488.8h0.9v0.9h-0.9zM99.4 465.5h0.9v0.9h-0.9zM99.4 447.6h0.9v0.9h-0.9zM120.3 456.7h0.9v0.9h-0.9zM84.8 463.1h0.9v0.9h-0.9zM92.8 453.4h0.9v0.9h-0.9zM119.5 445.1h0.9v0.9h-0.9zM104.1 446.0h0.9v0.9h-0.9zM104.3 431.9h0.9v0.9h-0.9zM91.3 463.8h0.9v0.9h-0.9zM78.9 469.4h0.9v0.9h-0.9zM98.8 476.5h0.9v0.9h-0.9zM98.2 425.4h0.9v0.9h-0.9zM83.5 477.7h0.9v0.9h-0.9zM89.5 461.2h0.9v0.9h-0.9zM96.2 433.0h0.9v0.9h-0.9zM86.6 463.5h0.9v0.9h-0.9zM95.9 477.9h0.9v0.9h-0.9zM98.1 472.0h0.9v0.9h-0.9zM97.4 476.1h0.9v0.9h-0.9zM91.4 480.5h0.9v0.9h-0.9zM103.5 479.5h0.9v0.9h-0.9zM106.8 460.9h0.9v0.9h-0.9zM100.5 419.9h0.9v0.9h-0.9zM88.0 446.4h0.9v0.9h-0.9zM105.0 468.7h0.9v0.9h-0.9zM91.5 452.2h0.9v0.9h-0.9zM106.7 475.3h0.9v0.9h-0.9zM85.2 477.5h0.9v0.9h-0.9zM107.1 462.5h0.9v0.9h-0.9zM83.3 442.1h0.9v0.9h-0.9zM93.5 480.2h0.9v0.9h-0.9zM97.6 452.1h0.9v0.9h-0.9zM100.0 446.0h0.9v0.9h-0.9zM86.2 473.4h0.9v0.9h-0.9zM84.8 449.3h0.9v0.9h-0.9zM99.2 478.8h0.9v0.9h-0.9zM91.9 438.3h0.9v0.9h-0.9zM99.6 462.3h0.9v0.9h-0.9zM105.4 444.7h0.9v0.9h-0.9zM78.9 456.9h0.9v0.9h-0.9zM99.8 454.2h0.9v0.9h-0.9zM110.5 439.0h0.9v0.9h-0.9zM93.7 474.7h0.9v0.9h-0.9zM88.1 436.7h0.9v0.9h-0.9zM105.3 442.0h0.9v0.9h-0.9zM99.8 479.5h0.9v0.9h-0.9zM106.9 481.1h0.9v0.9h-0.9zM93.2 475.0h0.9v0.9h-0.9zM80.7 468.4h0.9v0.9h-0.9zM92.1 437.5h0.9v0.9h-0.9zM105.5 446.8h0.9v0.9h-0.9zM99.1 441.8h0.9v0.9h-0.9zM79.1 479.6h0.9v0.9h-0.9zM83.9 467.4h0.9v0.9h-0.9zM106.7 483.9h0.9v0.9h-0.9zM104.5 481.1h0.9v0.9h-0.9zM90.0 457.2h0.9v0.9h-0.9zM97.0 445.3h0.9v0.9h-0.9zM101.9 441.8h0.9v0.9h-0.9zM106.6 481.0h0.9v0.9h-0.9zM99.8 473.6h0.9v0.9h-0.9zM96.0 454.9h0.9v0.9h-0.9zM94.2 457.7h0.9v0.9h-0.9zM108.6 454.8h0.9v0.9h-0.9zM72.2 455.2h0.9v0.9h-0.9zM95.5 413.6h0.9v0.9h-0.9zM97.4 460.5h0.9v0.9h-0.9zM81.3 454.1h0.9v0.9h-0.9zM100.7 467.5h0.9v0.9h-0.9zM89.8 465.9h0.9v0.9h-0.9zM106.5 478.8h0.9v0.9h-0.9zM95.6 461.4h0.9v0.9h-0.9zM104.4 477.6h0.9v0.9h-0.9zM110.4 410.5h0.9v0.9h-0.9zM101.2 439.7h0.9v0.9h-0.9zM80.3 437.3h0.9v0.9h-0.9zM116.3 456.1h0.9v0.9h-0.9zM95.8 475.9h0.9v0.9h-0.9zM89.4 444.1h0.9v0.9h-0.9zM98.6 476.2h0.9v0.9h-0.9zM94.9 433.2h0.9v0.9h-0.9zM106.4 423.4h0.9v0.9h-0.9zM97.4 435.1h0.9v0.9h-0.9zM97.2 428.6h0.9v0.9h-0.9zM89.1 461.4h0.9v0.9h-0.9zM102.2 455.4h0.9v0.9h-0.9zM85.6 468.3h0.9v0.9h-0.9zM104.3 441.0h0.9v0.9h-0.9zM80.2 459.8h0.9v0.9h-0.9zM69.9 460.8h0.9v0.9h-0.9zM103.8 470.8h0.9v0.9h-0.9zM125.0 456.8h0.9v0.9h-0.9zM86.0 449.1h0.9v0.9h-0.9zM83.2 463.4h0.9v0.9h-0.9zM103.5 480.1h0.9v0.9h-0.9zM87.8 475.0h0.9v0.9h-0.9zM91.4 480.6h0.9v0.9h-0.9zM93.2 450.4h0.9v0.9h-0.9zM102.9 446.2h0.9v0.9h-0.9zM100.1 457.0h0.9v0.9h-0.9zM95.1 471.3h0.9v0.9h-0.9zM87.7 476.5h0.9v0.9h-0.9zM93.5 490.2h0.9v0.9h-0.9zM86.5 434.7h0.9v0.9h-0.9zM97.1 452.2h0.9v0.9h-0.9zM84.6 453.1h0.9v0.9h-0.9zM85.0 455.7h0.9v0.9h-0.9zM113.0 413.5h0.9v0.9h-0.9zM96.4 459.8h0.9v0.9h-0.9zM96.4 403.9h0.9v0.9h-0.9zM102.6 467.7h0.9v0.9h-0.9zM92.4 472.5h0.9v0.9h-0.9zM94.5 473.7h0.9v0.9h-0.9zM101.7 437.7h0.9v0.9h-0.9zM100.1 480.9h0.9v0.9h-0.9zM84.2 444.5h0.9v0.9h-0.9zM106.2 437.3h0.9v0.9h-0.9zM90.5 442.2h0.9v0.9h-0.9zM85.4 444.9h0.9v0.9h-0.9zM87.1 465.3h0.9v0.9h-0.9zM92.7 478.3h0.9v0.9h-0.9zM114.9 419.8h0.9v0.9h-0.9zM84.1 451.0h0.9v0.9h-0.9zM98.8 479.9h0.9v0.9h-0.9zM73.5 465.9h0.9v0.9h-0.9zM97.0 472.0h0.9v0.9h-0.9zM106.9 431.9h0.9v0.9h-0.9zM94.4 481.0h0.9v0.9h-0.9zM90.1 430.6h0.9v0.9h-0.9zM99.5 465.8h0.9v0.9h-0.9zM104.7 489.2h0.9v0.9h-0.9zM118.7 472.2h0.9v0.9h-0.9zM99.3 479.6h0.9v0.9h-0.9zM90.5 449.9h0.9v0.9h-0.9zM95.6 452.4h0.9v0.9h-0.9zM96.2 485.4h0.9v0.9h-0.9zM98.2 462.0h0.9v0.9h-0.9zM96.7 459.5h0.9v0.9h-0.9zM98.9 433.8h0.9v0.9h-0.9zM78.6 465.0h0.9v0.9h-0.9zM106.1 474.9h0.9v0.9h-0.9zM90.7 446.1h0.9v0.9h-0.9zM84.1 451.9h0.9v0.9h-0.9zM104.0 493.6h0.9v0.9h-0.9zM111.5 465.6h0.9v0.9h-0.9zM102.4 456.2h0.9v0.9h-0.9zM98.8 439.3h0.9v0.9h-0.9zM86.7 449.6h0.9v0.9h-0.9zM128.6 457.0h0.9v0.9h-0.9zM106.7 489.4h0.9v0.9h-0.9zM84.5 449.8h0.9v0.9h-0.9zM98.0 443.4h0.9v0.9h-0.9zM79.9 454.8h0.9v0.9h-0.9zM98.9 478.9h0.9v0.9h-0.9zM92.0 457.2h0.9v0.9h-0.9zM110.5 445.4h0.9v0.9h-0.9zM107.6 459.4h0.9v0.9h-0.9zM67.2 471.0h0.9v0.9h-0.9zM97.5 427.7h0.9v0.9h-0.9zM79.2 457.0h0.9v0.9h-0.9zM109.2 459.8h0.9v0.9h-0.9zM98.8 453.9h0.9v0.9h-0.9zM103.0 476.7h0.9v0.9h-0.9zM85.3 450.6h0.9v0.9h-0.9zM117.1 454.7h0.9v0.9h-0.9zM119.2 462.8h0.9v0.9h-0.9zM85.3 476.6h0.9v0.9h-0.9zM101.1 457.6h0.9v0.9h-0.9zM89.6 492.3h0.9v0.9h-0.9zM96.7 443.8h0.9v0.9h-0.9zM83.1 487.7h0.9v0.9h-0.9zM117.5 444.8h0.9v0.9h-0.9zM86.3 458.7h0.9v0.9h-0.9zM93.7 469.3h0.9v0.9h-0.9zM89.9 479.9h0.9v0.9h-0.9zM94.4 453.9h0.9v0.9h-0.9zM90.8 488.0h0.9v0.9h-0.9zM95.5 457.7h0.9v0.9h-0.9zM84.1 446.2h0.9v0.9h-0.9zM92.2 471.0h0.9v0.9h-0.9zM94.7 463.9h0.9v0.9h-0.9zM93.3 481.1h0.9v0.9h-0.9zM97.6 451.0h0.9v0.9h-0.9zM93.8 469.6h0.9v0.9h-0.9zM105.3 474.7h0.9v0.9h-0.9zM93.4 467.6h0.9v0.9h-0.9zM95.5 461.4h0.9v0.9h-0.9zM89.7 448.0h0.9v0.9h-0.9zM91.2 480.1h0.9v0.9h-0.9zM83.1 464.7h0.9v0.9h-0.9zM102.7 471.9h0.9v0.9h-0.9zM84.4 455.0h0.9v0.9h-0.9zM88.8 462.3h0.9v0.9h-0.9zM101.0 441.3h0.9v0.9h-0.9zM101.4 463.7h0.9v0.9h-0.9zM92.6 477.3h0.9v0.9h-0.9zM74.8 463.9h0.9v0.9h-0.9zM101.6 479.2h0.9v0.9h-0.9zM99.9 468.3h0.9v0.9h-0.9zM81.5 489.3h0.9v0.9h-0.9zM105.5 458.2h0.9v0.9h-0.9zM89.3 429.2h0.9v0.9h-0.9zM84.6 470.6h0.9v0.9h-0.9zM98.1 458.7h0.9v0.9h-0.9zM95.0 442.5h0.9v0.9h-0.9zM99.2 475.0h0.9v0.9h-0.9zM79.3 467.3h0.9v0.9h-0.9zM116.9 470.9h0.9v0.9h-0.9zM90.4 455.4h0.9v0.9h-0.9zM80.1 465.9h0.9v0.9h-0.9zM103.8 467.1h0.9v0.9h-0.9zM100.6 448.3h0.9v0.9h-0.9zM93.3 461.8h0.9v0.9h-0.9zM96.3 469.3h0.9v0.9h-0.9zM99.7 427.5h0.9v0.9h-0.9zM88.8 429.9h0.9v0.9h-0.9zM91.8 426.7h0.9v0.9h-0.9zM87.4 473.5h0.9v0.9h-0.9zM97.8 445.0h0.9v0.9h-0.9zM101.9 446.7h0.9v0.9h-0.9zM94.5 422.3h0.9v0.9h-0.9zM87.5 444.0h0.9v0.9h-0.9zM103.8 477.7h0.9v0.9h-0.9zM77.6 434.2h0.9v0.9h-0.9zM85.7 473.9h0.9v0.9h-0.9zM97.4 468.3h0.9v0.9h-0.9zM97.3 452.5h0.9v0.9h-0.9zM96.4 487.3h0.9v0.9h-0.9zM106.9 479.8h0.9v0.9h-0.9zM86.9 456.3h0.9v0.9h-0.9zM90.1 428.7h0.9v0.9h-0.9zM100.7 492.2h0.9v0.9h-0.9zM70.0 434.7h0.9v0.9h-0.9zM131.1 452.5h0.9v0.9h-0.9zM89.3 479.7h0.9v0.9h-0.9zM89.0 484.3h0.9v0.9h-0.9zM106.5 445.1h0.9v0.9h-0.9zM96.6 461.4h0.9v0.9h-0.9zM77.4 456.8h0.9v0.9h-0.9zM103.9 485.6h0.9v0.9h-0.9zM92.1 425.4h0.9v0.9h-0.9zM93.9 480.3h0.9v0.9h-0.9zM102.3 404.8h0.9v0.9h-0.9zM87.0 462.3h0.9v0.9h-0.9zM101.8 439.8h0.9v0.9h-0.9zM89.6 465.3h0.9v0.9h-0.9zM81.7 447.3h0.9v0.9h-0.9zM94.5 452.0h0.9v0.9h-0.9zM87.4 450.5h0.9v0.9h-0.9zM108.0 465.8h0.9v0.9h-0.9zM98.6 458.8h0.9v0.9h-0.9zM105.6 475.1h0.9v0.9h-0.9zM98.5 492.8h0.9v0.9h-0.9zM99.9 476.0h0.9v0.9h-0.9zM88.4 437.5h0.9v0.9h-0.9zM104.3 429.5h0.9v0.9h-0.9zM116.6 446.9h0.9v0.9h-0.9zM93.6 483.1h0.9v0.9h-0.9zM90.5 455.3h0.9v0.9h-0.9zM95.3 448.6h0.9v0.9h-0.9zM91.7 464.8h0.9v0.9h-0.9zM89.3 433.7h0.9v0.9h-0.9zM98.5 439.2h0.9v0.9h-0.9zM93.8 472.2h0.9v0.9h-0.9zM112.8 455.9h0.9v0.9h-0.9zM97.0 452.9h0.9v0.9h-0.9zM100.6 468.4h0.9v0.9h-0.9zM107.5 450.3h0.9v0.9h-0.9zM93.7 448.3h0.9v0.9h-0.9zM112.8 452.8h0.9v0.9h-0.9zM90.0 474.1h0.9v0.9h-0.9zM88.1 463.2h0.9v0.9h-0.9zM93.0 438.1h0.9v0.9h-0.9zM95.7 455.9h0.9v0.9h-0.9zM81.6 475.0h0.9v0.9h-0.9zM78.7 439.2h0.9v0.9h-0.9zM112.3 468.8h0.9v0.9h-0.9zM96.1 456.8h0.9v0.9h-0.9zM89.9 478.5h0.9v0.9h-0.9zM87.0 471.0h0.9v0.9h-0.9zM92.8 491.4h0.9v0.9h-0.9zM94.5 472.4h0.9v0.9h-0.9zM85.5 451.1h0.9v0.9h-0.9zM86.9 451.2h0.9v0.9h-0.9zM94.9 470.1h0.9v0.9h-0.9zM91.3 469.9h0.9v0.9h-0.9zM97.2 438.5h0.9v0.9h-0.9zM102.2 469.0h0.9v0.9h-0.9zM82.3 435.4h0.9v0.9h-0.9zM104.0 428.9h0.9v0.9h-0.9zM96.7 476.9h0.9v0.9h-0.9zM102.3 473.0h0.9v0.9h-0.9zM114.6 441.2h0.9v0.9h-0.9zM99.9 442.4h0.9v0.9h-0.9zM84.9 438.6h0.9v0.9h-0.9zM103.5 475.1h0.9v0.9h-0.9zM82.6 466.4h0.9v0.9h-0.9zM91.6 458.8h0.9v0.9h-0.9zM99.2 460.7h0.9v0.9h-0.9zM103.7 466.5h0.9v0.9h-0.9zM97.8 459.2h0.9v0.9h-0.9zM88.3 458.5h0.9v0.9h-0.9zM90.9 424.1h0.9v0.9h-0.9zM106.7 435.2h0.9v0.9h-0.9zM96.9 474.2h0.9v0.9h-0.9zM78.5 447.9h0.9v0.9h-0.9zM106.3 472.9h0.9v0.9h-0.9zM101.6 486.7h0.9v0.9h-0.9zM106.6 454.9h0.9v0.9h-0.9zM93.3 467.7h0.9v0.9h-0.9zM85.3 475.9h0.9v0.9h-0.9zM91.6 492.7h0.9v0.9h-0.9zM104.4 477.1h0.9v0.9h-0.9zM108.1 459.8h0.9v0.9h-0.9zM88.9 445.2h0.9v0.9h-0.9zM96.4 439.8h0.9v0.9h-0.9zM97.4 471.7h0.9v0.9h-0.9zM110.1 471.4h0.9v0.9h-0.9zM104.8 458.5h0.9v0.9h-0.9zM83.6 479.0h0.9v0.9h-0.9zM102.0 449.9h0.9v0.9h-0.9zM105.2 484.2h0.9v0.9h-0.9zM120.4 462.8h0.9v0.9h-0.9zM78.5 461.3h0.9v0.9h-0.9zM91.1 462.0h0.9v0.9h-0.9zM111.7 460.0h0.9v0.9h-0.9zM83.8 429.8h0.9v0.9h-0.9zM102.7 465.5h0.9v0.9h-0.9zM108.2 486.9h0.9v0.9h-0.9zM89.6 476.4h0.9v0.9h-0.9zM102.9 456.0h0.9v0.9h-0.9zM113.7 440.6h0.9v0.9h-0.9zM97.0 435.9h0.9v0.9h-0.9zM107.9 473.4h0.9v0.9h-0.9zM87.1 432.9h0.9v0.9h-0.9zM95.0 414.4h0.9v0.9h-0.9zM95.9 479.7h0.9v0.9h-0.9zM109.5 477.2h0.9v0.9h-0.9zM103.4 476.6h0.9v0.9h-0.9zM88.7 452.3h0.9v0.9h-0.9zM104.5 465.7h0.9v0.9h-0.9zM105.5 442.7h0.9v0.9h-0.9zM94.2 477.8h0.9v0.9h-0.9zM94.9 476.8h0.9v0.9h-0.9zM78.4 423.0h0.9v0.9h-0.9zM99.1 478.1h0.9v0.9h-0.9zM99.6 491.9h0.9v0.9h-0.9zM87.5 486.3h0.9v0.9h-0.9zM105.2 477.8h0.9v0.9h-0.9zM81.9 462.0h0.9v0.9h-0.9zM90.9 455.2h0.9v0.9h-0.9zM91.8 474.0h0.9v0.9h-0.9zM118.9 469.7h0.9v0.9h-0.9zM79.4 466.7h0.9v0.9h-0.9zM103.2 455.8h0.9v0.9h-0.9zM101.2 438.6h0.9v0.9h-0.9zM110.0 461.5h0.9v0.9h-0.9zM86.0 450.4h0.9v0.9h-0.9zM71.9 482.6h0.9v0.9h-0.9zM105.4 490.6h0.9v0.9h-0.9zM83.8 486.9h0.9v0.9h-0.9zM93.4 477.1h0.9v0.9h-0.9zM84.0 433.9h0.9v0.9h-0.9zM106.5 472.3h0.9v0.9h-0.9zM89.1 459.8h0.9v0.9h-0.9zM106.9 462.4h0.9v0.9h-0.9zM98.3 455.2h0.9v0.9h-0.9zM95.5 470.5h0.9v0.9h-0.9zM97.6 468.2h0.9v0.9h-0.9zM94.8 454.8h0.9v0.9h-0.9zM103.8 410.6h0.9v0.9h-0.9zM100.4 461.3h0.9v0.9h-0.9zM93.2 471.5h0.9v0.9h-0.9zM108.1 472.5h0.9v0.9h-0.9zM90.3 458.9h0.9v0.9h-0.9zM100.2 471.1h0.9v0.9h-0.9zM101.6 482.6h0.9v0.9h-0.9zM113.3 452.6h0.9v0.9h-0.9zM91.4 491.3h0.9v0.9h-0.9zM116.2 422.9h0.9v0.9h-0.9zM98.9 436.8h0.9v0.9h-0.9zM94.9 443.9h0.9v0.9h-0.9zM89.6 413.1h0.9v0.9h-0.9zM103.4 442.0h0.9v0.9h-0.9zM97.5 487.0h0.9v0.9h-0.9zM84.9 486.8h0.9v0.9h-0.9zM84.6 463.9h0.9v0.9h-0.9zM89.6 466.8h0.9v0.9h-0.9zM109.0 452.0h0.9v0.9h-0.9zM112.1 466.8h0.9v0.9h-0.9zM106.6 459.3h0.9v0.9h-0.9zM100.9 476.7h0.9v0.9h-0.9zM92.3 431.9h0.9v0.9h-0.9zM97.6 482.0h0.9v0.9h-0.9zM106.7 452.8h0.9v0.9h-0.9zM120.4 479.1h0.9v0.9h-0.9zM107.0 431.2h0.9v0.9h-0.9zM93.9 453.6h0.9v0.9h-0.9zM97.4 463.6h0.9v0.9h-0.9zM91.7 480.0h0.9v0.9h-0.9zM88.4 437.6h0.9v0.9h-0.9zM99.2 471.7h0.9v0.9h-0.9zM117.2 451.5h0.9v0.9h-0.9zM97.6 486.3h0.9v0.9h-0.9zM111.9 464.1h0.9v0.9h-0.9zM116.4 485.2h0.9v0.9h-0.9zM114.7 477.4h0.9v0.9h-0.9zM104.9 451.5h0.9v0.9h-0.9zM92.4 453.5h0.9v0.9h-0.9zM99.9 473.7h0.9v0.9h-0.9zM97.3 467.8h0.9v0.9h-0.9zM94.4 445.3h0.9v0.9h-0.9zM94.8 448.6h0.9v0.9h-0.9zM98.6 475.3h0.9v0.9h-0.9zM87.3 409.4h0.9v0.9h-0.9zM96.9 476.5h0.9v0.9h-0.9zM80.3 457.8h0.9v0.9h-0.9zM99.9 477.6h0.9v0.9h-0.9zM103.9 479.4h0.9v0.9h-0.9zM98.8 463.1h0.9v0.9h-0.9zM100.1 441.7h0.9v0.9h-0.9zM103.5 434.1h0.9v0.9h-0.9zM89.7 424.5h0.9v0.9h-0.9zM94.4 486.4h0.9v0.9h-0.9zM102.6 457.8h0.9v0.9h-0.9zM108.0 451.2h0.9v0.9h-0.9zM101.3 456.4h0.9v0.9h-0.9zM125.1 435.2h0.9v0.9h-0.9zM96.0 468.1h0.9v0.9h-0.9zM108.0 488.4h0.9v0.9h-0.9zM110.9 484.8h0.9v0.9h-0.9zM95.5 430.7h0.9v0.9h-0.9zM88.0 489.3h0.9v0.9h-0.9zM84.0 446.7h0.9v0.9h-0.9zM98.8 423.7h0.9v0.9h-0.9zM109.2 437.4h0.9v0.9h-0.9zM100.0 442.7h0.9v0.9h-0.9zM98.9 461.9h0.9v0.9h-0.9zM92.8 441.4h0.9v0.9h-0.9zM103.2 431.8h0.9v0.9h-0.9zM73.5 456.7h0.9v0.9h-0.9zM97.3 448.0h0.9v0.9h-0.9zM81.9 471.3h0.9v0.9h-0.9zM120.9 463.6h0.9v0.9h-0.9zM85.1 424.0h0.9v0.9h-0.9zM83.8 483.9h0.9v0.9h-0.9zM109.2 436.4h0.9v0.9h-0.9zM87.2 450.2h0.9v0.9h-0.9zM104.4 460.1h0.9v0.9h-0.9zM99.9 446.7h0.9v0.9h-0.9zM82.6 424.2h0.9v0.9h-0.9zM90.3 487.9h0.9v0.9h-0.9zM115.4 445.2h0.9v0.9h-0.9zM82.8 457.1h0.9v0.9h-0.9zM87.9 461.5h0.9v0.9h-0.9zM95.2 463.9h0.9v0.9h-0.9zM105.9 458.6h0.9v0.9h-0.9zM99.8 467.4h0.9v0.9h-0.9zM105.2 469.7h0.9v0.9h-0.9zM85.3 479.1h0.9v0.9h-0.9zM107.4 453.5h0.9v0.9h-0.9zM103.3 447.0h0.9v0.9h-0.9zM79.5 440.7h0.9v0.9h-0.9zM113.9 473.9h0.9v0.9h-0.9zM122.2 461.1h0.9v0.9h-0.9zM88.5 473.1h0.9v0.9h-0.9zM97.6 472.8h0.9v0.9h-0.9zM80.7 466.2h0.9v0.9h-0.9zM75.1 477.0h0.9v0.9h-0.9zM82.7 437.9h0.9v0.9h-0.9zM90.8 440.4h0.9v0.9h-0.9zM90.6 455.8h0.9v0.9h-0.9zM103.7 437.7h0.9v0.9h-0.9zM100.0 475.8h0.9v0.9h-0.9zM83.3 435.3h0.9v0.9h-0.9zM103.2 463.4h0.9v0.9h-0.9zM117.6 412.8h0.9v0.9h-0.9zM110.2 439.9h0.9v0.9h-0.9zM107.9 455.2h0.9v0.9h-0.9zM97.2 456.8h0.9v0.9h-0.9zM107.8 426.2h0.9v0.9h-0.9zM86.4 464.2h0.9v0.9h-0.9zM105.3 481.5h0.9v0.9h-0.9zM96.0 475.0h0.9v0.9h-0.9zM109.4 448.8h0.9v0.9h-0.9zM102.1 450.3h0.9v0.9h-0.9zM85.0 438.3h0.9v0.9h-0.9zM98.4 474.6h0.9v0.9h-0.9zM110.4 490.8h0.9v0.9h-0.9zM84.6 451.5h0.9v0.9h-0.9zM90.8 428.0h0.9v0.9h-0.9zM88.5 466.0h0.9v0.9h-0.9zM80.5 476.2h0.9v0.9h-0.9zM107.6 407.6h0.9v0.9h-0.9zM111.4 464.8h0.9v0.9h-0.9zM99.7 478.4h0.9v0.9h-0.9zM96.4 473.0h0.9v0.9h-0.9zM99.6 470.0h0.9v0.9h-0.9zM89.0 483.2h0.9v0.9h-0.9zM106.8 443.2h0.9v0.9h-0.9zM108.5 445.1h0.9v0.9h-0.9zM107.3 470.2h0.9v0.9h-0.9zM91.2 448.3h0.9v0.9h-0.9zM97.9 467.2h0.9v0.9h-0.9zM95.2 423.7h0.9v0.9h-0.9zM116.7 477.2h0.9v0.9h-0.9zM99.0 478.9h0.9v0.9h-0.9zM76.3 462.9h0.9v0.9h-0.9zM101.4 465.3h0.9v0.9h-0.9zM104.5 440.3h0.9v0.9h-0.9zM106.7 443.7h0.9v0.9h-0.9zM97.4 440.1h0.9v0.9h-0.9zM75.3 453.5h0.9v0.9h-0.9zM77.1 441.8h0.9v0.9h-0.9zM83.3 462.7h0.9v0.9h-0.9zM95.6 449.0h0.9v0.9h-0.9zM100.4 433.0h0.9v0.9h-0.9zM104.6 431.0h0.9v0.9h-0.9zM93.3 486.2h0.9v0.9h-0.9zM107.5 460.6h0.9v0.9h-0.9zM93.9 457.5h0.9v0.9h-0.9zM89.3 462.5h0.9v0.9h-0.9zM106.4 460.4h0.9v0.9h-0.9zM86.9 477.1h0.9v0.9h-0.9zM67.0 473.2h0.9v0.9h-0.9zM85.3 450.2h0.9v0.9h-0.9zM98.0 445.5h0.9v0.9h-0.9zM63.1 440.3h0.9v0.9h-0.9zM93.1 437.0h0.9v0.9h-0.9zM93.3 490.0h0.9v0.9h-0.9zM81.3 443.7h0.9v0.9h-0.9zM80.7 421.6h0.9v0.9h-0.9zM91.9 445.1h0.9v0.9h-0.9zM91.0 446.2h0.9v0.9h-0.9zM110.9 468.6h0.9v0.9h-0.9zM101.1 444.3h0.9v0.9h-0.9zM79.6 472.7h0.9v0.9h-0.9zM87.6 469.8h0.9v0.9h-0.9zM104.8 487.3h0.9v0.9h-0.9zM100.4 489.0h0.9v0.9h-0.9zM117.5 438.8h0.9v0.9h-0.9zM96.8 453.9h0.9v0.9h-0.9zM93.6 467.0h0.9v0.9h-0.9zM91.4 475.5h0.9v0.9h-0.9zM121.0 486.1h0.9v0.9h-0.9zM81.4 458.5h0.9v0.9h-0.9zM97.1 473.8h0.9v0.9h-0.9zM81.5 476.4h0.9v0.9h-0.9zM98.4 452.9h0.9v0.9h-0.9zM106.8 477.5h0.9v0.9h-0.9zM94.3 483.4h0.9v0.9h-0.9zM105.0 458.8h0.9v0.9h-0.9zM104.9 482.4h0.9v0.9h-0.9zM115.9 463.3h0.9v0.9h-0.9zM105.6 462.0h0.9v0.9h-0.9zM93.6 455.8h0.9v0.9h-0.9zM89.5 449.6h0.9v0.9h-0.9zM87.7 465.1h0.9v0.9h-0.9zM102.2 453.8h0.9v0.9h-0.9zM93.4 455.8h0.9v0.9h-0.9zM127.0 446.5h0.9v0.9h-0.9zM117.3 431.3h0.9v0.9h-0.9zM94.6 443.3h0.9v0.9h-0.9zM93.4 468.6h0.9v0.9h-0.9zM115.6 438.3h0.9v0.9h-0.9zM76.3 449.0h0.9v0.9h-0.9zM107.5 484.5h0.9v0.9h-0.9zM87.0 448.1h0.9v0.9h-0.9zM91.8 474.1h0.9v0.9h-0.9zM93.1 449.0h0.9v0.9h-0.9zM98.5 450.3h0.9v0.9h-0.9zM101.4 463.6h0.9v0.9h-0.9zM103.5 489.7h0.9v0.9h-0.9zM97.3 445.4h0.9v0.9h-0.9zM109.2 488.1h0.9v0.9h-0.9zM89.0 445.7h0.9v0.9h-0.9zM81.2 466.8h0.9v0.9h-0.9zM77.5 456.1h0.9v0.9h-0.9zM79.2 460.2h0.9v0.9h-0.9zM90.9 465.2h0.9v0.9h-0.9zM108.3 460.5h0.9v0.9h-0.9zM98.9 441.7h0.9v0.9h-0.9zM90.4 479.3h0.9v0.9h-0.9zM85.2 476.4h0.9v0.9h-0.9zM91.2 487.8h0.9v0.9h-0.9zM92.6 489.7h0.9v0.9h-0.9zM90.8 435.1h0.9v0.9h-0.9zM81.2 487.7h0.9v0.9h-0.9zM91.8 488.0h0.9v0.9h-0.9zM108.2 451.4h0.9v0.9h-0.9zM73.1 482.7h0.9v0.9h-0.9zM94.4 491.4h0.9v0.9h-0.9zM73.7 451.2h0.9v0.9h-0.9zM99.0 434.4h0.9v0.9h-0.9zM88.8 454.8h0.9v0.9h-0.9zM98.1 466.7h0.9v0.9h-0.9zM117.0 437.7h0.9v0.9h-0.9zM98.2 456.9h0.9v0.9h-0.9zM109.8 442.1h0.9v0.9h-0.9zM96.2 454.0h0.9v0.9h-0.9zM73.3 463.9h0.9v0.9h-0.9zM102.4 410.8h0.9v0.9h-0.9zM92.4 469.2h0.9v0.9h-0.9zM80.9 490.3h0.9v0.9h-0.9zM105.6 458.1h0.9v0.9h-0.9zM100.2 454.3h0.9v0.9h-0.9zM91.2 483.9h0.9v0.9h-0.9zM106.5 436.7h0.9v0.9h-0.9zM87.4 437.1h0.9v0.9h-0.9zM104.1 434.2h0.9v0.9h-0.9zM86.7 458.9h0.9v0.9h-0.9zM102.9 469.9h0.9v0.9h-0.9zM84.9 460.2h0.9v0.9h-0.9zM113.4 473.0h0.9v0.9h-0.9zM99.8 478.6h0.9v0.9h-0.9zM112.8 471.9h0.9v0.9h-0.9zM88.0 445.8h0.9v0.9h-0.9zM91.8 456.6h0.9v0.9h-0.9zM106.2 487.0h0.9v0.9h-0.9zM66.8 441.1h0.9v0.9h-0.9zM85.3 456.9h0.9v0.9h-0.9zM108.4 453.7h0.9v0.9h-0.9zM102.1 458.4h0.9v0.9h-0.9zM107.8 440.5h0.9v0.9h-0.9zM93.6 435.0h0.9v0.9h-0.9zM89.0 480.9h0.9v0.9h-0.9zM81.9 447.7h0.9v0.9h-0.9zM78.4 460.8h0.9v0.9h-0.9zM90.9 475.5h0.9v0.9h-0.9zM91.0 455.1h0.9v0.9h-0.9zM90.1 474.3h0.9v0.9h-0.9zM58.0 449.7h0.9v0.9h-0.9zM75.0 454.8h0.9v0.9h-0.9zM91.1 460.3h0.9v0.9h-0.9zM100.2 452.9h0.9v0.9h-0.9zM90.6 412.9h0.9v0.9h-0.9zM87.4 462.4h0.9v0.9h-0.9zM71.6 467.2h0.9v0.9h-0.9zM119.2 471.5h0.9v0.9h-0.9zM84.9 442.1h0.9v0.9h-0.9zM115.5 468.9h0.9v0.9h-0.9zM114.2 466.3h0.9v0.9h-0.9zM100.0 426.6h0.9v0.9h-0.9zM90.7 418.0h0.9v0.9h-0.9zM98.5 471.5h0.9v0.9h-0.9zM84.3 442.9h0.9v0.9h-0.9zM99.9 482.0h0.9v0.9h-0.9zM102.9 450.3h0.9v0.9h-0.9zM107.5 448.2h0.9v0.9h-0.9zM116.1 461.8h0.9v0.9h-0.9zM92.7 475.5h0.9v0.9h-0.9zM108.5 439.3h0.9v0.9h-0.9zM88.3 486.9h0.9v0.9h-0.9zM87.2 481.8h0.9v0.9h-0.9zM90.2 475.2h0.9v0.9h-0.9zM86.2 451.2h0.9v0.9h-0.9zM107.8 480.3h0.9v0.9h-0.9zM107.2 479.1h0.9v0.9h-0.9zM111.0 438.0h0.9v0.9h-0.9zM100.0 456.0h0.9v0.9h-0.9zM90.6 469.4h0.9v0.9h-0.9zM84.3 451.5h0.9v0.9h-0.9zM101.9 469.7h0.9v0.9h-0.9zM100.0 485.2h0.9v0.9h-0.9zM84.8 445.9h0.9v0.9h-0.9zM103.4 428.9h0.9v0.9h-0.9zM77.8 453.0h0.9v0.9h-0.9zM95.0 435.9h0.9v0.9h-0.9zM90.1 446.8h0.9v0.9h-0.9zM91.2 459.5h0.9v0.9h-0.9zM85.1 460.7h0.9v0.9h-0.9zM107.5 487.8h0.9v0.9h-0.9zM103.2 441.7h0.9v0.9h-0.9zM110.0 469.1h0.9v0.9h-0.9zM98.4 451.8h0.9v0.9h-0.9zM82.7 489.3h0.9v0.9h-0.9zM83.9 468.1h0.9v0.9h-0.9zM110.2 451.4h0.9v0.9h-0.9zM100.5 430.0h0.9v0.9h-0.9zM90.3 436.6h0.9v0.9h-0.9zM92.8 430.4h0.9v0.9h-0.9zM99.1 442.9h0.9v0.9h-0.9zM80.9 457.2h0.9v0.9h-0.9zM98.5 485.0h0.9v0.9h-0.9zM99.0 476.0h0.9v0.9h-0.9zM90.8 471.3h0.9v0.9h-0.9zM92.2 453.5h0.9v0.9h-0.9zM98.7 447.6h0.9v0.9h-0.9zM87.8 462.7h0.9v0.9h-0.9zM87.8 464.8h0.9v0.9h-0.9zM105.4 467.1h0.9v0.9h-0.9zM99.2 469.4h0.9v0.9h-0.9zM115.2 459.6h0.9v0.9h-0.9zM85.9 423.5h0.9v0.9h-0.9zM77.2 439.7h0.9v0.9h-0.9zM107.1 445.5h0.9v0.9h-0.9zM88.6 453.5h0.9v0.9h-0.9zM80.6 475.5h0.9v0.9h-0.9zM96.2 491.3h0.9v0.9h-0.9zM77.4 468.7h0.9v0.9h-0.9zM92.9 454.1h0.9v0.9h-0.9zM72.7 456.1h0.9v0.9h-0.9zM94.1 441.6h0.9v0.9h-0.9zM73.3 468.1h0.9v0.9h-0.9zM94.0 484.6h0.9v0.9h-0.9zM113.3 473.4h0.9v0.9h-0.9zM93.7 477.4h0.9v0.9h-0.9zM105.1 476.4h0.9v0.9h-0.9zM86.8 449.3h0.9v0.9h-0.9zM80.1 465.2h0.9v0.9h-0.9zM108.0 476.1h0.9v0.9h-0.9zM95.9 486.9h0.9v0.9h-0.9zM114.4 413.4h0.9v0.9h-0.9zM83.6 451.6h0.9v0.9h-0.9zM94.1 457.8h0.9v0.9h-0.9zM97.4 441.4h0.9v0.9h-0.9zM112.0 478.9h0.9v0.9h-0.9zM116.5 466.4h0.9v0.9h-0.9zM89.4 454.1h0.9v0.9h-0.9zM84.0 429.3h0.9v0.9h-0.9zM77.4 435.5h0.9v0.9h-0.9zM111.2 442.3h0.9v0.9h-0.9zM95.5 471.1h0.9v0.9h-0.9zM89.3 437.6h0.9v0.9h-0.9zM95.9 420.6h0.9v0.9h-0.9zM68.3 432.9h0.9v0.9h-0.9zM77.5 450.2h0.9v0.9h-0.9zM98.1 452.4h0.9v0.9h-0.9zM85.4 480.9h0.9v0.9h-0.9zM102.9 490.0h0.9v0.9h-0.9zM116.0 487.7h0.9v0.9h-0.9zM83.0 459.7h0.9v0.9h-0.9zM96.6 436.0h0.9v0.9h-0.9zM91.6 452.2h0.9v0.9h-0.9zM100.4 424.8h0.9v0.9h-0.9zM96.6 466.8h0.9v0.9h-0.9zM94.8 477.5h0.9v0.9h-0.9zM86.7 424.1h0.9v0.9h-0.9zM96.2 461.0h0.9v0.9h-0.9zM89.6 467.8h0.9v0.9h-0.9zM94.8 487.0h0.9v0.9h-0.9zM95.7 489.6h0.9v0.9h-0.9zM103.6 478.0h0.9v0.9h-0.9zM90.0 448.3h0.9v0.9h-0.9zM92.8 454.6h0.9v0.9h-0.9zM108.2 486.1h0.9v0.9h-0.9zM94.0 449.9h0.9v0.9h-0.9zM93.5 461.2h0.9v0.9h-0.9zM105.9 493.2h0.9v0.9h-0.9zM99.4 464.6h0.9v0.9h-0.9zM97.4 434.5h0.9v0.9h-0.9zM98.8 456.1h0.9v0.9h-0.9zM82.8 474.8h0.9v0.9h-0.9zM101.5 458.2h0.9v0.9h-0.9zM111.0 485.2h0.9v0.9h-0.9zM102.8 487.6h0.9v0.9h-0.9zM79.3 449.0h0.9v0.9h-0.9zM99.6 451.9h0.9v0.9h-0.9zM86.5 459.9h0.9v0.9h-0.9zM94.0 438.0h0.9v0.9h-0.9zM97.9 469.6h0.9v0.9h-0.9zM83.4 458.4h0.9v0.9h-0.9zM111.2 477.7h0.9v0.9h-0.9zM95.8 450.0h0.9v0.9h-0.9zM105.3 444.4h0.9v0.9h-0.9zM111.3 444.4h0.9v0.9h-0.9zM109.7 450.3h0.9v0.9h-0.9zM80.4 447.4h0.9v0.9h-0.9zM97.1 455.9h0.9v0.9h-0.9zM73.1 443.7h0.9v0.9h-0.9zM91.7 461.1h0.9v0.9h-0.9zM104.5 447.9h0.9v0.9h-0.9zM106.7 453.7h0.9v0.9h-0.9zM110.8 469.3h0.9v0.9h-0.9zM92.5 476.0h0.9v0.9h-0.9zM100.1 471.3h0.9v0.9h-0.9zM97.7 447.3h0.9v0.9h-0.9zM110.6 469.9h0.9v0.9h-0.9zM114.1 459.6h0.9v0.9h-0.9zM92.7 459.9h0.9v0.9h-0.9zM138.3 427.6h0.9v0.9h-0.9zM96.6 475.4h0.9v0.9h-0.9zM92.6 459.2h0.9v0.9h-0.9zM105.0 474.8h0.9v0.9h-0.9zM102.7 439.7h0.9v0.9h-0.9zM89.5 434.6h0.9v0.9h-0.9zM112.9 485.0h0.9v0.9h-0.9zM97.3 444.5h0.9v0.9h-0.9zM113.6 475.7h0.9v0.9h-0.9zM112.0 456.0h0.9v0.9h-0.9zM86.0 463.6h0.9v0.9h-0.9zM85.7 492.3h0.9v0.9h-0.9zM99.5 488.7h0.9v0.9h-0.9zM97.4 452.8h0.9v0.9h-0.9zM99.7 455.5h0.9v0.9h-0.9zM87.8 491.8h0.9v0.9h-0.9zM101.5 462.1h0.9v0.9h-0.9zM112.2 444.8h0.9v0.9h-0.9zM82.1 486.3h0.9v0.9h-0.9zM99.5 461.5h0.9v0.9h-0.9zM95.4 490.4h0.9v0.9h-0.9zM94.6 459.2h0.9v0.9h-0.9zM116.3 489.6h0.9v0.9h-0.9zM110.9 457.8h0.9v0.9h-0.9zM106.2 489.3h0.9v0.9h-0.9zM88.5 473.6h0.9v0.9h-0.9zM121.5 459.1h0.9v0.9h-0.9zM100.8 467.5h0.9v0.9h-0.9zM90.5 452.0h0.9v0.9h-0.9zM93.1 440.3h0.9v0.9h-0.9zM91.5 441.8h0.9v0.9h-0.9zM120.2 461.8h0.9v0.9h-0.9zM99.1 441.9h0.9v0.9h-0.9zM97.5 471.9h0.9v0.9h-0.9zM73.2 473.7h0.9v0.9h-0.9zM105.0 472.6h0.9v0.9h-0.9zM85.2 453.3h0.9v0.9h-0.9z" fill="#2020b0" fill-opacity="0.62"/>
<path d="M93.2 413.8h0.9v0.9h-0.9zM92.4 464.9h0.9v0.9h-0.9zM105.9 432.1h0.9v0.9h-0.9zM84.6 436.5h0.9v0.9h-0.9zM88.8 421.4h0.9v0.9h-0.9zM90.3 417.0h0.9v0.9h-0.9zM91.2 408.7h0.9v0.9h-0.9zM85.2 461.9h0.9v0.9h-0.9zM102.9 434.6h0.9v0.9h-0.9zM86.3 427.5h0.9v0.9h-0.9zM101.9 422.4h0.9v0.9h-0.9zM113.1 393.5h0.9v0.9h-0.9zM105.5 400.8h0.9v0.9h-0.9zM74.6 449.6h0.9v0.9h-0.9zM100.4 412.7h0.9v0.9h-0.9zM97.5 447.3h0.9v0.9h-0.9zM98.2 442.7h0.9v0.9h-0.9zM76.4 440.7h0.9v0.9h-0.9zM100.3 444.8h0.9v0.9h-0.9zM81.8 401.4h0.9v0.9h-0.9zM105.6 417.6h0.9v0.9h-0.9zM103.4 442.9h0.9v0.9h-0.9zM118.2 400.2h0.9v0.9h-0.9zM88.8 464.6h0.9v0.9h-0.9zM77.4 415.7h0.9v0.9h-0.9zM103.1 426.6h0.9v0.9h-0.9zM101.4 405.4h0.9v0.9h-0.9zM88.8 436.0h0.9v0.9h-0.9zM106.2 411.9h0.9v0.9h-0.9zM99.5 422.7h0.9v0.9h-0.9zM79.7 402.9h0.9v0.9h-0.9zM89.1 454.2h0.9v0.9h-0.9zM91.5 437.9h0.9v0.9h-0.9zM94.5 433.2h0.9v0.9h-0.9zM85.7 437.6h0.9v0.9h-0.9zM90.6 405.5h0.9v0.9h-0.9zM98.5 450.7h0.9v0.9h-0.9zM91.9 449.2h0.9v0.9h-0.9zM89.9 431.5h0.9v0.9h-0.9zM89.6 434.9h0.9v0.9h-0.9zM91.6 424.5h0.9v0.9h-0.9zM73.4 442.1h0.9v0.9h-0.9zM94.2 409.9h0.9v0.9h-0.9zM82.3 440.2h0.9v0.9h-0.9zM93.7 436.9h0.9v0.9h-0.9zM77.9 397.0h0.9v0.9h-0.9zM95.0 425.4h0.9v0.9h-0.9zM79.1 424.4h0.9v0.9h-0.9zM95.0 454.8h0.9v0.9h-0.9zM85.0 429.3h0.9v0.9h-0.9zM110.6 417.0h0.9v0.9h-0.9zM97.5 398.1h0.9v0.9h-0.9zM84.6 426.1h0.9v0.9h-0.9zM94.9 415.2h0.9v0.9h-0.9zM92.3 403.7h0.9v0.9h-0.9zM104.6 425.4h0.9v0.9h-0.9zM96.2 451.3h0.9v0.9h-0.9zM97.8 430.0h0.9v0.9h-0.9zM81.5 404.9h0.9v0.9h-0.9zM100.6 435.2h0.9v0.9h-0.9zM113.6 403.8h0.9v0.9h-0.9zM92.3 438.9h0.9v0.9h-0.9zM94.3 415.9h0.9v0.9h-0.9zM83.1 452.5h0.9v0.9h-0.9zM94.5 434.8h0.9v0.9h-0.9zM81.7 410.3h0.9v0.9h-0.9zM93.1 432.8h0.9v0.9h-0.9zM88.8 456.5h0.9v0.9h-0.9zM84.4 423.8h0.9v0.9h-0.9zM98.5 404.7h0.9v0.9h-0.9zM77.8 413.4h0.9v0.9h-0.9zM92.3 410.1h0.9v0.9h-0.9zM79.4 402.0h0.9v0.9h-0.9zM111.0 399.6h0.9v0.9h-0.9zM112.4 437.3h0.9v0.9h-0.9zM101.2 452.4h0.9v0.9h-0.9zM111.7 420.0h0.9v0.9h-0.9zM98.6 445.3h0.9v0.9h-0.9zM98.1 448.0h0.9v0.9h-0.9zM88.4 465.0h0.9v0.9h-0.9zM83.7 423.9h0.9v0.9h-0.9zM94.0 420.3h0.9v0.9h-0.9zM87.3 437.3h0.9v0.9h-0.9zM88.3 430.1h0.9v0.9h-0.9zM100.0 434.6h0.9v0.9h-0.9zM91.4 456.5h0.9v0.9h-0.9zM77.1 418.6h0.9v0.9h-0.9zM90.5 432.8h0.9v0.9h-0.9zM85.0 406.4h0.9v0.9h-0.9zM89.7 424.5h0.9v0.9h-0.9zM81.7 413.2h0.9v0.9h-0.9zM104.7 411.3h0.9v0.9h-0.9zM111.7 423.2h0.9v0.9h-0.9zM81.5 418.2h0.9v0.9h-0.9zM99.1 436.2h0.9v0.9h-0.9zM98.6 445.7h0.9v0.9h-0.9zM81.9 395.2h0.9v0.9h-0.9zM93.7 450.1h0.9v0.9h-0.9zM101.1 433.4h0.9v0.9h-0.9zM108.8 443.6h0.9v0.9h-0.9zM80.9 413.7h0.9v0.9h-0.9zM85.2 423.0h0.9v0.9h-0.9zM95.5 410.8h0.9v0.9h-0.9zM96.1 447.7h0.9v0.9h-0.9zM88.7 406.6h0.9v0.9h-0.9zM86.5 432.1h0.9v0.9h-0.9zM97.1 456.6h0.9v0.9h-0.9zM64.9 454.2h0.9v0.9h-0.9zM108.5 442.7h0.9v0.9h-0.9zM87.2 433.5h0.9v0.9h-0.9zM78.2 411.1h0.9v0.9h-0.9zM98.0 454.8h0.9v0.9h-0.9zM78.4 441.7h0.9v0.9h-0.9zM96.4 409.4h0.9v0.9h-0.9zM88.5 399.8h0.9v0.9h-0.9zM98.4 414.2h0.9v0.9h-0.9zM100.4 451.8h0.9v0.9h-0.9zM105.4 455.5h0.9v0.9h-0.9zM87.5 463.5h0.9v0.9h-0.9zM89.5 410.9h0.9v0.9h-0.9zM92.3 420.1h0.9v0.9h-0.9zM78.3 458.4h0.9v0.9h-0.9zM98.3 432.8h0.9v0.9h-0.9zM93.7 444.8h0.9v0.9h-0.9zM79.0 398.9h0.9v0.9h-0.9zM104.5 419.9h0.9v0.9h-0.9zM106.0 427.7h0.9v0.9h-0.9zM79.2 420.2h0.9v0.9h-0.9zM98.1 418.9h0.9v0.9h-0.9zM100.8 463.9h0.9v0.9h-0.9zM82.6 431.3h0.9v0.9h-0.9zM78.4 396.0h0.9v0.9h-0.9zM91.2 451.8h0.9v0.9h-0.9zM87.4 429.6h0.9v0.9h-0.9zM92.3 443.9h0.9v0.9h-0.9zM91.3 423.9h0.9v0.9h-0.9zM97.6 411.0h0.9v0.9h-0.9zM86.7 411.6h0.9v0.9h-0.9zM90.7 435.8h0.9v0.9h-0.9zM122.0 445.3h0.9v0.9h-0.9zM91.0 439.1h0.9v0.9h-0.9zM99.7 442.5h0.9v0.9h-0.9zM95.2 454.8h0.9v0.9h-0.9zM94.5 434.7h0.9v0.9h-0.9zM83.2 450.5h0.9v0.9h-0.9zM97.5 452.8h0.9v0.9h-0.9zM91.8 435.0h0.9v0.9h-0.9zM100.4 426.9h0.9v0.9h-0.9zM112.8 419.0h0.9v0.9h-0.9zM94.1 402.2h0.9v0.9h-0.9zM99.9 394.4h0.9v0.9h-0.9zM82.0 457.6h0.9v0.9h-0.9zM93.4 428.5h0.9v0.9h-0.9zM107.8 416.7h0.9v0.9h-0.9zM91.6 463.5h0.9v0.9h-0.9zM85.9 450.2h0.9v0.9h-0.9zM94.3 430.2h0.9v0.9h-0.9zM90.4 451.0h0.9v0.9h-0.9zM89.8 424.7h0.9v0.9h-0.9zM88.5 436.9h0.9v0.9h-0.9zM112.1 469.1h0.9v0.9h-0.9zM83.5 452.3h0.9v0.9h-0.9zM88.1 423.1h0.9v0.9h-0.9zM86.5 444.4h0.9v0.9h-0.9zM104.6 455.2h0.9v0.9h-0.9zM89.4 426.6h0.9v0.9h-0.9zM105.3 420.1h0.9v0.9h-0.9zM93.9 470.6h0.9v0.9h-0.9zM92.0 422.8h0.9v0.9h-0.9zM77.6 400.4h0.9v0.9h-0.9zM104.3 432.7h0.9v0.9h-0.9zM97.6 480.0h0.9v0.9h-0.9zM96.3 443.6h0.9v0.9h-0.9zM91.0 451.0h0.9v0.9h-0.9zM79.5 418.0h0.9v0.9h-0.9zM101.7 456.9h0.9v0.9h-0.9zM94.9 421.6h0.9v0.9h-0.9zM88.6 459.5h0.9v0.9h-0.9zM85.9 441.1h0.9v0.9h-0.9zM93.4 439.4h0.9v0.9h-0.9zM91.3 467.7h0.9v0.9h-0.9zM108.6 419.7h0.9v0.9h-0.9zM100.0 420.5h0.9v0.9h-0.9zM86.3 433.2h0.9v0.9h-0.9zM81.2 435.7h0.9v0.9h-0.9zM89.9 393.6h0.9v0.9h-0.9zM83.1 458.0h0.9v0.9h-0.9zM93.0 436.0h0.9v0.9h-0.9zM96.3 427.3h0.9v0.9h-0.9zM98.6 444.6h0.9v0.9h-0.9zM96.4 422.3h0.9v0.9h-0.9zM90.3 457.6h0.9v0.9h-0.9zM98.2 432.4h0.9v0.9h-0.9zM83.4 446.9h0.9v0.9h-0.9zM91.5 411.5h0.9v0.9h-0.9zM100.4 424.9h0.9v0.9h-0.9zM95.1 439.2h0.9v0.9h-0.9zM79.6 410.2h0.9v0.9h-0.9zM80.7 416.4h0.9v0.9h-0.9zM76.1 429.8h0.9v0.9h-0.9zM110.3 455.4h0.9v0.9h-0.9zM76.8 447.6h0.9v0.9h-0.9zM90.9 450.8h0.9v0.9h-0.9zM110.7 437.5h0.9v0.9h-0.9zM103.1 450.7h0.9v0.9h-0.9zM105.5 464.7h0.9v0.9h-0.9zM87.3 434.5h0.9v0.9h-0.9zM99.7 440.4h0.9v0.9h-0.9zM122.8 443.6h0.9v0.9h-0.9zM96.5 428.6h0.9v0.9h-0.9zM89.2 439.9h0.9v0.9h-0.9zM92.2 447.3h0.9v0.9h-0.9zM96.1 423.6h0.9v0.9h-0.9zM106.2 452.1h0.9v0.9h-0.9zM83.3 416.6h0.9v0.9h-0.9zM78.1 426.7h0.9v0.9h-0.9zM92.6 467.6h0.9v0.9h-0.9zM94.4 400.9h0.9v0.9h-0.9zM106.5 428.8h0.9v0.9h-0.9zM99.5 427.2h0.9v0.9h-0.9zM86.1 428.4h0.9v0.9h-0.9zM98.0 418.6h0.9v0.9h-0.9zM103.5 444.6h0.9v0.9h-0.9zM95.2 406.8h0.9v0.9h-0.9zM89.0 401.2h0.9v0.9h-0.9zM99.1 440.8h0.9v0.9h-0.9zM88.8 403.9h0.9v0.9h-0.9zM73.7 438.3h0.9v0.9h-0.9zM105.7 430.5h0.9v0.9h-0.9zM79.5 414.9h0.9v0.9h-0.9zM89.0 422.4h0.9v0.9h-0.9zM89.2 427.7h0.9v0.9h-0.9zM89.0 439.7h0.9v0.9h-0.9zM89.5 415.9h0.9v0.9h-0.9zM77.9 425.2h0.9v0.9h-0.9zM97.6 398.2h0.9v0.9h-0.9zM92.6 423.6h0.9v0.9h-0.9zM103.0 428.6h0.9v0.9h-0.9zM103.3 419.5h0.9v0.9h-0.9zM105.7 475.5h0.9v0.9h-0.9zM110.8 457.6h0.9v0.9h-0.9zM96.8 426.0h0.9v0.9h-0.9zM76.9 450.1h0.9v0.9h-0.9zM94.4 435.5h0.9v0.9h-0.9zM92.4 404.0h0.9v0.9h-0.9zM86.3 453.5h0.9v0.9h-0.9zM83.4 437.6h0.9v0.9h-0.9zM102.0 443.0h0.9v0.9h-0.9zM81.1 449.0h0.9v0.9h-0.9zM97.7 413.9h0.9v0.9h-0.9zM90.6 446.2h0.9v0.9h-0.9zM99.1 424.0h0.9v0.9h-0.9zM91.8 429.6h0.9v0.9h-0.9zM86.7 446.0h0.9v0.9h-0.9zM92.8 437.5h0.9v0.9h-0.9zM72.3 433.6h0.9v0.9h-0.9zM86.3 440.9h0.9v0.9h-0.9zM87.8 414.3h0.9v0.9h-0.9zM78.3 461.2h0.9v0.9h-0.9zM94.0 421.2h0.9v0.9h-0.9zM94.9 446.1h0.9v0.9h-0.9zM86.2 428.6h0.9v0.9h-0.9zM90.5 423.2h0.9v0.9h-0.9zM98.9 441.5h0.9v0.9h-0.9zM102.8 438.4h0.9v0.9h-0.9zM84.6 458.1h0.9v0.9h-0.9zM95.5 452.2h0.9v0.9h-0.9zM102.5 416.1h0.9v0.9h-0.9zM91.8 439.6h0.9v0.9h-0.9zM84.4 430.8h0.9v0.9h-0.9zM84.4 411.1h0.9v0.9h-0.9zM88.9 404.4h0.9v0.9h-0.9zM81.8 434.2h0.9v0.9h-0.9zM112.2 416.8h0.9v0.9h-0.9zM86.4 398.1h0.9v0.9h-0.9zM95.8 426.5h0.9v0.9h-0.9zM93.9 433.4h0.9v0.9h-0.9zM98.4 430.7h0.9v0.9h-0.9zM88.2 402.0h0.9v0.9h-0.9zM79.0 415.8h0.9v0.9h-0.9zM108.4 458.6h0.9v0.9h-0.9zM91.2 411.6h0.9v0.9h-0.9zM93.2 421.3h0.9v0.9h-0.9zM94.0 479.2h0.9v0.9h-0.9zM104.6 436.1h0.9v0.9h-0.9zM99.7 417.4h0.9v0.9h-0.9zM100.2 435.2h0.9v0.9h-0.9zM93.5 397.8h0.9v0.9h-0.9zM94.6 427.8h0.9v0.9h-0.9zM84.6 409.3h0.9v0.9h-0.9zM89.6 464.7h0.9v0.9h-0.9zM81.3 425.9h0.9v0.9h-0.9zM117.9 448.5h0.9v0.9h-0.9zM107.6 444.5h0.9v0.9h-0.9zM103.7 412.2h0.9v0.9h-0.9zM86.5 430.2h0.9v0.9h-0.9zM112.6 420.3h0.9v0.9h-0.9zM75.0 449.4h0.9v0.9h-0.9zM79.9 437.6h0.9v0.9h-0.9zM84.2 420.4h0.9v0.9h-0.9zM82.4 464.6h0.9v0.9h-0.9zM93.3 439.5h0.9v0.9h-0.9zM94.0 438.3h0.9v0.9h-0.9zM111.1 410.9h0.9v0.9h-0.9zM102.0 437.1h0.9v0.9h-0.9zM104.2 395.9h0.9v0.9h-0.9zM96.2 438.3h0.9v0.9h-0.9zM90.5 407.5h0.9v0.9h-0.9zM85.2 432.1h0.9v0.9h-0.9zM76.9 422.0h0.9v0.9h-0.9zM83.3 433.1h0.9v0.9h-0.9zM88.2 435.9h0.9v0.9h-0.9zM99.6 426.8h0.9v0.9h-0.9zM75.2 426.8h0.9v0.9h-0.9zM78.4 395.3h0.9v0.9h-0.9zM81.5 455.8h0.9v0.9h-0.9zM95.4 440.6h0.9v0.9h-0.9zM87.9 395.5h0.9v0.9h-0.9zM84.5 470.0h0.9v0.9h-0.9zM78.7 412.3h0.9v0.9h-0.9zM91.1 439.2h0.9v0.9h-0.9zM84.7 437.4h0.9v0.9h-0.9zM85.9 430.4h0.9v0.9h-0.9zM85.6 441.4h0.9v0.9h-0.9zM93.9 397.8h0.9v0.9h-0.9zM93.5 427.2h0.9v0.9h-0.9zM74.9 422.4h0.9v0.9h-0.9zM90.4 429.9h0.9v0.9h-0.9zM96.0 422.0h0.9v0.9h-0.9zM102.4 413.9h0.9v0.9h-0.9zM99.8 411.9h0.9v0.9h-0.9zM94.1 447.5h0.9v0.9h-0.9zM80.6 409.3h0.9v0.9h-0.9zM84.3 436.0h0.9v0.9h-0.9zM101.1 435.7h0.9v0.9h-0.9zM85.0 425.8h0.9v0.9h-0.9zM102.3 437.3h0.9v0.9h-0.9zM104.7 439.9h0.9v0.9h-0.9zM81.4 416.3h0.9v0.9h-0.9zM96.4 435.4h0.9v0.9h-0.9zM90.9 469.9h0.9v0.9h-0.9zM112.3 404.4h0.9v0.9h-0.9zM100.4 421.3h0.9v0.9h-0.9zM86.9 411.1h0.9v0.9h-0.9zM96.1 471.7h0.9v0.9h-0.9zM82.8 397.1h0.9v0.9h-0.9zM90.5 428.2h0.9v0.9h-0.9zM94.0 448.4h0.9v0.9h-0.9zM93.5 408.9h0.9v0.9h-0.9zM95.1 425.0h0.9v0.9h-0.9zM82.9 412.3h0.9v0.9h-0.9zM73.5 398.5h0.9v0.9h-0.9zM88.4 426.4h0.9v0.9h-0.9zM83.1 438.9h0.9v0.9h-0.9zM85.0 419.2h0.9v0.9h-0.9zM113.4 431.6h0.9v0.9h-0.9zM103.6 443.0h0.9v0.9h-0.9zM90.3 454.2h0.9v0.9h-0.9zM77.7 400.8h0.9v0.9h-0.9zM79.0 441.4h0.9v0.9h-0.9zM95.6 414.3h0.9v0.9h-0.9zM89.1 410.9h0.9v0.9h-0.9zM93.4 442.1h0.9v0.9h-0.9zM94.5 434.7h0.9v0.9h-0.9zM102.7 403.9h0.9v0.9h-0.9zM73.2 463.3h0.9v0.9h-0.9zM93.6 436.8h0.9v0.9h-0.9zM96.1 426.5h0.9v0.9h-0.9zM101.5 416.1h0.9v0.9h-0.9zM96.0 437.2h0.9v0.9h-0.9zM81.0 419.5h0.9v0.9h-0.9zM86.2 452.9h0.9v0.9h-0.9zM76.8 434.9h0.9v0.9h-0.9zM93.9 441.5h0.9v0.9h-0.9zM93.9 421.3h0.9v0.9h-0.9zM97.1 395.6h0.9v0.9h-0.9zM82.3 439.6h0.9v0.9h-0.9zM80.6 405.8h0.9v0.9h-0.9zM107.3 425.7h0.9v0.9h-0.9zM93.8 427.7h0.9v0.9h-0.9zM109.5 410.9h0.9v0.9h-0.9zM96.4 447.5h0.9v0.9h-0.9zM77.4 396.7h0.9v0.9h-0.9zM100.1 460.7h0.9v0.9h-0.9zM104.4 415.0h0.9v0.9h-0.9zM87.5 449.1h0.9v0.9h-0.9zM72.8 456.3h0.9v0.9h-0.9zM98.7 409.1h0.9v0.9h-0.9zM90.6 411.9h0.9v0.9h-0.9zM94.8 448.6h0.9v0.9h-0.9zM65.1 432.1h0.9v0.9h-0.9zM96.6 429.8h0.9v0.9h-0.9zM100.9 439.8h0.9v0.9h-0.9zM73.8 459.4h0.9v0.9h-0.9zM73.4 412.5h0.9v0.9h-0.9zM87.5 409.1h0.9v0.9h-0.9zM108.5 432.6h0.9v0.9h-0.9zM108.2 438.2h0.9v0.9h-0.9zM85.9 440.3h0.9v0.9h-0.9zM102.0 418.4h0.9v0.9h-0.9zM94.6 459.9h0.9v0.9h-0.9zM95.5 417.1h0.9v0.9h-0.9zM84.7 455.5h0.9v0.9h-0.9zM102.6 436.1h0.9v0.9h-0.9zM119.0 417.1h0.9v0.9h-0.9zM101.2 404.3h0.9v0.9h-0.9zM67.5 449.2h0.9v0.9h-0.9zM79.9 456.2h0.9v0.9h-0.9zM95.3 415.2h0.9v0.9h-0.9zM92.7 442.1h0.9v0.9h-0.9zM73.4 404.5h0.9v0.9h-0.9zM90.6 414.5h0.9v0.9h-0.9zM88.4 422.6h0.9v0.9h-0.9zM91.5 420.4h0.9v0.9h-0.9zM90.7 442.0h0.9v0.9h-0.9zM101.2 401.6h0.9v0.9h-0.9zM106.6 449.2h0.9v0.9h-0.9zM98.8 449.1h0.9v0.9h-0.9zM80.8 423.2h0.9v0.9h-0.9zM83.3 402.1h0.9v0.9h-0.9zM91.4 426.6h0.9v0.9h-0.9zM87.7 412.4h0.9v0.9h-0.9zM88.5 430.2h0.9v0.9h-0.9zM82.7 405.0h0.9v0.9h-0.9zM101.4 428.1h0.9v0.9h-0.9zM100.5 426.7h0.9v0.9h-0.9zM101.5 428.2h0.9v0.9h-0.9zM91.2 434.2h0.9v0.9h-0.9zM96.5 434.4h0.9v0.9h-0.9zM82.8 449.2h0.9v0.9h-0.9zM81.8 410.9h0.9v0.9h-0.9zM86.5 443.7h0.9v0.9h-0.9zM97.8 431.5h0.9v0.9h-0.9zM90.5 418.9h0.9v0.9h-0.9zM80.5 406.3h0.9v0.9h-0.9zM92.9 459.8h0.9v0.9h-0.9zM96.2 433.2h0.9v0.9h-0.9zM93.6 416.8h0.9v0.9h-0.9zM85.3 429.6h0.9v0.9h-0.9zM92.6 428.1h0.9v0.9h-0.9zM87.8 416.7h0.9v0.9h-0.9zM88.7 398.0h0.9v0.9h-0.9zM91.1 431.4h0.9v0.9h-0.9zM99.5 424.5h0.9v0.9h-0.9zM110.2 421.9h0.9v0.9h-0.9zM107.6 449.5h0.9v0.9h-0.9zM98.3 399.5h0.9v0.9h-0.9zM88.0 407.3h0.9v0.9h-0.9zM88.9 431.6h0.9v0.9h-0.9zM89.3 446.2h0.9v0.9h-0.9zM103.5 441.4h0.9v0.9h-0.9zM64.3 443.9h0.9v0.9h-0.9zM72.1 438.9h0.9v0.9h-0.9zM92.0 437.2h0.9v0.9h-0.9zM105.2 442.9h0.9v0.9h-0.9zM82.9 413.1h0.9v0.9h-0.9zM69.2 439.2h0.9v0.9h-0.9zM105.0 449.9h0.9v0.9h-0.9zM107.1 463.0h0.9v0.9h-0.9zM97.0 433.6h0.9v0.9h-0.9zM104.6 399.2h0.9v0.9h-0.9zM84.0 429.3h0.9v0.9h-0.9zM103.7 442.2h0.9v0.9h-0.9zM109.0 439.3h0.9v0.9h-0.9zM98.4 469.8h0.9v0.9h-0.9zM94.8 423.8h0.9v0.9h-0.9zM104.8 406.0h0.9v0.9h-0.9zM103.3 414.3h0.9v0.9h-0.9zM84.5 442.5h0.9v0.9h-0.9zM105.6 410.8h0.9v0.9h-0.9zM99.4 405.5h0.9v0.9h-0.9zM93.6 410.0h0.9v0.9h-0.9zM105.0 454.5h0.9v0.9h-0.9zM101.3 433.4h0.9v0.9h-0.9zM99.5 420.9h0.9v0.9h-0.9zM86.9 446.7h0.9v0.9h-0.9zM100.3 443.2h0.9v0.9h-0.9zM80.9 407.0h0.9v0.9h-0.9zM90.7 446.3h0.9v0.9h-0.9zM75.1 433.5h0.9v0.9h-0.9zM96.4 402.5h0.9v0.9h-0.9zM91.2 433.9h0.9v0.9h-0.9zM92.8 438.8h0.9v0.9h-0.9zM97.9 422.0h0.9v0.9h-0.9zM95.5 406.6h0.9v0.9h-0.9zM83.1 433.7h0.9v0.9h-0.9zM91.3 440.4h0.9v0.9h-0.9zM86.8 425.0h0.9v0.9h-0.9zM90.8 427.7h0.9v0.9h-0.9zM88.3 414.2h0.9v0.9h-0.9zM85.5 446.4h0.9v0.9h-0.9zM94.3 409.5h0.9v0.9h-0.9zM112.6 440.9h0.9v0.9h-0.9zM83.8 413.1h0.9v0.9h-0.9zM97.2 460.2h0.9v0.9h-0.9zM77.4 437.7h0.9v0.9h-0.9zM107.9 411.8h0.9v0.9h-0.9zM88.7 452.6h0.9v0.9h-0.9zM93.4 426.5h0.9v0.9h-0.9zM104.8 441.2h0.9v0.9h-0.9zM101.9 415.2h0.9v0.9h-0.9zM77.1 415.6h0.9v0.9h-0.9zM97.6 444.1h0.9v0.9h-0.9zM89.7 430.9h0.9v0.9h-0.9zM98.2 412.3h0.9v0.9h-0.9zM93.5 409.7h0.9v0.9h-0.9zM99.4 442.9h0.9v0.9h-0.9zM94.9 467.1h0.9v0.9h-0.9zM90.6 410.6h0.9v0.9h-0.9zM103.8 443.7h0.9v0.9h-0.9zM87.7 398.8h0.9v0.9h-0.9zM82.4 443.6h0.9v0.9h-0.9zM90.6 463.5h0.9v0.9h-0.9zM87.7 430.3h0.9v0.9h-0.9zM90.5 440.9h0.9v0.9h-0.9zM87.1 434.7h0.9v0.9h-0.9zM87.3 450.9h0.9v0.9h-0.9zM75.6 405.5h0.9v0.9h-0.9zM91.6 442.9h0.9v0.9h-0.9zM95.1 419.6h0.9v0.9h-0.9zM86.0 421.7h0.9v0.9h-0.9zM85.4 429.0h0.9v0.9h-0.9z" fill="#3a3ae0" fill-opacity="0.45"/>
<path d="M68.7 477.3h0.9v0.9h-0.9zM70.4 488.9h0.9v0.9h-0.9zM68.4 477.7h0.9v0.9h-0.9zM65.3 485.7h0.9v0.9h-0.9zM83.2 466.1h0.9v0.9h-0.9zM88.2 485.2h0.9v0.9h-0.9zM64.7 476.0h0.9v0.9h-0.9zM89.9 472.2h0.9v0.9h-0.9zM85.2 471.8h0.9v0.9h-0.9zM69.4 466.4h0.9v0.9h-0.9zM77.8 493.6h0.9v0.9h-0.9zM73.9 475.7h0.9v0.9h-0.9zM77.9 475.1h0.9v0.9h-0.9zM86.9 472.0h0.9v0.9h-0.9zM68.7 476.9h0.9v0.9h-0.9zM66.1 480.3h0.9v0.9h-0.9zM93.3 464.3h0.9v0.9h-0.9zM81.9 466.1h0.9v0.9h-0.9zM77.4 478.9h0.9v0.9h-0.9zM72.4 493.8h0.9v0.9h-0.9zM73.8 471.6h0.9v0.9h-0.9zM76.5 464.1h0.9v0.9h-0.9zM80.0 474.5h0.9v0.9h-0.9zM83.0 476.9h0.9v0.9h-0.9zM77.7 483.8h0.9v0.9h-0.9zM78.8 466.6h0.9v0.9h-0.9zM58.6 472.0h0.9v0.9h-0.9zM74.7 488.3h0.9v0.9h-0.9zM73.4 487.9h0.9v0.9h-0.9zM75.8 493.2h0.9v0.9h-0.9zM86.2 461.7h0.9v0.9h-0.9zM80.9 484.3h0.9v0.9h-0.9zM57.8 477.5h0.9v0.9h-0.9zM81.6 487.6h0.9v0.9h-0.9zM76.0 484.1h0.9v0.9h-0.9zM96.8 468.5h0.9v0.9h-0.9zM72.2 479.9h0.9v0.9h-0.9zM71.6 469.6h0.9v0.9h-0.9zM63.0 481.5h0.9v0.9h-0.9zM77.5 476.2h0.9v0.9h-0.9zM58.0 486.4h0.9v0.9h-0.9zM80.5 484.8h0.9v0.9h-0.9zM71.3 479.3h0.9v0.9h-0.9zM91.8 464.8h0.9v0.9h-0.9zM65.4 471.7h0.9v0.9h-0.9zM72.9 485.3h0.9v0.9h-0.9zM66.3 480.8h0.9v0.9h-0.9zM72.7 466.0h0.9v0.9h-0.9zM87.7 472.3h0.9v0.9h-0.9zM69.1 481.1h0.9v0.9h-0.9zM78.4 473.8h0.9v0.9h-0.9zM78.8 492.4h0.9v0.9h-0.9zM81.8 483.1h0.9v0.9h-0.9zM74.0 472.9h0.9v0.9h-0.9zM64.6 482.7h0.9v0.9h-0.9zM85.5 478.5h0.9v0.9h-0.9zM72.6 479.0h0.9v0.9h-0.9zM69.8 481.6h0.9v0.9h-0.9zM64.7 485.5h0.9v0.9h-0.9zM67.2 471.9h0.9v0.9h-0.9zM68.0 468.4h0.9v0.9h-0.9zM78.4 476.9h0.9v0.9h-0.9zM88.2 469.2h0.9v0.9h-0.9zM68.4 482.3h0.9v0.9h-0.9zM75.9 465.4h0.9v0.9h-0.9zM71.8 480.2h0.9v0.9h-0.9zM66.6 481.9h0.9v0.9h-0.9zM70.2 477.4h0.9v0.9h-0.9zM101.4 459.4h0.9v0.9h-0.9zM87.9 470.7h0.9v0.9h-0.9zM72.9 485.4h0.9v0.9h-0.9zM74.7 477.8h0.9v0.9h-0.9zM79.6 468.4h0.9v0.9h-0.9zM78.0 475.7h0.9v0.9h-0.9zM73.3 478.6h0.9v0.9h-0.9zM65.0 473.3h0.9v0.9h-0.9zM63.3 486.6h0.9v0.9h-0.9zM72.8 466.6h0.9v0.9h-0.9zM74.3 462.5h0.9v0.9h-0.9zM89.0 460.7h0.9v0.9h-0.9zM66.4 481.2h0.9v0.9h-0.9zM82.5 480.0h0.9v0.9h-0.9zM72.3 479.4h0.9v0.9h-0.9zM86.9 474.8h0.9v0.9h-0.9zM79.6 489.3h0.9v0.9h-0.9zM69.0 486.1h0.9v0.9h-0.9zM76.8 472.1h0.9v0.9h-0.9zM79.0 484.1h0.9v0.9h-0.9zM83.6 473.2h0.9v0.9h-0.9zM69.6 485.1h0.9v0.9h-0.9zM90.7 456.5h0.9v0.9h-0.9zM63.7 480.8h0.9v0.9h-0.9zM75.2 473.6h0.9v0.9h-0.9zM77.9 478.5h0.9v0.9h-0.9zM88.1 478.9h0.9v0.9h-0.9zM65.7 473.9h0.9v0.9h-0.9zM64.5 485.4h0.9v0.9h-0.9zM64.2 486.2h0.9v0.9h-0.9zM91.0 487.3h0.9v0.9h-0.9zM73.9 479.0h0.9v0.9h-0.9zM74.4 475.5h0.9v0.9h-0.9zM70.4 490.6h0.9v0.9h-0.9zM70.1 473.9h0.9v0.9h-0.9zM78.2 482.2h0.9v0.9h-0.9zM71.5 467.5h0.9v0.9h-0.9zM67.2 486.0h0.9v0.9h-0.9zM86.5 466.3h0.9v0.9h-0.9zM64.6 476.6h0.9v0.9h-0.9zM72.5 480.6h0.9v0.9h-0.9zM70.9 484.1h0.9v0.9h-0.9zM58.0 487.5h0.9v0.9h-0.9zM75.5 476.5h0.9v0.9h-0.9zM68.6 486.1h0.9v0.9h-0.9zM92.2 468.0h0.9v0.9h-0.9zM55.8 492.5h0.9v0.9h-0.9zM70.9 484.0h0.9v0.9h-0.9zM65.0 491.0h0.9v0.9h-0.9zM88.3 474.4h0.9v0.9h-0.9zM62.0 474.0h0.9v0.9h-0.9zM83.4 483.4h0.9v0.9h-0.9zM61.4 490.2h0.9v0.9h-0.9zM76.2 472.3h0.9v0.9h-0.9zM79.1 476.2h0.9v0.9h-0.9zM75.6 461.9h0.9v0.9h-0.9zM72.2 475.3h0.9v0.9h-0.9zM79.0 478.3h0.9v0.9h-0.9zM81.4 487.1h0.9v0.9h-0.9zM81.3 474.0h0.9v0.9h-0.9zM72.2 486.0h0.9v0.9h-0.9zM77.1 475.5h0.9v0.9h-0.9zM72.9 489.6h0.9v0.9h-0.9zM78.0 473.8h0.9v0.9h-0.9zM73.6 485.4h0.9v0.9h-0.9zM66.9 483.8h0.9v0.9h-0.9zM63.8 480.6h0.9v0.9h-0.9zM81.8 465.3h0.9v0.9h-0.9zM57.8 488.5h0.9v0.9h-0.9zM93.6 493.6h0.9v0.9h-0.9zM64.6 487.0h0.9v0.9h-0.9zM66.6 480.3h0.9v0.9h-0.9zM72.1 487.3h0.9v0.9h-0.9zM95.3 467.5h0.9v0.9h-0.9zM65.8 482.9h0.9v0.9h-0.9zM74.5 488.5h0.9v0.9h-0.9zM80.1 484.4h0.9v0.9h-0.9zM78.4 477.8h0.9v0.9h-0.9zM62.1 492.1h0.9v0.9h-0.9zM82.1 483.1h0.9v0.9h-0.9zM84.1 459.7h0.9v0.9h-0.9zM55.2 489.3h0.9v0.9h-0.9zM79.2 477.4h0.9v0.9h-0.9zM73.8 467.7h0.9v0.9h-0.9zM82.6 488.8h0.9v0.9h-0.9zM69.5 479.1h0.9v0.9h-0.9zM85.5 474.3h0.9v0.9h-0.9zM78.0 491.4h0.9v0.9h-0.9zM72.0 482.3h0.9v0.9h-0.9zM80.8 468.2h0.9v0.9h-0.9zM74.4 482.8h0.9v0.9h-0.9zM76.4 473.7h0.9v0.9h-0.9zM90.7 488.7h0.9v0.9h-0.9zM84.8 483.5h0.9v0.9h-0.9zM76.9 449.6h0.9v0.9h-0.9zM72.2 474.0h0.9v0.9h-0.9zM84.1 475.7h0.9v0.9h-0.9zM90.9 488.0h0.9v0.9h-0.9zM65.5 484.1h0.9v0.9h-0.9zM97.0 472.8h0.9v0.9h-0.9zM68.6 479.2h0.9v0.9h-0.9zM73.7 481.9h0.9v0.9h-0.9zM60.6 487.6h0.9v0.9h-0.9zM74.1 487.0h0.9v0.9h-0.9zM58.0 484.4h0.9v0.9h-0.9zM69.0 485.4h0.9v0.9h-0.9zM72.1 469.3h0.9v0.9h-0.9zM71.4 492.1h0.9v0.9h-0.9zM71.5 488.6h0.9v0.9h-0.9zM85.1 471.4h0.9v0.9h-0.9zM78.1 477.9h0.9v0.9h-0.9zM78.5 477.5h0.9v0.9h-0.9zM80.7 472.0h0.9v0.9h-0.9zM70.1 485.7h0.9v0.9h-0.9zM72.4 485.7h0.9v0.9h-0.9zM77.5 472.6h0.9v0.9h-0.9zM70.4 480.3h0.9v0.9h-0.9zM71.9 478.6h0.9v0.9h-0.9zM66.9 491.1h0.9v0.9h-0.9zM79.9 477.5h0.9v0.9h-0.9zM88.2 487.2h0.9v0.9h-0.9zM74.7 478.8h0.9v0.9h-0.9zM60.9 492.6h0.9v0.9h-0.9zM64.1 483.6h0.9v0.9h-0.9zM74.2 481.8h0.9v0.9h-0.9zM64.9 484.5h0.9v0.9h-0.9zM73.4 473.7h0.9v0.9h-0.9zM83.2 474.8h0.9v0.9h-0.9zM68.6 477.6h0.9v0.9h-0.9zM65.3 482.4h0.9v0.9h-0.9zM82.5 473.5h0.9v0.9h-0.9zM82.7 476.0h0.9v0.9h-0.9zM102.3 469.2h0.9v0.9h-0.9zM71.1 477.5h0.9v0.9h-0.9zM65.5 486.8h0.9v0.9h-0.9zM73.9 473.8h0.9v0.9h-0.9zM68.1 477.9h0.9v0.9h-0.9zM73.5 477.1h0.9v0.9h-0.9zM79.4 466.2h0.9v0.9h-0.9zM73.6 485.4h0.9v0.9h-0.9zM84.8 481.5h0.9v0.9h-0.9zM79.7 469.7h0.9v0.9h-0.9zM81.0 487.0h0.9v0.9h-0.9zM70.9 481.4h0.9v0.9h-0.9zM76.4 492.4h0.9v0.9h-0.9zM72.8 455.3h0.9v0.9h-0.9zM68.9 483.6h0.9v0.9h-0.9zM80.0 466.4h0.9v0.9h-0.9zM67.3 481.6h0.9v0.9h-0.9zM78.0 484.8h0.9v0.9h-0.9zM81.8 484.1h0.9v0.9h-0.9zM90.2 465.6h0.9v0.9h-0.9zM80.3 484.1h0.9v0.9h-0.9zM70.9 473.1h0.9v0.9h-0.9zM74.6 482.7h0.9v0.9h-0.9zM70.7 482.1h0.9v0.9h-0.9zM61.2 476.0h0.9v0.9h-0.9zM93.3 472.8h0.9v0.9h-0.9zM83.3 466.8h0.9v0.9h-0.9zM70.1 488.0h0.9v0.9h-0.9zM71.9 475.5h0.9v0.9h-0.9zM64.9 490.0h0.9v0.9h-0.9zM84.7 477.4h0.9v0.9h-0.9zM79.8 475.9h0.9v0.9h-0.9zM72.8 477.4h0.9v0.9h-0.9zM69.9 489.7h0.9v0.9h-0.9zM81.4 476.5h0.9v0.9h-0.9zM77.3 474.2h0.9v0.9h-0.9zM72.7 482.3h0.9v0.9h-0.9zM79.9 475.1h0.9v0.9h-0.9zM61.2 488.5h0.9v0.9h-0.9zM73.0 489.9h0.9v0.9h-0.9zM72.7 477.3h0.9v0.9h-0.9zM87.6 468.4h0.9v0.9h-0.9zM70.2 475.4h0.9v0.9h-0.9zM77.6 465.6h0.9v0.9h-0.9zM78.9 487.1h0.9v0.9h-0.9zM67.6 480.1h0.9v0.9h-0.9zM84.1 475.5h0.9v0.9h-0.9zM72.5 469.7h0.9v0.9h-0.9zM83.1 467.4h0.9v0.9h-0.9zM84.4 476.5h0.9v0.9h-0.9zM69.3 489.1h0.9v0.9h-0.9zM77.0 482.1h0.9v0.9h-0.9zM65.1 490.3h0.9v0.9h-0.9zM71.1 488.4h0.9v0.9h-0.9zM71.8 481.7h0.9v0.9h-0.9zM69.4 475.3h0.9v0.9h-0.9zM89.0 463.8h0.9v0.9h-0.9zM62.3 487.7h0.9v0.9h-0.9zM80.4 488.7h0.9v0.9h-0.9zM56.5 481.4h0.9v0.9h-0.9zM62.0 483.6h0.9v0.9h-0.9zM69.9 474.9h0.9v0.9h-0.9zM81.4 482.5h0.9v0.9h-0.9zM60.0 486.2h0.9v0.9h-0.9zM75.3 462.9h0.9v0.9h-0.9zM56.9 476.4h0.9v0.9h-0.9zM83.4 475.7h0.9v0.9h-0.9zM66.2 472.5h0.9v0.9h-0.9zM86.5 480.3h0.9v0.9h-0.9zM83.5 482.5h0.9v0.9h-0.9zM66.4 476.8h0.9v0.9h-0.9zM76.4 475.6h0.9v0.9h-0.9zM62.7 490.4h0.9v0.9h-0.9zM56.2 482.0h0.9v0.9h-0.9zM65.3 476.7h0.9v0.9h-0.9zM82.6 467.7h0.9v0.9h-0.9zM67.4 485.9h0.9v0.9h-0.9zM70.0 486.5h0.9v0.9h-0.9zM79.4 458.9h0.9v0.9h-0.9zM75.3 481.7h0.9v0.9h-0.9zM73.3 480.1h0.9v0.9h-0.9zM63.8 486.7h0.9v0.9h-0.9zM72.3 477.8h0.9v0.9h-0.9zM83.4 482.1h0.9v0.9h-0.9zM80.4 489.5h0.9v0.9h-0.9zM78.2 472.9h0.9v0.9h-0.9zM75.8 477.5h0.9v0.9h-0.9zM75.5 464.8h0.9v0.9h-0.9zM79.0 472.7h0.9v0.9h-0.9zM75.8 485.4h0.9v0.9h-0.9zM80.7 474.0h0.9v0.9h-0.9zM90.6 469.9h0.9v0.9h-0.9zM75.9 478.0h0.9v0.9h-0.9zM64.0 489.9h0.9v0.9h-0.9zM78.4 483.0h0.9v0.9h-0.9zM75.6 486.3h0.9v0.9h-0.9zM86.9 452.0h0.9v0.9h-0.9zM79.3 474.3h0.9v0.9h-0.9zM72.4 482.3h0.9v0.9h-0.9zM83.8 467.6h0.9v0.9h-0.9zM61.4 485.9h0.9v0.9h-0.9zM76.8 492.8h0.9v0.9h-0.9zM75.5 482.8h0.9v0.9h-0.9zM77.7 488.1h0.9v0.9h-0.9zM71.7 488.5h0.9v0.9h-0.9zM82.6 489.1h0.9v0.9h-0.9zM60.9 489.7h0.9v0.9h-0.9zM67.9 483.8h0.9v0.9h-0.9zM68.4 484.8h0.9v0.9h-0.9zM69.4 480.8h0.9v0.9h-0.9zM74.0 481.2h0.9v0.9h-0.9zM77.1 490.9h0.9v0.9h-0.9zM74.5 489.0h0.9v0.9h-0.9zM74.7 475.9h0.9v0.9h-0.9zM89.3 484.1h0.9v0.9h-0.9zM84.1 476.9h0.9v0.9h-0.9zM78.6 482.6h0.9v0.9h-0.9zM83.6 480.0h0.9v0.9h-0.9zM68.2 479.0h0.9v0.9h-0.9zM84.2 485.4h0.9v0.9h-0.9zM68.8 478.9h0.9v0.9h-0.9zM77.3 478.9h0.9v0.9h-0.9zM76.2 476.1h0.9v0.9h-0.9zM70.3 485.2h0.9v0.9h-0.9zM67.7 486.4h0.9v0.9h-0.9zM72.0 484.1h0.9v0.9h-0.9zM84.8 477.4h0.9v0.9h-0.9zM75.0 466.5h0.9v0.9h-0.9zM73.5 476.6h0.9v0.9h-0.9zM90.4 486.1h0.9v0.9h-0.9zM61.6 473.6h0.9v0.9h-0.9zM60.4 486.6h0.9v0.9h-0.9zM65.2 471.5h0.9v0.9h-0.9zM68.7 477.6h0.9v0.9h-0.9zM70.5 476.6h0.9v0.9h-0.9zM81.4 489.1h0.9v0.9h-0.9zM80.1 467.9h0.9v0.9h-0.9zM68.9 491.1h0.9v0.9h-0.9zM64.4 483.3h0.9v0.9h-0.9zM90.0 467.7h0.9v0.9h-0.9zM75.2 469.7h0.9v0.9h-0.9zM64.6 475.4h0.9v0.9h-0.9zM54.5 493.1h0.9v0.9h-0.9zM60.4 479.8h0.9v0.9h-0.9zM69.9 482.8h0.9v0.9h-0.9zM73.6 482.4h0.9v0.9h-0.9zM77.2 482.1h0.9v0.9h-0.9zM78.7 491.0h0.9v0.9h-0.9zM89.8 480.7h0.9v0.9h-0.9zM58.8 483.7h0.9v0.9h-0.9zM68.0 479.2h0.9v0.9h-0.9zM80.0 475.5h0.9v0.9h-0.9zM73.5 477.9h0.9v0.9h-0.9zM85.2 481.4h0.9v0.9h-0.9zM71.5 477.3h0.9v0.9h-0.9zM109.5 459.7h0.9v0.9h-0.9zM78.4 474.5h0.9v0.9h-0.9zM73.2 493.5h0.9v0.9h-0.9zM73.0 480.5h0.9v0.9h-0.9zM74.0 488.5h0.9v0.9h-0.9zM84.9 481.6h0.9v0.9h-0.9zM89.2 483.0h0.9v0.9h-0.9zM73.4 474.2h0.9v0.9h-0.9zM70.5 480.4h0.9v0.9h-0.9zM61.7 478.3h0.9v0.9h-0.9zM79.5 460.6h0.9v0.9h-0.9zM81.0 470.6h0.9v0.9h-0.9zM80.0 487.4h0.9v0.9h-0.9zM64.9 484.9h0.9v0.9h-0.9zM79.2 494.1h0.9v0.9h-0.9zM88.9 470.1h0.9v0.9h-0.9zM68.2 493.9h0.9v0.9h-0.9zM63.9 487.1h0.9v0.9h-0.9zM88.9 457.0h0.9v0.9h-0.9zM77.0 493.0h0.9v0.9h-0.9zM70.6 481.2h0.9v0.9h-0.9zM88.5 479.0h0.9v0.9h-0.9zM67.9 482.7h0.9v0.9h-0.9zM76.9 483.9h0.9v0.9h-0.9zM75.3 478.4h0.9v0.9h-0.9zM84.2 469.2h0.9v0.9h-0.9zM59.7 491.6h0.9v0.9h-0.9zM70.0 490.6h0.9v0.9h-0.9zM67.4 475.4h0.9v0.9h-0.9zM77.2 469.3h0.9v0.9h-0.9zM73.0 490.8h0.9v0.9h-0.9zM74.6 473.8h0.9v0.9h-0.9zM70.5 485.6h0.9v0.9h-0.9zM64.6 476.5h0.9v0.9h-0.9zM83.7 470.8h0.9v0.9h-0.9zM76.9 488.5h0.9v0.9h-0.9zM99.3 460.5h0.9v0.9h-0.9zM77.9 479.5h0.9v0.9h-0.9zM81.7 470.9h0.9v0.9h-0.9zM80.6 476.2h0.9v0.9h-0.9zM79.9 479.7h0.9v0.9h-0.9zM56.7 479.3h0.9v0.9h-0.9zM75.2 491.8h0.9v0.9h-0.9zM74.9 487.8h0.9v0.9h-0.9zM60.8 480.9h0.9v0.9h-0.9zM74.1 460.8h0.9v0.9h-0.9zM69.6 462.4h0.9v0.9h-0.9zM76.8 481.3h0.9v0.9h-0.9zM78.2 476.4h0.9v0.9h-0.9zM83.4 477.2h0.9v0.9h-0.9zM91.0 474.5h0.9v0.9h-0.9zM64.0 480.5h0.9v0.9h-0.9zM68.4 483.8h0.9v0.9h-0.9zM79.9 468.1h0.9v0.9h-0.9zM77.9 474.6h0.9v0.9h-0.9zM63.5 484.8h0.9v0.9h-0.9zM77.9 475.3h0.9v0.9h-0.9zM80.0 488.1h0.9v0.9h-0.9zM71.5 477.8h0.9v0.9h-0.9zM73.7 470.1h0.9v0.9h-0.9zM76.2 473.1h0.9v0.9h-0.9zM80.3 471.1h0.9v0.9h-0.9zM75.3 474.3h0.9v0.9h-0.9zM75.9 477.6h0.9v0.9h-0.9zM71.1 479.2h0.9v0.9h-0.9zM91.5 476.2h0.9v0.9h-0.9zM71.5 491.3h0.9v0.9h-0.9zM86.6 463.2h0.9v0.9h-0.9zM96.8 470.7h0.9v0.9h-0.9zM98.5 473.0h0.9v0.9h-0.9zM72.8 481.9h0.9v0.9h-0.9zM87.9 461.5h0.9v0.9h-0.9zM85.6 475.1h0.9v0.9h-0.9zM82.7 472.9h0.9v0.9h-0.9zM103.3 459.4h0.9v0.9h-0.9zM70.9 473.8h0.9v0.9h-0.9zM88.3 488.1h0.9v0.9h-0.9zM62.5 488.7h0.9v0.9h-0.9zM73.8 475.6h0.9v0.9h-0.9zM78.4 478.7h0.9v0.9h-0.9zM69.7 463.6h0.9v0.9h-0.9zM70.8 471.8h0.9v0.9h-0.9zM81.7 483.6h0.9v0.9h-0.9zM77.3 465.5h0.9v0.9h-0.9zM80.3 461.4h0.9v0.9h-0.9zM71.2 493.7h0.9v0.9h-0.9zM64.4 484.6h0.9v0.9h-0.9zM67.5 485.0h0.9v0.9h-0.9zM73.5 491.3h0.9v0.9h-0.9zM69.7 487.5h0.9v0.9h-0.9zM90.4 473.3h0.9v0.9h-0.9zM56.4 478.1h0.9v0.9h-0.9zM77.7 490.1h0.9v0.9h-0.9zM70.4 465.0h0.9v0.9h-0.9zM64.0 481.8h0.9v0.9h-0.9zM70.0 479.4h0.9v0.9h-0.9zM68.4 491.0h0.9v0.9h-0.9zM85.2 488.0h0.9v0.9h-0.9zM77.1 482.7h0.9v0.9h-0.9zM70.7 478.1h0.9v0.9h-0.9zM72.6 470.5h0.9v0.9h-0.9zM64.5 483.9h0.9v0.9h-0.9zM80.5 488.5h0.9v0.9h-0.9zM72.0 475.1h0.9v0.9h-0.9zM76.0 463.2h0.9v0.9h-0.9zM77.3 491.0h0.9v0.9h-0.9zM88.8 491.1h0.9v0.9h-0.9zM74.8 492.0h0.9v0.9h-0.9zM79.2 485.7h0.9v0.9h-0.9zM71.8 466.7h0.9v0.9h-0.9zM76.4 475.8h0.9v0.9h-0.9zM57.8 491.4h0.9v0.9h-0.9zM64.5 490.5h0.9v0.9h-0.9zM83.1 480.8h0.9v0.9h-0.9zM81.5 486.4h0.9v0.9h-0.9zM85.9 472.2h0.9v0.9h-0.9zM73.2 479.2h0.9v0.9h-0.9zM65.2 490.3h0.9v0.9h-0.9zM84.8 475.6h0.9v0.9h-0.9zM70.1 476.5h0.9v0.9h-0.9zM78.8 490.4h0.9v0.9h-0.9zM80.7 475.8h0.9v0.9h-0.9zM80.9 473.8h0.9v0.9h-0.9zM73.6 487.9h0.9v0.9h-0.9zM64.7 482.6h0.9v0.9h-0.9zM77.5 486.2h0.9v0.9h-0.9zM84.0 476.7h0.9v0.9h-0.9zM78.1 479.5h0.9v0.9h-0.9zM83.7 468.7h0.9v0.9h-0.9zM102.8 470.6h0.9v0.9h-0.9zM71.8 493.3h0.9v0.9h-0.9zM62.1 477.2h0.9v0.9h-0.9zM82.4 482.9h0.9v0.9h-0.9zM74.4 474.6h0.9v0.9h-0.9zM65.7 477.2h0.9v0.9h-0.9zM59.1 492.8h0.9v0.9h-0.9zM92.5 459.4h0.9v0.9h-0.9zM79.9 486.7h0.9v0.9h-0.9zM58.4 482.6h0.9v0.9h-0.9zM81.5 466.0h0.9v0.9h-0.9zM76.1 477.9h0.9v0.9h-0.9zM76.6 484.2h0.9v0.9h-0.9zM60.2 482.6h0.9v0.9h-0.9zM69.8 477.9h0.9v0.9h-0.9zM63.6 475.4h0.9v0.9h-0.9zM92.0 456.5h0.9v0.9h-0.9zM87.4 489.5h0.9v0.9h-0.9zM79.7 493.8h0.9v0.9h-0.9zM61.5 482.9h0.9v0.9h-0.9zM69.4 486.1h0.9v0.9h-0.9zM96.4 466.0h0.9v0.9h-0.9zM74.8 475.3h0.9v0.9h-0.9zM60.8 488.4h0.9v0.9h-0.9zM84.3 478.1h0.9v0.9h-0.9zM76.9 476.0h0.9v0.9h-0.9zM77.0 475.6h0.9v0.9h-0.9zM72.6 481.8h0.9v0.9h-0.9zM78.0 488.8h0.9v0.9h-0.9zM74.5 478.1h0.9v0.9h-0.9zM73.8 484.6h0.9v0.9h-0.9zM63.0 492.3h0.9v0.9h-0.9zM68.6 492.0h0.9v0.9h-0.9zM73.1 479.9h0.9v0.9h-0.9zM58.1 489.8h0.9v0.9h-0.9zM69.6 478.3h0.9v0.9h-0.9zM72.2 484.6h0.9v0.9h-0.9zM80.7 476.5h0.9v0.9h-0.9zM74.1 478.5h0.9v0.9h-0.9zM72.3 484.3h0.9v0.9h-0.9zM81.1 482.2h0.9v0.9h-0.9zM73.6 464.5h0.9v0.9h-0.9zM61.5 492.7h0.9v0.9h-0.9zM63.0 480.9h0.9v0.9h-0.9zM66.8 486.2h0.9v0.9h-0.9zM85.5 480.5h0.9v0.9h-0.9zM79.4 470.7h0.9v0.9h-0.9zM91.7 475.7h0.9v0.9h-0.9zM73.2 479.0h0.9v0.9h-0.9zM79.5 485.1h0.9v0.9h-0.9zM72.5 489.6h0.9v0.9h-0.9zM64.2 478.6h0.9v0.9h-0.9zM78.0 481.0h0.9v0.9h-0.9zM83.7 477.1h0.9v0.9h-0.9zM77.2 477.7h0.9v0.9h-0.9zM79.3 479.0h0.9v0.9h-0.9zM72.4 479.3h0.9v0.9h-0.9zM74.2 491.7h0.9v0.9h-0.9zM70.3 474.3h0.9v0.9h-0.9zM85.9 479.9h0.9v0.9h-0.9zM75.7 480.8h0.9v0.9h-0.9zM97.8 451.7h0.9v0.9h-0.9zM72.7 490.7h0.9v0.9h-0.9zM75.4 474.9h0.9v0.9h-0.9zM80.3 467.0h0.9v0.9h-0.9z" fill="#3a3ae0" fill-opacity="0.75"/>
<path d="M112.6 490.6h0.9v0.9h-0.9zM108.3 488.3h0.9v0.9h-0.9zM112.4 487.7h0.9v0.9h-0.9zM88.4 469.6h0.9v0.9h-0.9zM92.1 459.3h0.9v0.9h-0.9zM108.2 481.9h0.9v0.9h-0.9zM114.8 474.1h0.9v0.9h-0.9zM118.0 475.0h0.9v0.9h-0.9zM101.8 442.3h0.9v0.9h-0.9zM103.2 475.8h0.9v0.9h-0.9zM100.4 458.8h0.9v0.9h-0.9zM102.7 477.3h0.9v0.9h-0.9zM100.9 471.4h0.9v0.9h-0.9zM106.9 484.9h0.9v0.9h-0.9zM98.3 469.1h0.9v0.9h-0.9zM100.3 479.7h0.9v0.9h-0.9zM97.5 473.8h0.9v0.9h-0.9zM102.3 470.7h0.9v0.9h-0.9zM107.9 483.1h0.9v0.9h-0.9zM88.3 482.8h0.9v0.9h-0.9zM90.6 473.3h0.9v0.9h-0.9zM102.4 483.7h0.9v0.9h-0.9zM103.3 480.6h0.9v0.9h-0.9zM102.6 487.0h0.9v0.9h-0.9zM119.9 471.9h0.9v0.9h-0.9zM86.6 479.5h0.9v0.9h-0.9zM91.5 478.2h0.9v0.9h-0.9zM100.3 488.7h0.9v0.9h-0.9zM107.6 477.9h0.9v0.9h-0.9zM90.0 478.8h0.9v0.9h-0.9zM112.2 469.8h0.9v0.9h-0.9zM93.6 491.2h0.9v0.9h-0.9zM88.2 491.0h0.9v0.9h-0.9zM96.7 490.7h0.9v0.9h-0.9zM96.3 466.8h0.9v0.9h-0.9zM110.5 469.7h0.9v0.9h-0.9zM88.9 476.0h0.9v0.9h-0.9zM104.9 459.5h0.9v0.9h-0.9zM110.6 468.1h0.9v0.9h-0.9zM100.7 487.1h0.9v0.9h-0.9zM109.9 454.5h0.9v0.9h-0.9zM96.8 468.1h0.9v0.9h-0.9zM106.7 476.9h0.9v0.9h-0.9zM100.0 476.9h0.9v0.9h-0.9zM122.4 477.6h0.9v0.9h-0.9zM100.4 469.6h0.9v0.9h-0.9zM100.3 488.0h0.9v0.9h-0.9zM106.6 452.0h0.9v0.9h-0.9zM98.2 482.5h0.9v0.9h-0.9zM101.2 461.3h0.9v0.9h-0.9zM106.0 470.0h0.9v0.9h-0.9zM110.9 477.1h0.9v0.9h-0.9zM103.5 467.9h0.9v0.9h-0.9zM101.5 462.0h0.9v0.9h-0.9zM109.3 488.7h0.9v0.9h-0.9zM110.4 477.0h0.9v0.9h-0.9zM106.6 478.1h0.9v0.9h-0.9zM105.4 484.1h0.9v0.9h-0.9zM119.1 489.0h0.9v0.9h-0.9zM95.2 479.7h0.9v0.9h-0.9zM117.7 454.7h0.9v0.9h-0.9zM107.8 475.7h0.9v0.9h-0.9zM89.2 478.2h0.9v0.9h-0.9zM104.2 465.2h0.9v0.9h-0.9zM90.3 466.7h0.9v0.9h-0.9zM101.9 485.0h0.9v0.9h-0.9zM84.7 480.7h0.9v0.9h-0.9zM109.6 468.0h0.9v0.9h-0.9zM95.9 484.2h0.9v0.9h-0.9zM117.9 479.5h0.9v0.9h-0.9zM96.5 463.7h0.9v0.9h-0.9zM103.5 475.0h0.9v0.9h-0.9zM90.8 463.5h0.9v0.9h-0.9zM101.9 468.5h0.9v0.9h-0.9zM103.4 481.3h0.9v0.9h-0.9zM107.6 464.5h0.9v0.9h-0.9zM125.3 464.2h0.9v0.9h-0.9zM117.9 482.1h0.9v0.9h-0.9zM110.1 466.9h0.9v0.9h-0.9zM100.1 475.0h0.9v0.9h-0.9zM100.5 475.2h0.9v0.9h-0.9zM100.3 476.2h0.9v0.9h-0.9zM95.4 482.2h0.9v0.9h-0.9zM109.2 473.2h0.9v0.9h-0.9zM102.6 469.4h0.9v0.9h-0.9zM107.9 472.9h0.9v0.9h-0.9zM100.9 490.8h0.9v0.9h-0.9zM106.5 488.3h0.9v0.9h-0.9zM119.0 477.4h0.9v0.9h-0.9zM106.4 491.6h0.9v0.9h-0.9zM111.6 485.8h0.9v0.9h-0.9zM95.7 466.2h0.9v0.9h-0.9zM107.9 482.0h0.9v0.9h-0.9zM106.1 460.1h0.9v0.9h-0.9zM106.6 484.7h0.9v0.9h-0.9zM104.6 476.8h0.9v0.9h-0.9zM89.4 455.6h0.9v0.9h-0.9zM103.3 476.9h0.9v0.9h-0.9zM114.3 474.7h0.9v0.9h-0.9zM95.6 474.5h0.9v0.9h-0.9zM113.5 473.4h0.9v0.9h-0.9zM109.9 488.6h0.9v0.9h-0.9zM105.2 473.4h0.9v0.9h-0.9zM107.7 482.8h0.9v0.9h-0.9zM96.5 457.0h0.9v0.9h-0.9zM110.1 467.1h0.9v0.9h-0.9zM91.0 477.9h0.9v0.9h-0.9zM93.7 468.2h0.9v0.9h-0.9zM108.7 478.4h0.9v0.9h-0.9zM93.9 477.5h0.9v0.9h-0.9zM121.9 480.1h0.9v0.9h-0.9zM106.9 474.4h0.9v0.9h-0.9zM112.0 485.1h0.9v0.9h-0.9zM112.6 463.0h0.9v0.9h-0.9zM100.4 473.6h0.9v0.9h-0.9zM108.2 473.4h0.9v0.9h-0.9zM118.1 481.9h0.9v0.9h-0.9zM113.3 475.4h0.9v0.9h-0.9zM106.0 479.0h0.9v0.9h-0.9zM104.6 474.6h0.9v0.9h-0.9zM111.0 465.8h0.9v0.9h-0.9zM105.5 483.6h0.9v0.9h-0.9zM101.6 486.0h0.9v0.9h-0.9zM95.5 487.5h0.9v0.9h-0.9zM97.5 461.2h0.9v0.9h-0.9zM104.4 482.4h0.9v0.9h-0.9zM107.8 478.8h0.9v0.9h-0.9zM84.7 475.3h0.9v0.9h-0.9zM100.2 472.8h0.9v0.9h-0.9zM109.1 483.2h0.9v0.9h-0.9zM102.4 477.3h0.9v0.9h-0.9zM93.8 477.5h0.9v0.9h-0.9zM118.9 478.7h0.9v0.9h-0.9zM89.4 465.2h0.9v0.9h-0.9zM100.7 467.9h0.9v0.9h-0.9zM111.1 469.6h0.9v0.9h-0.9zM85.7 460.2h0.9v0.9h-0.9zM109.7 490.0h0.9v0.9h-0.9zM112.7 471.0h0.9v0.9h-0.9zM127.6 488.0h0.9v0.9h-0.9zM92.3 469.7h0.9v0.9h-0.9zM103.0 470.4h0.9v0.9h-0.9zM106.9 458.7h0.9v0.9h-0.9zM98.5 477.3h0.9v0.9h-0.9zM108.5 491.5h0.9v0.9h-0.9zM97.2 491.9h0.9v0.9h-0.9zM98.5 483.8h0.9v0.9h-0.9zM96.2 475.0h0.9v0.9h-0.9zM103.1 491.2h0.9v0.9h-0.9zM112.3 469.5h0.9v0.9h-0.9zM102.6 480.9h0.9v0.9h-0.9zM93.9 477.4h0.9v0.9h-0.9zM99.2 470.9h0.9v0.9h-0.9zM98.9 465.0h0.9v0.9h-0.9zM100.0 468.8h0.9v0.9h-0.9zM108.8 479.2h0.9v0.9h-0.9zM102.3 480.8h0.9v0.9h-0.9zM104.4 479.5h0.9v0.9h-0.9zM104.0 492.1h0.9v0.9h-0.9zM102.7 470.4h0.9v0.9h-0.9zM99.2 464.1h0.9v0.9h-0.9zM110.0 465.0h0.9v0.9h-0.9zM102.7 482.3h0.9v0.9h-0.9zM102.4 472.1h0.9v0.9h-0.9zM93.3 459.9h0.9v0.9h-0.9zM97.1 488.2h0.9v0.9h-0.9zM98.0 493.4h0.9v0.9h-0.9zM108.5 480.0h0.9v0.9h-0.9zM87.6 485.1h0.9v0.9h-0.9zM109.9 462.6h0.9v0.9h-0.9zM104.4 462.4h0.9v0.9h-0.9zM96.9 479.8h0.9v0.9h-0.9zM95.6 480.3h0.9v0.9h-0.9zM107.8 475.9h0.9v0.9h-0.9zM105.2 474.8h0.9v0.9h-0.9zM85.4 471.1h0.9v0.9h-0.9zM97.0 493.9h0.9v0.9h-0.9zM95.0 468.6h0.9v0.9h-0.9zM102.6 476.5h0.9v0.9h-0.9zM97.5 489.4h0.9v0.9h-0.9zM107.4 466.8h0.9v0.9h-0.9zM98.5 479.6h0.9v0.9h-0.9zM100.8 476.7h0.9v0.9h-0.9zM114.4 484.8h0.9v0.9h-0.9zM101.1 451.1h0.9v0.9h-0.9zM98.7 474.7h0.9v0.9h-0.9zM103.6 469.4h0.9v0.9h-0.9zM91.5 490.0h0.9v0.9h-0.9zM88.8 477.4h0.9v0.9h-0.9zM102.9 471.8h0.9v0.9h-0.9zM97.9 487.7h0.9v0.9h-0.9zM90.3 485.0h0.9v0.9h-0.9zM111.5 489.2h0.9v0.9h-0.9zM109.3 489.9h0.9v0.9h-0.9zM105.1 486.5h0.9v0.9h-0.9zM98.3 471.7h0.9v0.9h-0.9zM101.3 481.3h0.9v0.9h-0.9zM97.9 481.3h0.9v0.9h-0.9zM110.8 482.0h0.9v0.9h-0.9zM90.1 481.7h0.9v0.9h-0.9zM105.5 479.0h0.9v0.9h-0.9zM103.2 473.4h0.9v0.9h-0.9zM92.8 477.2h0.9v0.9h-0.9zM108.6 467.2h0.9v0.9h-0.9zM99.9 468.1h0.9v0.9h-0.9zM119.8 486.0h0.9v0.9h-0.9zM113.6 474.5h0.9v0.9h-0.9zM102.5 479.0h0.9v0.9h-0.9zM99.6 472.1h0.9v0.9h-0.9zM96.9 460.0h0.9v0.9h-0.9zM96.5 473.6h0.9v0.9h-0.9zM90.1 476.9h0.9v0.9h-0.9zM111.7 470.5h0.9v0.9h-0.9zM109.3 485.6h0.9v0.9h-0.9zM101.8 472.7h0.9v0.9h-0.9zM109.8 471.3h0.9v0.9h-0.9zM123.7 460.8h0.9v0.9h-0.9zM105.7 459.1h0.9v0.9h-0.9zM118.5 482.6h0.9v0.9h-0.9zM100.4 479.5h0.9v0.9h-0.9zM97.5 478.4h0.9v0.9h-0.9zM112.0 485.6h0.9v0.9h-0.9zM85.8 472.9h0.9v0.9h-0.9zM111.6 478.2h0.9v0.9h-0.9zM103.0 468.4h0.9v0.9h-0.9zM98.7 468.5h0.9v0.9h-0.9zM103.8 469.7h0.9v0.9h-0.9zM104.0 488.6h0.9v0.9h-0.9zM114.2 485.8h0.9v0.9h-0.9zM110.6 466.9h0.9v0.9h-0.9zM104.8 474.5h0.9v0.9h-0.9zM101.0 479.3h0.9v0.9h-0.9zM94.5 469.1h0.9v0.9h-0.9zM104.8 485.4h0.9v0.9h-0.9zM79.8 469.3h0.9v0.9h-0.9zM111.7 474.3h0.9v0.9h-0.9zM103.0 474.3h0.9v0.9h-0.9zM88.0 457.7h0.9v0.9h-0.9zM108.1 458.7h0.9v0.9h-0.9zM95.0 468.5h0.9v0.9h-0.9zM98.8 491.0h0.9v0.9h-0.9zM86.9 484.3h0.9v0.9h-0.9zM96.3 482.9h0.9v0.9h-0.9zM104.4 471.1h0.9v0.9h-0.9zM102.2 472.8h0.9v0.9h-0.9zM105.6 478.4h0.9v0.9h-0.9zM96.4 480.9h0.9v0.9h-0.9zM108.0 461.2h0.9v0.9h-0.9zM89.6 470.1h0.9v0.9h-0.9zM97.8 469.5h0.9v0.9h-0.9zM79.1 492.4h0.9v0.9h-0.9zM100.2 471.9h0.9v0.9h-0.9zM98.0 468.9h0.9v0.9h-0.9zM101.2 486.9h0.9v0.9h-0.9zM108.0 473.1h0.9v0.9h-0.9zM114.7 488.2h0.9v0.9h-0.9zM92.3 467.3h0.9v0.9h-0.9zM85.3 477.0h0.9v0.9h-0.9zM119.3 479.4h0.9v0.9h-0.9zM114.6 475.3h0.9v0.9h-0.9zM107.1 477.4h0.9v0.9h-0.9zM113.8 478.1h0.9v0.9h-0.9zM110.6 474.3h0.9v0.9h-0.9zM97.2 491.6h0.9v0.9h-0.9zM109.4 453.1h0.9v0.9h-0.9zM113.5 464.6h0.9v0.9h-0.9zM110.2 473.8h0.9v0.9h-0.9zM102.2 476.4h0.9v0.9h-0.9zM99.5 493.7h0.9v0.9h-0.9zM124.4 484.0h0.9v0.9h-0.9zM105.4 477.9h0.9v0.9h-0.9zM107.9 469.1h0.9v0.9h-0.9zM109.1 487.5h0.9v0.9h-0.9zM95.2 461.5h0.9v0.9h-0.9zM103.0 476.8h0.9v0.9h-0.9zM108.8 468.6h0.9v0.9h-0.9zM107.1 479.4h0.9v0.9h-0.9zM96.7 479.3h0.9v0.9h-0.9zM105.6 474.5h0.9v0.9h-0.9zM115.5 462.0h0.9v0.9h-0.9zM93.0 474.1h0.9v0.9h-0.9zM93.7 463.8h0.9v0.9h-0.9zM94.8 478.9h0.9v0.9h-0.9zM109.7 463.0h0.9v0.9h-0.9zM98.8 480.4h0.9v0.9h-0.9zM105.6 473.4h0.9v0.9h-0.9zM113.3 488.5h0.9v0.9h-0.9zM92.9 469.3h0.9v0.9h-0.9zM116.3 463.0h0.9v0.9h-0.9zM103.3 462.4h0.9v0.9h-0.9zM101.4 480.8h0.9v0.9h-0.9zM107.1 462.7h0.9v0.9h-0.9zM91.2 471.0h0.9v0.9h-0.9zM96.0 485.0h0.9v0.9h-0.9zM105.4 491.8h0.9v0.9h-0.9zM98.8 481.2h0.9v0.9h-0.9zM99.9 483.1h0.9v0.9h-0.9zM111.6 478.3h0.9v0.9h-0.9zM87.7 465.5h0.9v0.9h-0.9zM105.5 480.0h0.9v0.9h-0.9zM100.9 466.9h0.9v0.9h-0.9zM105.9 484.5h0.9v0.9h-0.9zM81.6 447.6h0.9v0.9h-0.9zM94.4 454.7h0.9v0.9h-0.9zM99.3 475.8h0.9v0.9h-0.9zM117.9 478.4h0.9v0.9h-0.9zM92.9 468.2h0.9v0.9h-0.9zM101.3 484.1h0.9v0.9h-0.9zM105.8 457.3h0.9v0.9h-0.9zM103.8 448.4h0.9v0.9h-0.9zM88.3 493.6h0.9v0.9h-0.9zM118.2 472.9h0.9v0.9h-0.9zM99.9 456.8h0.9v0.9h-0.9zM104.1 470.5h0.9v0.9h-0.9zM127.3 486.4h0.9v0.9h-0.9zM97.9 475.0h0.9v0.9h-0.9zM91.8 467.3h0.9v0.9h-0.9zM94.1 478.5h0.9v0.9h-0.9zM118.0 476.4h0.9v0.9h-0.9zM101.3 486.5h0.9v0.9h-0.9zM95.9 484.0h0.9v0.9h-0.9zM102.7 471.2h0.9v0.9h-0.9zM102.6 467.9h0.9v0.9h-0.9zM112.1 476.9h0.9v0.9h-0.9zM109.5 474.6h0.9v0.9h-0.9zM106.4 479.3h0.9v0.9h-0.9zM107.3 465.0h0.9v0.9h-0.9zM95.7 477.7h0.9v0.9h-0.9zM91.7 467.3h0.9v0.9h-0.9zM106.7 482.5h0.9v0.9h-0.9zM107.7 479.3h0.9v0.9h-0.9zM104.5 473.6h0.9v0.9h-0.9zM105.6 459.0h0.9v0.9h-0.9zM108.7 488.7h0.9v0.9h-0.9zM92.7 467.0h0.9v0.9h-0.9zM100.0 471.1h0.9v0.9h-0.9zM95.2 475.4h0.9v0.9h-0.9zM86.3 480.9h0.9v0.9h-0.9zM107.8 470.4h0.9v0.9h-0.9zM101.0 470.6h0.9v0.9h-0.9zM106.7 460.7h0.9v0.9h-0.9zM108.7 487.9h0.9v0.9h-0.9zM94.9 471.0h0.9v0.9h-0.9zM116.6 471.2h0.9v0.9h-0.9zM105.7 453.5h0.9v0.9h-0.9zM112.1 469.9h0.9v0.9h-0.9zM118.3 486.1h0.9v0.9h-0.9zM98.7 488.1h0.9v0.9h-0.9zM97.5 465.0h0.9v0.9h-0.9zM104.6 477.1h0.9v0.9h-0.9zM113.0 483.4h0.9v0.9h-0.9zM113.3 460.8h0.9v0.9h-0.9zM85.3 472.3h0.9v0.9h-0.9zM115.9 484.3h0.9v0.9h-0.9zM99.0 488.6h0.9v0.9h-0.9zM107.4 460.6h0.9v0.9h-0.9zM91.1 464.4h0.9v0.9h-0.9zM95.1 489.3h0.9v0.9h-0.9zM106.3 472.1h0.9v0.9h-0.9zM86.9 480.5h0.9v0.9h-0.9zM110.3 463.7h0.9v0.9h-0.9zM98.2 489.4h0.9v0.9h-0.9zM105.5 480.8h0.9v0.9h-0.9zM104.3 492.1h0.9v0.9h-0.9zM98.0 466.1h0.9v0.9h-0.9zM114.8 470.5h0.9v0.9h-0.9zM124.1 463.1h0.9v0.9h-0.9zM108.7 462.9h0.9v0.9h-0.9zM87.6 461.7h0.9v0.9h-0.9zM104.1 478.1h0.9v0.9h-0.9zM101.0 466.0h0.9v0.9h-0.9zM111.2 475.7h0.9v0.9h-0.9zM103.6 468.2h0.9v0.9h-0.9zM122.3 479.7h0.9v0.9h-0.9zM109.2 484.9h0.9v0.9h-0.9zM108.4 484.6h0.9v0.9h-0.9zM99.9 485.3h0.9v0.9h-0.9zM95.0 474.2h0.9v0.9h-0.9zM102.2 483.5h0.9v0.9h-0.9zM104.8 472.9h0.9v0.9h-0.9zM107.3 466.8h0.9v0.9h-0.9zM104.8 462.1h0.9v0.9h-0.9zM100.5 475.3h0.9v0.9h-0.9zM103.4 478.8h0.9v0.9h-0.9zM98.8 494.0h0.9v0.9h-0.9zM94.1 470.7h0.9v0.9h-0.9zM95.2 492.2h0.9v0.9h-0.9zM107.4 458.9h0.9v0.9h-0.9zM109.5 475.1h0.9v0.9h-0.9zM101.8 472.5h0.9v0.9h-0.9zM107.9 466.3h0.9v0.9h-0.9zM101.8 465.0h0.9v0.9h-0.9zM104.2 490.1h0.9v0.9h-0.9zM98.3 470.3h0.9v0.9h-0.9zM86.7 471.4h0.9v0.9h-0.9zM104.9 449.0h0.9v0.9h-0.9zM112.2 474.4h0.9v0.9h-0.9zM102.5 493.6h0.9v0.9h-0.9zM114.2 455.2h0.9v0.9h-0.9zM97.7 488.4h0.9v0.9h-0.9zM102.1 483.4h0.9v0.9h-0.9zM101.3 494.0h0.9v0.9h-0.9zM96.2 470.7h0.9v0.9h-0.9zM89.7 479.7h0.9v0.9h-0.9zM94.4 491.7h0.9v0.9h-0.9zM85.9 482.2h0.9v0.9h-0.9zM109.8 484.7h0.9v0.9h-0.9zM101.5 473.4h0.9v0.9h-0.9zM102.1 474.9h0.9v0.9h-0.9zM97.8 470.5h0.9v0.9h-0.9zM111.6 478.3h0.9v0.9h-0.9zM95.4 477.4h0.9v0.9h-0.9zM118.2 474.2h0.9v0.9h-0.9zM112.8 453.4h0.9v0.9h-0.9zM96.7 461.4h0.9v0.9h-0.9zM101.2 476.2h0.9v0.9h-0.9zM108.7 489.9h0.9v0.9h-0.9zM114.3 467.2h0.9v0.9h-0.9zM95.9 471.2h0.9v0.9h-0.9zM98.5 476.5h0.9v0.9h-0.9zM125.5 487.7h0.9v0.9h-0.9zM111.1 480.1h0.9v0.9h-0.9zM120.4 477.1h0.9v0.9h-0.9zM107.0 468.2h0.9v0.9h-0.9zM98.9 481.3h0.9v0.9h-0.9zM87.4 473.8h0.9v0.9h-0.9zM110.8 478.7h0.9v0.9h-0.9zM92.8 467.2h0.9v0.9h-0.9zM109.0 489.0h0.9v0.9h-0.9zM85.2 472.5h0.9v0.9h-0.9zM98.7 460.0h0.9v0.9h-0.9zM102.8 476.6h0.9v0.9h-0.9zM91.7 464.8h0.9v0.9h-0.9zM98.1 482.9h0.9v0.9h-0.9zM95.5 491.7h0.9v0.9h-0.9zM104.2 483.1h0.9v0.9h-0.9zM91.7 475.4h0.9v0.9h-0.9zM100.6 467.9h0.9v0.9h-0.9zM115.4 471.7h0.9v0.9h-0.9zM120.0 488.9h0.9v0.9h-0.9zM106.7 466.0h0.9v0.9h-0.9zM99.3 466.8h0.9v0.9h-0.9zM106.0 481.4h0.9v0.9h-0.9zM109.4 478.4h0.9v0.9h-0.9zM105.5 478.6h0.9v0.9h-0.9zM116.1 484.2h0.9v0.9h-0.9zM97.1 465.5h0.9v0.9h-0.9zM101.1 468.6h0.9v0.9h-0.9zM89.3 488.6h0.9v0.9h-0.9zM99.2 481.1h0.9v0.9h-0.9zM114.2 474.8h0.9v0.9h-0.9zM103.5 476.6h0.9v0.9h-0.9zM109.7 484.7h0.9v0.9h-0.9zM106.8 481.0h0.9v0.9h-0.9zM111.7 470.3h0.9v0.9h-0.9zM95.5 464.9h0.9v0.9h-0.9zM107.8 486.4h0.9v0.9h-0.9zM109.1 464.3h0.9v0.9h-0.9zM115.6 465.0h0.9v0.9h-0.9zM98.5 470.9h0.9v0.9h-0.9zM90.1 489.7h0.9v0.9h-0.9zM97.2 493.7h0.9v0.9h-0.9zM114.9 478.5h0.9v0.9h-0.9zM94.1 448.4h0.9v0.9h-0.9zM90.6 476.4h0.9v0.9h-0.9zM91.2 454.7h0.9v0.9h-0.9zM91.3 472.2h0.9v0.9h-0.9zM109.5 487.1h0.9v0.9h-0.9zM96.1 486.5h0.9v0.9h-0.9zM97.4 479.1h0.9v0.9h-0.9z" fill="#2020b0" fill-opacity="0.62"/>
<path d="M127.2 487.4h0.9v0.9h-0.9zM115.0 432.5h0.9v0.9h-0.9zM115.3 492.6h0.9v0.9h-0.9zM134.2 416.2h0.9v0.9h-0.9zM125.6 416.2h0.9v0.9h-0.9zM134.3 476.0h0.9v0.9h-0.9zM124.6 413.8h0.9v0.9h-0.9zM124.4 426.0h0.9v0.9h-0.9zM129.8 480.3h0.9v0.9h-0.9zM128.4 429.7h0.9v0.9h-0.9zM140.4 474.4h0.9v0.9h-0.9zM127.0 458.0h0.9v0.9h-0.9zM114.2 429.6h0.9v0.9h-0.9zM115.1 456.4h0.9v0.9h-0.9zM108.5 468.6h0.9v0.9h-0.9zM122.6 461.1h0.9v0.9h-0.9zM111.4 419.1h0.9v0.9h-0.9zM104.1 464.0h0.9v0.9h-0.9zM137.5 432.3h0.9v0.9h-0.9zM100.6 441.2h0.9v0.9h-0.9zM131.4 463.7h0.9v0.9h-0.9zM122.4 474.6h0.9v0.9h-0.9zM107.5 406.0h0.9v0.9h-0.9zM111.5 425.8h0.9v0.9h-0.9zM117.5 436.6h0.9v0.9h-0.9zM147.3 427.7h0.9v0.9h-0.9zM122.7 449.1h0.9v0.9h-0.9zM138.8 455.9h0.9v0.9h-0.9zM112.6 456.9h0.9v0.9h-0.9zM132.6 431.1h0.9v0.9h-0.9zM111.7 410.5h0.9v0.9h-0.9zM112.9 434.7h0.9v0.9h-0.9zM125.7 479.1h0.9v0.9h-0.9zM100.9 460.7h0.9v0.9h-0.9zM119.5 460.1h0.9v0.9h-0.9zM104.3 472.2h0.9v0.9h-0.9zM119.9 435.7h0.9v0.9h-0.9zM125.0 443.2h0.9v0.9h-0.9zM128.1 469.1h0.9v0.9h-0.9zM124.6 481.6h0.9v0.9h-0.9zM117.6 408.5h0.9v0.9h-0.9zM113.4 427.8h0.9v0.9h-0.9zM109.6 441.2h0.9v0.9h-0.9zM112.6 463.9h0.9v0.9h-0.9zM114.7 410.1h0.9v0.9h-0.9zM113.6 465.0h0.9v0.9h-0.9zM122.0 424.1h0.9v0.9h-0.9zM111.7 460.3h0.9v0.9h-0.9zM100.8 447.8h0.9v0.9h-0.9zM127.9 478.7h0.9v0.9h-0.9zM110.8 415.5h0.9v0.9h-0.9zM99.8 455.8h0.9v0.9h-0.9zM108.7 434.2h0.9v0.9h-0.9zM115.7 423.7h0.9v0.9h-0.9zM117.1 465.2h0.9v0.9h-0.9zM122.3 417.0h0.9v0.9h-0.9zM142.8 459.9h0.9v0.9h-0.9zM104.0 415.2h0.9v0.9h-0.9zM139.0 411.4h0.9v0.9h-0.9zM121.8 458.6h0.9v0.9h-0.9zM92.9 452.8h0.9v0.9h-0.9zM116.3 417.2h0.9v0.9h-0.9zM127.6 449.3h0.9v0.9h-0.9zM107.1 433.2h0.9v0.9h-0.9zM101.4 424.0h0.9v0.9h-0.9zM104.0 446.1h0.9v0.9h-0.9zM121.8 454.2h0.9v0.9h-0.9zM120.1 461.1h0.9v0.9h-0.9zM138.9 414.8h0.9v0.9h-0.9zM113.9 481.6h0.9v0.9h-0.9zM129.3 433.0h0.9v0.9h-0.9zM105.0 400.1h0.9v0.9h-0.9zM117.0 419.1h0.9v0.9h-0.9zM132.8 443.4h0.9v0.9h-0.9zM116.2 418.7h0.9v0.9h-0.9zM125.9 445.2h0.9v0.9h-0.9zM104.4 417.4h0.9v0.9h-0.9zM108.4 465.8h0.9v0.9h-0.9zM113.1 444.3h0.9v0.9h-0.9zM106.0 433.3h0.9v0.9h-0.9zM114.1 464.5h0.9v0.9h-0.9zM137.2 416.1h0.9v0.9h-0.9zM116.9 435.7h0.9v0.9h-0.9zM122.7 454.4h0.9v0.9h-0.9zM138.5 449.0h0.9v0.9h-0.9zM120.0 441.0h0.9v0.9h-0.9zM117.9 461.5h0.9v0.9h-0.9zM113.9 426.4h0.9v0.9h-0.9zM133.2 439.0h0.9v0.9h-0.9zM130.7 417.5h0.9v0.9h-0.9zM144.5 437.8h0.9v0.9h-0.9zM144.7 410.2h0.9v0.9h-0.9zM101.9 410.0h0.9v0.9h-0.9zM129.1 439.0h0.9v0.9h-0.9zM145.4 413.6h0.9v0.9h-0.9zM123.8 458.4h0.9v0.9h-0.9zM122.0 463.6h0.9v0.9h-0.9zM106.3 453.8h0.9v0.9h-0.9zM133.8 458.2h0.9v0.9h-0.9zM108.0 452.2h0.9v0.9h-0.9zM122.2 401.4h0.9v0.9h-0.9zM116.1 411.6h0.9v0.9h-0.9zM125.7 447.5h0.9v0.9h-0.9zM115.0 412.1h0.9v0.9h-0.9zM115.1 422.2h0.9v0.9h-0.9zM132.6 438.3h0.9v0.9h-0.9zM119.7 447.0h0.9v0.9h-0.9zM131.1 399.7h0.9v0.9h-0.9zM112.2 439.9h0.9v0.9h-0.9zM138.0 460.7h0.9v0.9h-0.9zM126.5 448.7h0.9v0.9h-0.9zM134.9 476.9h0.9v0.9h-0.9zM129.5 427.6h0.9v0.9h-0.9zM101.3 471.3h0.9v0.9h-0.9zM89.2 493.5h0.9v0.9h-0.9zM132.9 457.3h0.9v0.9h-0.9zM114.4 464.4h0.9v0.9h-0.9zM115.3 464.8h0.9v0.9h-0.9zM113.4 421.9h0.9v0.9h-0.9zM123.7 466.7h0.9v0.9h-0.9zM130.7 407.5h0.9v0.9h-0.9zM116.6 446.9h0.9v0.9h-0.9zM93.8 453.1h0.9v0.9h-0.9zM127.2 471.1h0.9v0.9h-0.9zM123.6 436.1h0.9v0.9h-0.9zM112.6 461.2h0.9v0.9h-0.9zM104.4 439.0h0.9v0.9h-0.9zM103.9 479.0h0.9v0.9h-0.9zM135.1 423.4h0.9v0.9h-0.9zM112.6 426.0h0.9v0.9h-0.9zM134.5 449.3h0.9v0.9h-0.9zM117.0 481.2h0.9v0.9h-0.9zM130.5 445.8h0.9v0.9h-0.9zM108.9 438.6h0.9v0.9h-0.9zM104.8 423.7h0.9v0.9h-0.9zM117.6 465.6h0.9v0.9h-0.9zM99.1 422.0h0.9v0.9h-0.9zM103.9 433.1h0.9v0.9h-0.9zM125.6 432.2h0.9v0.9h-0.9zM138.8 467.2h0.9v0.9h-0.9zM122.1 417.9h0.9v0.9h-0.9zM100.1 418.2h0.9v0.9h-0.9zM107.6 444.3h0.9v0.9h-0.9zM122.1 440.3h0.9v0.9h-0.9zM118.3 402.2h0.9v0.9h-0.9z" fill="#7070d0" fill-opacity="0.35"/>
<ellipse cx="73" cy="483" rx="18" ry="7" transform="rotate(-35 73 483)" fill="#4a7af0" fill-opacity="0.4" filter="url(#b2)"/>
<ellipse cx="76" cy="481" rx="14" ry="5.5" transform="rotate(-40 76 481)" fill="#1a8af0" fill-opacity="0.75" filter="url(#b1)"/>
<ellipse cx="77" cy="481" rx="11" ry="4.4" transform="rotate(-42 77 481)" fill="#10c8e8" fill-opacity="0.9" filter="url(#b1)"/>
<ellipse cx="78" cy="480.5" rx="8" ry="3.4" transform="rotate(-45 78 480.5)" fill="#18e838" fill-opacity="1.0" filter="url(#b1)"/>
<ellipse cx="80" cy="487" rx="2.5" ry="5.5" transform="rotate(0 80 487)" fill="#18e838" fill-opacity="0.85" filter="url(#b1)"/>
</g>
<rect x="53.8" y="393.4" width="100.60000000000001" height="101.0" fill="none" stroke="#666" stroke-width="1.1"/>
<line x1="90.40" y1="393.40" x2="90.40" y2="494.40" stroke="#444" stroke-width="1.1"/>
<line x1="53.80" y1="462.80" x2="154.40" y2="462.80" stroke="#444" stroke-width="1.1"/>
<text x="55.40" y="400.00" font-size="6.0" font-weight="bold" fill="#2020a0" textLength="13.08" lengthAdjust="spacingAndGlyphs">3.41</text>
<text x="153.40" y="400.00" font-size="6.0" font-weight="bold" text-anchor="end" fill="#2020a0" textLength="16.45" lengthAdjust="spacingAndGlyphs">11.40</text>
<rect x="54.40" y="485.40" width="19.42" height="8.40" fill="#fff"/>
<text x="55.40" y="492.80" font-size="6.0" font-weight="bold" fill="#2020a0" textLength="16.82" lengthAdjust="spacingAndGlyphs">73.23</text>
<text x="153.40" y="492.80" font-size="6.0" font-weight="bold" text-anchor="end" fill="#2020a0" textLength="16.45" lengthAdjust="spacingAndGlyphs">11.95</text>
<text transform="translate(143.40,440.60) rotate(90)" font-size="10.0" font-style="italic" text-anchor="middle" fill="#2020a0" textLength="55.00" lengthAdjust="spacingAndGlyphs" stroke="#2020a0" stroke-width="0.45">RapGEF2+/+</text>
<clipPath id="k2"><rect x="160.1" y="393.4" width="99.50000000000003" height="100.60000000000002"/></clipPath>
<g clip-path="url(#k2)">
<path d="M189.9 460.2h0.9v0.9h-0.9zM182.8 412.4h0.9v0.9h-0.9zM183.9 417.9h0.9v0.9h-0.9zM163.6 442.5h0.9v0.9h-0.9zM206.0 434.0h0.9v0.9h-0.9zM199.4 478.1h0.9v0.9h-0.9zM184.7 458.5h0.9v0.9h-0.9zM195.7 432.9h0.9v0.9h-0.9zM190.8 454.4h0.9v0.9h-0.9zM197.8 447.7h0.9v0.9h-0.9zM184.9 461.7h0.9v0.9h-0.9zM184.7 435.5h0.9v0.9h-0.9zM180.1 422.2h0.9v0.9h-0.9zM192.5 454.1h0.9v0.9h-0.9zM187.0 489.0h0.9v0.9h-0.9zM193.5 445.1h0.9v0.9h-0.9zM181.9 412.0h0.9v0.9h-0.9zM189.3 476.1h0.9v0.9h-0.9zM196.4 452.6h0.9v0.9h-0.9zM189.9 425.5h0.9v0.9h-0.9zM191.3 463.3h0.9v0.9h-0.9zM192.1 418.8h0.9v0.9h-0.9zM177.9 473.1h0.9v0.9h-0.9zM195.8 447.5h0.9v0.9h-0.9zM208.6 396.8h0.9v0.9h-0.9zM170.7 432.1h0.9v0.9h-0.9zM173.0 472.4h0.9v0.9h-0.9zM196.4 443.2h0.9v0.9h-0.9zM189.3 441.7h0.9v0.9h-0.9zM198.8 434.1h0.9v0.9h-0.9zM195.2 458.4h0.9v0.9h-0.9zM190.1 449.4h0.9v0.9h-0.9zM190.8 447.0h0.9v0.9h-0.9zM186.3 415.4h0.9v0.9h-0.9zM196.7 469.7h0.9v0.9h-0.9zM176.7 474.1h0.9v0.9h-0.9zM183.8 407.5h0.9v0.9h-0.9zM206.0 458.1h0.9v0.9h-0.9zM180.4 427.8h0.9v0.9h-0.9zM182.4 456.4h0.9v0.9h-0.9zM197.7 453.9h0.9v0.9h-0.9zM185.6 425.1h0.9v0.9h-0.9zM201.2 395.2h0.9v0.9h-0.9zM169.3 468.1h0.9v0.9h-0.9zM199.3 425.3h0.9v0.9h-0.9zM198.3 428.2h0.9v0.9h-0.9zM189.5 493.2h0.9v0.9h-0.9zM200.2 463.8h0.9v0.9h-0.9zM188.9 428.6h0.9v0.9h-0.9zM198.0 456.2h0.9v0.9h-0.9zM190.7 442.7h0.9v0.9h-0.9zM185.2 421.0h0.9v0.9h-0.9zM180.3 407.9h0.9v0.9h-0.9zM194.5 400.4h0.9v0.9h-0.9zM186.0 453.1h0.9v0.9h-0.9zM186.2 442.2h0.9v0.9h-0.9zM186.9 444.0h0.9v0.9h-0.9zM194.5 461.1h0.9v0.9h-0.9zM177.3 418.8h0.9v0.9h-0.9zM172.7 409.1h0.9v0.9h-0.9zM163.7 395.6h0.9v0.9h-0.9zM200.0 431.6h0.9v0.9h-0.9zM188.7 459.0h0.9v0.9h-0.9zM203.1 436.3h0.9v0.9h-0.9zM187.9 456.0h0.9v0.9h-0.9zM180.6 410.5h0.9v0.9h-0.9zM192.8 428.3h0.9v0.9h-0.9zM187.2 420.9h0.9v0.9h-0.9zM175.5 408.8h0.9v0.9h-0.9zM179.1 486.5h0.9v0.9h-0.9zM205.7 461.3h0.9v0.9h-0.9zM191.5 421.0h0.9v0.9h-0.9zM192.2 420.8h0.9v0.9h-0.9zM185.2 438.6h0.9v0.9h-0.9zM181.1 403.9h0.9v0.9h-0.9zM196.9 450.9h0.9v0.9h-0.9zM187.0 407.6h0.9v0.9h-0.9zM180.4 430.7h0.9v0.9h-0.9zM186.7 414.4h0.9v0.9h-0.9zM178.9 428.0h0.9v0.9h-0.9zM189.9 406.7h0.9v0.9h-0.9zM199.3 400.7h0.9v0.9h-0.9zM179.6 415.8h0.9v0.9h-0.9zM202.3 423.0h0.9v0.9h-0.9zM181.3 432.6h0.9v0.9h-0.9zM189.5 441.7h0.9v0.9h-0.9zM179.6 478.2h0.9v0.9h-0.9zM185.8 460.3h0.9v0.9h-0.9zM188.5 433.7h0.9v0.9h-0.9zM183.7 458.1h0.9v0.9h-0.9zM181.0 422.8h0.9v0.9h-0.9zM181.2 476.2h0.9v0.9h-0.9zM179.8 453.7h0.9v0.9h-0.9zM172.3 406.1h0.9v0.9h-0.9zM185.4 458.9h0.9v0.9h-0.9zM192.0 460.4h0.9v0.9h-0.9zM194.5 421.3h0.9v0.9h-0.9zM212.6 428.2h0.9v0.9h-0.9zM183.4 413.3h0.9v0.9h-0.9zM206.7 416.3h0.9v0.9h-0.9zM177.5 452.7h0.9v0.9h-0.9zM197.7 447.5h0.9v0.9h-0.9zM191.5 430.1h0.9v0.9h-0.9zM168.3 468.8h0.9v0.9h-0.9zM197.0 442.0h0.9v0.9h-0.9zM186.4 446.8h0.9v0.9h-0.9zM178.3 411.0h0.9v0.9h-0.9zM195.7 420.8h0.9v0.9h-0.9zM188.5 459.1h0.9v0.9h-0.9zM180.5 479.6h0.9v0.9h-0.9zM187.6 455.1h0.9v0.9h-0.9zM186.4 452.5h0.9v0.9h-0.9zM195.2 419.0h0.9v0.9h-0.9zM196.0 478.4h0.9v0.9h-0.9zM181.3 473.6h0.9v0.9h-0.9zM182.5 426.7h0.9v0.9h-0.9zM182.7 438.8h0.9v0.9h-0.9zM174.5 415.1h0.9v0.9h-0.9zM182.1 476.7h0.9v0.9h-0.9zM187.1 450.2h0.9v0.9h-0.9zM194.9 437.6h0.9v0.9h-0.9zM201.2 450.2h0.9v0.9h-0.9zM179.9 451.0h0.9v0.9h-0.9zM193.5 429.7h0.9v0.9h-0.9zM183.6 409.0h0.9v0.9h-0.9zM208.8 407.9h0.9v0.9h-0.9zM187.5 396.5h0.9v0.9h-0.9zM193.0 451.5h0.9v0.9h-0.9zM179.9 397.5h0.9v0.9h-0.9zM190.0 443.5h0.9v0.9h-0.9zM184.2 450.3h0.9v0.9h-0.9zM191.5 415.4h0.9v0.9h-0.9zM172.4 445.1h0.9v0.9h-0.9zM194.6 412.6h0.9v0.9h-0.9zM179.0 470.0h0.9v0.9h-0.9zM205.2 425.1h0.9v0.9h-0.9zM185.1 442.5h0.9v0.9h-0.9zM199.0 457.1h0.9v0.9h-0.9zM174.1 429.3h0.9v0.9h-0.9zM192.3 395.2h0.9v0.9h-0.9zM179.1 426.7h0.9v0.9h-0.9zM183.1 459.1h0.9v0.9h-0.9zM188.2 437.9h0.9v0.9h-0.9zM184.8 445.7h0.9v0.9h-0.9zM190.6 413.0h0.9v0.9h-0.9zM195.5 443.6h0.9v0.9h-0.9zM194.5 458.2h0.9v0.9h-0.9zM187.1 440.9h0.9v0.9h-0.9zM174.4 487.7h0.9v0.9h-0.9zM180.0 434.8h0.9v0.9h-0.9zM186.0 414.0h0.9v0.9h-0.9zM166.8 399.6h0.9v0.9h-0.9zM195.5 468.8h0.9v0.9h-0.9zM185.6 438.5h0.9v0.9h-0.9zM185.5 465.3h0.9v0.9h-0.9zM197.5 451.4h0.9v0.9h-0.9zM194.7 480.6h0.9v0.9h-0.9zM190.2 471.7h0.9v0.9h-0.9zM178.0 430.6h0.9v0.9h-0.9zM191.1 446.8h0.9v0.9h-0.9zM191.5 467.1h0.9v0.9h-0.9zM179.2 409.1h0.9v0.9h-0.9zM198.4 476.3h0.9v0.9h-0.9zM193.1 470.3h0.9v0.9h-0.9zM168.3 464.6h0.9v0.9h-0.9zM189.2 435.0h0.9v0.9h-0.9zM175.4 447.6h0.9v0.9h-0.9zM199.4 412.1h0.9v0.9h-0.9z" fill="#7070d0" fill-opacity="0.45"/>
<path d="M211.4 444.0h0.9v0.9h-0.9zM195.3 442.8h0.9v0.9h-0.9zM212.2 454.9h0.9v0.9h-0.9zM197.6 465.6h0.9v0.9h-0.9zM217.1 460.8h0.9v0.9h-0.9zM239.5 446.6h0.9v0.9h-0.9zM177.3 431.3h0.9v0.9h-0.9zM233.1 411.8h0.9v0.9h-0.9zM160.2 421.6h0.9v0.9h-0.9zM207.0 457.1h0.9v0.9h-0.9zM210.2 430.9h0.9v0.9h-0.9zM221.1 408.9h0.9v0.9h-0.9zM168.8 455.7h0.9v0.9h-0.9zM208.5 419.9h0.9v0.9h-0.9zM213.2 420.9h0.9v0.9h-0.9zM241.4 434.3h0.9v0.9h-0.9zM207.4 451.8h0.9v0.9h-0.9zM185.6 412.0h0.9v0.9h-0.9zM205.3 444.4h0.9v0.9h-0.9zM198.9 430.9h0.9v0.9h-0.9zM227.6 418.4h0.9v0.9h-0.9zM185.3 426.5h0.9v0.9h-0.9zM189.1 474.6h0.9v0.9h-0.9zM224.4 428.6h0.9v0.9h-0.9zM254.7 457.8h0.9v0.9h-0.9zM219.6 459.8h0.9v0.9h-0.9zM217.6 428.7h0.9v0.9h-0.9zM201.3 451.1h0.9v0.9h-0.9zM237.2 428.7h0.9v0.9h-0.9zM223.5 424.7h0.9v0.9h-0.9zM253.3 411.9h0.9v0.9h-0.9zM218.3 461.9h0.9v0.9h-0.9zM186.3 430.0h0.9v0.9h-0.9zM195.8 426.2h0.9v0.9h-0.9zM185.3 411.8h0.9v0.9h-0.9zM178.7 485.2h0.9v0.9h-0.9zM241.6 458.5h0.9v0.9h-0.9zM230.2 436.7h0.9v0.9h-0.9zM179.0 422.6h0.9v0.9h-0.9zM254.5 401.8h0.9v0.9h-0.9zM216.1 447.3h0.9v0.9h-0.9zM186.1 447.2h0.9v0.9h-0.9zM219.7 404.8h0.9v0.9h-0.9zM208.3 469.0h0.9v0.9h-0.9zM190.7 459.4h0.9v0.9h-0.9zM161.4 415.9h0.9v0.9h-0.9zM210.9 426.1h0.9v0.9h-0.9zM217.3 429.3h0.9v0.9h-0.9zM223.9 436.4h0.9v0.9h-0.9zM225.4 399.0h0.9v0.9h-0.9zM198.3 476.9h0.9v0.9h-0.9zM212.8 447.9h0.9v0.9h-0.9zM203.0 471.5h0.9v0.9h-0.9zM189.1 471.4h0.9v0.9h-0.9zM201.0 434.8h0.9v0.9h-0.9zM243.8 448.5h0.9v0.9h-0.9zM173.7 458.4h0.9v0.9h-0.9zM215.9 459.2h0.9v0.9h-0.9zM214.6 435.9h0.9v0.9h-0.9zM192.3 424.5h0.9v0.9h-0.9zM199.0 440.9h0.9v0.9h-0.9zM175.0 420.0h0.9v0.9h-0.9zM188.7 426.1h0.9v0.9h-0.9zM218.2 442.1h0.9v0.9h-0.9zM187.5 414.3h0.9v0.9h-0.9zM195.7 438.7h0.9v0.9h-0.9zM213.2 447.8h0.9v0.9h-0.9zM204.2 487.2h0.9v0.9h-0.9zM200.0 445.1h0.9v0.9h-0.9zM242.5 404.7h0.9v0.9h-0.9zM198.0 443.3h0.9v0.9h-0.9zM243.4 425.1h0.9v0.9h-0.9zM238.5 450.0h0.9v0.9h-0.9zM183.9 422.9h0.9v0.9h-0.9zM235.9 422.3h0.9v0.9h-0.9zM193.7 427.2h0.9v0.9h-0.9zM200.4 394.4h0.9v0.9h-0.9zM186.5 423.3h0.9v0.9h-0.9zM162.2 439.6h0.9v0.9h-0.9zM177.7 470.0h0.9v0.9h-0.9zM195.5 432.7h0.9v0.9h-0.9zM185.0 430.7h0.9v0.9h-0.9zM179.3 454.5h0.9v0.9h-0.9zM192.6 453.5h0.9v0.9h-0.9zM204.8 480.0h0.9v0.9h-0.9zM246.2 454.6h0.9v0.9h-0.9zM167.4 439.5h0.9v0.9h-0.9zM196.2 473.5h0.9v0.9h-0.9zM186.2 478.2h0.9v0.9h-0.9zM172.1 428.1h0.9v0.9h-0.9zM178.3 444.0h0.9v0.9h-0.9zM187.4 398.0h0.9v0.9h-0.9zM227.9 430.9h0.9v0.9h-0.9zM205.2 417.9h0.9v0.9h-0.9zM196.6 434.6h0.9v0.9h-0.9zM225.3 428.0h0.9v0.9h-0.9zM217.0 435.8h0.9v0.9h-0.9zM204.4 437.4h0.9v0.9h-0.9zM219.6 452.3h0.9v0.9h-0.9zM189.3 445.8h0.9v0.9h-0.9zM225.7 426.0h0.9v0.9h-0.9zM221.7 407.8h0.9v0.9h-0.9zM199.7 470.9h0.9v0.9h-0.9zM179.5 475.4h0.9v0.9h-0.9zM248.0 428.6h0.9v0.9h-0.9zM212.4 454.0h0.9v0.9h-0.9zM193.7 400.9h0.9v0.9h-0.9zM231.3 433.3h0.9v0.9h-0.9zM199.1 476.8h0.9v0.9h-0.9zM216.3 413.8h0.9v0.9h-0.9zM230.8 419.1h0.9v0.9h-0.9zM190.0 480.2h0.9v0.9h-0.9z" fill="#7070d0" fill-opacity="0.3"/>
<path d="M191.3 482.1h0.9v0.9h-0.9zM192.6 485.8h0.9v0.9h-0.9zM178.1 478.3h0.9v0.9h-0.9zM185.9 482.0h0.9v0.9h-0.9zM197.8 462.1h0.9v0.9h-0.9zM166.6 477.5h0.9v0.9h-0.9zM177.3 478.8h0.9v0.9h-0.9zM172.0 471.4h0.9v0.9h-0.9zM174.1 480.3h0.9v0.9h-0.9zM173.6 488.8h0.9v0.9h-0.9zM196.5 475.0h0.9v0.9h-0.9zM190.0 486.4h0.9v0.9h-0.9zM167.9 487.9h0.9v0.9h-0.9zM178.1 485.2h0.9v0.9h-0.9zM186.7 480.0h0.9v0.9h-0.9zM187.4 480.8h0.9v0.9h-0.9zM177.1 475.5h0.9v0.9h-0.9zM187.7 483.1h0.9v0.9h-0.9zM178.7 470.6h0.9v0.9h-0.9zM185.7 478.9h0.9v0.9h-0.9zM184.7 457.4h0.9v0.9h-0.9zM182.2 477.3h0.9v0.9h-0.9zM195.4 470.7h0.9v0.9h-0.9zM201.5 463.2h0.9v0.9h-0.9zM172.8 471.2h0.9v0.9h-0.9zM175.0 488.9h0.9v0.9h-0.9zM184.8 471.2h0.9v0.9h-0.9zM184.7 485.8h0.9v0.9h-0.9zM180.8 484.9h0.9v0.9h-0.9zM171.8 482.3h0.9v0.9h-0.9zM194.2 471.0h0.9v0.9h-0.9zM175.1 478.0h0.9v0.9h-0.9zM168.4 483.4h0.9v0.9h-0.9zM170.5 472.5h0.9v0.9h-0.9zM172.5 484.8h0.9v0.9h-0.9zM186.9 483.6h0.9v0.9h-0.9zM179.3 482.7h0.9v0.9h-0.9zM174.2 485.5h0.9v0.9h-0.9zM182.5 472.2h0.9v0.9h-0.9zM174.5 480.0h0.9v0.9h-0.9zM190.4 479.9h0.9v0.9h-0.9zM182.6 463.0h0.9v0.9h-0.9zM176.8 482.8h0.9v0.9h-0.9zM194.1 491.6h0.9v0.9h-0.9zM193.7 481.5h0.9v0.9h-0.9zM179.4 476.9h0.9v0.9h-0.9zM186.3 483.1h0.9v0.9h-0.9zM182.6 481.1h0.9v0.9h-0.9zM186.0 480.4h0.9v0.9h-0.9zM189.9 480.6h0.9v0.9h-0.9zM173.8 480.1h0.9v0.9h-0.9zM175.0 478.4h0.9v0.9h-0.9zM179.6 476.5h0.9v0.9h-0.9zM169.8 474.8h0.9v0.9h-0.9zM181.0 476.9h0.9v0.9h-0.9zM186.3 477.6h0.9v0.9h-0.9zM182.6 481.0h0.9v0.9h-0.9zM178.2 484.0h0.9v0.9h-0.9zM174.0 481.4h0.9v0.9h-0.9zM197.5 474.0h0.9v0.9h-0.9zM176.9 461.6h0.9v0.9h-0.9zM171.6 483.3h0.9v0.9h-0.9zM173.9 482.1h0.9v0.9h-0.9zM198.9 473.9h0.9v0.9h-0.9zM195.2 474.5h0.9v0.9h-0.9zM186.3 483.4h0.9v0.9h-0.9zM189.4 472.6h0.9v0.9h-0.9zM175.9 493.6h0.9v0.9h-0.9zM176.1 473.0h0.9v0.9h-0.9zM186.8 475.3h0.9v0.9h-0.9zM194.8 484.3h0.9v0.9h-0.9zM186.0 468.9h0.9v0.9h-0.9zM172.8 477.3h0.9v0.9h-0.9zM172.4 464.6h0.9v0.9h-0.9zM184.4 460.4h0.9v0.9h-0.9zM179.2 482.0h0.9v0.9h-0.9zM171.2 485.8h0.9v0.9h-0.9zM173.2 470.4h0.9v0.9h-0.9zM175.9 478.3h0.9v0.9h-0.9zM186.8 467.5h0.9v0.9h-0.9zM184.7 481.0h0.9v0.9h-0.9zM179.4 488.1h0.9v0.9h-0.9zM196.7 463.9h0.9v0.9h-0.9zM178.4 482.7h0.9v0.9h-0.9zM184.5 476.3h0.9v0.9h-0.9zM175.2 462.4h0.9v0.9h-0.9zM187.6 475.7h0.9v0.9h-0.9zM182.1 477.7h0.9v0.9h-0.9zM189.2 480.3h0.9v0.9h-0.9zM171.3 468.2h0.9v0.9h-0.9zM175.4 492.0h0.9v0.9h-0.9zM176.5 476.5h0.9v0.9h-0.9zM181.3 481.9h0.9v0.9h-0.9zM186.3 487.6h0.9v0.9h-0.9zM174.6 469.3h0.9v0.9h-0.9zM170.2 474.7h0.9v0.9h-0.9zM195.5 477.6h0.9v0.9h-0.9zM186.2 463.1h0.9v0.9h-0.9zM161.2 486.0h0.9v0.9h-0.9zM184.4 482.8h0.9v0.9h-0.9zM175.3 482.0h0.9v0.9h-0.9zM185.6 478.6h0.9v0.9h-0.9zM176.9 482.6h0.9v0.9h-0.9zM183.8 487.4h0.9v0.9h-0.9zM188.3 472.2h0.9v0.9h-0.9zM197.4 481.1h0.9v0.9h-0.9zM189.0 484.5h0.9v0.9h-0.9zM186.6 475.8h0.9v0.9h-0.9zM182.9 482.6h0.9v0.9h-0.9zM177.4 472.6h0.9v0.9h-0.9zM173.0 479.7h0.9v0.9h-0.9zM183.0 480.7h0.9v0.9h-0.9zM176.1 483.0h0.9v0.9h-0.9zM190.6 485.0h0.9v0.9h-0.9zM180.3 466.4h0.9v0.9h-0.9zM181.9 475.6h0.9v0.9h-0.9zM186.2 468.4h0.9v0.9h-0.9zM199.1 462.7h0.9v0.9h-0.9zM175.2 471.7h0.9v0.9h-0.9zM181.8 487.7h0.9v0.9h-0.9zM175.1 478.2h0.9v0.9h-0.9zM170.3 485.0h0.9v0.9h-0.9zM186.8 485.0h0.9v0.9h-0.9zM178.1 478.9h0.9v0.9h-0.9zM180.4 486.9h0.9v0.9h-0.9zM180.2 481.4h0.9v0.9h-0.9zM176.3 481.6h0.9v0.9h-0.9zM163.3 490.5h0.9v0.9h-0.9zM179.8 462.4h0.9v0.9h-0.9zM175.4 476.4h0.9v0.9h-0.9zM175.6 485.7h0.9v0.9h-0.9zM184.5 478.7h0.9v0.9h-0.9zM169.1 473.9h0.9v0.9h-0.9zM190.4 477.6h0.9v0.9h-0.9zM163.1 481.0h0.9v0.9h-0.9zM174.5 474.1h0.9v0.9h-0.9zM184.8 481.7h0.9v0.9h-0.9zM181.6 460.7h0.9v0.9h-0.9zM185.8 467.8h0.9v0.9h-0.9zM182.2 478.0h0.9v0.9h-0.9zM175.5 482.9h0.9v0.9h-0.9zM178.2 481.3h0.9v0.9h-0.9zM190.9 475.4h0.9v0.9h-0.9zM189.6 464.1h0.9v0.9h-0.9zM182.6 473.2h0.9v0.9h-0.9zM181.3 464.7h0.9v0.9h-0.9zM176.5 478.7h0.9v0.9h-0.9zM179.2 482.3h0.9v0.9h-0.9zM176.2 477.0h0.9v0.9h-0.9zM191.8 483.4h0.9v0.9h-0.9zM183.7 478.2h0.9v0.9h-0.9zM192.2 478.2h0.9v0.9h-0.9zM176.9 455.8h0.9v0.9h-0.9zM191.1 483.7h0.9v0.9h-0.9zM165.9 484.5h0.9v0.9h-0.9zM189.3 486.4h0.9v0.9h-0.9zM182.4 481.4h0.9v0.9h-0.9zM201.1 472.6h0.9v0.9h-0.9zM190.6 490.7h0.9v0.9h-0.9zM180.9 480.9h0.9v0.9h-0.9zM182.8 467.7h0.9v0.9h-0.9zM188.8 473.2h0.9v0.9h-0.9zM173.3 472.9h0.9v0.9h-0.9zM180.6 471.8h0.9v0.9h-0.9zM169.8 481.3h0.9v0.9h-0.9zM171.4 480.5h0.9v0.9h-0.9zM196.0 479.4h0.9v0.9h-0.9zM176.1 492.7h0.9v0.9h-0.9zM183.3 468.6h0.9v0.9h-0.9zM192.0 482.5h0.9v0.9h-0.9zM178.2 464.7h0.9v0.9h-0.9zM184.5 470.2h0.9v0.9h-0.9zM184.7 475.4h0.9v0.9h-0.9zM178.4 489.8h0.9v0.9h-0.9zM179.8 485.8h0.9v0.9h-0.9zM194.6 482.2h0.9v0.9h-0.9zM177.5 490.4h0.9v0.9h-0.9zM183.8 492.0h0.9v0.9h-0.9zM175.1 476.8h0.9v0.9h-0.9zM182.0 461.6h0.9v0.9h-0.9zM169.5 485.3h0.9v0.9h-0.9zM176.6 492.5h0.9v0.9h-0.9zM187.3 477.5h0.9v0.9h-0.9zM187.6 482.0h0.9v0.9h-0.9zM181.2 485.4h0.9v0.9h-0.9zM175.0 493.7h0.9v0.9h-0.9zM175.1 477.6h0.9v0.9h-0.9zM180.4 492.1h0.9v0.9h-0.9zM177.6 472.5h0.9v0.9h-0.9zM183.6 476.8h0.9v0.9h-0.9zM184.6 462.3h0.9v0.9h-0.9zM184.2 482.8h0.9v0.9h-0.9zM174.4 469.5h0.9v0.9h-0.9zM184.9 491.6h0.9v0.9h-0.9zM174.6 471.5h0.9v0.9h-0.9zM190.2 475.1h0.9v0.9h-0.9zM167.7 489.9h0.9v0.9h-0.9zM181.7 470.4h0.9v0.9h-0.9zM184.4 490.4h0.9v0.9h-0.9zM180.0 476.6h0.9v0.9h-0.9zM191.5 486.7h0.9v0.9h-0.9zM182.3 468.4h0.9v0.9h-0.9zM179.2 473.3h0.9v0.9h-0.9zM168.7 469.6h0.9v0.9h-0.9zM186.7 481.2h0.9v0.9h-0.9zM186.5 485.2h0.9v0.9h-0.9zM181.4 482.2h0.9v0.9h-0.9zM182.3 477.4h0.9v0.9h-0.9zM183.0 468.9h0.9v0.9h-0.9zM194.7 493.2h0.9v0.9h-0.9zM186.6 483.3h0.9v0.9h-0.9zM163.3 475.8h0.9v0.9h-0.9zM179.2 478.5h0.9v0.9h-0.9zM194.8 485.1h0.9v0.9h-0.9zM198.1 481.1h0.9v0.9h-0.9zM202.1 462.0h0.9v0.9h-0.9zM175.9 478.3h0.9v0.9h-0.9zM183.6 463.3h0.9v0.9h-0.9zM187.2 480.6h0.9v0.9h-0.9zM174.0 478.3h0.9v0.9h-0.9zM174.0 482.2h0.9v0.9h-0.9zM182.3 472.5h0.9v0.9h-0.9zM189.7 469.7h0.9v0.9h-0.9zM188.8 483.1h0.9v0.9h-0.9zM175.3 486.6h0.9v0.9h-0.9zM180.2 481.1h0.9v0.9h-0.9zM185.3 465.0h0.9v0.9h-0.9zM177.3 470.5h0.9v0.9h-0.9zM178.5 471.2h0.9v0.9h-0.9zM194.6 478.1h0.9v0.9h-0.9zM181.6 482.4h0.9v0.9h-0.9zM186.1 486.1h0.9v0.9h-0.9zM182.7 483.3h0.9v0.9h-0.9zM167.4 487.5h0.9v0.9h-0.9zM178.5 469.3h0.9v0.9h-0.9zM182.7 475.0h0.9v0.9h-0.9zM181.1 465.3h0.9v0.9h-0.9zM177.5 486.1h0.9v0.9h-0.9zM186.3 472.0h0.9v0.9h-0.9zM194.3 490.1h0.9v0.9h-0.9zM189.2 469.4h0.9v0.9h-0.9zM178.7 488.1h0.9v0.9h-0.9zM182.3 477.5h0.9v0.9h-0.9zM178.9 485.8h0.9v0.9h-0.9zM182.0 475.6h0.9v0.9h-0.9zM181.0 485.6h0.9v0.9h-0.9zM192.8 485.4h0.9v0.9h-0.9zM182.7 465.7h0.9v0.9h-0.9zM174.9 462.1h0.9v0.9h-0.9zM189.1 475.3h0.9v0.9h-0.9zM189.4 482.5h0.9v0.9h-0.9zM173.1 484.0h0.9v0.9h-0.9zM191.3 490.9h0.9v0.9h-0.9zM179.7 469.2h0.9v0.9h-0.9zM182.1 486.5h0.9v0.9h-0.9zM167.4 485.3h0.9v0.9h-0.9zM175.3 468.1h0.9v0.9h-0.9zM181.4 476.8h0.9v0.9h-0.9zM201.5 469.1h0.9v0.9h-0.9zM165.7 478.7h0.9v0.9h-0.9zM192.4 457.1h0.9v0.9h-0.9zM200.1 477.2h0.9v0.9h-0.9zM184.0 478.1h0.9v0.9h-0.9zM195.2 472.5h0.9v0.9h-0.9zM176.4 472.0h0.9v0.9h-0.9zM185.0 469.9h0.9v0.9h-0.9zM177.2 484.6h0.9v0.9h-0.9zM183.2 480.3h0.9v0.9h-0.9zM175.4 486.3h0.9v0.9h-0.9zM180.6 482.1h0.9v0.9h-0.9zM169.1 473.8h0.9v0.9h-0.9zM181.0 470.7h0.9v0.9h-0.9zM190.0 471.7h0.9v0.9h-0.9zM187.0 488.3h0.9v0.9h-0.9zM178.3 474.8h0.9v0.9h-0.9zM180.8 475.9h0.9v0.9h-0.9zM169.8 488.9h0.9v0.9h-0.9zM179.6 473.4h0.9v0.9h-0.9zM177.2 474.2h0.9v0.9h-0.9zM179.9 478.1h0.9v0.9h-0.9zM179.0 491.8h0.9v0.9h-0.9zM170.3 493.7h0.9v0.9h-0.9zM178.2 478.9h0.9v0.9h-0.9zM185.7 479.9h0.9v0.9h-0.9zM184.0 463.6h0.9v0.9h-0.9zM194.4 478.9h0.9v0.9h-0.9zM195.2 475.4h0.9v0.9h-0.9zM185.5 478.9h0.9v0.9h-0.9zM180.9 462.4h0.9v0.9h-0.9zM190.5 493.0h0.9v0.9h-0.9zM170.5 457.5h0.9v0.9h-0.9zM182.6 467.6h0.9v0.9h-0.9zM195.1 458.0h0.9v0.9h-0.9zM186.6 482.1h0.9v0.9h-0.9zM164.8 477.3h0.9v0.9h-0.9zM192.1 472.7h0.9v0.9h-0.9zM175.1 482.9h0.9v0.9h-0.9zM179.4 477.8h0.9v0.9h-0.9zM183.8 486.2h0.9v0.9h-0.9zM182.5 493.3h0.9v0.9h-0.9zM192.6 474.0h0.9v0.9h-0.9zM184.0 474.1h0.9v0.9h-0.9zM165.3 468.6h0.9v0.9h-0.9zM189.5 487.9h0.9v0.9h-0.9zM176.8 479.9h0.9v0.9h-0.9zM176.0 464.2h0.9v0.9h-0.9zM179.6 482.4h0.9v0.9h-0.9zM183.6 492.7h0.9v0.9h-0.9zM176.2 482.1h0.9v0.9h-0.9zM172.3 474.5h0.9v0.9h-0.9zM195.1 491.6h0.9v0.9h-0.9zM178.2 488.4h0.9v0.9h-0.9zM182.6 481.9h0.9v0.9h-0.9zM189.8 483.0h0.9v0.9h-0.9zM186.2 452.3h0.9v0.9h-0.9zM187.0 473.9h0.9v0.9h-0.9zM175.8 478.1h0.9v0.9h-0.9zM180.8 474.1h0.9v0.9h-0.9zM185.0 461.6h0.9v0.9h-0.9zM182.3 470.0h0.9v0.9h-0.9zM164.5 491.4h0.9v0.9h-0.9zM185.0 479.2h0.9v0.9h-0.9zM181.2 477.5h0.9v0.9h-0.9zM194.8 489.4h0.9v0.9h-0.9zM193.4 474.6h0.9v0.9h-0.9zM177.3 489.7h0.9v0.9h-0.9zM196.2 481.5h0.9v0.9h-0.9zM173.4 492.9h0.9v0.9h-0.9zM179.1 475.9h0.9v0.9h-0.9zM176.1 467.6h0.9v0.9h-0.9zM199.1 468.4h0.9v0.9h-0.9zM172.3 478.3h0.9v0.9h-0.9zM182.2 470.7h0.9v0.9h-0.9zM165.3 469.4h0.9v0.9h-0.9zM192.5 470.6h0.9v0.9h-0.9zM182.2 490.2h0.9v0.9h-0.9zM174.4 483.2h0.9v0.9h-0.9zM191.0 473.3h0.9v0.9h-0.9zM182.9 479.9h0.9v0.9h-0.9zM197.4 484.3h0.9v0.9h-0.9zM173.2 489.6h0.9v0.9h-0.9zM192.7 469.6h0.9v0.9h-0.9zM174.2 479.0h0.9v0.9h-0.9zM178.6 464.4h0.9v0.9h-0.9zM181.9 494.0h0.9v0.9h-0.9zM174.7 474.9h0.9v0.9h-0.9zM185.9 482.2h0.9v0.9h-0.9zM194.1 472.3h0.9v0.9h-0.9zM181.9 475.0h0.9v0.9h-0.9zM184.8 473.3h0.9v0.9h-0.9zM190.0 480.3h0.9v0.9h-0.9zM196.6 453.9h0.9v0.9h-0.9zM173.1 480.9h0.9v0.9h-0.9zM189.7 471.6h0.9v0.9h-0.9zM180.4 480.2h0.9v0.9h-0.9zM182.2 476.6h0.9v0.9h-0.9zM178.8 483.9h0.9v0.9h-0.9zM192.3 476.0h0.9v0.9h-0.9zM168.2 481.1h0.9v0.9h-0.9zM172.8 487.6h0.9v0.9h-0.9zM177.3 477.3h0.9v0.9h-0.9zM179.0 466.6h0.9v0.9h-0.9zM186.6 472.6h0.9v0.9h-0.9zM179.9 488.1h0.9v0.9h-0.9zM185.4 473.1h0.9v0.9h-0.9zM175.2 481.1h0.9v0.9h-0.9zM178.4 476.3h0.9v0.9h-0.9zM183.2 481.3h0.9v0.9h-0.9zM188.4 461.3h0.9v0.9h-0.9zM181.1 478.9h0.9v0.9h-0.9zM174.7 484.1h0.9v0.9h-0.9zM167.6 475.6h0.9v0.9h-0.9zM191.2 474.2h0.9v0.9h-0.9zM167.6 486.2h0.9v0.9h-0.9zM179.9 484.1h0.9v0.9h-0.9zM183.4 487.0h0.9v0.9h-0.9zM172.2 474.9h0.9v0.9h-0.9zM190.2 475.7h0.9v0.9h-0.9zM174.8 468.2h0.9v0.9h-0.9zM171.4 480.0h0.9v0.9h-0.9zM195.1 485.9h0.9v0.9h-0.9zM185.2 476.6h0.9v0.9h-0.9zM203.7 477.5h0.9v0.9h-0.9zM175.6 482.7h0.9v0.9h-0.9zM179.0 481.9h0.9v0.9h-0.9zM176.1 472.4h0.9v0.9h-0.9zM185.6 486.2h0.9v0.9h-0.9zM181.2 477.9h0.9v0.9h-0.9zM184.2 484.1h0.9v0.9h-0.9zM179.2 486.3h0.9v0.9h-0.9zM173.4 492.2h0.9v0.9h-0.9zM179.5 484.9h0.9v0.9h-0.9zM171.9 487.5h0.9v0.9h-0.9zM174.5 485.8h0.9v0.9h-0.9zM174.3 478.6h0.9v0.9h-0.9zM174.1 463.6h0.9v0.9h-0.9zM190.2 477.8h0.9v0.9h-0.9zM189.5 484.7h0.9v0.9h-0.9zM199.4 489.7h0.9v0.9h-0.9zM184.0 483.1h0.9v0.9h-0.9zM165.4 483.4h0.9v0.9h-0.9zM161.8 486.3h0.9v0.9h-0.9zM191.1 480.0h0.9v0.9h-0.9zM189.9 476.8h0.9v0.9h-0.9zM182.8 477.4h0.9v0.9h-0.9zM178.4 490.7h0.9v0.9h-0.9zM187.2 466.2h0.9v0.9h-0.9zM192.9 476.3h0.9v0.9h-0.9zM180.0 478.6h0.9v0.9h-0.9zM181.1 482.3h0.9v0.9h-0.9zM186.3 474.9h0.9v0.9h-0.9zM193.4 484.4h0.9v0.9h-0.9zM182.9 471.2h0.9v0.9h-0.9zM186.3 463.3h0.9v0.9h-0.9zM179.1 481.4h0.9v0.9h-0.9zM189.7 481.3h0.9v0.9h-0.9zM175.5 461.4h0.9v0.9h-0.9zM188.9 485.2h0.9v0.9h-0.9zM184.9 489.7h0.9v0.9h-0.9zM189.8 472.4h0.9v0.9h-0.9zM186.2 479.4h0.9v0.9h-0.9zM181.7 482.7h0.9v0.9h-0.9zM179.6 479.9h0.9v0.9h-0.9zM188.4 486.1h0.9v0.9h-0.9zM195.7 464.7h0.9v0.9h-0.9zM182.4 479.3h0.9v0.9h-0.9zM182.1 483.9h0.9v0.9h-0.9zM179.0 491.7h0.9v0.9h-0.9zM161.1 482.0h0.9v0.9h-0.9zM172.9 466.2h0.9v0.9h-0.9zM181.4 479.2h0.9v0.9h-0.9zM174.5 485.8h0.9v0.9h-0.9zM166.0 482.1h0.9v0.9h-0.9zM181.2 484.0h0.9v0.9h-0.9zM181.5 487.2h0.9v0.9h-0.9zM174.6 490.3h0.9v0.9h-0.9zM192.5 488.7h0.9v0.9h-0.9zM177.4 473.0h0.9v0.9h-0.9zM181.6 480.7h0.9v0.9h-0.9zM197.2 487.7h0.9v0.9h-0.9zM180.9 488.2h0.9v0.9h-0.9zM185.4 465.4h0.9v0.9h-0.9zM175.9 487.3h0.9v0.9h-0.9zM191.5 484.6h0.9v0.9h-0.9zM197.1 489.5h0.9v0.9h-0.9zM183.5 485.8h0.9v0.9h-0.9zM190.3 485.4h0.9v0.9h-0.9zM167.2 480.7h0.9v0.9h-0.9zM170.2 487.4h0.9v0.9h-0.9zM186.7 488.8h0.9v0.9h-0.9zM171.8 478.5h0.9v0.9h-0.9zM185.6 476.4h0.9v0.9h-0.9zM172.3 468.4h0.9v0.9h-0.9zM193.8 485.8h0.9v0.9h-0.9zM183.3 477.5h0.9v0.9h-0.9zM186.2 482.5h0.9v0.9h-0.9zM174.6 470.3h0.9v0.9h-0.9zM172.4 474.2h0.9v0.9h-0.9zM194.0 466.3h0.9v0.9h-0.9zM166.8 487.0h0.9v0.9h-0.9zM183.2 484.4h0.9v0.9h-0.9zM191.6 477.8h0.9v0.9h-0.9zM174.4 465.6h0.9v0.9h-0.9zM186.4 466.0h0.9v0.9h-0.9zM185.8 477.3h0.9v0.9h-0.9zM173.1 487.5h0.9v0.9h-0.9zM181.3 484.3h0.9v0.9h-0.9zM169.8 485.7h0.9v0.9h-0.9z" fill="#3a3ae0" fill-opacity="0.7"/>
<path d="M210.7 486.0h0.9v0.9h-0.9zM218.3 486.6h0.9v0.9h-0.9zM204.5 489.5h0.9v0.9h-0.9zM202.3 487.1h0.9v0.9h-0.9zM206.6 488.3h0.9v0.9h-0.9zM215.1 490.5h0.9v0.9h-0.9zM212.7 491.3h0.9v0.9h-0.9zM207.7 486.1h0.9v0.9h-0.9zM211.2 487.1h0.9v0.9h-0.9zM214.2 483.9h0.9v0.9h-0.9zM219.8 483.9h0.9v0.9h-0.9zM220.5 488.8h0.9v0.9h-0.9zM195.4 486.3h0.9v0.9h-0.9zM229.7 482.3h0.9v0.9h-0.9zM190.6 489.4h0.9v0.9h-0.9zM223.2 485.3h0.9v0.9h-0.9zM204.2 486.9h0.9v0.9h-0.9zM223.7 489.1h0.9v0.9h-0.9zM231.0 489.0h0.9v0.9h-0.9zM186.3 487.7h0.9v0.9h-0.9zM224.0 481.8h0.9v0.9h-0.9zM219.0 489.5h0.9v0.9h-0.9zM207.8 486.0h0.9v0.9h-0.9zM220.7 483.6h0.9v0.9h-0.9zM207.3 481.2h0.9v0.9h-0.9zM216.6 491.8h0.9v0.9h-0.9zM198.9 488.3h0.9v0.9h-0.9zM226.7 488.2h0.9v0.9h-0.9zM223.7 489.7h0.9v0.9h-0.9zM226.0 487.6h0.9v0.9h-0.9zM204.9 483.4h0.9v0.9h-0.9zM242.6 489.9h0.9v0.9h-0.9zM244.7 490.9h0.9v0.9h-0.9zM213.5 489.4h0.9v0.9h-0.9zM208.5 492.5h0.9v0.9h-0.9zM208.6 493.6h0.9v0.9h-0.9zM225.2 485.4h0.9v0.9h-0.9zM230.3 486.5h0.9v0.9h-0.9zM203.5 490.5h0.9v0.9h-0.9zM184.1 488.4h0.9v0.9h-0.9zM221.7 488.5h0.9v0.9h-0.9zM214.2 490.7h0.9v0.9h-0.9zM217.4 490.1h0.9v0.9h-0.9zM222.6 486.5h0.9v0.9h-0.9zM197.9 488.2h0.9v0.9h-0.9zM215.7 485.7h0.9v0.9h-0.9zM210.2 487.3h0.9v0.9h-0.9zM220.4 484.5h0.9v0.9h-0.9zM233.2 482.0h0.9v0.9h-0.9zM214.7 486.4h0.9v0.9h-0.9zM201.7 486.1h0.9v0.9h-0.9zM233.5 490.6h0.9v0.9h-0.9zM225.3 492.6h0.9v0.9h-0.9zM211.5 487.9h0.9v0.9h-0.9zM187.3 489.3h0.9v0.9h-0.9zM201.3 486.0h0.9v0.9h-0.9zM216.7 485.1h0.9v0.9h-0.9zM222.8 487.0h0.9v0.9h-0.9zM206.5 487.0h0.9v0.9h-0.9zM221.0 488.8h0.9v0.9h-0.9z" fill="#7070d0" fill-opacity="0.4"/>
<ellipse cx="181" cy="482" rx="15" ry="8" transform="rotate(-45 181 482)" fill="#3a6af0" fill-opacity="0.45" filter="url(#b2)"/>
<ellipse cx="183" cy="481" rx="11" ry="6.5" transform="rotate(-45 183 481)" fill="#1a6af0" fill-opacity="0.8" filter="url(#b1)"/>
<ellipse cx="183" cy="481" rx="8" ry="4.6" transform="rotate(-50 183 481)" fill="#10c8e8" fill-opacity="0.9" filter="url(#b1)"/>
<ellipse cx="183" cy="481" rx="6" ry="3.6" transform="rotate(-55 183 481)" fill="#18e838" fill-opacity="1.0" filter="url(#b1)"/>
</g>
<rect x="160.1" y="393.4" width="99.50000000000003" height="100.60000000000002" fill="none" stroke="#666" stroke-width="1.1"/>
<line x1="196.30" y1="393.40" x2="196.30" y2="494.00" stroke="#444" stroke-width="1.1"/>
<line x1="160.10" y1="461.30" x2="259.60" y2="461.30" stroke="#444" stroke-width="1.1"/>
<text x="161.70" y="400.00" font-size="6.0" font-weight="bold" fill="#d82020" textLength="13.08" lengthAdjust="spacingAndGlyphs">1.63</text>
<text x="258.60" y="400.00" font-size="6.0" font-weight="bold" text-anchor="end" fill="#d82020" textLength="13.08" lengthAdjust="spacingAndGlyphs">2.39</text>
<rect x="160.70" y="485.00" width="19.42" height="8.40" fill="#fff"/>
<text x="161.70" y="492.40" font-size="6.0" font-weight="bold" fill="#d82020" textLength="16.82" lengthAdjust="spacingAndGlyphs">94.56</text>
<text x="258.60" y="492.40" font-size="6.0" font-weight="bold" text-anchor="end" fill="#d82020" textLength="13.08" lengthAdjust="spacingAndGlyphs">1.47</text>
<text transform="translate(249.00,438.30) rotate(90)" font-size="10.0" font-style="italic" text-anchor="middle" fill="#d82020" textLength="49.60" lengthAdjust="spacingAndGlyphs" stroke="#d82020" stroke-width="0.45">RapGEF2-/-</text>
<clipPath id="l1"><rect x="308.5" y="394.1" width="100.60000000000002" height="100.09999999999997"/></clipPath>
<g clip-path="url(#l1)">
<path d="M364.2 446.7h0.9v0.9h-0.9zM336.7 460.6h0.9v0.9h-0.9zM354.5 446.8h0.9v0.9h-0.9zM348.6 450.7h0.9v0.9h-0.9zM349.3 449.0h0.9v0.9h-0.9zM350.7 461.1h0.9v0.9h-0.9zM339.9 447.6h0.9v0.9h-0.9zM350.6 443.6h0.9v0.9h-0.9zM346.8 448.8h0.9v0.9h-0.9zM371.9 442.0h0.9v0.9h-0.9zM353.4 447.5h0.9v0.9h-0.9zM349.9 445.9h0.9v0.9h-0.9zM350.3 448.4h0.9v0.9h-0.9zM348.0 463.3h0.9v0.9h-0.9zM345.7 442.3h0.9v0.9h-0.9zM349.7 446.3h0.9v0.9h-0.9zM354.9 444.2h0.9v0.9h-0.9zM350.6 452.1h0.9v0.9h-0.9zM357.7 435.4h0.9v0.9h-0.9zM350.8 439.8h0.9v0.9h-0.9zM352.1 445.6h0.9v0.9h-0.9zM361.3 450.9h0.9v0.9h-0.9zM355.3 445.6h0.9v0.9h-0.9zM349.0 441.5h0.9v0.9h-0.9zM350.9 438.2h0.9v0.9h-0.9zM355.2 450.6h0.9v0.9h-0.9zM363.6 459.0h0.9v0.9h-0.9zM350.4 448.9h0.9v0.9h-0.9zM350.5 447.7h0.9v0.9h-0.9zM358.0 450.0h0.9v0.9h-0.9zM346.7 437.5h0.9v0.9h-0.9zM350.2 443.2h0.9v0.9h-0.9zM357.3 443.6h0.9v0.9h-0.9zM355.5 448.7h0.9v0.9h-0.9zM352.5 445.7h0.9v0.9h-0.9zM356.0 435.1h0.9v0.9h-0.9zM335.0 456.1h0.9v0.9h-0.9zM358.1 461.2h0.9v0.9h-0.9zM346.2 443.6h0.9v0.9h-0.9zM342.0 449.6h0.9v0.9h-0.9zM353.7 448.4h0.9v0.9h-0.9zM356.2 453.1h0.9v0.9h-0.9zM349.3 432.7h0.9v0.9h-0.9zM345.5 460.5h0.9v0.9h-0.9zM352.2 441.8h0.9v0.9h-0.9zM351.7 457.4h0.9v0.9h-0.9zM360.4 446.7h0.9v0.9h-0.9zM356.5 442.5h0.9v0.9h-0.9zM353.2 444.7h0.9v0.9h-0.9zM358.7 454.1h0.9v0.9h-0.9zM350.8 438.2h0.9v0.9h-0.9zM346.4 442.6h0.9v0.9h-0.9zM355.5 441.7h0.9v0.9h-0.9zM355.5 430.6h0.9v0.9h-0.9zM350.7 457.7h0.9v0.9h-0.9zM347.3 451.2h0.9v0.9h-0.9zM353.4 445.8h0.9v0.9h-0.9zM337.0 456.5h0.9v0.9h-0.9zM356.1 437.4h0.9v0.9h-0.9zM354.9 445.3h0.9v0.9h-0.9zM342.2 461.5h0.9v0.9h-0.9zM352.4 454.8h0.9v0.9h-0.9zM346.2 426.0h0.9v0.9h-0.9zM356.5 416.0h0.9v0.9h-0.9zM339.8 436.7h0.9v0.9h-0.9zM346.5 455.6h0.9v0.9h-0.9zM356.3 441.7h0.9v0.9h-0.9zM358.9 444.0h0.9v0.9h-0.9zM339.1 451.5h0.9v0.9h-0.9zM349.0 438.0h0.9v0.9h-0.9zM354.0 447.9h0.9v0.9h-0.9zM348.3 453.1h0.9v0.9h-0.9zM361.5 450.2h0.9v0.9h-0.9zM344.9 449.6h0.9v0.9h-0.9zM354.1 440.6h0.9v0.9h-0.9zM345.7 450.6h0.9v0.9h-0.9zM360.4 442.2h0.9v0.9h-0.9zM351.9 457.7h0.9v0.9h-0.9zM349.8 469.1h0.9v0.9h-0.9zM341.7 439.3h0.9v0.9h-0.9zM362.1 426.4h0.9v0.9h-0.9zM356.5 442.2h0.9v0.9h-0.9zM356.5 449.4h0.9v0.9h-0.9zM358.8 455.5h0.9v0.9h-0.9zM354.1 455.7h0.9v0.9h-0.9zM348.2 438.9h0.9v0.9h-0.9zM347.2 438.9h0.9v0.9h-0.9zM347.2 457.4h0.9v0.9h-0.9zM360.2 436.2h0.9v0.9h-0.9zM343.2 455.8h0.9v0.9h-0.9zM348.4 444.0h0.9v0.9h-0.9zM350.1 452.9h0.9v0.9h-0.9zM353.3 452.4h0.9v0.9h-0.9zM355.5 453.0h0.9v0.9h-0.9zM344.5 453.4h0.9v0.9h-0.9zM341.6 437.1h0.9v0.9h-0.9zM352.0 448.7h0.9v0.9h-0.9zM359.3 446.1h0.9v0.9h-0.9zM356.5 448.8h0.9v0.9h-0.9zM353.3 457.1h0.9v0.9h-0.9zM350.1 443.6h0.9v0.9h-0.9zM353.8 439.6h0.9v0.9h-0.9zM350.5 439.4h0.9v0.9h-0.9zM356.9 443.2h0.9v0.9h-0.9zM347.2 452.8h0.9v0.9h-0.9zM352.8 438.7h0.9v0.9h-0.9zM351.3 456.4h0.9v0.9h-0.9zM355.3 448.6h0.9v0.9h-0.9zM353.3 444.0h0.9v0.9h-0.9zM367.3 434.0h0.9v0.9h-0.9zM361.0 448.2h0.9v0.9h-0.9zM361.0 452.2h0.9v0.9h-0.9zM339.8 430.1h0.9v0.9h-0.9zM350.0 456.7h0.9v0.9h-0.9zM348.3 460.8h0.9v0.9h-0.9zM355.2 449.0h0.9v0.9h-0.9zM338.3 450.4h0.9v0.9h-0.9zM359.0 467.7h0.9v0.9h-0.9zM358.4 457.1h0.9v0.9h-0.9zM344.2 437.9h0.9v0.9h-0.9zM346.1 445.9h0.9v0.9h-0.9zM347.2 444.6h0.9v0.9h-0.9zM352.3 444.6h0.9v0.9h-0.9zM355.8 424.7h0.9v0.9h-0.9zM364.3 452.8h0.9v0.9h-0.9zM350.8 440.3h0.9v0.9h-0.9zM356.6 447.5h0.9v0.9h-0.9zM352.9 444.8h0.9v0.9h-0.9zM362.6 453.8h0.9v0.9h-0.9zM356.5 443.3h0.9v0.9h-0.9zM360.2 438.8h0.9v0.9h-0.9zM345.5 450.8h0.9v0.9h-0.9zM350.8 458.6h0.9v0.9h-0.9zM347.1 443.1h0.9v0.9h-0.9zM361.0 458.3h0.9v0.9h-0.9zM355.9 448.4h0.9v0.9h-0.9zM350.2 441.2h0.9v0.9h-0.9zM349.3 459.7h0.9v0.9h-0.9zM354.9 438.6h0.9v0.9h-0.9zM347.8 455.1h0.9v0.9h-0.9zM346.4 441.5h0.9v0.9h-0.9zM354.9 450.1h0.9v0.9h-0.9zM366.8 434.9h0.9v0.9h-0.9zM350.5 438.5h0.9v0.9h-0.9zM348.7 455.6h0.9v0.9h-0.9zM345.0 447.7h0.9v0.9h-0.9zM344.0 446.3h0.9v0.9h-0.9zM355.1 442.0h0.9v0.9h-0.9zM357.1 450.0h0.9v0.9h-0.9zM352.1 433.4h0.9v0.9h-0.9zM354.0 435.9h0.9v0.9h-0.9zM352.7 444.6h0.9v0.9h-0.9zM352.8 438.5h0.9v0.9h-0.9zM342.8 439.7h0.9v0.9h-0.9zM349.3 445.4h0.9v0.9h-0.9zM352.7 444.8h0.9v0.9h-0.9zM347.3 444.0h0.9v0.9h-0.9zM349.1 461.0h0.9v0.9h-0.9zM347.1 455.1h0.9v0.9h-0.9zM350.0 457.1h0.9v0.9h-0.9zM357.1 445.7h0.9v0.9h-0.9zM349.6 441.5h0.9v0.9h-0.9zM351.1 432.9h0.9v0.9h-0.9zM356.9 442.9h0.9v0.9h-0.9zM355.9 427.2h0.9v0.9h-0.9zM362.2 440.7h0.9v0.9h-0.9zM339.5 452.9h0.9v0.9h-0.9zM357.1 460.6h0.9v0.9h-0.9zM349.1 454.7h0.9v0.9h-0.9zM352.8 438.2h0.9v0.9h-0.9zM357.0 450.4h0.9v0.9h-0.9zM358.5 438.9h0.9v0.9h-0.9zM358.2 453.4h0.9v0.9h-0.9zM352.9 445.0h0.9v0.9h-0.9zM361.7 453.7h0.9v0.9h-0.9zM350.3 469.2h0.9v0.9h-0.9zM351.2 454.3h0.9v0.9h-0.9zM356.8 467.0h0.9v0.9h-0.9zM348.7 447.6h0.9v0.9h-0.9zM365.0 443.0h0.9v0.9h-0.9zM358.1 458.0h0.9v0.9h-0.9zM365.1 461.5h0.9v0.9h-0.9zM351.8 441.0h0.9v0.9h-0.9zM349.7 446.7h0.9v0.9h-0.9zM353.0 433.1h0.9v0.9h-0.9zM356.4 444.2h0.9v0.9h-0.9zM348.5 454.0h0.9v0.9h-0.9zM354.3 445.2h0.9v0.9h-0.9zM351.9 440.9h0.9v0.9h-0.9zM361.7 433.3h0.9v0.9h-0.9zM348.0 449.3h0.9v0.9h-0.9zM358.3 453.2h0.9v0.9h-0.9zM348.1 451.4h0.9v0.9h-0.9zM346.2 448.3h0.9v0.9h-0.9zM347.7 434.5h0.9v0.9h-0.9zM344.9 461.9h0.9v0.9h-0.9zM352.9 445.5h0.9v0.9h-0.9zM358.2 444.7h0.9v0.9h-0.9zM353.0 452.6h0.9v0.9h-0.9zM355.7 426.5h0.9v0.9h-0.9zM361.8 445.4h0.9v0.9h-0.9zM353.6 444.8h0.9v0.9h-0.9zM353.2 449.4h0.9v0.9h-0.9zM350.3 458.1h0.9v0.9h-0.9zM342.4 450.2h0.9v0.9h-0.9zM356.6 429.5h0.9v0.9h-0.9zM341.5 442.9h0.9v0.9h-0.9zM355.9 447.8h0.9v0.9h-0.9zM351.9 447.3h0.9v0.9h-0.9zM358.8 434.5h0.9v0.9h-0.9zM351.6 431.0h0.9v0.9h-0.9zM347.1 450.9h0.9v0.9h-0.9zM354.1 449.1h0.9v0.9h-0.9zM348.6 445.8h0.9v0.9h-0.9zM350.9 430.5h0.9v0.9h-0.9zM352.3 462.0h0.9v0.9h-0.9zM351.2 419.9h0.9v0.9h-0.9zM350.9 442.7h0.9v0.9h-0.9zM347.0 464.8h0.9v0.9h-0.9zM350.9 444.6h0.9v0.9h-0.9zM339.2 448.1h0.9v0.9h-0.9zM351.1 435.4h0.9v0.9h-0.9zM344.8 458.2h0.9v0.9h-0.9zM358.7 434.4h0.9v0.9h-0.9zM359.6 448.3h0.9v0.9h-0.9zM340.3 447.2h0.9v0.9h-0.9zM352.9 436.5h0.9v0.9h-0.9zM351.2 454.0h0.9v0.9h-0.9zM345.7 433.3h0.9v0.9h-0.9zM355.2 439.8h0.9v0.9h-0.9zM349.2 445.7h0.9v0.9h-0.9zM341.4 442.3h0.9v0.9h-0.9zM350.4 450.2h0.9v0.9h-0.9zM351.1 454.3h0.9v0.9h-0.9zM352.6 443.4h0.9v0.9h-0.9zM344.6 441.1h0.9v0.9h-0.9zM355.7 441.3h0.9v0.9h-0.9zM356.4 442.7h0.9v0.9h-0.9zM345.1 453.3h0.9v0.9h-0.9zM348.0 444.0h0.9v0.9h-0.9zM351.5 449.7h0.9v0.9h-0.9zM348.6 445.2h0.9v0.9h-0.9zM362.5 438.4h0.9v0.9h-0.9zM353.3 453.8h0.9v0.9h-0.9zM345.9 436.7h0.9v0.9h-0.9zM347.3 446.1h0.9v0.9h-0.9zM351.7 459.4h0.9v0.9h-0.9zM365.8 436.2h0.9v0.9h-0.9zM350.9 445.5h0.9v0.9h-0.9zM352.8 431.7h0.9v0.9h-0.9zM355.1 441.4h0.9v0.9h-0.9zM351.8 432.5h0.9v0.9h-0.9zM365.7 442.7h0.9v0.9h-0.9zM348.8 441.2h0.9v0.9h-0.9zM356.5 447.2h0.9v0.9h-0.9zM353.0 460.3h0.9v0.9h-0.9zM355.7 448.5h0.9v0.9h-0.9zM344.9 451.9h0.9v0.9h-0.9zM362.6 445.5h0.9v0.9h-0.9zM351.3 443.8h0.9v0.9h-0.9zM352.2 438.5h0.9v0.9h-0.9zM346.4 429.8h0.9v0.9h-0.9zM347.6 446.6h0.9v0.9h-0.9zM355.4 460.7h0.9v0.9h-0.9zM357.9 450.3h0.9v0.9h-0.9zM356.5 441.2h0.9v0.9h-0.9zM359.3 460.8h0.9v0.9h-0.9zM356.3 442.1h0.9v0.9h-0.9zM352.2 440.4h0.9v0.9h-0.9zM357.0 435.1h0.9v0.9h-0.9zM355.6 437.3h0.9v0.9h-0.9zM351.4 443.8h0.9v0.9h-0.9zM356.4 464.0h0.9v0.9h-0.9zM359.7 444.1h0.9v0.9h-0.9zM353.4 436.7h0.9v0.9h-0.9zM349.9 440.6h0.9v0.9h-0.9zM356.3 444.0h0.9v0.9h-0.9zM363.4 430.6h0.9v0.9h-0.9zM350.7 447.1h0.9v0.9h-0.9zM351.4 452.3h0.9v0.9h-0.9zM351.2 448.9h0.9v0.9h-0.9zM359.3 451.4h0.9v0.9h-0.9zM341.0 434.4h0.9v0.9h-0.9zM354.2 430.7h0.9v0.9h-0.9zM359.2 457.6h0.9v0.9h-0.9zM347.1 455.8h0.9v0.9h-0.9zM360.9 432.1h0.9v0.9h-0.9zM355.2 447.9h0.9v0.9h-0.9zM348.7 446.2h0.9v0.9h-0.9zM353.2 450.9h0.9v0.9h-0.9zM342.8 447.9h0.9v0.9h-0.9zM348.6 441.5h0.9v0.9h-0.9zM363.0 447.8h0.9v0.9h-0.9zM346.6 447.4h0.9v0.9h-0.9zM363.1 445.6h0.9v0.9h-0.9zM351.5 429.3h0.9v0.9h-0.9zM358.0 419.0h0.9v0.9h-0.9zM352.3 438.9h0.9v0.9h-0.9zM338.6 431.3h0.9v0.9h-0.9zM348.6 448.3h0.9v0.9h-0.9zM353.1 452.4h0.9v0.9h-0.9zM345.1 448.4h0.9v0.9h-0.9zM343.9 442.7h0.9v0.9h-0.9zM354.2 446.6h0.9v0.9h-0.9zM348.1 456.5h0.9v0.9h-0.9zM341.8 439.4h0.9v0.9h-0.9zM347.9 454.3h0.9v0.9h-0.9zM357.2 452.4h0.9v0.9h-0.9zM349.2 448.4h0.9v0.9h-0.9zM357.6 459.1h0.9v0.9h-0.9zM361.2 439.5h0.9v0.9h-0.9zM352.2 454.5h0.9v0.9h-0.9zM345.2 437.6h0.9v0.9h-0.9zM344.2 439.1h0.9v0.9h-0.9zM351.8 436.5h0.9v0.9h-0.9zM357.3 450.0h0.9v0.9h-0.9zM353.6 437.5h0.9v0.9h-0.9zM355.3 446.5h0.9v0.9h-0.9zM349.3 435.8h0.9v0.9h-0.9zM353.8 455.6h0.9v0.9h-0.9zM349.2 462.5h0.9v0.9h-0.9zM350.0 448.0h0.9v0.9h-0.9zM344.2 460.8h0.9v0.9h-0.9zM342.6 451.0h0.9v0.9h-0.9zM349.1 465.5h0.9v0.9h-0.9zM345.4 446.9h0.9v0.9h-0.9zM346.2 431.9h0.9v0.9h-0.9zM356.0 459.4h0.9v0.9h-0.9zM351.4 444.9h0.9v0.9h-0.9zM369.5 436.7h0.9v0.9h-0.9zM357.6 440.1h0.9v0.9h-0.9zM348.2 431.4h0.9v0.9h-0.9zM356.7 444.5h0.9v0.9h-0.9zM354.1 436.4h0.9v0.9h-0.9zM347.9 459.4h0.9v0.9h-0.9zM358.6 452.0h0.9v0.9h-0.9zM347.3 431.1h0.9v0.9h-0.9zM333.6 432.4h0.9v0.9h-0.9zM356.8 440.9h0.9v0.9h-0.9zM348.3 428.7h0.9v0.9h-0.9zM360.9 445.0h0.9v0.9h-0.9zM348.1 445.6h0.9v0.9h-0.9zM344.9 439.0h0.9v0.9h-0.9zM361.3 441.1h0.9v0.9h-0.9zM345.5 450.5h0.9v0.9h-0.9zM353.2 458.8h0.9v0.9h-0.9zM360.7 459.5h0.9v0.9h-0.9zM352.7 446.3h0.9v0.9h-0.9zM351.5 453.7h0.9v0.9h-0.9zM352.6 439.4h0.9v0.9h-0.9zM357.0 449.7h0.9v0.9h-0.9zM347.2 437.4h0.9v0.9h-0.9zM355.7 452.6h0.9v0.9h-0.9zM355.5 434.9h0.9v0.9h-0.9zM366.0 437.3h0.9v0.9h-0.9zM350.0 445.9h0.9v0.9h-0.9zM346.5 451.0h0.9v0.9h-0.9zM356.4 433.1h0.9v0.9h-0.9zM349.6 441.2h0.9v0.9h-0.9zM353.7 447.2h0.9v0.9h-0.9zM352.8 448.1h0.9v0.9h-0.9zM359.0 438.5h0.9v0.9h-0.9zM348.1 446.9h0.9v0.9h-0.9zM351.4 443.6h0.9v0.9h-0.9zM336.7 458.6h0.9v0.9h-0.9zM346.7 451.0h0.9v0.9h-0.9zM361.2 434.1h0.9v0.9h-0.9zM347.9 426.2h0.9v0.9h-0.9zM347.8 446.9h0.9v0.9h-0.9zM344.7 456.6h0.9v0.9h-0.9zM355.5 447.6h0.9v0.9h-0.9zM353.1 453.9h0.9v0.9h-0.9zM344.9 441.6h0.9v0.9h-0.9zM356.0 433.7h0.9v0.9h-0.9zM353.6 452.7h0.9v0.9h-0.9zM356.5 446.9h0.9v0.9h-0.9zM348.2 452.2h0.9v0.9h-0.9zM362.4 433.6h0.9v0.9h-0.9zM354.5 447.6h0.9v0.9h-0.9zM351.3 440.4h0.9v0.9h-0.9zM348.9 453.3h0.9v0.9h-0.9zM350.5 440.8h0.9v0.9h-0.9zM357.2 440.5h0.9v0.9h-0.9zM350.4 440.7h0.9v0.9h-0.9zM358.5 457.4h0.9v0.9h-0.9zM355.5 446.3h0.9v0.9h-0.9zM360.1 439.2h0.9v0.9h-0.9zM356.9 436.8h0.9v0.9h-0.9zM351.6 436.6h0.9v0.9h-0.9zM340.5 459.2h0.9v0.9h-0.9zM353.8 429.7h0.9v0.9h-0.9zM356.7 438.3h0.9v0.9h-0.9zM353.0 451.7h0.9v0.9h-0.9zM355.3 456.6h0.9v0.9h-0.9zM349.2 444.7h0.9v0.9h-0.9zM349.7 453.1h0.9v0.9h-0.9zM346.3 452.8h0.9v0.9h-0.9zM360.2 454.9h0.9v0.9h-0.9zM353.0 446.4h0.9v0.9h-0.9zM349.0 460.9h0.9v0.9h-0.9zM344.0 447.9h0.9v0.9h-0.9zM351.1 459.9h0.9v0.9h-0.9zM360.7 436.3h0.9v0.9h-0.9zM354.8 454.6h0.9v0.9h-0.9zM347.7 434.9h0.9v0.9h-0.9zM360.6 432.7h0.9v0.9h-0.9zM360.6 450.7h0.9v0.9h-0.9zM357.9 438.8h0.9v0.9h-0.9zM356.7 450.3h0.9v0.9h-0.9zM358.9 436.6h0.9v0.9h-0.9zM355.3 460.8h0.9v0.9h-0.9zM356.7 446.4h0.9v0.9h-0.9zM347.3 436.2h0.9v0.9h-0.9zM361.0 447.9h0.9v0.9h-0.9zM353.4 454.3h0.9v0.9h-0.9zM364.1 439.5h0.9v0.9h-0.9zM339.7 451.1h0.9v0.9h-0.9zM356.2 464.8h0.9v0.9h-0.9zM357.9 454.2h0.9v0.9h-0.9zM349.9 446.4h0.9v0.9h-0.9zM354.7 441.3h0.9v0.9h-0.9zM356.5 451.7h0.9v0.9h-0.9zM355.5 432.8h0.9v0.9h-0.9zM348.8 419.1h0.9v0.9h-0.9zM351.1 440.5h0.9v0.9h-0.9zM358.1 436.7h0.9v0.9h-0.9zM359.7 462.2h0.9v0.9h-0.9zM352.6 447.8h0.9v0.9h-0.9zM352.5 437.6h0.9v0.9h-0.9zM353.2 436.1h0.9v0.9h-0.9zM358.2 451.0h0.9v0.9h-0.9zM345.7 439.1h0.9v0.9h-0.9zM344.0 441.3h0.9v0.9h-0.9zM352.7 445.7h0.9v0.9h-0.9zM345.4 447.4h0.9v0.9h-0.9zM348.5 447.4h0.9v0.9h-0.9zM352.5 447.6h0.9v0.9h-0.9zM354.9 458.3h0.9v0.9h-0.9zM345.6 461.9h0.9v0.9h-0.9zM356.8 431.7h0.9v0.9h-0.9zM341.4 469.8h0.9v0.9h-0.9zM355.3 447.8h0.9v0.9h-0.9zM342.5 457.8h0.9v0.9h-0.9zM344.4 440.0h0.9v0.9h-0.9zM355.9 449.6h0.9v0.9h-0.9zM349.6 448.6h0.9v0.9h-0.9zM347.2 447.7h0.9v0.9h-0.9zM349.3 454.3h0.9v0.9h-0.9zM354.8 452.4h0.9v0.9h-0.9zM351.7 437.6h0.9v0.9h-0.9zM351.8 445.6h0.9v0.9h-0.9zM358.3 453.2h0.9v0.9h-0.9zM347.7 452.9h0.9v0.9h-0.9zM349.2 443.7h0.9v0.9h-0.9zM348.9 444.1h0.9v0.9h-0.9zM359.0 445.3h0.9v0.9h-0.9zM357.9 436.7h0.9v0.9h-0.9zM359.7 435.1h0.9v0.9h-0.9zM351.8 460.8h0.9v0.9h-0.9zM351.1 443.1h0.9v0.9h-0.9zM357.1 447.5h0.9v0.9h-0.9zM349.6 439.9h0.9v0.9h-0.9zM357.0 458.4h0.9v0.9h-0.9zM356.3 462.4h0.9v0.9h-0.9zM347.8 444.7h0.9v0.9h-0.9zM351.5 451.3h0.9v0.9h-0.9zM351.3 439.9h0.9v0.9h-0.9zM362.4 462.6h0.9v0.9h-0.9zM367.5 455.0h0.9v0.9h-0.9zM351.4 439.1h0.9v0.9h-0.9zM352.1 457.9h0.9v0.9h-0.9zM338.3 449.9h0.9v0.9h-0.9zM353.3 450.4h0.9v0.9h-0.9zM352.0 449.9h0.9v0.9h-0.9zM345.6 440.7h0.9v0.9h-0.9zM356.7 441.8h0.9v0.9h-0.9zM342.6 452.3h0.9v0.9h-0.9zM350.7 446.2h0.9v0.9h-0.9zM352.8 438.1h0.9v0.9h-0.9zM344.5 464.9h0.9v0.9h-0.9zM357.1 444.8h0.9v0.9h-0.9zM358.3 441.6h0.9v0.9h-0.9zM343.7 440.4h0.9v0.9h-0.9zM343.6 452.8h0.9v0.9h-0.9zM355.6 455.4h0.9v0.9h-0.9zM351.8 448.8h0.9v0.9h-0.9zM344.7 454.4h0.9v0.9h-0.9zM350.2 433.1h0.9v0.9h-0.9zM351.4 443.3h0.9v0.9h-0.9zM351.1 442.4h0.9v0.9h-0.9zM357.0 446.7h0.9v0.9h-0.9zM354.3 451.0h0.9v0.9h-0.9zM362.6 428.2h0.9v0.9h-0.9zM360.2 474.7h0.9v0.9h-0.9zM356.1 438.8h0.9v0.9h-0.9zM358.5 449.7h0.9v0.9h-0.9zM359.9 454.0h0.9v0.9h-0.9zM356.2 454.2h0.9v0.9h-0.9zM344.6 448.7h0.9v0.9h-0.9zM357.2 420.3h0.9v0.9h-0.9z" fill="#2020b0" fill-opacity="0.65"/>
<path d="M343.7 420.7h0.9v0.9h-0.9zM360.3 416.4h0.9v0.9h-0.9zM345.2 443.6h0.9v0.9h-0.9zM344.0 424.2h0.9v0.9h-0.9zM332.3 418.9h0.9v0.9h-0.9zM364.4 444.3h0.9v0.9h-0.9zM358.0 439.0h0.9v0.9h-0.9zM352.2 422.9h0.9v0.9h-0.9zM352.5 439.1h0.9v0.9h-0.9zM343.3 439.8h0.9v0.9h-0.9zM350.8 421.1h0.9v0.9h-0.9zM355.6 450.0h0.9v0.9h-0.9zM358.3 417.2h0.9v0.9h-0.9zM364.7 425.0h0.9v0.9h-0.9zM353.5 430.0h0.9v0.9h-0.9zM349.1 428.2h0.9v0.9h-0.9zM356.9 439.5h0.9v0.9h-0.9zM347.6 442.5h0.9v0.9h-0.9zM341.9 427.7h0.9v0.9h-0.9zM363.5 447.8h0.9v0.9h-0.9zM349.8 418.8h0.9v0.9h-0.9zM354.3 425.3h0.9v0.9h-0.9zM359.0 452.3h0.9v0.9h-0.9zM343.2 429.7h0.9v0.9h-0.9zM358.9 443.2h0.9v0.9h-0.9zM357.2 422.4h0.9v0.9h-0.9zM352.3 424.7h0.9v0.9h-0.9zM356.7 426.9h0.9v0.9h-0.9zM346.4 430.8h0.9v0.9h-0.9zM333.3 423.7h0.9v0.9h-0.9zM350.6 428.6h0.9v0.9h-0.9zM345.0 437.7h0.9v0.9h-0.9zM361.0 445.2h0.9v0.9h-0.9zM355.5 429.9h0.9v0.9h-0.9zM348.4 437.5h0.9v0.9h-0.9zM353.6 441.1h0.9v0.9h-0.9zM365.3 413.5h0.9v0.9h-0.9zM363.4 406.5h0.9v0.9h-0.9zM356.5 451.0h0.9v0.9h-0.9zM357.0 446.8h0.9v0.9h-0.9zM350.7 429.3h0.9v0.9h-0.9zM352.0 433.4h0.9v0.9h-0.9zM358.5 415.3h0.9v0.9h-0.9zM352.1 409.2h0.9v0.9h-0.9zM355.8 432.9h0.9v0.9h-0.9zM343.1 407.8h0.9v0.9h-0.9zM338.1 441.2h0.9v0.9h-0.9zM337.9 419.0h0.9v0.9h-0.9zM349.2 432.5h0.9v0.9h-0.9zM365.1 455.4h0.9v0.9h-0.9zM363.8 454.7h0.9v0.9h-0.9zM344.2 424.7h0.9v0.9h-0.9zM339.1 443.3h0.9v0.9h-0.9zM360.3 414.1h0.9v0.9h-0.9zM357.3 420.3h0.9v0.9h-0.9zM340.8 433.6h0.9v0.9h-0.9zM362.7 447.7h0.9v0.9h-0.9zM354.7 420.4h0.9v0.9h-0.9zM365.1 436.0h0.9v0.9h-0.9zM356.2 429.8h0.9v0.9h-0.9zM361.2 410.8h0.9v0.9h-0.9zM356.0 426.5h0.9v0.9h-0.9zM344.6 449.3h0.9v0.9h-0.9zM351.0 427.1h0.9v0.9h-0.9zM347.0 435.4h0.9v0.9h-0.9zM360.6 439.9h0.9v0.9h-0.9zM344.2 418.1h0.9v0.9h-0.9zM339.3 445.5h0.9v0.9h-0.9zM359.3 449.3h0.9v0.9h-0.9zM363.4 450.6h0.9v0.9h-0.9zM366.1 446.7h0.9v0.9h-0.9zM363.0 421.9h0.9v0.9h-0.9zM339.5 420.2h0.9v0.9h-0.9zM346.8 417.4h0.9v0.9h-0.9zM348.2 415.7h0.9v0.9h-0.9zM352.9 417.2h0.9v0.9h-0.9zM333.7 442.2h0.9v0.9h-0.9zM353.0 448.7h0.9v0.9h-0.9zM355.6 419.4h0.9v0.9h-0.9zM344.5 439.6h0.9v0.9h-0.9zM354.2 410.7h0.9v0.9h-0.9zM363.8 423.7h0.9v0.9h-0.9zM353.5 414.4h0.9v0.9h-0.9zM362.6 405.6h0.9v0.9h-0.9zM362.2 429.0h0.9v0.9h-0.9zM356.8 429.4h0.9v0.9h-0.9zM356.6 422.6h0.9v0.9h-0.9zM349.8 420.9h0.9v0.9h-0.9zM364.3 414.5h0.9v0.9h-0.9zM348.9 426.4h0.9v0.9h-0.9zM346.8 419.8h0.9v0.9h-0.9zM359.5 431.6h0.9v0.9h-0.9zM346.6 411.4h0.9v0.9h-0.9zM356.9 431.4h0.9v0.9h-0.9zM362.6 435.3h0.9v0.9h-0.9zM353.8 445.5h0.9v0.9h-0.9zM354.1 442.8h0.9v0.9h-0.9zM361.4 430.8h0.9v0.9h-0.9zM359.9 418.6h0.9v0.9h-0.9zM339.3 402.6h0.9v0.9h-0.9zM341.3 428.0h0.9v0.9h-0.9zM365.1 447.9h0.9v0.9h-0.9zM356.6 451.3h0.9v0.9h-0.9zM341.0 417.5h0.9v0.9h-0.9zM353.4 423.2h0.9v0.9h-0.9zM344.3 413.6h0.9v0.9h-0.9zM357.4 430.7h0.9v0.9h-0.9zM353.9 428.6h0.9v0.9h-0.9zM357.6 420.9h0.9v0.9h-0.9zM342.6 427.6h0.9v0.9h-0.9zM358.8 405.8h0.9v0.9h-0.9zM370.8 414.5h0.9v0.9h-0.9zM346.0 415.6h0.9v0.9h-0.9zM365.0 440.6h0.9v0.9h-0.9zM362.0 405.3h0.9v0.9h-0.9zM359.0 425.1h0.9v0.9h-0.9zM352.6 439.0h0.9v0.9h-0.9zM342.7 427.3h0.9v0.9h-0.9zM345.3 439.4h0.9v0.9h-0.9zM360.1 419.0h0.9v0.9h-0.9zM362.0 434.2h0.9v0.9h-0.9zM364.2 440.7h0.9v0.9h-0.9zM361.9 459.3h0.9v0.9h-0.9zM361.3 438.3h0.9v0.9h-0.9zM349.3 448.1h0.9v0.9h-0.9zM342.3 428.3h0.9v0.9h-0.9zM355.0 429.5h0.9v0.9h-0.9zM357.7 450.1h0.9v0.9h-0.9zM354.0 436.3h0.9v0.9h-0.9zM339.5 448.0h0.9v0.9h-0.9zM348.5 438.1h0.9v0.9h-0.9zM339.9 457.9h0.9v0.9h-0.9zM354.5 461.5h0.9v0.9h-0.9zM343.8 416.5h0.9v0.9h-0.9zM351.7 454.2h0.9v0.9h-0.9zM356.1 434.3h0.9v0.9h-0.9zM354.5 434.9h0.9v0.9h-0.9zM365.5 426.6h0.9v0.9h-0.9zM343.3 438.3h0.9v0.9h-0.9zM333.6 412.7h0.9v0.9h-0.9zM361.7 418.1h0.9v0.9h-0.9zM365.9 417.6h0.9v0.9h-0.9zM366.1 432.4h0.9v0.9h-0.9zM355.8 441.2h0.9v0.9h-0.9zM358.1 438.7h0.9v0.9h-0.9zM354.4 433.5h0.9v0.9h-0.9zM341.6 420.1h0.9v0.9h-0.9zM348.1 403.7h0.9v0.9h-0.9zM357.7 434.0h0.9v0.9h-0.9zM348.1 430.4h0.9v0.9h-0.9zM370.4 433.4h0.9v0.9h-0.9zM339.4 448.4h0.9v0.9h-0.9zM349.4 425.9h0.9v0.9h-0.9zM363.3 425.6h0.9v0.9h-0.9zM347.8 396.0h0.9v0.9h-0.9zM343.1 436.2h0.9v0.9h-0.9zM341.0 427.7h0.9v0.9h-0.9zM346.7 418.1h0.9v0.9h-0.9zM366.9 433.8h0.9v0.9h-0.9zM357.0 413.8h0.9v0.9h-0.9zM357.9 420.8h0.9v0.9h-0.9zM348.6 455.9h0.9v0.9h-0.9zM360.9 438.9h0.9v0.9h-0.9zM354.2 441.4h0.9v0.9h-0.9zM345.0 438.9h0.9v0.9h-0.9zM349.2 437.4h0.9v0.9h-0.9zM355.1 431.1h0.9v0.9h-0.9zM363.8 460.4h0.9v0.9h-0.9zM352.8 427.3h0.9v0.9h-0.9zM357.8 438.7h0.9v0.9h-0.9zM371.5 425.3h0.9v0.9h-0.9zM346.1 423.4h0.9v0.9h-0.9zM342.1 394.2h0.9v0.9h-0.9zM362.2 401.4h0.9v0.9h-0.9zM357.2 450.0h0.9v0.9h-0.9zM352.4 449.2h0.9v0.9h-0.9zM355.7 422.2h0.9v0.9h-0.9zM350.3 427.9h0.9v0.9h-0.9zM358.0 436.9h0.9v0.9h-0.9zM350.3 414.4h0.9v0.9h-0.9zM360.5 453.0h0.9v0.9h-0.9zM342.8 413.7h0.9v0.9h-0.9zM346.0 418.2h0.9v0.9h-0.9zM349.1 449.4h0.9v0.9h-0.9zM359.6 429.0h0.9v0.9h-0.9zM352.9 451.0h0.9v0.9h-0.9zM348.4 414.2h0.9v0.9h-0.9zM355.2 433.0h0.9v0.9h-0.9zM348.6 429.3h0.9v0.9h-0.9zM339.3 431.0h0.9v0.9h-0.9zM343.1 457.3h0.9v0.9h-0.9zM346.1 459.9h0.9v0.9h-0.9zM349.1 447.5h0.9v0.9h-0.9zM354.2 422.6h0.9v0.9h-0.9zM361.5 440.7h0.9v0.9h-0.9zM358.3 447.0h0.9v0.9h-0.9zM369.4 436.0h0.9v0.9h-0.9zM364.8 436.2h0.9v0.9h-0.9zM351.7 434.9h0.9v0.9h-0.9zM368.2 415.6h0.9v0.9h-0.9zM364.0 431.6h0.9v0.9h-0.9zM349.3 450.6h0.9v0.9h-0.9zM356.2 414.2h0.9v0.9h-0.9zM363.2 429.3h0.9v0.9h-0.9zM355.6 439.8h0.9v0.9h-0.9zM362.6 409.0h0.9v0.9h-0.9zM357.0 426.2h0.9v0.9h-0.9zM359.7 404.4h0.9v0.9h-0.9zM350.6 419.6h0.9v0.9h-0.9zM356.8 408.4h0.9v0.9h-0.9zM350.1 415.6h0.9v0.9h-0.9zM359.5 421.2h0.9v0.9h-0.9zM338.2 424.2h0.9v0.9h-0.9zM356.4 425.2h0.9v0.9h-0.9zM364.7 394.4h0.9v0.9h-0.9zM358.6 450.3h0.9v0.9h-0.9zM353.2 424.2h0.9v0.9h-0.9zM358.3 412.7h0.9v0.9h-0.9zM345.8 419.2h0.9v0.9h-0.9zM345.9 432.4h0.9v0.9h-0.9zM350.2 414.0h0.9v0.9h-0.9zM352.1 422.2h0.9v0.9h-0.9zM362.1 421.4h0.9v0.9h-0.9zM345.4 435.6h0.9v0.9h-0.9zM362.4 417.5h0.9v0.9h-0.9zM339.3 434.3h0.9v0.9h-0.9zM346.3 432.9h0.9v0.9h-0.9zM353.1 425.9h0.9v0.9h-0.9zM363.8 445.4h0.9v0.9h-0.9zM347.9 428.3h0.9v0.9h-0.9zM334.1 411.5h0.9v0.9h-0.9zM357.2 432.2h0.9v0.9h-0.9zM353.2 429.7h0.9v0.9h-0.9zM343.7 427.4h0.9v0.9h-0.9zM344.0 431.3h0.9v0.9h-0.9zM347.2 460.9h0.9v0.9h-0.9zM354.3 431.3h0.9v0.9h-0.9zM359.4 434.4h0.9v0.9h-0.9zM340.1 424.5h0.9v0.9h-0.9zM374.0 446.3h0.9v0.9h-0.9zM353.1 427.2h0.9v0.9h-0.9zM350.1 416.8h0.9v0.9h-0.9zM359.5 410.9h0.9v0.9h-0.9zM354.4 435.4h0.9v0.9h-0.9zM374.4 438.4h0.9v0.9h-0.9zM363.3 405.8h0.9v0.9h-0.9zM350.1 417.9h0.9v0.9h-0.9zM349.9 437.0h0.9v0.9h-0.9zM348.9 442.4h0.9v0.9h-0.9zM350.3 409.5h0.9v0.9h-0.9zM359.5 422.3h0.9v0.9h-0.9zM347.6 439.6h0.9v0.9h-0.9zM367.9 420.5h0.9v0.9h-0.9zM352.7 421.7h0.9v0.9h-0.9zM352.1 420.4h0.9v0.9h-0.9zM361.9 409.7h0.9v0.9h-0.9zM335.6 428.6h0.9v0.9h-0.9zM345.0 432.2h0.9v0.9h-0.9zM358.8 408.3h0.9v0.9h-0.9zM353.5 429.4h0.9v0.9h-0.9zM353.3 443.5h0.9v0.9h-0.9zM357.0 430.9h0.9v0.9h-0.9zM348.0 441.2h0.9v0.9h-0.9zM351.8 420.3h0.9v0.9h-0.9zM341.1 447.1h0.9v0.9h-0.9zM336.5 417.0h0.9v0.9h-0.9zM364.8 454.4h0.9v0.9h-0.9zM345.0 421.7h0.9v0.9h-0.9zM346.9 417.9h0.9v0.9h-0.9zM365.9 415.5h0.9v0.9h-0.9zM362.9 422.2h0.9v0.9h-0.9zM348.6 421.1h0.9v0.9h-0.9zM348.6 418.3h0.9v0.9h-0.9zM352.6 423.4h0.9v0.9h-0.9zM344.8 437.3h0.9v0.9h-0.9zM358.3 440.3h0.9v0.9h-0.9zM354.7 423.2h0.9v0.9h-0.9zM354.5 445.3h0.9v0.9h-0.9zM360.1 414.0h0.9v0.9h-0.9zM359.8 413.6h0.9v0.9h-0.9zM369.9 412.1h0.9v0.9h-0.9zM367.0 436.4h0.9v0.9h-0.9zM338.0 406.2h0.9v0.9h-0.9zM361.4 408.4h0.9v0.9h-0.9zM343.3 445.9h0.9v0.9h-0.9zM340.5 451.9h0.9v0.9h-0.9zM359.7 446.7h0.9v0.9h-0.9zM347.0 407.1h0.9v0.9h-0.9zM350.5 428.1h0.9v0.9h-0.9zM363.0 439.6h0.9v0.9h-0.9zM347.4 429.3h0.9v0.9h-0.9zM345.3 405.3h0.9v0.9h-0.9zM356.3 423.1h0.9v0.9h-0.9zM364.4 404.1h0.9v0.9h-0.9zM358.1 410.6h0.9v0.9h-0.9zM339.4 458.0h0.9v0.9h-0.9zM347.5 437.4h0.9v0.9h-0.9zM352.0 407.3h0.9v0.9h-0.9zM370.7 406.9h0.9v0.9h-0.9zM361.4 434.3h0.9v0.9h-0.9zM361.0 419.3h0.9v0.9h-0.9zM364.2 436.0h0.9v0.9h-0.9zM350.6 418.8h0.9v0.9h-0.9zM357.7 425.1h0.9v0.9h-0.9zM357.8 431.2h0.9v0.9h-0.9zM344.6 413.4h0.9v0.9h-0.9zM353.2 401.0h0.9v0.9h-0.9zM358.4 411.1h0.9v0.9h-0.9zM343.6 418.1h0.9v0.9h-0.9zM360.6 425.0h0.9v0.9h-0.9zM360.2 427.0h0.9v0.9h-0.9zM362.6 426.9h0.9v0.9h-0.9zM346.4 435.0h0.9v0.9h-0.9zM354.3 415.3h0.9v0.9h-0.9zM366.4 447.3h0.9v0.9h-0.9zM360.5 455.8h0.9v0.9h-0.9zM346.2 432.9h0.9v0.9h-0.9zM355.4 430.4h0.9v0.9h-0.9zM366.1 445.3h0.9v0.9h-0.9zM352.7 436.9h0.9v0.9h-0.9zM356.8 430.4h0.9v0.9h-0.9zM376.5 425.4h0.9v0.9h-0.9zM353.0 417.4h0.9v0.9h-0.9zM352.4 411.4h0.9v0.9h-0.9zM344.3 437.1h0.9v0.9h-0.9zM347.4 444.4h0.9v0.9h-0.9zM366.7 413.0h0.9v0.9h-0.9zM352.1 426.8h0.9v0.9h-0.9zM342.6 430.8h0.9v0.9h-0.9zM344.9 421.8h0.9v0.9h-0.9zM353.4 417.1h0.9v0.9h-0.9zM360.2 422.3h0.9v0.9h-0.9zM346.6 400.2h0.9v0.9h-0.9zM359.7 426.9h0.9v0.9h-0.9zM348.9 423.7h0.9v0.9h-0.9zM356.5 457.4h0.9v0.9h-0.9zM357.9 440.9h0.9v0.9h-0.9zM358.7 422.9h0.9v0.9h-0.9zM349.3 427.7h0.9v0.9h-0.9zM351.7 451.8h0.9v0.9h-0.9zM357.8 450.2h0.9v0.9h-0.9zM341.5 430.3h0.9v0.9h-0.9zM354.7 426.0h0.9v0.9h-0.9zM357.8 407.5h0.9v0.9h-0.9zM362.5 423.2h0.9v0.9h-0.9zM352.8 425.4h0.9v0.9h-0.9zM351.5 417.5h0.9v0.9h-0.9zM354.4 452.0h0.9v0.9h-0.9zM346.5 401.5h0.9v0.9h-0.9zM351.2 425.9h0.9v0.9h-0.9zM356.7 433.5h0.9v0.9h-0.9zM355.6 433.9h0.9v0.9h-0.9zM343.6 451.4h0.9v0.9h-0.9zM350.1 408.2h0.9v0.9h-0.9zM334.0 417.3h0.9v0.9h-0.9zM360.2 429.1h0.9v0.9h-0.9zM348.2 429.6h0.9v0.9h-0.9zM355.1 422.4h0.9v0.9h-0.9zM343.1 417.1h0.9v0.9h-0.9zM352.2 442.8h0.9v0.9h-0.9zM357.0 413.1h0.9v0.9h-0.9zM361.8 419.7h0.9v0.9h-0.9zM340.7 447.9h0.9v0.9h-0.9zM360.5 452.0h0.9v0.9h-0.9zM351.4 440.0h0.9v0.9h-0.9zM345.9 415.7h0.9v0.9h-0.9zM357.2 415.8h0.9v0.9h-0.9zM350.2 415.2h0.9v0.9h-0.9zM350.2 411.9h0.9v0.9h-0.9zM346.5 421.9h0.9v0.9h-0.9zM354.9 445.5h0.9v0.9h-0.9zM353.2 430.9h0.9v0.9h-0.9zM351.3 417.2h0.9v0.9h-0.9zM344.2 416.8h0.9v0.9h-0.9zM348.2 411.3h0.9v0.9h-0.9zM356.5 444.6h0.9v0.9h-0.9zM364.3 399.4h0.9v0.9h-0.9zM352.6 431.5h0.9v0.9h-0.9zM365.5 407.5h0.9v0.9h-0.9zM352.7 412.8h0.9v0.9h-0.9zM343.0 406.8h0.9v0.9h-0.9zM358.5 441.1h0.9v0.9h-0.9zM344.1 426.5h0.9v0.9h-0.9zM356.4 466.0h0.9v0.9h-0.9zM362.4 413.1h0.9v0.9h-0.9zM350.1 412.3h0.9v0.9h-0.9zM352.0 435.9h0.9v0.9h-0.9zM375.0 435.5h0.9v0.9h-0.9zM355.0 423.6h0.9v0.9h-0.9zM355.2 399.3h0.9v0.9h-0.9zM359.8 447.8h0.9v0.9h-0.9zM351.9 435.5h0.9v0.9h-0.9zM352.0 433.1h0.9v0.9h-0.9zM356.3 419.2h0.9v0.9h-0.9zM331.3 436.4h0.9v0.9h-0.9zM365.6 419.6h0.9v0.9h-0.9zM343.2 428.0h0.9v0.9h-0.9zM343.1 424.8h0.9v0.9h-0.9zM357.7 445.0h0.9v0.9h-0.9zM353.1 420.8h0.9v0.9h-0.9zM341.6 422.5h0.9v0.9h-0.9zM354.7 442.8h0.9v0.9h-0.9zM342.6 430.5h0.9v0.9h-0.9zM346.6 427.1h0.9v0.9h-0.9zM339.3 423.9h0.9v0.9h-0.9zM345.4 440.6h0.9v0.9h-0.9zM356.4 418.2h0.9v0.9h-0.9zM353.9 433.9h0.9v0.9h-0.9zM355.6 455.7h0.9v0.9h-0.9zM361.1 432.9h0.9v0.9h-0.9zM352.5 416.2h0.9v0.9h-0.9zM346.9 410.4h0.9v0.9h-0.9zM350.3 429.3h0.9v0.9h-0.9zM367.6 410.0h0.9v0.9h-0.9zM353.1 404.9h0.9v0.9h-0.9zM355.7 416.5h0.9v0.9h-0.9zM352.0 411.8h0.9v0.9h-0.9zM355.0 439.4h0.9v0.9h-0.9zM356.7 406.8h0.9v0.9h-0.9zM352.8 449.3h0.9v0.9h-0.9zM351.4 416.6h0.9v0.9h-0.9zM345.8 428.8h0.9v0.9h-0.9zM345.2 436.5h0.9v0.9h-0.9zM356.5 430.2h0.9v0.9h-0.9zM359.6 437.2h0.9v0.9h-0.9zM361.1 413.2h0.9v0.9h-0.9zM353.3 395.2h0.9v0.9h-0.9zM345.4 424.2h0.9v0.9h-0.9zM358.5 403.5h0.9v0.9h-0.9zM358.4 418.9h0.9v0.9h-0.9zM339.3 440.2h0.9v0.9h-0.9zM360.0 424.2h0.9v0.9h-0.9zM358.1 418.6h0.9v0.9h-0.9zM367.8 411.1h0.9v0.9h-0.9zM342.7 422.8h0.9v0.9h-0.9zM341.3 424.5h0.9v0.9h-0.9zM359.9 404.7h0.9v0.9h-0.9zM336.7 431.0h0.9v0.9h-0.9zM346.3 411.8h0.9v0.9h-0.9zM343.0 429.9h0.9v0.9h-0.9zM343.8 420.5h0.9v0.9h-0.9zM335.7 440.7h0.9v0.9h-0.9zM350.7 438.9h0.9v0.9h-0.9zM361.6 427.0h0.9v0.9h-0.9zM356.8 425.3h0.9v0.9h-0.9zM356.9 433.0h0.9v0.9h-0.9zM349.7 446.3h0.9v0.9h-0.9zM365.9 441.9h0.9v0.9h-0.9zM357.6 429.2h0.9v0.9h-0.9zM362.3 431.5h0.9v0.9h-0.9zM339.0 449.2h0.9v0.9h-0.9zM356.0 404.3h0.9v0.9h-0.9zM342.6 434.8h0.9v0.9h-0.9zM356.0 414.6h0.9v0.9h-0.9zM354.7 446.3h0.9v0.9h-0.9zM342.8 420.4h0.9v0.9h-0.9zM354.5 425.8h0.9v0.9h-0.9zM363.3 412.2h0.9v0.9h-0.9zM357.4 427.7h0.9v0.9h-0.9zM358.3 438.6h0.9v0.9h-0.9zM345.2 451.0h0.9v0.9h-0.9zM346.9 409.9h0.9v0.9h-0.9zM343.0 421.4h0.9v0.9h-0.9zM354.2 482.4h0.9v0.9h-0.9zM363.6 440.9h0.9v0.9h-0.9zM356.9 427.6h0.9v0.9h-0.9zM353.0 435.1h0.9v0.9h-0.9zM357.0 450.4h0.9v0.9h-0.9zM350.9 430.1h0.9v0.9h-0.9zM335.9 407.8h0.9v0.9h-0.9zM337.5 444.3h0.9v0.9h-0.9zM350.0 419.1h0.9v0.9h-0.9zM345.0 413.5h0.9v0.9h-0.9zM367.8 435.3h0.9v0.9h-0.9zM353.3 433.6h0.9v0.9h-0.9zM343.7 421.5h0.9v0.9h-0.9zM348.6 426.9h0.9v0.9h-0.9zM367.3 409.1h0.9v0.9h-0.9zM344.5 407.7h0.9v0.9h-0.9zM359.9 440.6h0.9v0.9h-0.9zM356.9 446.4h0.9v0.9h-0.9zM366.2 434.0h0.9v0.9h-0.9zM357.8 433.2h0.9v0.9h-0.9zM349.4 422.5h0.9v0.9h-0.9zM357.8 426.2h0.9v0.9h-0.9zM353.6 414.9h0.9v0.9h-0.9zM361.8 452.6h0.9v0.9h-0.9zM352.5 420.0h0.9v0.9h-0.9zM370.8 433.7h0.9v0.9h-0.9zM352.1 428.0h0.9v0.9h-0.9zM357.0 408.4h0.9v0.9h-0.9zM347.2 455.1h0.9v0.9h-0.9zM354.2 422.7h0.9v0.9h-0.9zM353.3 417.2h0.9v0.9h-0.9zM354.6 429.6h0.9v0.9h-0.9zM361.2 415.4h0.9v0.9h-0.9z" fill="#2020b0" fill-opacity="0.5"/>
<path d="M350.4 412.9h0.9v0.9h-0.9zM338.5 413.6h0.9v0.9h-0.9zM356.8 412.2h0.9v0.9h-0.9zM350.7 413.0h0.9v0.9h-0.9zM333.6 398.6h0.9v0.9h-0.9zM362.5 410.0h0.9v0.9h-0.9zM352.3 414.5h0.9v0.9h-0.9zM336.8 403.3h0.9v0.9h-0.9zM354.3 399.0h0.9v0.9h-0.9zM355.2 433.0h0.9v0.9h-0.9zM372.4 418.0h0.9v0.9h-0.9zM339.7 407.0h0.9v0.9h-0.9zM360.3 404.8h0.9v0.9h-0.9zM346.9 407.7h0.9v0.9h-0.9zM349.4 426.2h0.9v0.9h-0.9zM335.8 402.3h0.9v0.9h-0.9zM324.8 433.7h0.9v0.9h-0.9zM350.0 418.7h0.9v0.9h-0.9zM344.8 415.7h0.9v0.9h-0.9zM351.2 425.0h0.9v0.9h-0.9zM357.9 409.3h0.9v0.9h-0.9zM347.6 408.6h0.9v0.9h-0.9zM364.5 419.3h0.9v0.9h-0.9zM349.7 420.9h0.9v0.9h-0.9zM351.6 397.9h0.9v0.9h-0.9zM360.3 429.1h0.9v0.9h-0.9zM349.2 402.4h0.9v0.9h-0.9zM351.8 447.6h0.9v0.9h-0.9zM341.2 404.6h0.9v0.9h-0.9zM342.9 418.6h0.9v0.9h-0.9zM351.6 398.7h0.9v0.9h-0.9zM360.2 406.9h0.9v0.9h-0.9zM345.1 402.1h0.9v0.9h-0.9zM360.5 406.0h0.9v0.9h-0.9zM373.8 418.6h0.9v0.9h-0.9zM376.3 431.7h0.9v0.9h-0.9zM350.8 421.2h0.9v0.9h-0.9zM363.2 429.4h0.9v0.9h-0.9zM357.8 404.7h0.9v0.9h-0.9zM360.0 428.4h0.9v0.9h-0.9zM360.6 417.5h0.9v0.9h-0.9zM356.8 427.2h0.9v0.9h-0.9zM360.5 405.7h0.9v0.9h-0.9zM352.9 408.0h0.9v0.9h-0.9zM347.5 427.1h0.9v0.9h-0.9zM353.7 418.1h0.9v0.9h-0.9zM356.6 412.0h0.9v0.9h-0.9zM365.4 402.5h0.9v0.9h-0.9zM355.1 409.5h0.9v0.9h-0.9zM359.6 416.5h0.9v0.9h-0.9zM367.8 419.3h0.9v0.9h-0.9zM339.4 404.0h0.9v0.9h-0.9zM347.5 406.5h0.9v0.9h-0.9zM357.2 415.7h0.9v0.9h-0.9zM351.0 397.2h0.9v0.9h-0.9zM338.5 421.8h0.9v0.9h-0.9zM362.6 410.4h0.9v0.9h-0.9zM349.8 408.8h0.9v0.9h-0.9zM335.2 397.7h0.9v0.9h-0.9zM350.5 403.1h0.9v0.9h-0.9zM342.6 396.9h0.9v0.9h-0.9zM351.9 414.5h0.9v0.9h-0.9zM357.4 411.6h0.9v0.9h-0.9zM340.8 406.8h0.9v0.9h-0.9zM349.0 426.8h0.9v0.9h-0.9zM338.5 406.7h0.9v0.9h-0.9zM364.6 417.1h0.9v0.9h-0.9zM352.6 401.9h0.9v0.9h-0.9zM347.1 410.0h0.9v0.9h-0.9zM342.5 418.3h0.9v0.9h-0.9zM346.5 412.8h0.9v0.9h-0.9zM352.3 421.5h0.9v0.9h-0.9zM345.0 407.8h0.9v0.9h-0.9zM365.6 433.9h0.9v0.9h-0.9zM324.8 403.3h0.9v0.9h-0.9zM347.4 421.7h0.9v0.9h-0.9zM328.3 406.9h0.9v0.9h-0.9zM349.7 404.6h0.9v0.9h-0.9zM357.5 424.3h0.9v0.9h-0.9zM366.3 416.0h0.9v0.9h-0.9zM361.6 412.2h0.9v0.9h-0.9zM365.6 420.4h0.9v0.9h-0.9zM356.9 427.4h0.9v0.9h-0.9zM363.4 401.4h0.9v0.9h-0.9zM356.6 400.1h0.9v0.9h-0.9zM343.4 406.0h0.9v0.9h-0.9zM336.0 419.6h0.9v0.9h-0.9zM356.3 405.0h0.9v0.9h-0.9zM321.9 411.7h0.9v0.9h-0.9zM352.7 396.2h0.9v0.9h-0.9zM341.5 409.8h0.9v0.9h-0.9zM359.4 402.2h0.9v0.9h-0.9zM352.9 408.8h0.9v0.9h-0.9zM341.5 396.5h0.9v0.9h-0.9zM350.7 421.9h0.9v0.9h-0.9zM323.2 401.8h0.9v0.9h-0.9zM356.1 417.3h0.9v0.9h-0.9zM328.4 406.0h0.9v0.9h-0.9zM360.9 398.9h0.9v0.9h-0.9zM349.1 439.6h0.9v0.9h-0.9zM352.6 408.9h0.9v0.9h-0.9zM357.8 402.1h0.9v0.9h-0.9zM357.6 414.1h0.9v0.9h-0.9zM350.4 406.8h0.9v0.9h-0.9zM338.8 424.4h0.9v0.9h-0.9zM359.8 422.3h0.9v0.9h-0.9zM365.6 400.0h0.9v0.9h-0.9zM355.4 409.9h0.9v0.9h-0.9zM362.7 417.2h0.9v0.9h-0.9zM343.6 404.5h0.9v0.9h-0.9zM352.5 403.9h0.9v0.9h-0.9zM355.2 420.0h0.9v0.9h-0.9zM352.5 414.9h0.9v0.9h-0.9zM355.8 402.9h0.9v0.9h-0.9zM344.1 404.5h0.9v0.9h-0.9zM360.8 408.1h0.9v0.9h-0.9zM337.8 400.9h0.9v0.9h-0.9zM355.3 425.6h0.9v0.9h-0.9zM360.2 397.9h0.9v0.9h-0.9zM345.1 396.5h0.9v0.9h-0.9zM347.1 412.0h0.9v0.9h-0.9zM352.6 397.1h0.9v0.9h-0.9zM342.9 417.0h0.9v0.9h-0.9zM358.9 399.4h0.9v0.9h-0.9zM348.4 422.6h0.9v0.9h-0.9zM334.1 415.0h0.9v0.9h-0.9zM375.6 410.2h0.9v0.9h-0.9zM366.8 412.5h0.9v0.9h-0.9zM356.9 401.4h0.9v0.9h-0.9zM353.6 413.3h0.9v0.9h-0.9zM353.3 407.2h0.9v0.9h-0.9zM345.6 439.6h0.9v0.9h-0.9zM373.8 416.1h0.9v0.9h-0.9zM353.7 405.6h0.9v0.9h-0.9zM334.0 409.0h0.9v0.9h-0.9zM343.4 410.3h0.9v0.9h-0.9zM359.2 399.8h0.9v0.9h-0.9zM360.4 428.0h0.9v0.9h-0.9zM376.5 402.7h0.9v0.9h-0.9zM341.9 422.0h0.9v0.9h-0.9zM356.6 427.8h0.9v0.9h-0.9zM363.2 397.4h0.9v0.9h-0.9zM360.8 427.3h0.9v0.9h-0.9zM345.1 405.4h0.9v0.9h-0.9zM360.9 429.6h0.9v0.9h-0.9zM357.1 415.8h0.9v0.9h-0.9zM367.5 406.4h0.9v0.9h-0.9zM350.8 418.5h0.9v0.9h-0.9zM348.3 416.5h0.9v0.9h-0.9zM345.0 400.5h0.9v0.9h-0.9zM346.6 435.6h0.9v0.9h-0.9zM341.9 405.7h0.9v0.9h-0.9zM347.0 423.7h0.9v0.9h-0.9zM357.1 404.0h0.9v0.9h-0.9zM366.9 396.4h0.9v0.9h-0.9zM364.2 408.6h0.9v0.9h-0.9zM358.5 418.0h0.9v0.9h-0.9zM337.2 431.0h0.9v0.9h-0.9zM357.8 410.8h0.9v0.9h-0.9zM365.0 406.5h0.9v0.9h-0.9zM335.3 395.1h0.9v0.9h-0.9zM337.5 409.3h0.9v0.9h-0.9zM339.4 413.4h0.9v0.9h-0.9zM347.4 425.5h0.9v0.9h-0.9zM339.6 423.5h0.9v0.9h-0.9zM355.5 437.2h0.9v0.9h-0.9zM336.2 398.9h0.9v0.9h-0.9zM349.2 410.3h0.9v0.9h-0.9zM344.7 410.0h0.9v0.9h-0.9zM363.1 399.6h0.9v0.9h-0.9zM351.0 398.0h0.9v0.9h-0.9zM357.2 416.0h0.9v0.9h-0.9zM346.7 415.0h0.9v0.9h-0.9zM359.1 426.0h0.9v0.9h-0.9zM358.1 404.9h0.9v0.9h-0.9zM329.4 415.0h0.9v0.9h-0.9zM360.5 414.2h0.9v0.9h-0.9zM359.0 417.8h0.9v0.9h-0.9z" fill="#7070d0" fill-opacity="0.4"/>
<path d="M363.1 480.2h0.9v0.9h-0.9zM354.0 485.5h0.9v0.9h-0.9zM360.9 467.8h0.9v0.9h-0.9zM351.9 455.6h0.9v0.9h-0.9zM357.7 443.8h0.9v0.9h-0.9zM360.3 484.8h0.9v0.9h-0.9zM356.3 448.9h0.9v0.9h-0.9zM358.0 472.8h0.9v0.9h-0.9zM349.9 478.5h0.9v0.9h-0.9zM357.6 470.0h0.9v0.9h-0.9zM350.9 466.3h0.9v0.9h-0.9zM352.6 473.4h0.9v0.9h-0.9zM369.1 474.0h0.9v0.9h-0.9zM358.2 484.3h0.9v0.9h-0.9zM352.7 476.3h0.9v0.9h-0.9zM351.7 458.4h0.9v0.9h-0.9zM363.7 441.9h0.9v0.9h-0.9zM342.8 471.5h0.9v0.9h-0.9zM355.0 459.5h0.9v0.9h-0.9zM359.7 485.3h0.9v0.9h-0.9zM353.7 451.7h0.9v0.9h-0.9zM359.1 470.4h0.9v0.9h-0.9zM351.2 458.9h0.9v0.9h-0.9zM356.4 457.1h0.9v0.9h-0.9zM356.7 488.5h0.9v0.9h-0.9zM356.5 470.1h0.9v0.9h-0.9zM357.1 465.7h0.9v0.9h-0.9zM356.6 477.1h0.9v0.9h-0.9zM362.0 458.3h0.9v0.9h-0.9zM355.1 463.4h0.9v0.9h-0.9zM353.4 460.1h0.9v0.9h-0.9zM355.0 492.5h0.9v0.9h-0.9zM354.8 472.1h0.9v0.9h-0.9zM348.7 475.8h0.9v0.9h-0.9zM346.8 481.8h0.9v0.9h-0.9zM349.6 465.7h0.9v0.9h-0.9zM357.8 466.1h0.9v0.9h-0.9zM353.0 447.7h0.9v0.9h-0.9zM354.3 473.9h0.9v0.9h-0.9zM370.7 471.2h0.9v0.9h-0.9zM362.0 462.9h0.9v0.9h-0.9zM355.3 482.9h0.9v0.9h-0.9zM353.2 445.8h0.9v0.9h-0.9zM363.2 473.2h0.9v0.9h-0.9zM352.4 450.9h0.9v0.9h-0.9zM362.5 453.8h0.9v0.9h-0.9zM359.3 465.3h0.9v0.9h-0.9zM363.3 484.5h0.9v0.9h-0.9zM352.7 453.2h0.9v0.9h-0.9zM360.9 455.5h0.9v0.9h-0.9zM347.3 452.9h0.9v0.9h-0.9zM355.5 492.9h0.9v0.9h-0.9zM361.7 474.4h0.9v0.9h-0.9zM359.8 473.0h0.9v0.9h-0.9zM347.1 493.6h0.9v0.9h-0.9zM359.7 471.0h0.9v0.9h-0.9zM358.6 441.8h0.9v0.9h-0.9zM356.0 461.7h0.9v0.9h-0.9zM352.7 453.1h0.9v0.9h-0.9zM354.9 493.1h0.9v0.9h-0.9zM353.4 450.3h0.9v0.9h-0.9zM361.0 471.7h0.9v0.9h-0.9zM358.6 461.5h0.9v0.9h-0.9zM361.7 462.4h0.9v0.9h-0.9zM359.8 468.2h0.9v0.9h-0.9zM349.9 466.3h0.9v0.9h-0.9zM357.0 459.4h0.9v0.9h-0.9zM367.0 452.5h0.9v0.9h-0.9zM350.7 459.8h0.9v0.9h-0.9zM357.7 454.9h0.9v0.9h-0.9zM352.4 456.6h0.9v0.9h-0.9zM351.8 469.4h0.9v0.9h-0.9zM357.4 466.0h0.9v0.9h-0.9zM360.9 473.9h0.9v0.9h-0.9zM360.1 464.9h0.9v0.9h-0.9zM358.6 491.9h0.9v0.9h-0.9zM361.1 458.8h0.9v0.9h-0.9zM348.1 455.4h0.9v0.9h-0.9zM360.4 480.6h0.9v0.9h-0.9zM358.3 459.1h0.9v0.9h-0.9zM355.4 469.4h0.9v0.9h-0.9zM356.2 480.1h0.9v0.9h-0.9zM352.0 466.6h0.9v0.9h-0.9zM362.1 463.4h0.9v0.9h-0.9zM352.5 479.9h0.9v0.9h-0.9zM348.9 472.0h0.9v0.9h-0.9zM356.3 461.2h0.9v0.9h-0.9zM353.4 452.9h0.9v0.9h-0.9zM355.9 463.1h0.9v0.9h-0.9zM363.9 447.1h0.9v0.9h-0.9zM355.6 456.9h0.9v0.9h-0.9zM356.9 454.1h0.9v0.9h-0.9zM367.6 471.5h0.9v0.9h-0.9zM349.3 477.3h0.9v0.9h-0.9zM358.1 459.7h0.9v0.9h-0.9zM362.2 462.3h0.9v0.9h-0.9zM363.9 454.0h0.9v0.9h-0.9zM367.6 450.5h0.9v0.9h-0.9zM353.0 462.4h0.9v0.9h-0.9zM359.4 474.8h0.9v0.9h-0.9zM355.8 473.6h0.9v0.9h-0.9zM354.1 475.1h0.9v0.9h-0.9zM352.7 464.3h0.9v0.9h-0.9zM349.0 433.7h0.9v0.9h-0.9zM358.0 479.3h0.9v0.9h-0.9zM360.1 484.2h0.9v0.9h-0.9zM351.0 479.1h0.9v0.9h-0.9zM360.2 479.0h0.9v0.9h-0.9zM353.6 481.5h0.9v0.9h-0.9zM343.2 471.9h0.9v0.9h-0.9zM361.9 487.3h0.9v0.9h-0.9zM360.0 478.0h0.9v0.9h-0.9zM354.8 476.4h0.9v0.9h-0.9zM354.4 466.3h0.9v0.9h-0.9zM349.8 463.6h0.9v0.9h-0.9zM359.0 453.9h0.9v0.9h-0.9zM356.0 475.3h0.9v0.9h-0.9zM359.1 464.1h0.9v0.9h-0.9zM357.3 453.0h0.9v0.9h-0.9zM349.3 458.5h0.9v0.9h-0.9zM348.6 453.2h0.9v0.9h-0.9zM358.5 487.9h0.9v0.9h-0.9zM347.9 464.9h0.9v0.9h-0.9zM357.8 469.3h0.9v0.9h-0.9zM361.0 452.8h0.9v0.9h-0.9zM350.0 455.1h0.9v0.9h-0.9zM359.8 481.0h0.9v0.9h-0.9zM356.7 465.0h0.9v0.9h-0.9zM359.2 470.7h0.9v0.9h-0.9zM353.3 490.8h0.9v0.9h-0.9zM356.5 494.0h0.9v0.9h-0.9zM358.7 476.6h0.9v0.9h-0.9zM365.8 474.0h0.9v0.9h-0.9zM360.3 470.9h0.9v0.9h-0.9zM359.1 464.4h0.9v0.9h-0.9zM350.1 493.2h0.9v0.9h-0.9zM358.3 452.8h0.9v0.9h-0.9zM353.2 466.9h0.9v0.9h-0.9zM356.3 444.0h0.9v0.9h-0.9zM358.0 452.2h0.9v0.9h-0.9zM361.6 473.0h0.9v0.9h-0.9zM359.7 473.7h0.9v0.9h-0.9zM357.7 472.2h0.9v0.9h-0.9zM356.4 464.0h0.9v0.9h-0.9zM363.6 459.2h0.9v0.9h-0.9zM352.3 461.3h0.9v0.9h-0.9zM357.0 463.2h0.9v0.9h-0.9zM363.7 481.6h0.9v0.9h-0.9zM355.8 486.2h0.9v0.9h-0.9zM361.0 473.5h0.9v0.9h-0.9zM361.3 461.3h0.9v0.9h-0.9zM366.8 456.3h0.9v0.9h-0.9zM362.5 471.8h0.9v0.9h-0.9zM348.5 465.1h0.9v0.9h-0.9zM356.8 445.2h0.9v0.9h-0.9zM358.2 485.1h0.9v0.9h-0.9zM360.9 467.9h0.9v0.9h-0.9zM358.7 464.0h0.9v0.9h-0.9zM366.2 457.1h0.9v0.9h-0.9zM362.3 457.1h0.9v0.9h-0.9zM350.8 479.2h0.9v0.9h-0.9zM353.5 456.2h0.9v0.9h-0.9zM346.3 469.2h0.9v0.9h-0.9zM365.4 475.9h0.9v0.9h-0.9zM356.0 491.0h0.9v0.9h-0.9zM355.9 475.5h0.9v0.9h-0.9zM348.6 467.6h0.9v0.9h-0.9zM354.3 462.5h0.9v0.9h-0.9zM358.6 478.7h0.9v0.9h-0.9zM354.4 480.5h0.9v0.9h-0.9zM354.4 462.7h0.9v0.9h-0.9zM353.2 475.3h0.9v0.9h-0.9zM366.3 466.3h0.9v0.9h-0.9zM353.5 447.8h0.9v0.9h-0.9zM348.9 455.4h0.9v0.9h-0.9zM353.6 478.1h0.9v0.9h-0.9zM354.4 486.0h0.9v0.9h-0.9zM355.7 476.5h0.9v0.9h-0.9zM354.9 465.5h0.9v0.9h-0.9zM350.5 459.1h0.9v0.9h-0.9zM355.1 474.7h0.9v0.9h-0.9zM358.0 472.1h0.9v0.9h-0.9zM349.0 447.8h0.9v0.9h-0.9zM366.1 476.1h0.9v0.9h-0.9zM364.7 459.2h0.9v0.9h-0.9zM346.8 476.4h0.9v0.9h-0.9zM354.2 474.7h0.9v0.9h-0.9zM361.2 477.1h0.9v0.9h-0.9zM362.8 481.4h0.9v0.9h-0.9zM365.1 476.8h0.9v0.9h-0.9zM346.7 454.9h0.9v0.9h-0.9zM350.4 455.3h0.9v0.9h-0.9zM353.4 481.0h0.9v0.9h-0.9zM358.8 474.0h0.9v0.9h-0.9zM350.6 448.4h0.9v0.9h-0.9zM358.3 443.0h0.9v0.9h-0.9zM358.4 479.2h0.9v0.9h-0.9zM349.6 478.3h0.9v0.9h-0.9zM357.1 465.1h0.9v0.9h-0.9zM356.5 471.4h0.9v0.9h-0.9zM354.0 434.1h0.9v0.9h-0.9zM362.8 455.6h0.9v0.9h-0.9zM354.7 480.7h0.9v0.9h-0.9zM363.6 478.8h0.9v0.9h-0.9zM353.2 441.5h0.9v0.9h-0.9zM364.9 482.8h0.9v0.9h-0.9zM364.7 474.7h0.9v0.9h-0.9zM352.1 479.7h0.9v0.9h-0.9zM358.0 465.5h0.9v0.9h-0.9zM357.9 468.1h0.9v0.9h-0.9zM351.4 454.6h0.9v0.9h-0.9zM360.4 472.0h0.9v0.9h-0.9zM359.4 479.2h0.9v0.9h-0.9zM352.0 456.3h0.9v0.9h-0.9zM356.9 472.6h0.9v0.9h-0.9zM361.0 461.4h0.9v0.9h-0.9zM355.7 481.0h0.9v0.9h-0.9zM352.9 480.3h0.9v0.9h-0.9zM364.8 438.6h0.9v0.9h-0.9zM351.5 473.7h0.9v0.9h-0.9zM358.3 480.7h0.9v0.9h-0.9zM362.3 461.1h0.9v0.9h-0.9zM360.6 465.3h0.9v0.9h-0.9zM347.3 466.1h0.9v0.9h-0.9zM355.0 453.7h0.9v0.9h-0.9zM356.0 466.6h0.9v0.9h-0.9zM355.6 487.4h0.9v0.9h-0.9zM359.9 474.0h0.9v0.9h-0.9zM359.5 487.0h0.9v0.9h-0.9zM357.4 480.4h0.9v0.9h-0.9zM358.1 483.0h0.9v0.9h-0.9zM361.9 469.6h0.9v0.9h-0.9zM363.1 477.7h0.9v0.9h-0.9zM347.2 493.2h0.9v0.9h-0.9zM367.9 486.4h0.9v0.9h-0.9zM354.0 472.1h0.9v0.9h-0.9zM360.8 459.3h0.9v0.9h-0.9zM348.6 456.5h0.9v0.9h-0.9zM354.3 471.0h0.9v0.9h-0.9zM350.5 473.5h0.9v0.9h-0.9zM362.4 445.1h0.9v0.9h-0.9zM361.4 470.8h0.9v0.9h-0.9zM356.9 472.4h0.9v0.9h-0.9zM356.0 471.8h0.9v0.9h-0.9zM358.9 461.2h0.9v0.9h-0.9zM353.8 478.9h0.9v0.9h-0.9zM353.0 450.9h0.9v0.9h-0.9zM361.1 459.1h0.9v0.9h-0.9zM357.0 478.0h0.9v0.9h-0.9zM350.4 474.4h0.9v0.9h-0.9zM358.7 469.6h0.9v0.9h-0.9zM359.6 467.6h0.9v0.9h-0.9zM364.0 465.3h0.9v0.9h-0.9zM354.1 462.3h0.9v0.9h-0.9zM359.0 455.1h0.9v0.9h-0.9zM367.5 475.1h0.9v0.9h-0.9zM355.3 433.2h0.9v0.9h-0.9zM355.1 458.7h0.9v0.9h-0.9zM359.5 483.2h0.9v0.9h-0.9zM354.4 458.0h0.9v0.9h-0.9zM356.9 452.8h0.9v0.9h-0.9zM354.4 491.3h0.9v0.9h-0.9zM352.9 480.6h0.9v0.9h-0.9zM361.4 465.8h0.9v0.9h-0.9zM355.0 460.3h0.9v0.9h-0.9zM351.8 464.7h0.9v0.9h-0.9zM355.4 463.2h0.9v0.9h-0.9zM356.2 464.5h0.9v0.9h-0.9zM358.4 458.3h0.9v0.9h-0.9zM361.6 474.3h0.9v0.9h-0.9zM365.9 460.6h0.9v0.9h-0.9zM350.7 444.9h0.9v0.9h-0.9zM355.6 451.4h0.9v0.9h-0.9zM347.6 467.4h0.9v0.9h-0.9zM358.0 454.7h0.9v0.9h-0.9zM359.5 436.6h0.9v0.9h-0.9zM353.5 486.0h0.9v0.9h-0.9zM352.2 473.5h0.9v0.9h-0.9zM351.8 461.4h0.9v0.9h-0.9zM349.2 460.8h0.9v0.9h-0.9zM360.0 473.6h0.9v0.9h-0.9zM366.4 484.3h0.9v0.9h-0.9zM351.0 459.5h0.9v0.9h-0.9zM365.0 472.3h0.9v0.9h-0.9zM356.2 459.4h0.9v0.9h-0.9zM349.7 471.2h0.9v0.9h-0.9zM359.6 453.0h0.9v0.9h-0.9zM360.5 444.4h0.9v0.9h-0.9zM358.7 468.2h0.9v0.9h-0.9zM355.4 466.3h0.9v0.9h-0.9zM365.1 476.1h0.9v0.9h-0.9zM355.2 458.8h0.9v0.9h-0.9zM359.9 484.2h0.9v0.9h-0.9zM359.9 468.3h0.9v0.9h-0.9zM352.1 486.3h0.9v0.9h-0.9zM347.3 462.9h0.9v0.9h-0.9zM347.8 485.9h0.9v0.9h-0.9zM354.6 466.3h0.9v0.9h-0.9zM358.4 468.9h0.9v0.9h-0.9zM347.6 479.1h0.9v0.9h-0.9zM352.9 445.1h0.9v0.9h-0.9zM364.4 453.9h0.9v0.9h-0.9zM347.5 489.9h0.9v0.9h-0.9zM358.9 448.4h0.9v0.9h-0.9zM358.3 460.9h0.9v0.9h-0.9zM360.6 473.9h0.9v0.9h-0.9zM349.1 485.3h0.9v0.9h-0.9zM358.3 460.8h0.9v0.9h-0.9zM349.5 468.8h0.9v0.9h-0.9zM363.3 453.1h0.9v0.9h-0.9zM352.1 462.4h0.9v0.9h-0.9zM358.4 479.9h0.9v0.9h-0.9zM352.5 471.2h0.9v0.9h-0.9zM357.2 466.8h0.9v0.9h-0.9zM348.7 472.5h0.9v0.9h-0.9zM357.9 468.9h0.9v0.9h-0.9zM359.6 469.3h0.9v0.9h-0.9zM356.4 462.9h0.9v0.9h-0.9zM364.7 455.1h0.9v0.9h-0.9zM358.4 475.7h0.9v0.9h-0.9zM360.5 453.0h0.9v0.9h-0.9zM359.1 479.9h0.9v0.9h-0.9zM366.0 493.7h0.9v0.9h-0.9zM353.2 486.1h0.9v0.9h-0.9zM355.4 454.4h0.9v0.9h-0.9zM359.7 470.4h0.9v0.9h-0.9zM357.9 457.1h0.9v0.9h-0.9zM360.8 458.2h0.9v0.9h-0.9zM358.0 446.1h0.9v0.9h-0.9zM353.9 452.4h0.9v0.9h-0.9zM356.2 478.1h0.9v0.9h-0.9zM358.8 476.2h0.9v0.9h-0.9zM345.0 482.4h0.9v0.9h-0.9zM363.6 481.5h0.9v0.9h-0.9zM353.7 477.3h0.9v0.9h-0.9zM354.8 457.6h0.9v0.9h-0.9zM357.9 466.2h0.9v0.9h-0.9zM355.3 476.7h0.9v0.9h-0.9zM349.2 483.2h0.9v0.9h-0.9zM355.5 463.1h0.9v0.9h-0.9zM363.7 461.6h0.9v0.9h-0.9zM362.0 462.3h0.9v0.9h-0.9zM363.0 487.5h0.9v0.9h-0.9zM353.9 474.8h0.9v0.9h-0.9zM355.6 463.9h0.9v0.9h-0.9z" fill="#2020b0" fill-opacity="0.55"/>
<path d="M357.9 470.6h0.9v0.9h-0.9zM370.4 467.1h0.9v0.9h-0.9zM348.5 475.7h0.9v0.9h-0.9zM363.5 461.2h0.9v0.9h-0.9zM360.0 469.6h0.9v0.9h-0.9zM359.9 473.3h0.9v0.9h-0.9zM368.0 481.8h0.9v0.9h-0.9zM370.2 475.2h0.9v0.9h-0.9zM397.3 482.3h0.9v0.9h-0.9zM373.2 486.5h0.9v0.9h-0.9zM357.7 466.7h0.9v0.9h-0.9zM349.0 460.5h0.9v0.9h-0.9zM377.8 469.1h0.9v0.9h-0.9zM386.3 469.3h0.9v0.9h-0.9zM355.8 458.3h0.9v0.9h-0.9zM365.3 460.9h0.9v0.9h-0.9zM377.5 460.9h0.9v0.9h-0.9zM367.1 472.0h0.9v0.9h-0.9zM341.4 492.2h0.9v0.9h-0.9zM364.7 467.6h0.9v0.9h-0.9zM373.6 473.2h0.9v0.9h-0.9zM356.2 464.0h0.9v0.9h-0.9zM375.2 461.3h0.9v0.9h-0.9zM376.8 476.8h0.9v0.9h-0.9zM358.7 478.0h0.9v0.9h-0.9zM371.2 471.1h0.9v0.9h-0.9zM359.6 483.7h0.9v0.9h-0.9zM361.0 474.0h0.9v0.9h-0.9zM356.8 488.2h0.9v0.9h-0.9zM361.7 472.2h0.9v0.9h-0.9zM359.2 485.8h0.9v0.9h-0.9zM378.2 475.2h0.9v0.9h-0.9zM363.8 478.4h0.9v0.9h-0.9zM354.6 483.4h0.9v0.9h-0.9zM380.3 463.8h0.9v0.9h-0.9zM371.8 469.7h0.9v0.9h-0.9zM376.4 476.4h0.9v0.9h-0.9zM365.5 474.3h0.9v0.9h-0.9zM373.4 479.7h0.9v0.9h-0.9zM365.2 469.0h0.9v0.9h-0.9zM356.4 463.8h0.9v0.9h-0.9zM367.3 476.0h0.9v0.9h-0.9zM367.7 479.9h0.9v0.9h-0.9zM367.6 469.0h0.9v0.9h-0.9zM374.9 489.2h0.9v0.9h-0.9zM348.5 484.0h0.9v0.9h-0.9zM369.3 485.6h0.9v0.9h-0.9zM358.1 485.0h0.9v0.9h-0.9zM363.4 468.6h0.9v0.9h-0.9zM367.0 470.2h0.9v0.9h-0.9zM359.4 481.2h0.9v0.9h-0.9zM374.1 484.8h0.9v0.9h-0.9zM365.8 480.9h0.9v0.9h-0.9zM376.0 479.6h0.9v0.9h-0.9zM379.1 469.6h0.9v0.9h-0.9zM362.8 473.8h0.9v0.9h-0.9zM355.2 478.2h0.9v0.9h-0.9zM367.3 491.0h0.9v0.9h-0.9zM374.8 471.4h0.9v0.9h-0.9zM369.8 485.0h0.9v0.9h-0.9zM354.5 482.5h0.9v0.9h-0.9zM349.1 479.1h0.9v0.9h-0.9zM356.9 472.8h0.9v0.9h-0.9zM356.8 476.9h0.9v0.9h-0.9zM372.9 461.1h0.9v0.9h-0.9zM367.2 479.6h0.9v0.9h-0.9zM375.5 481.8h0.9v0.9h-0.9zM365.7 473.4h0.9v0.9h-0.9zM383.7 483.9h0.9v0.9h-0.9zM366.7 481.9h0.9v0.9h-0.9zM372.3 471.5h0.9v0.9h-0.9zM362.4 487.2h0.9v0.9h-0.9zM371.2 473.5h0.9v0.9h-0.9zM374.6 468.6h0.9v0.9h-0.9zM379.7 470.8h0.9v0.9h-0.9zM360.5 472.5h0.9v0.9h-0.9zM371.3 481.3h0.9v0.9h-0.9zM384.1 490.5h0.9v0.9h-0.9zM369.3 479.8h0.9v0.9h-0.9zM365.0 474.9h0.9v0.9h-0.9zM361.4 489.1h0.9v0.9h-0.9zM368.2 476.1h0.9v0.9h-0.9zM380.9 477.7h0.9v0.9h-0.9zM371.3 463.5h0.9v0.9h-0.9zM366.5 479.2h0.9v0.9h-0.9zM355.1 467.1h0.9v0.9h-0.9zM391.0 464.6h0.9v0.9h-0.9zM361.9 480.1h0.9v0.9h-0.9zM367.7 454.8h0.9v0.9h-0.9zM361.7 492.6h0.9v0.9h-0.9zM368.4 463.5h0.9v0.9h-0.9zM362.3 471.4h0.9v0.9h-0.9zM367.7 477.0h0.9v0.9h-0.9zM381.4 490.5h0.9v0.9h-0.9zM359.1 482.4h0.9v0.9h-0.9zM372.0 459.5h0.9v0.9h-0.9zM365.9 461.5h0.9v0.9h-0.9zM373.9 480.3h0.9v0.9h-0.9zM359.6 457.3h0.9v0.9h-0.9zM370.6 475.2h0.9v0.9h-0.9zM356.5 469.9h0.9v0.9h-0.9zM347.9 486.1h0.9v0.9h-0.9zM353.1 490.1h0.9v0.9h-0.9zM356.7 452.9h0.9v0.9h-0.9zM354.9 482.3h0.9v0.9h-0.9zM363.0 484.3h0.9v0.9h-0.9zM377.4 470.2h0.9v0.9h-0.9zM354.7 471.9h0.9v0.9h-0.9zM370.7 465.8h0.9v0.9h-0.9zM367.7 474.3h0.9v0.9h-0.9zM359.0 481.8h0.9v0.9h-0.9zM356.6 491.1h0.9v0.9h-0.9zM370.4 492.1h0.9v0.9h-0.9zM370.9 474.9h0.9v0.9h-0.9zM362.5 469.4h0.9v0.9h-0.9zM364.5 487.7h0.9v0.9h-0.9zM365.9 450.0h0.9v0.9h-0.9zM352.7 463.6h0.9v0.9h-0.9zM367.1 484.0h0.9v0.9h-0.9zM383.8 469.8h0.9v0.9h-0.9zM353.1 478.6h0.9v0.9h-0.9zM357.2 466.5h0.9v0.9h-0.9zM366.9 476.9h0.9v0.9h-0.9zM360.1 476.9h0.9v0.9h-0.9zM361.9 470.1h0.9v0.9h-0.9zM366.1 481.6h0.9v0.9h-0.9zM363.0 476.0h0.9v0.9h-0.9zM365.7 482.7h0.9v0.9h-0.9zM370.4 475.7h0.9v0.9h-0.9zM349.7 465.7h0.9v0.9h-0.9zM371.7 479.1h0.9v0.9h-0.9zM343.3 486.3h0.9v0.9h-0.9zM383.2 469.9h0.9v0.9h-0.9zM375.4 491.2h0.9v0.9h-0.9zM359.9 482.3h0.9v0.9h-0.9zM376.3 474.2h0.9v0.9h-0.9zM364.6 478.2h0.9v0.9h-0.9zM370.4 473.6h0.9v0.9h-0.9zM373.7 468.8h0.9v0.9h-0.9zM369.6 487.0h0.9v0.9h-0.9zM366.1 486.9h0.9v0.9h-0.9zM372.3 473.4h0.9v0.9h-0.9zM364.2 476.1h0.9v0.9h-0.9zM362.3 475.8h0.9v0.9h-0.9zM356.6 484.9h0.9v0.9h-0.9zM348.0 492.6h0.9v0.9h-0.9zM382.1 471.3h0.9v0.9h-0.9zM374.0 481.0h0.9v0.9h-0.9zM352.1 477.7h0.9v0.9h-0.9zM370.1 483.6h0.9v0.9h-0.9zM368.2 492.4h0.9v0.9h-0.9zM344.1 469.2h0.9v0.9h-0.9zM357.8 457.4h0.9v0.9h-0.9zM365.1 476.3h0.9v0.9h-0.9zM383.4 462.0h0.9v0.9h-0.9zM378.8 471.1h0.9v0.9h-0.9zM369.4 475.2h0.9v0.9h-0.9zM376.2 480.5h0.9v0.9h-0.9zM354.4 480.2h0.9v0.9h-0.9zM372.4 473.9h0.9v0.9h-0.9zM373.6 478.1h0.9v0.9h-0.9zM353.6 487.6h0.9v0.9h-0.9zM368.8 475.0h0.9v0.9h-0.9zM385.6 481.7h0.9v0.9h-0.9zM380.5 454.6h0.9v0.9h-0.9zM359.2 487.1h0.9v0.9h-0.9zM365.4 460.6h0.9v0.9h-0.9zM361.2 481.6h0.9v0.9h-0.9zM357.9 489.0h0.9v0.9h-0.9zM355.9 466.9h0.9v0.9h-0.9zM350.1 470.1h0.9v0.9h-0.9zM368.4 478.4h0.9v0.9h-0.9zM370.8 492.8h0.9v0.9h-0.9zM360.4 470.9h0.9v0.9h-0.9zM358.8 489.3h0.9v0.9h-0.9zM364.5 481.3h0.9v0.9h-0.9zM379.9 477.3h0.9v0.9h-0.9zM352.9 476.6h0.9v0.9h-0.9zM368.5 463.2h0.9v0.9h-0.9zM370.2 466.9h0.9v0.9h-0.9zM379.1 487.3h0.9v0.9h-0.9zM374.8 488.2h0.9v0.9h-0.9zM369.2 465.2h0.9v0.9h-0.9zM381.1 469.1h0.9v0.9h-0.9zM377.9 466.7h0.9v0.9h-0.9zM369.4 483.8h0.9v0.9h-0.9zM368.9 471.7h0.9v0.9h-0.9zM354.6 492.5h0.9v0.9h-0.9zM367.8 486.0h0.9v0.9h-0.9z" fill="#3a3ae0" fill-opacity="0.4"/>
<path d="M332.2 466.4h0.9v0.9h-0.9zM324.2 454.2h0.9v0.9h-0.9zM330.3 455.3h0.9v0.9h-0.9zM334.2 453.5h0.9v0.9h-0.9zM323.6 458.6h0.9v0.9h-0.9zM324.5 453.3h0.9v0.9h-0.9zM332.3 451.9h0.9v0.9h-0.9zM326.6 466.1h0.9v0.9h-0.9zM336.1 452.5h0.9v0.9h-0.9zM321.1 458.5h0.9v0.9h-0.9zM320.7 475.5h0.9v0.9h-0.9zM323.3 453.1h0.9v0.9h-0.9zM348.2 455.2h0.9v0.9h-0.9zM344.2 452.7h0.9v0.9h-0.9zM327.5 457.2h0.9v0.9h-0.9zM317.7 462.9h0.9v0.9h-0.9zM324.8 470.5h0.9v0.9h-0.9zM323.5 468.6h0.9v0.9h-0.9zM321.2 461.6h0.9v0.9h-0.9zM314.9 459.0h0.9v0.9h-0.9zM316.4 454.6h0.9v0.9h-0.9zM327.0 459.0h0.9v0.9h-0.9zM309.3 469.2h0.9v0.9h-0.9zM310.5 468.3h0.9v0.9h-0.9zM312.1 471.4h0.9v0.9h-0.9zM335.0 462.6h0.9v0.9h-0.9zM311.6 469.8h0.9v0.9h-0.9zM325.2 464.5h0.9v0.9h-0.9zM325.0 460.2h0.9v0.9h-0.9zM336.5 461.9h0.9v0.9h-0.9zM327.5 465.6h0.9v0.9h-0.9zM342.3 462.5h0.9v0.9h-0.9zM328.2 469.1h0.9v0.9h-0.9zM325.5 456.0h0.9v0.9h-0.9zM329.5 448.6h0.9v0.9h-0.9zM309.0 475.1h0.9v0.9h-0.9zM332.9 464.8h0.9v0.9h-0.9zM341.0 447.4h0.9v0.9h-0.9zM330.6 468.6h0.9v0.9h-0.9zM322.1 463.7h0.9v0.9h-0.9zM347.5 447.7h0.9v0.9h-0.9zM327.1 462.6h0.9v0.9h-0.9zM335.4 445.5h0.9v0.9h-0.9zM324.9 458.9h0.9v0.9h-0.9zM315.1 458.9h0.9v0.9h-0.9zM329.3 458.7h0.9v0.9h-0.9zM339.0 453.1h0.9v0.9h-0.9zM315.1 449.1h0.9v0.9h-0.9zM319.5 458.8h0.9v0.9h-0.9zM327.2 443.7h0.9v0.9h-0.9zM339.8 450.3h0.9v0.9h-0.9zM322.4 453.3h0.9v0.9h-0.9zM313.0 454.4h0.9v0.9h-0.9zM332.4 464.6h0.9v0.9h-0.9zM340.4 459.7h0.9v0.9h-0.9zM331.2 454.6h0.9v0.9h-0.9zM348.4 444.1h0.9v0.9h-0.9zM322.0 472.5h0.9v0.9h-0.9zM311.8 477.1h0.9v0.9h-0.9zM330.6 457.8h0.9v0.9h-0.9zM342.6 456.9h0.9v0.9h-0.9zM319.4 465.0h0.9v0.9h-0.9zM323.8 459.6h0.9v0.9h-0.9zM318.7 469.0h0.9v0.9h-0.9zM317.5 469.5h0.9v0.9h-0.9zM326.5 457.0h0.9v0.9h-0.9zM328.5 455.1h0.9v0.9h-0.9zM336.7 457.4h0.9v0.9h-0.9zM317.3 472.0h0.9v0.9h-0.9zM318.1 468.0h0.9v0.9h-0.9zM308.7 474.7h0.9v0.9h-0.9zM332.6 450.4h0.9v0.9h-0.9zM355.4 435.7h0.9v0.9h-0.9zM311.1 467.7h0.9v0.9h-0.9zM322.1 468.3h0.9v0.9h-0.9zM337.9 458.4h0.9v0.9h-0.9zM317.8 469.1h0.9v0.9h-0.9zM335.7 464.4h0.9v0.9h-0.9zM323.5 468.0h0.9v0.9h-0.9zM319.8 461.6h0.9v0.9h-0.9zM337.9 459.1h0.9v0.9h-0.9zM320.7 461.8h0.9v0.9h-0.9zM310.4 472.4h0.9v0.9h-0.9zM336.3 458.7h0.9v0.9h-0.9zM324.7 460.9h0.9v0.9h-0.9zM313.4 457.6h0.9v0.9h-0.9zM314.4 466.4h0.9v0.9h-0.9zM330.7 455.8h0.9v0.9h-0.9zM315.6 466.0h0.9v0.9h-0.9zM324.8 458.5h0.9v0.9h-0.9zM333.4 448.7h0.9v0.9h-0.9zM318.5 454.0h0.9v0.9h-0.9zM339.9 457.4h0.9v0.9h-0.9zM310.3 475.3h0.9v0.9h-0.9zM333.2 459.3h0.9v0.9h-0.9zM331.0 457.6h0.9v0.9h-0.9zM353.3 458.6h0.9v0.9h-0.9zM327.0 464.9h0.9v0.9h-0.9zM335.6 455.5h0.9v0.9h-0.9zM325.3 467.0h0.9v0.9h-0.9zM311.7 468.7h0.9v0.9h-0.9zM316.2 471.4h0.9v0.9h-0.9zM317.0 468.1h0.9v0.9h-0.9zM335.8 459.0h0.9v0.9h-0.9zM315.5 467.5h0.9v0.9h-0.9zM323.9 459.1h0.9v0.9h-0.9zM337.2 458.0h0.9v0.9h-0.9zM343.2 458.8h0.9v0.9h-0.9zM333.5 450.4h0.9v0.9h-0.9zM341.3 448.5h0.9v0.9h-0.9zM321.5 469.7h0.9v0.9h-0.9zM328.0 458.4h0.9v0.9h-0.9zM341.0 458.5h0.9v0.9h-0.9zM328.6 454.1h0.9v0.9h-0.9zM318.0 471.4h0.9v0.9h-0.9zM320.8 460.1h0.9v0.9h-0.9zM336.3 458.9h0.9v0.9h-0.9zM325.7 457.2h0.9v0.9h-0.9zM340.6 458.8h0.9v0.9h-0.9zM335.6 455.1h0.9v0.9h-0.9zM309.0 479.5h0.9v0.9h-0.9zM335.0 473.3h0.9v0.9h-0.9zM319.0 461.3h0.9v0.9h-0.9zM320.3 462.1h0.9v0.9h-0.9zM340.3 442.5h0.9v0.9h-0.9zM324.8 453.7h0.9v0.9h-0.9zM309.3 474.9h0.9v0.9h-0.9zM312.7 470.9h0.9v0.9h-0.9zM334.3 458.3h0.9v0.9h-0.9zM329.0 462.6h0.9v0.9h-0.9zM308.6 465.4h0.9v0.9h-0.9zM321.3 471.3h0.9v0.9h-0.9zM320.2 466.2h0.9v0.9h-0.9zM338.1 462.0h0.9v0.9h-0.9zM317.3 466.0h0.9v0.9h-0.9zM335.2 461.1h0.9v0.9h-0.9zM337.9 450.7h0.9v0.9h-0.9zM317.2 465.2h0.9v0.9h-0.9zM344.7 453.0h0.9v0.9h-0.9zM323.5 472.2h0.9v0.9h-0.9zM326.4 465.4h0.9v0.9h-0.9zM327.8 440.3h0.9v0.9h-0.9zM315.1 466.8h0.9v0.9h-0.9zM319.6 464.9h0.9v0.9h-0.9zM331.7 458.9h0.9v0.9h-0.9zM316.6 461.8h0.9v0.9h-0.9zM317.7 460.6h0.9v0.9h-0.9zM334.1 451.7h0.9v0.9h-0.9zM337.1 464.6h0.9v0.9h-0.9zM316.6 470.8h0.9v0.9h-0.9zM339.5 453.8h0.9v0.9h-0.9zM329.9 473.7h0.9v0.9h-0.9zM357.3 443.0h0.9v0.9h-0.9zM313.2 464.3h0.9v0.9h-0.9zM331.2 451.8h0.9v0.9h-0.9zM335.7 458.9h0.9v0.9h-0.9zM330.2 461.9h0.9v0.9h-0.9zM323.7 468.6h0.9v0.9h-0.9zM347.9 443.3h0.9v0.9h-0.9zM318.3 472.5h0.9v0.9h-0.9zM325.0 455.1h0.9v0.9h-0.9zM344.8 449.1h0.9v0.9h-0.9zM312.9 477.7h0.9v0.9h-0.9zM317.9 474.4h0.9v0.9h-0.9zM340.7 460.2h0.9v0.9h-0.9zM335.9 470.0h0.9v0.9h-0.9zM311.2 477.0h0.9v0.9h-0.9zM323.7 460.9h0.9v0.9h-0.9zM346.8 447.8h0.9v0.9h-0.9zM318.7 460.3h0.9v0.9h-0.9zM334.6 458.0h0.9v0.9h-0.9zM323.4 457.7h0.9v0.9h-0.9zM313.8 464.1h0.9v0.9h-0.9zM340.8 446.1h0.9v0.9h-0.9zM330.8 447.0h0.9v0.9h-0.9zM346.0 466.9h0.9v0.9h-0.9zM324.9 468.1h0.9v0.9h-0.9zM319.1 451.1h0.9v0.9h-0.9zM328.1 463.2h0.9v0.9h-0.9zM327.8 456.5h0.9v0.9h-0.9zM313.5 454.0h0.9v0.9h-0.9zM317.2 465.0h0.9v0.9h-0.9z" fill="#3a3ae0" fill-opacity="0.45"/>
<path d="M308 494 L308 476 Q330 466 352 452 L353 462 Q350 480 346 494 Z" fill="#1010f0" filter="url(#b1)"/>
<ellipse cx="333" cy="477" rx="19" ry="11" transform="rotate(-55 333 477)" fill="#10a0f0" fill-opacity="1.0" filter="url(#b1)"/>
<ellipse cx="333" cy="477" rx="15" ry="8.5" transform="rotate(-55 333 477)" fill="#10e0d0" fill-opacity="1.0" filter="url(#b1)"/>
<ellipse cx="334" cy="477" rx="11" ry="6.2" transform="rotate(-55 334 477)" fill="#20f020" fill-opacity="1.0" filter="url(#b1)"/>
<ellipse cx="334" cy="476.5" rx="6.5" ry="4.0" transform="rotate(-55 334 476.5)" fill="#f0f010" fill-opacity="1.0" filter="url(#b1)"/>
<ellipse cx="334" cy="476.5" rx="3.0" ry="2.0" transform="rotate(-55 334 476.5)" fill="#ff8010" fill-opacity="1.0" filter="url(#b1)"/>
</g>
<rect x="308.5" y="394.1" width="100.60000000000002" height="100.09999999999997" fill="none" stroke="#666" stroke-width="1.1"/>
<line x1="351.10" y1="394.10" x2="351.10" y2="494.20" stroke="#444" stroke-width="1.1"/>
<line x1="308.50" y1="454.00" x2="409.10" y2="454.00" stroke="#444" stroke-width="1.1"/>
<text x="310.10" y="400.70" font-size="6.0" font-weight="bold" fill="#2020a0" textLength="13.08" lengthAdjust="spacingAndGlyphs">0.87</text>
<text x="408.10" y="400.70" font-size="6.0" font-weight="bold" text-anchor="end" fill="#2020a0" textLength="13.08" lengthAdjust="spacingAndGlyphs">1.01</text>
<rect x="309.10" y="485.20" width="19.42" height="8.40" fill="#fff"/>
<text x="310.10" y="492.60" font-size="6.0" font-weight="bold" fill="#2020a0" textLength="16.82" lengthAdjust="spacingAndGlyphs">97.32</text>
<text x="408.10" y="492.60" font-size="6.0" font-weight="bold" text-anchor="end" fill="#2020a0" textLength="13.08" lengthAdjust="spacingAndGlyphs">0.84</text>
<text transform="translate(398.40,440.60) rotate(90)" font-size="10.0" font-style="italic" text-anchor="middle" fill="#2020a0" textLength="55.00" lengthAdjust="spacingAndGlyphs" stroke="#2020a0" stroke-width="0.45">RapGEF2+/+</text>
<clipPath id="l2"><rect x="414.6" y="393.4" width="100.79999999999995" height="99.90000000000003"/></clipPath>
<g clip-path="url(#l2)">
<path d="M455.7 459.9h0.9v0.9h-0.9zM458.1 462.4h0.9v0.9h-0.9zM467.3 450.8h0.9v0.9h-0.9zM462.3 445.8h0.9v0.9h-0.9zM450.8 438.8h0.9v0.9h-0.9zM459.0 441.7h0.9v0.9h-0.9zM455.9 447.1h0.9v0.9h-0.9zM459.7 446.3h0.9v0.9h-0.9zM451.0 446.7h0.9v0.9h-0.9zM460.2 447.0h0.9v0.9h-0.9zM460.2 450.5h0.9v0.9h-0.9zM466.9 437.5h0.9v0.9h-0.9zM460.6 439.8h0.9v0.9h-0.9zM461.6 454.9h0.9v0.9h-0.9zM451.5 452.9h0.9v0.9h-0.9zM470.3 443.2h0.9v0.9h-0.9zM449.4 456.1h0.9v0.9h-0.9zM464.5 442.3h0.9v0.9h-0.9zM457.4 445.2h0.9v0.9h-0.9zM454.6 434.2h0.9v0.9h-0.9zM455.7 452.9h0.9v0.9h-0.9zM455.6 446.9h0.9v0.9h-0.9zM460.9 454.5h0.9v0.9h-0.9zM458.4 452.0h0.9v0.9h-0.9zM466.4 447.7h0.9v0.9h-0.9zM449.9 448.2h0.9v0.9h-0.9zM459.0 455.4h0.9v0.9h-0.9zM454.5 445.9h0.9v0.9h-0.9zM462.9 446.0h0.9v0.9h-0.9zM448.4 447.6h0.9v0.9h-0.9zM457.3 452.7h0.9v0.9h-0.9zM460.1 453.6h0.9v0.9h-0.9zM451.6 460.5h0.9v0.9h-0.9zM463.9 446.6h0.9v0.9h-0.9zM459.9 456.0h0.9v0.9h-0.9zM464.0 442.6h0.9v0.9h-0.9zM463.8 451.4h0.9v0.9h-0.9zM454.1 448.1h0.9v0.9h-0.9zM455.0 459.4h0.9v0.9h-0.9zM458.0 451.5h0.9v0.9h-0.9zM462.7 444.1h0.9v0.9h-0.9zM463.3 451.3h0.9v0.9h-0.9zM455.5 449.7h0.9v0.9h-0.9zM456.0 445.1h0.9v0.9h-0.9zM455.0 445.3h0.9v0.9h-0.9zM456.1 440.7h0.9v0.9h-0.9zM457.8 466.6h0.9v0.9h-0.9zM458.3 448.3h0.9v0.9h-0.9zM469.3 454.2h0.9v0.9h-0.9zM456.5 439.2h0.9v0.9h-0.9zM457.6 439.7h0.9v0.9h-0.9zM461.3 446.3h0.9v0.9h-0.9zM454.2 446.3h0.9v0.9h-0.9zM457.2 453.0h0.9v0.9h-0.9zM459.1 440.3h0.9v0.9h-0.9zM462.9 451.1h0.9v0.9h-0.9zM452.4 458.0h0.9v0.9h-0.9zM465.9 441.0h0.9v0.9h-0.9zM457.2 453.7h0.9v0.9h-0.9zM459.8 440.6h0.9v0.9h-0.9zM463.2 449.8h0.9v0.9h-0.9zM462.3 449.9h0.9v0.9h-0.9zM464.3 459.5h0.9v0.9h-0.9zM459.9 442.5h0.9v0.9h-0.9zM458.9 448.5h0.9v0.9h-0.9zM460.6 454.7h0.9v0.9h-0.9zM454.0 439.2h0.9v0.9h-0.9zM465.1 447.3h0.9v0.9h-0.9zM455.1 441.3h0.9v0.9h-0.9zM452.7 442.4h0.9v0.9h-0.9zM469.3 452.1h0.9v0.9h-0.9zM458.3 452.3h0.9v0.9h-0.9zM453.1 465.4h0.9v0.9h-0.9zM468.3 457.0h0.9v0.9h-0.9zM457.4 456.4h0.9v0.9h-0.9zM464.3 446.2h0.9v0.9h-0.9zM454.9 445.2h0.9v0.9h-0.9zM457.8 448.3h0.9v0.9h-0.9zM450.6 431.4h0.9v0.9h-0.9zM449.5 458.9h0.9v0.9h-0.9zM454.1 442.6h0.9v0.9h-0.9zM458.6 439.9h0.9v0.9h-0.9zM463.0 444.1h0.9v0.9h-0.9zM471.1 453.4h0.9v0.9h-0.9zM453.8 456.0h0.9v0.9h-0.9zM464.0 444.6h0.9v0.9h-0.9zM456.0 450.3h0.9v0.9h-0.9zM458.2 446.8h0.9v0.9h-0.9zM451.6 440.3h0.9v0.9h-0.9zM451.6 448.4h0.9v0.9h-0.9zM455.1 447.4h0.9v0.9h-0.9zM453.0 436.4h0.9v0.9h-0.9zM459.0 454.9h0.9v0.9h-0.9zM455.5 436.2h0.9v0.9h-0.9zM465.3 448.8h0.9v0.9h-0.9zM459.8 439.8h0.9v0.9h-0.9zM459.8 441.5h0.9v0.9h-0.9zM464.7 442.3h0.9v0.9h-0.9zM461.6 452.1h0.9v0.9h-0.9zM458.8 438.4h0.9v0.9h-0.9zM458.5 445.8h0.9v0.9h-0.9zM458.4 458.0h0.9v0.9h-0.9zM464.4 442.3h0.9v0.9h-0.9zM462.9 446.9h0.9v0.9h-0.9zM460.8 451.8h0.9v0.9h-0.9zM463.0 443.1h0.9v0.9h-0.9zM456.3 450.5h0.9v0.9h-0.9zM461.6 442.5h0.9v0.9h-0.9zM451.9 452.0h0.9v0.9h-0.9zM465.7 447.6h0.9v0.9h-0.9zM459.5 440.6h0.9v0.9h-0.9zM459.9 457.0h0.9v0.9h-0.9zM462.0 446.4h0.9v0.9h-0.9zM459.0 445.2h0.9v0.9h-0.9zM457.7 440.6h0.9v0.9h-0.9zM464.9 443.8h0.9v0.9h-0.9zM459.6 446.4h0.9v0.9h-0.9zM454.4 448.3h0.9v0.9h-0.9zM461.2 454.8h0.9v0.9h-0.9zM450.5 437.9h0.9v0.9h-0.9zM467.3 444.7h0.9v0.9h-0.9zM458.1 455.5h0.9v0.9h-0.9zM459.2 448.4h0.9v0.9h-0.9zM470.3 450.0h0.9v0.9h-0.9zM469.8 458.2h0.9v0.9h-0.9zM459.6 449.5h0.9v0.9h-0.9zM462.1 450.4h0.9v0.9h-0.9zM464.5 446.8h0.9v0.9h-0.9zM467.4 459.5h0.9v0.9h-0.9zM458.3 454.4h0.9v0.9h-0.9zM459.7 442.0h0.9v0.9h-0.9zM465.1 450.9h0.9v0.9h-0.9zM460.3 439.0h0.9v0.9h-0.9zM462.8 454.7h0.9v0.9h-0.9zM462.0 451.8h0.9v0.9h-0.9zM453.3 445.9h0.9v0.9h-0.9zM454.7 444.2h0.9v0.9h-0.9zM445.8 434.5h0.9v0.9h-0.9zM457.7 452.4h0.9v0.9h-0.9zM465.7 446.2h0.9v0.9h-0.9zM453.5 444.9h0.9v0.9h-0.9zM465.2 452.1h0.9v0.9h-0.9zM464.0 442.4h0.9v0.9h-0.9zM458.7 442.9h0.9v0.9h-0.9zM459.0 442.2h0.9v0.9h-0.9zM459.4 437.5h0.9v0.9h-0.9zM454.7 463.9h0.9v0.9h-0.9zM457.6 445.6h0.9v0.9h-0.9zM458.8 444.5h0.9v0.9h-0.9zM462.1 453.3h0.9v0.9h-0.9zM463.0 424.9h0.9v0.9h-0.9zM455.3 446.8h0.9v0.9h-0.9zM463.1 447.1h0.9v0.9h-0.9zM455.1 440.2h0.9v0.9h-0.9zM458.2 450.2h0.9v0.9h-0.9zM460.8 432.8h0.9v0.9h-0.9zM458.9 446.9h0.9v0.9h-0.9zM458.4 453.0h0.9v0.9h-0.9zM460.3 431.2h0.9v0.9h-0.9zM456.2 436.6h0.9v0.9h-0.9zM455.7 445.5h0.9v0.9h-0.9zM458.0 446.4h0.9v0.9h-0.9zM463.8 441.9h0.9v0.9h-0.9zM458.5 448.9h0.9v0.9h-0.9zM468.5 448.0h0.9v0.9h-0.9zM460.1 436.8h0.9v0.9h-0.9zM444.1 445.4h0.9v0.9h-0.9zM456.8 437.1h0.9v0.9h-0.9zM467.3 431.5h0.9v0.9h-0.9zM459.0 429.1h0.9v0.9h-0.9zM456.8 453.1h0.9v0.9h-0.9zM454.6 445.0h0.9v0.9h-0.9zM465.6 459.6h0.9v0.9h-0.9zM464.0 435.6h0.9v0.9h-0.9zM462.4 443.3h0.9v0.9h-0.9zM461.1 448.2h0.9v0.9h-0.9zM466.2 444.8h0.9v0.9h-0.9zM463.1 449.3h0.9v0.9h-0.9zM452.9 446.8h0.9v0.9h-0.9zM462.8 441.5h0.9v0.9h-0.9zM459.8 429.5h0.9v0.9h-0.9zM458.4 439.2h0.9v0.9h-0.9zM462.8 457.9h0.9v0.9h-0.9zM459.1 451.3h0.9v0.9h-0.9zM444.3 455.6h0.9v0.9h-0.9zM466.8 441.8h0.9v0.9h-0.9zM464.2 444.6h0.9v0.9h-0.9zM458.4 439.9h0.9v0.9h-0.9zM457.1 448.8h0.9v0.9h-0.9zM460.1 446.5h0.9v0.9h-0.9zM452.6 449.2h0.9v0.9h-0.9zM460.5 458.4h0.9v0.9h-0.9zM457.8 440.2h0.9v0.9h-0.9zM457.2 451.3h0.9v0.9h-0.9zM454.4 436.3h0.9v0.9h-0.9zM455.6 453.9h0.9v0.9h-0.9zM464.5 443.0h0.9v0.9h-0.9zM465.7 445.6h0.9v0.9h-0.9zM461.5 447.1h0.9v0.9h-0.9zM458.8 457.7h0.9v0.9h-0.9zM454.6 445.9h0.9v0.9h-0.9zM462.6 442.7h0.9v0.9h-0.9zM467.1 437.9h0.9v0.9h-0.9zM450.9 448.1h0.9v0.9h-0.9zM464.9 440.2h0.9v0.9h-0.9zM448.2 442.6h0.9v0.9h-0.9zM457.3 446.0h0.9v0.9h-0.9zM460.9 450.9h0.9v0.9h-0.9zM452.2 441.1h0.9v0.9h-0.9zM451.4 450.8h0.9v0.9h-0.9zM459.9 458.5h0.9v0.9h-0.9zM463.4 435.7h0.9v0.9h-0.9zM456.6 455.7h0.9v0.9h-0.9zM465.7 461.2h0.9v0.9h-0.9zM455.1 442.0h0.9v0.9h-0.9zM467.8 450.5h0.9v0.9h-0.9zM459.6 436.5h0.9v0.9h-0.9zM460.2 448.5h0.9v0.9h-0.9zM462.1 443.9h0.9v0.9h-0.9zM460.6 448.3h0.9v0.9h-0.9z" fill="#2020b0" fill-opacity="0.6"/>
<path d="M447.6 419.6h0.9v0.9h-0.9zM448.6 429.1h0.9v0.9h-0.9zM452.3 437.2h0.9v0.9h-0.9zM449.6 428.6h0.9v0.9h-0.9zM450.5 420.0h0.9v0.9h-0.9zM454.7 433.0h0.9v0.9h-0.9zM445.5 431.9h0.9v0.9h-0.9zM455.2 409.4h0.9v0.9h-0.9zM461.4 449.4h0.9v0.9h-0.9zM433.4 433.6h0.9v0.9h-0.9zM458.5 396.5h0.9v0.9h-0.9zM449.1 418.8h0.9v0.9h-0.9zM445.3 454.5h0.9v0.9h-0.9zM443.0 452.7h0.9v0.9h-0.9zM447.9 434.2h0.9v0.9h-0.9zM449.0 406.9h0.9v0.9h-0.9zM459.8 427.1h0.9v0.9h-0.9zM443.7 445.3h0.9v0.9h-0.9zM466.8 436.0h0.9v0.9h-0.9zM448.2 425.8h0.9v0.9h-0.9zM463.2 420.2h0.9v0.9h-0.9zM467.3 442.1h0.9v0.9h-0.9zM444.2 427.6h0.9v0.9h-0.9zM467.2 435.1h0.9v0.9h-0.9zM478.4 437.4h0.9v0.9h-0.9zM452.3 453.5h0.9v0.9h-0.9zM462.7 433.1h0.9v0.9h-0.9zM455.7 434.2h0.9v0.9h-0.9zM457.9 405.5h0.9v0.9h-0.9zM455.3 446.2h0.9v0.9h-0.9zM452.2 443.0h0.9v0.9h-0.9zM464.6 430.4h0.9v0.9h-0.9zM466.2 398.8h0.9v0.9h-0.9zM457.4 422.7h0.9v0.9h-0.9zM472.7 431.6h0.9v0.9h-0.9zM468.5 460.0h0.9v0.9h-0.9zM464.6 438.8h0.9v0.9h-0.9zM450.5 441.7h0.9v0.9h-0.9zM476.7 442.1h0.9v0.9h-0.9zM470.9 449.3h0.9v0.9h-0.9zM436.3 414.7h0.9v0.9h-0.9zM446.7 418.6h0.9v0.9h-0.9zM453.0 414.0h0.9v0.9h-0.9zM467.2 426.5h0.9v0.9h-0.9zM470.3 425.6h0.9v0.9h-0.9zM455.0 431.9h0.9v0.9h-0.9zM460.3 416.1h0.9v0.9h-0.9zM464.9 431.8h0.9v0.9h-0.9zM445.2 418.5h0.9v0.9h-0.9zM463.8 460.1h0.9v0.9h-0.9zM454.9 423.0h0.9v0.9h-0.9zM459.8 466.2h0.9v0.9h-0.9zM457.5 453.4h0.9v0.9h-0.9zM446.2 413.7h0.9v0.9h-0.9zM448.0 443.9h0.9v0.9h-0.9zM458.4 439.0h0.9v0.9h-0.9zM459.3 408.9h0.9v0.9h-0.9zM455.4 439.0h0.9v0.9h-0.9zM468.6 429.2h0.9v0.9h-0.9zM454.4 435.3h0.9v0.9h-0.9zM445.8 418.5h0.9v0.9h-0.9zM454.5 429.5h0.9v0.9h-0.9zM456.2 436.2h0.9v0.9h-0.9zM456.7 427.9h0.9v0.9h-0.9zM469.6 421.9h0.9v0.9h-0.9zM463.1 428.2h0.9v0.9h-0.9zM468.5 416.7h0.9v0.9h-0.9zM464.2 435.2h0.9v0.9h-0.9zM456.4 394.5h0.9v0.9h-0.9zM468.4 451.5h0.9v0.9h-0.9zM455.4 431.3h0.9v0.9h-0.9zM460.5 437.0h0.9v0.9h-0.9zM448.0 442.4h0.9v0.9h-0.9zM459.0 413.0h0.9v0.9h-0.9zM454.8 462.3h0.9v0.9h-0.9zM461.8 414.7h0.9v0.9h-0.9zM476.2 436.9h0.9v0.9h-0.9zM481.8 434.9h0.9v0.9h-0.9zM468.3 448.8h0.9v0.9h-0.9zM457.8 430.2h0.9v0.9h-0.9zM466.3 410.6h0.9v0.9h-0.9zM460.4 434.9h0.9v0.9h-0.9zM452.0 395.7h0.9v0.9h-0.9zM457.5 427.5h0.9v0.9h-0.9zM455.6 423.8h0.9v0.9h-0.9zM452.0 452.2h0.9v0.9h-0.9zM471.9 426.3h0.9v0.9h-0.9zM452.7 423.9h0.9v0.9h-0.9zM453.1 419.6h0.9v0.9h-0.9zM465.1 418.2h0.9v0.9h-0.9zM451.1 422.5h0.9v0.9h-0.9zM446.6 438.6h0.9v0.9h-0.9zM449.6 411.7h0.9v0.9h-0.9zM462.9 427.3h0.9v0.9h-0.9zM461.9 409.6h0.9v0.9h-0.9zM461.1 427.8h0.9v0.9h-0.9zM453.5 432.4h0.9v0.9h-0.9zM449.0 412.8h0.9v0.9h-0.9zM467.2 422.1h0.9v0.9h-0.9zM443.7 431.6h0.9v0.9h-0.9zM456.0 440.9h0.9v0.9h-0.9zM444.9 443.4h0.9v0.9h-0.9zM454.1 428.5h0.9v0.9h-0.9zM456.6 416.0h0.9v0.9h-0.9zM470.4 407.2h0.9v0.9h-0.9zM429.5 441.0h0.9v0.9h-0.9zM471.8 449.6h0.9v0.9h-0.9zM449.3 435.1h0.9v0.9h-0.9zM461.1 452.0h0.9v0.9h-0.9zM466.2 423.6h0.9v0.9h-0.9z" fill="#2020b0" fill-opacity="0.4"/>
<path d="M453.3 412.3h0.9v0.9h-0.9zM445.8 405.9h0.9v0.9h-0.9zM465.3 400.3h0.9v0.9h-0.9zM462.6 409.0h0.9v0.9h-0.9zM459.8 418.0h0.9v0.9h-0.9zM478.8 419.7h0.9v0.9h-0.9zM447.4 430.1h0.9v0.9h-0.9zM452.8 429.4h0.9v0.9h-0.9zM432.8 424.5h0.9v0.9h-0.9zM445.4 411.5h0.9v0.9h-0.9zM451.8 424.6h0.9v0.9h-0.9zM453.3 400.0h0.9v0.9h-0.9zM455.5 410.9h0.9v0.9h-0.9zM461.6 429.4h0.9v0.9h-0.9zM449.9 421.6h0.9v0.9h-0.9zM434.1 395.1h0.9v0.9h-0.9zM459.8 404.9h0.9v0.9h-0.9zM463.1 423.0h0.9v0.9h-0.9zM444.0 419.5h0.9v0.9h-0.9zM448.5 425.1h0.9v0.9h-0.9zM470.4 396.8h0.9v0.9h-0.9zM471.1 409.1h0.9v0.9h-0.9zM466.1 400.3h0.9v0.9h-0.9zM459.8 411.7h0.9v0.9h-0.9zM451.8 412.3h0.9v0.9h-0.9zM464.9 416.3h0.9v0.9h-0.9zM455.6 410.6h0.9v0.9h-0.9zM452.7 419.0h0.9v0.9h-0.9zM457.8 421.6h0.9v0.9h-0.9zM457.0 414.1h0.9v0.9h-0.9zM468.7 397.4h0.9v0.9h-0.9zM446.4 427.8h0.9v0.9h-0.9zM488.1 414.9h0.9v0.9h-0.9zM445.8 417.4h0.9v0.9h-0.9zM452.8 414.3h0.9v0.9h-0.9zM447.9 419.2h0.9v0.9h-0.9zM452.2 404.3h0.9v0.9h-0.9z" fill="#7070d0" fill-opacity="0.35"/>
<path d="M457.0 474.1h0.9v0.9h-0.9zM469.6 463.9h0.9v0.9h-0.9zM461.6 486.5h0.9v0.9h-0.9zM464.6 476.1h0.9v0.9h-0.9zM467.6 486.4h0.9v0.9h-0.9zM471.2 469.2h0.9v0.9h-0.9zM454.0 455.3h0.9v0.9h-0.9zM459.3 450.5h0.9v0.9h-0.9zM466.5 461.7h0.9v0.9h-0.9zM459.7 471.4h0.9v0.9h-0.9zM446.7 460.2h0.9v0.9h-0.9zM464.2 467.2h0.9v0.9h-0.9zM467.1 473.6h0.9v0.9h-0.9zM464.2 469.0h0.9v0.9h-0.9zM460.9 452.7h0.9v0.9h-0.9zM464.2 481.0h0.9v0.9h-0.9zM462.9 476.0h0.9v0.9h-0.9zM460.5 478.7h0.9v0.9h-0.9zM464.4 456.7h0.9v0.9h-0.9zM464.9 468.4h0.9v0.9h-0.9zM458.0 467.7h0.9v0.9h-0.9zM468.3 482.6h0.9v0.9h-0.9zM467.3 451.4h0.9v0.9h-0.9zM467.1 476.5h0.9v0.9h-0.9zM449.3 483.9h0.9v0.9h-0.9zM463.7 463.2h0.9v0.9h-0.9zM462.5 458.4h0.9v0.9h-0.9zM458.0 484.6h0.9v0.9h-0.9zM466.0 471.4h0.9v0.9h-0.9zM455.5 482.3h0.9v0.9h-0.9zM469.3 477.7h0.9v0.9h-0.9zM465.0 481.6h0.9v0.9h-0.9zM460.5 466.3h0.9v0.9h-0.9zM470.2 442.5h0.9v0.9h-0.9zM465.4 475.9h0.9v0.9h-0.9zM464.8 460.2h0.9v0.9h-0.9zM456.5 476.2h0.9v0.9h-0.9zM465.7 462.1h0.9v0.9h-0.9zM470.2 488.6h0.9v0.9h-0.9zM468.6 465.6h0.9v0.9h-0.9zM456.6 478.8h0.9v0.9h-0.9zM470.1 482.3h0.9v0.9h-0.9zM471.1 467.7h0.9v0.9h-0.9zM467.3 472.7h0.9v0.9h-0.9zM461.1 468.5h0.9v0.9h-0.9zM455.5 457.3h0.9v0.9h-0.9zM458.4 486.7h0.9v0.9h-0.9zM460.1 457.4h0.9v0.9h-0.9zM464.4 449.4h0.9v0.9h-0.9zM465.8 462.4h0.9v0.9h-0.9zM459.2 470.2h0.9v0.9h-0.9zM454.7 469.4h0.9v0.9h-0.9zM460.9 464.4h0.9v0.9h-0.9zM456.2 462.9h0.9v0.9h-0.9zM469.6 442.2h0.9v0.9h-0.9zM456.7 476.2h0.9v0.9h-0.9zM465.3 489.8h0.9v0.9h-0.9zM467.0 459.5h0.9v0.9h-0.9zM457.9 446.3h0.9v0.9h-0.9zM467.9 477.6h0.9v0.9h-0.9zM462.1 466.3h0.9v0.9h-0.9zM458.8 419.3h0.9v0.9h-0.9zM458.0 459.1h0.9v0.9h-0.9zM463.3 450.4h0.9v0.9h-0.9zM468.2 453.9h0.9v0.9h-0.9zM453.2 493.0h0.9v0.9h-0.9zM465.9 480.6h0.9v0.9h-0.9zM462.0 466.5h0.9v0.9h-0.9zM458.9 468.7h0.9v0.9h-0.9zM462.2 488.0h0.9v0.9h-0.9zM462.7 455.0h0.9v0.9h-0.9zM462.5 477.7h0.9v0.9h-0.9zM466.8 460.7h0.9v0.9h-0.9zM458.2 479.0h0.9v0.9h-0.9zM472.7 471.4h0.9v0.9h-0.9zM467.3 459.4h0.9v0.9h-0.9zM459.8 481.8h0.9v0.9h-0.9zM453.1 475.4h0.9v0.9h-0.9zM462.7 491.5h0.9v0.9h-0.9zM460.7 463.7h0.9v0.9h-0.9zM466.6 470.4h0.9v0.9h-0.9zM466.5 460.1h0.9v0.9h-0.9zM472.5 483.8h0.9v0.9h-0.9zM462.2 459.3h0.9v0.9h-0.9zM466.9 468.5h0.9v0.9h-0.9zM460.7 484.8h0.9v0.9h-0.9zM461.0 475.2h0.9v0.9h-0.9zM470.6 472.3h0.9v0.9h-0.9zM462.2 471.9h0.9v0.9h-0.9zM462.4 472.8h0.9v0.9h-0.9zM461.1 476.7h0.9v0.9h-0.9zM464.6 464.8h0.9v0.9h-0.9zM465.9 443.9h0.9v0.9h-0.9zM462.3 485.2h0.9v0.9h-0.9zM457.2 455.4h0.9v0.9h-0.9zM464.7 491.4h0.9v0.9h-0.9zM458.8 472.1h0.9v0.9h-0.9zM464.1 483.2h0.9v0.9h-0.9zM464.3 473.8h0.9v0.9h-0.9zM451.3 480.0h0.9v0.9h-0.9zM471.6 451.2h0.9v0.9h-0.9zM467.0 470.7h0.9v0.9h-0.9zM472.8 464.0h0.9v0.9h-0.9zM475.7 468.7h0.9v0.9h-0.9zM458.3 443.0h0.9v0.9h-0.9zM460.1 441.1h0.9v0.9h-0.9zM464.2 477.3h0.9v0.9h-0.9zM467.7 468.9h0.9v0.9h-0.9zM460.4 462.8h0.9v0.9h-0.9zM461.3 467.1h0.9v0.9h-0.9zM468.3 460.1h0.9v0.9h-0.9zM458.4 462.2h0.9v0.9h-0.9zM464.0 476.7h0.9v0.9h-0.9zM468.4 465.2h0.9v0.9h-0.9zM461.6 476.8h0.9v0.9h-0.9zM466.8 459.3h0.9v0.9h-0.9zM462.3 445.5h0.9v0.9h-0.9zM454.8 459.8h0.9v0.9h-0.9zM460.1 466.2h0.9v0.9h-0.9zM461.8 454.0h0.9v0.9h-0.9zM461.1 463.1h0.9v0.9h-0.9zM462.9 461.7h0.9v0.9h-0.9zM464.7 479.5h0.9v0.9h-0.9zM464.1 478.4h0.9v0.9h-0.9zM463.6 481.5h0.9v0.9h-0.9zM460.5 458.3h0.9v0.9h-0.9zM461.5 472.1h0.9v0.9h-0.9zM460.7 483.9h0.9v0.9h-0.9zM459.6 470.1h0.9v0.9h-0.9zM469.5 467.0h0.9v0.9h-0.9zM453.0 458.3h0.9v0.9h-0.9zM463.7 478.2h0.9v0.9h-0.9zM454.2 470.0h0.9v0.9h-0.9zM459.4 480.3h0.9v0.9h-0.9zM466.4 466.0h0.9v0.9h-0.9zM469.4 467.5h0.9v0.9h-0.9zM457.6 452.6h0.9v0.9h-0.9zM460.8 470.4h0.9v0.9h-0.9zM459.1 473.9h0.9v0.9h-0.9zM462.3 483.8h0.9v0.9h-0.9zM460.6 461.9h0.9v0.9h-0.9zM460.3 461.1h0.9v0.9h-0.9zM462.6 464.5h0.9v0.9h-0.9zM467.7 462.9h0.9v0.9h-0.9zM462.9 441.5h0.9v0.9h-0.9zM462.4 476.8h0.9v0.9h-0.9zM460.6 483.4h0.9v0.9h-0.9zM458.4 458.4h0.9v0.9h-0.9zM454.7 455.6h0.9v0.9h-0.9zM456.7 466.1h0.9v0.9h-0.9zM462.1 457.7h0.9v0.9h-0.9zM452.3 477.7h0.9v0.9h-0.9zM465.2 460.1h0.9v0.9h-0.9zM459.7 475.5h0.9v0.9h-0.9zM457.1 452.5h0.9v0.9h-0.9zM459.1 450.4h0.9v0.9h-0.9zM465.1 448.6h0.9v0.9h-0.9zM463.6 450.3h0.9v0.9h-0.9zM463.1 473.3h0.9v0.9h-0.9zM470.7 478.5h0.9v0.9h-0.9zM473.7 469.8h0.9v0.9h-0.9zM455.5 470.6h0.9v0.9h-0.9zM466.5 440.5h0.9v0.9h-0.9zM458.3 481.8h0.9v0.9h-0.9zM455.3 452.6h0.9v0.9h-0.9zM459.6 484.2h0.9v0.9h-0.9zM460.8 468.8h0.9v0.9h-0.9zM460.0 475.7h0.9v0.9h-0.9zM469.6 475.7h0.9v0.9h-0.9zM465.1 451.7h0.9v0.9h-0.9zM462.2 454.0h0.9v0.9h-0.9zM471.8 459.4h0.9v0.9h-0.9zM465.2 469.9h0.9v0.9h-0.9zM459.2 478.4h0.9v0.9h-0.9zM457.4 469.4h0.9v0.9h-0.9zM460.8 481.7h0.9v0.9h-0.9zM463.8 461.7h0.9v0.9h-0.9zM467.7 450.5h0.9v0.9h-0.9zM467.2 468.4h0.9v0.9h-0.9zM463.6 467.3h0.9v0.9h-0.9zM457.1 450.4h0.9v0.9h-0.9zM467.7 480.7h0.9v0.9h-0.9zM463.5 456.2h0.9v0.9h-0.9zM457.5 459.1h0.9v0.9h-0.9zM456.8 470.8h0.9v0.9h-0.9zM464.1 454.7h0.9v0.9h-0.9zM464.7 475.7h0.9v0.9h-0.9zM467.0 472.8h0.9v0.9h-0.9zM456.8 473.7h0.9v0.9h-0.9zM472.6 468.0h0.9v0.9h-0.9zM453.8 462.2h0.9v0.9h-0.9zM462.7 458.7h0.9v0.9h-0.9zM469.6 471.9h0.9v0.9h-0.9zM468.1 485.0h0.9v0.9h-0.9zM458.1 477.9h0.9v0.9h-0.9zM465.9 472.8h0.9v0.9h-0.9zM469.1 480.6h0.9v0.9h-0.9zM466.6 484.7h0.9v0.9h-0.9zM457.9 452.8h0.9v0.9h-0.9zM471.2 467.8h0.9v0.9h-0.9zM454.6 483.4h0.9v0.9h-0.9zM463.0 460.3h0.9v0.9h-0.9zM457.4 462.6h0.9v0.9h-0.9zM460.6 476.0h0.9v0.9h-0.9zM461.1 465.7h0.9v0.9h-0.9zM465.2 483.4h0.9v0.9h-0.9zM456.3 464.6h0.9v0.9h-0.9zM463.8 475.9h0.9v0.9h-0.9zM463.1 482.7h0.9v0.9h-0.9zM465.4 451.8h0.9v0.9h-0.9zM464.8 455.7h0.9v0.9h-0.9zM458.9 456.1h0.9v0.9h-0.9zM460.8 467.9h0.9v0.9h-0.9zM462.9 451.2h0.9v0.9h-0.9zM465.1 475.4h0.9v0.9h-0.9zM472.9 489.7h0.9v0.9h-0.9zM470.9 487.8h0.9v0.9h-0.9zM460.3 459.1h0.9v0.9h-0.9zM460.5 465.0h0.9v0.9h-0.9zM457.5 464.7h0.9v0.9h-0.9zM451.0 458.2h0.9v0.9h-0.9zM469.3 489.3h0.9v0.9h-0.9zM465.3 459.9h0.9v0.9h-0.9zM452.8 454.6h0.9v0.9h-0.9zM462.7 472.8h0.9v0.9h-0.9zM474.6 472.4h0.9v0.9h-0.9zM465.1 487.1h0.9v0.9h-0.9zM465.2 487.2h0.9v0.9h-0.9zM463.7 466.0h0.9v0.9h-0.9zM458.8 442.4h0.9v0.9h-0.9zM456.8 476.6h0.9v0.9h-0.9zM458.5 478.1h0.9v0.9h-0.9zM463.5 490.3h0.9v0.9h-0.9zM461.5 448.8h0.9v0.9h-0.9zM466.2 453.8h0.9v0.9h-0.9zM471.6 487.3h0.9v0.9h-0.9zM465.8 488.1h0.9v0.9h-0.9zM467.0 484.0h0.9v0.9h-0.9zM461.0 467.8h0.9v0.9h-0.9zM456.2 483.9h0.9v0.9h-0.9zM473.8 461.2h0.9v0.9h-0.9zM466.5 452.6h0.9v0.9h-0.9zM468.8 467.2h0.9v0.9h-0.9zM460.9 469.2h0.9v0.9h-0.9zM454.2 477.8h0.9v0.9h-0.9zM469.5 481.3h0.9v0.9h-0.9zM451.9 446.2h0.9v0.9h-0.9zM462.0 471.3h0.9v0.9h-0.9zM460.1 473.8h0.9v0.9h-0.9zM464.0 452.2h0.9v0.9h-0.9zM466.9 464.5h0.9v0.9h-0.9zM467.0 468.4h0.9v0.9h-0.9zM452.2 473.2h0.9v0.9h-0.9zM467.8 457.1h0.9v0.9h-0.9zM453.2 460.3h0.9v0.9h-0.9zM466.2 454.1h0.9v0.9h-0.9zM460.6 471.8h0.9v0.9h-0.9zM457.1 463.5h0.9v0.9h-0.9zM460.1 460.4h0.9v0.9h-0.9zM456.1 475.4h0.9v0.9h-0.9zM462.8 465.5h0.9v0.9h-0.9zM467.6 452.8h0.9v0.9h-0.9zM466.9 481.5h0.9v0.9h-0.9zM463.0 479.5h0.9v0.9h-0.9zM468.4 473.2h0.9v0.9h-0.9zM465.4 454.8h0.9v0.9h-0.9zM473.8 481.1h0.9v0.9h-0.9zM465.5 460.3h0.9v0.9h-0.9zM459.8 444.6h0.9v0.9h-0.9zM461.4 466.0h0.9v0.9h-0.9zM459.0 489.6h0.9v0.9h-0.9zM461.4 462.0h0.9v0.9h-0.9zM462.1 474.7h0.9v0.9h-0.9zM466.3 484.3h0.9v0.9h-0.9zM466.8 469.8h0.9v0.9h-0.9zM463.1 463.7h0.9v0.9h-0.9zM465.0 467.7h0.9v0.9h-0.9zM459.1 474.6h0.9v0.9h-0.9zM460.0 461.3h0.9v0.9h-0.9zM450.3 471.8h0.9v0.9h-0.9zM458.9 474.3h0.9v0.9h-0.9zM460.3 462.9h0.9v0.9h-0.9zM475.9 476.3h0.9v0.9h-0.9zM455.9 474.4h0.9v0.9h-0.9zM463.2 463.6h0.9v0.9h-0.9zM461.1 465.3h0.9v0.9h-0.9zM454.8 468.9h0.9v0.9h-0.9zM464.2 465.7h0.9v0.9h-0.9zM462.9 465.0h0.9v0.9h-0.9zM455.4 455.1h0.9v0.9h-0.9zM451.0 468.8h0.9v0.9h-0.9zM462.5 476.5h0.9v0.9h-0.9zM455.6 475.3h0.9v0.9h-0.9zM466.3 457.6h0.9v0.9h-0.9zM461.4 474.4h0.9v0.9h-0.9z" fill="#2020b0" fill-opacity="0.5"/>
<path d="M475.8 482.4h0.9v0.9h-0.9zM460.3 480.1h0.9v0.9h-0.9zM474.9 473.7h0.9v0.9h-0.9zM465.9 477.5h0.9v0.9h-0.9zM467.5 485.9h0.9v0.9h-0.9zM447.2 472.0h0.9v0.9h-0.9zM471.8 481.5h0.9v0.9h-0.9zM458.4 471.4h0.9v0.9h-0.9zM468.7 487.0h0.9v0.9h-0.9zM476.5 485.4h0.9v0.9h-0.9zM467.3 467.3h0.9v0.9h-0.9zM465.1 474.9h0.9v0.9h-0.9zM471.0 483.6h0.9v0.9h-0.9zM474.6 479.5h0.9v0.9h-0.9zM461.2 469.4h0.9v0.9h-0.9zM463.3 489.7h0.9v0.9h-0.9zM474.6 492.3h0.9v0.9h-0.9zM485.6 464.4h0.9v0.9h-0.9zM478.4 458.8h0.9v0.9h-0.9zM462.2 477.5h0.9v0.9h-0.9zM469.7 472.3h0.9v0.9h-0.9zM470.3 473.3h0.9v0.9h-0.9zM456.7 480.5h0.9v0.9h-0.9zM469.4 467.3h0.9v0.9h-0.9zM467.7 477.7h0.9v0.9h-0.9zM468.6 483.1h0.9v0.9h-0.9zM472.4 493.3h0.9v0.9h-0.9zM471.8 487.1h0.9v0.9h-0.9zM472.6 462.8h0.9v0.9h-0.9zM462.0 487.0h0.9v0.9h-0.9zM467.4 485.1h0.9v0.9h-0.9zM460.6 475.0h0.9v0.9h-0.9zM464.6 473.6h0.9v0.9h-0.9zM481.4 468.4h0.9v0.9h-0.9zM460.4 477.2h0.9v0.9h-0.9zM465.8 479.8h0.9v0.9h-0.9zM487.5 477.2h0.9v0.9h-0.9zM467.9 477.2h0.9v0.9h-0.9zM459.3 459.7h0.9v0.9h-0.9zM471.9 471.3h0.9v0.9h-0.9zM471.1 470.9h0.9v0.9h-0.9zM470.7 481.6h0.9v0.9h-0.9zM452.9 474.2h0.9v0.9h-0.9zM472.2 474.2h0.9v0.9h-0.9zM473.2 479.5h0.9v0.9h-0.9zM490.0 473.9h0.9v0.9h-0.9zM476.4 475.8h0.9v0.9h-0.9zM465.4 489.3h0.9v0.9h-0.9zM472.9 476.9h0.9v0.9h-0.9zM476.4 469.7h0.9v0.9h-0.9zM468.4 484.4h0.9v0.9h-0.9zM469.5 486.3h0.9v0.9h-0.9zM483.5 484.6h0.9v0.9h-0.9zM474.8 465.7h0.9v0.9h-0.9zM475.1 487.7h0.9v0.9h-0.9zM460.5 479.0h0.9v0.9h-0.9zM474.4 479.8h0.9v0.9h-0.9zM451.4 479.4h0.9v0.9h-0.9zM482.4 483.0h0.9v0.9h-0.9zM465.7 483.3h0.9v0.9h-0.9zM476.6 492.9h0.9v0.9h-0.9zM484.2 481.0h0.9v0.9h-0.9zM459.7 477.8h0.9v0.9h-0.9zM481.9 484.9h0.9v0.9h-0.9zM472.8 477.6h0.9v0.9h-0.9zM482.0 489.2h0.9v0.9h-0.9zM467.0 480.1h0.9v0.9h-0.9zM463.8 485.9h0.9v0.9h-0.9zM483.4 473.6h0.9v0.9h-0.9zM474.8 488.3h0.9v0.9h-0.9zM471.2 484.7h0.9v0.9h-0.9zM459.4 470.4h0.9v0.9h-0.9zM483.8 475.0h0.9v0.9h-0.9zM467.4 479.5h0.9v0.9h-0.9zM468.6 465.9h0.9v0.9h-0.9zM463.9 468.1h0.9v0.9h-0.9zM470.8 483.3h0.9v0.9h-0.9zM476.6 483.5h0.9v0.9h-0.9zM470.1 491.6h0.9v0.9h-0.9zM469.8 466.2h0.9v0.9h-0.9zM465.2 475.1h0.9v0.9h-0.9zM485.4 459.0h0.9v0.9h-0.9zM467.7 465.8h0.9v0.9h-0.9zM461.9 476.2h0.9v0.9h-0.9zM454.6 492.4h0.9v0.9h-0.9zM473.0 470.2h0.9v0.9h-0.9zM472.1 482.9h0.9v0.9h-0.9zM486.2 468.5h0.9v0.9h-0.9zM488.6 481.0h0.9v0.9h-0.9zM475.0 484.6h0.9v0.9h-0.9zM467.0 484.5h0.9v0.9h-0.9zM480.7 457.8h0.9v0.9h-0.9zM458.8 462.8h0.9v0.9h-0.9zM463.3 476.3h0.9v0.9h-0.9zM468.0 492.2h0.9v0.9h-0.9zM454.2 482.1h0.9v0.9h-0.9zM459.6 478.0h0.9v0.9h-0.9zM486.6 472.5h0.9v0.9h-0.9zM458.1 483.9h0.9v0.9h-0.9zM478.8 491.7h0.9v0.9h-0.9zM462.6 473.0h0.9v0.9h-0.9zM480.3 482.4h0.9v0.9h-0.9zM473.7 474.7h0.9v0.9h-0.9zM479.4 474.3h0.9v0.9h-0.9zM456.9 458.3h0.9v0.9h-0.9zM473.4 480.9h0.9v0.9h-0.9zM464.9 487.5h0.9v0.9h-0.9zM478.1 477.0h0.9v0.9h-0.9zM477.6 488.6h0.9v0.9h-0.9zM472.2 480.2h0.9v0.9h-0.9zM469.3 490.4h0.9v0.9h-0.9zM470.4 480.0h0.9v0.9h-0.9zM473.0 475.1h0.9v0.9h-0.9zM465.5 473.8h0.9v0.9h-0.9zM466.2 479.5h0.9v0.9h-0.9zM464.2 481.5h0.9v0.9h-0.9zM460.1 471.1h0.9v0.9h-0.9zM480.8 477.2h0.9v0.9h-0.9zM457.5 465.8h0.9v0.9h-0.9zM483.3 465.7h0.9v0.9h-0.9zM477.4 484.9h0.9v0.9h-0.9zM453.7 482.2h0.9v0.9h-0.9zM452.5 487.3h0.9v0.9h-0.9zM470.7 480.1h0.9v0.9h-0.9zM460.0 481.1h0.9v0.9h-0.9zM479.8 470.7h0.9v0.9h-0.9zM474.0 481.5h0.9v0.9h-0.9zM484.9 484.2h0.9v0.9h-0.9zM466.9 477.7h0.9v0.9h-0.9zM487.6 468.6h0.9v0.9h-0.9zM490.6 477.2h0.9v0.9h-0.9zM467.0 480.2h0.9v0.9h-0.9zM473.5 478.8h0.9v0.9h-0.9zM487.5 483.5h0.9v0.9h-0.9zM463.8 484.1h0.9v0.9h-0.9zM474.9 474.1h0.9v0.9h-0.9zM481.1 470.1h0.9v0.9h-0.9zM460.6 475.8h0.9v0.9h-0.9z" fill="#3a3ae0" fill-opacity="0.4"/>
<path d="M435.6 456.6h0.9v0.9h-0.9zM450.4 449.9h0.9v0.9h-0.9zM441.0 449.0h0.9v0.9h-0.9zM427.4 461.9h0.9v0.9h-0.9zM437.4 442.1h0.9v0.9h-0.9zM449.2 441.4h0.9v0.9h-0.9zM435.0 454.0h0.9v0.9h-0.9zM419.3 471.0h0.9v0.9h-0.9zM424.6 460.8h0.9v0.9h-0.9zM432.5 453.6h0.9v0.9h-0.9zM429.4 466.8h0.9v0.9h-0.9zM430.1 461.1h0.9v0.9h-0.9zM426.1 473.1h0.9v0.9h-0.9zM428.1 461.7h0.9v0.9h-0.9zM422.0 461.9h0.9v0.9h-0.9zM440.1 453.6h0.9v0.9h-0.9zM439.7 467.8h0.9v0.9h-0.9zM444.1 463.7h0.9v0.9h-0.9zM428.8 469.2h0.9v0.9h-0.9zM418.6 459.3h0.9v0.9h-0.9zM429.6 470.1h0.9v0.9h-0.9zM421.9 468.7h0.9v0.9h-0.9zM422.5 465.5h0.9v0.9h-0.9zM449.4 450.7h0.9v0.9h-0.9zM428.7 464.1h0.9v0.9h-0.9zM415.2 467.3h0.9v0.9h-0.9zM426.5 461.2h0.9v0.9h-0.9zM453.7 440.0h0.9v0.9h-0.9zM443.6 463.9h0.9v0.9h-0.9zM417.7 462.8h0.9v0.9h-0.9zM427.6 461.8h0.9v0.9h-0.9zM433.0 466.4h0.9v0.9h-0.9zM434.7 466.5h0.9v0.9h-0.9zM418.2 464.2h0.9v0.9h-0.9zM427.6 459.7h0.9v0.9h-0.9zM423.4 452.9h0.9v0.9h-0.9zM434.0 464.4h0.9v0.9h-0.9zM435.0 447.4h0.9v0.9h-0.9zM442.5 452.8h0.9v0.9h-0.9zM431.0 466.2h0.9v0.9h-0.9zM435.6 463.1h0.9v0.9h-0.9zM437.2 453.8h0.9v0.9h-0.9zM444.9 458.1h0.9v0.9h-0.9zM434.5 465.2h0.9v0.9h-0.9zM417.1 457.2h0.9v0.9h-0.9zM436.7 455.2h0.9v0.9h-0.9zM442.3 457.9h0.9v0.9h-0.9zM433.5 461.5h0.9v0.9h-0.9zM436.6 455.5h0.9v0.9h-0.9zM448.7 449.2h0.9v0.9h-0.9zM431.3 475.0h0.9v0.9h-0.9zM421.4 463.3h0.9v0.9h-0.9zM421.0 472.8h0.9v0.9h-0.9zM431.3 452.3h0.9v0.9h-0.9zM443.1 456.7h0.9v0.9h-0.9zM427.7 468.9h0.9v0.9h-0.9zM450.5 446.4h0.9v0.9h-0.9zM422.2 461.4h0.9v0.9h-0.9zM439.1 467.8h0.9v0.9h-0.9zM428.9 460.4h0.9v0.9h-0.9zM449.8 456.4h0.9v0.9h-0.9zM419.5 457.9h0.9v0.9h-0.9zM454.8 458.1h0.9v0.9h-0.9zM423.4 452.3h0.9v0.9h-0.9zM422.8 461.8h0.9v0.9h-0.9zM429.0 461.8h0.9v0.9h-0.9zM451.1 450.7h0.9v0.9h-0.9zM430.1 472.1h0.9v0.9h-0.9zM436.9 471.4h0.9v0.9h-0.9zM460.5 456.5h0.9v0.9h-0.9zM435.3 464.2h0.9v0.9h-0.9zM424.5 466.5h0.9v0.9h-0.9zM416.8 456.1h0.9v0.9h-0.9zM433.6 456.2h0.9v0.9h-0.9zM446.9 456.4h0.9v0.9h-0.9zM424.1 458.9h0.9v0.9h-0.9zM416.5 464.4h0.9v0.9h-0.9zM432.2 456.0h0.9v0.9h-0.9zM433.0 464.6h0.9v0.9h-0.9zM429.9 463.3h0.9v0.9h-0.9zM433.3 453.5h0.9v0.9h-0.9zM426.5 452.9h0.9v0.9h-0.9zM425.1 461.2h0.9v0.9h-0.9zM440.7 451.8h0.9v0.9h-0.9zM418.0 469.6h0.9v0.9h-0.9zM429.7 467.1h0.9v0.9h-0.9zM417.3 474.6h0.9v0.9h-0.9zM446.3 448.3h0.9v0.9h-0.9zM443.2 464.5h0.9v0.9h-0.9zM436.6 456.8h0.9v0.9h-0.9zM436.7 463.1h0.9v0.9h-0.9zM436.2 459.9h0.9v0.9h-0.9zM425.2 467.5h0.9v0.9h-0.9zM426.9 474.5h0.9v0.9h-0.9zM446.5 451.3h0.9v0.9h-0.9zM432.1 468.3h0.9v0.9h-0.9zM415.2 474.4h0.9v0.9h-0.9zM415.9 469.6h0.9v0.9h-0.9zM432.3 457.7h0.9v0.9h-0.9zM447.3 460.1h0.9v0.9h-0.9zM429.9 469.0h0.9v0.9h-0.9zM430.0 457.0h0.9v0.9h-0.9zM426.0 467.4h0.9v0.9h-0.9zM436.0 447.2h0.9v0.9h-0.9zM441.2 456.4h0.9v0.9h-0.9zM447.5 465.9h0.9v0.9h-0.9zM448.5 444.1h0.9v0.9h-0.9zM417.6 471.7h0.9v0.9h-0.9zM438.6 453.5h0.9v0.9h-0.9zM436.5 451.8h0.9v0.9h-0.9zM441.2 457.3h0.9v0.9h-0.9zM433.1 445.5h0.9v0.9h-0.9zM439.9 455.1h0.9v0.9h-0.9zM429.0 461.0h0.9v0.9h-0.9zM423.8 465.5h0.9v0.9h-0.9zM446.1 466.5h0.9v0.9h-0.9zM420.9 460.1h0.9v0.9h-0.9zM437.8 453.5h0.9v0.9h-0.9zM417.8 460.5h0.9v0.9h-0.9zM436.9 461.7h0.9v0.9h-0.9zM434.9 459.7h0.9v0.9h-0.9zM418.5 461.3h0.9v0.9h-0.9zM430.5 468.2h0.9v0.9h-0.9zM442.9 456.7h0.9v0.9h-0.9zM436.0 468.3h0.9v0.9h-0.9zM439.8 461.7h0.9v0.9h-0.9zM425.5 465.5h0.9v0.9h-0.9zM430.7 456.8h0.9v0.9h-0.9zM421.0 463.6h0.9v0.9h-0.9zM449.2 458.6h0.9v0.9h-0.9zM437.2 456.5h0.9v0.9h-0.9zM429.3 457.1h0.9v0.9h-0.9zM433.9 461.6h0.9v0.9h-0.9zM418.2 473.9h0.9v0.9h-0.9zM444.3 472.3h0.9v0.9h-0.9zM422.1 464.4h0.9v0.9h-0.9zM436.2 451.1h0.9v0.9h-0.9zM420.8 462.6h0.9v0.9h-0.9zM428.0 469.3h0.9v0.9h-0.9zM430.0 461.4h0.9v0.9h-0.9zM428.2 453.5h0.9v0.9h-0.9zM450.5 459.1h0.9v0.9h-0.9zM416.6 481.5h0.9v0.9h-0.9zM428.7 468.1h0.9v0.9h-0.9zM435.0 452.6h0.9v0.9h-0.9zM422.4 459.4h0.9v0.9h-0.9zM430.2 470.4h0.9v0.9h-0.9zM418.7 461.8h0.9v0.9h-0.9zM425.8 460.7h0.9v0.9h-0.9zM434.2 449.9h0.9v0.9h-0.9zM450.7 462.7h0.9v0.9h-0.9zM433.0 455.8h0.9v0.9h-0.9zM446.2 451.5h0.9v0.9h-0.9zM429.9 457.1h0.9v0.9h-0.9zM436.2 450.6h0.9v0.9h-0.9zM428.2 458.4h0.9v0.9h-0.9zM435.0 468.7h0.9v0.9h-0.9zM429.8 465.1h0.9v0.9h-0.9zM427.3 469.8h0.9v0.9h-0.9zM429.1 454.7h0.9v0.9h-0.9zM428.0 464.6h0.9v0.9h-0.9zM436.1 454.5h0.9v0.9h-0.9zM423.2 458.4h0.9v0.9h-0.9zM436.5 455.2h0.9v0.9h-0.9zM425.3 451.9h0.9v0.9h-0.9zM432.7 458.2h0.9v0.9h-0.9zM427.7 452.8h0.9v0.9h-0.9zM427.2 467.7h0.9v0.9h-0.9zM447.9 461.5h0.9v0.9h-0.9zM441.5 464.4h0.9v0.9h-0.9zM416.4 468.6h0.9v0.9h-0.9zM455.9 459.9h0.9v0.9h-0.9zM431.3 469.5h0.9v0.9h-0.9zM464.7 445.9h0.9v0.9h-0.9zM429.6 447.7h0.9v0.9h-0.9zM435.0 456.6h0.9v0.9h-0.9zM431.9 475.5h0.9v0.9h-0.9zM429.6 465.1h0.9v0.9h-0.9zM431.3 458.0h0.9v0.9h-0.9zM441.4 455.7h0.9v0.9h-0.9zM438.8 472.7h0.9v0.9h-0.9zM434.0 468.1h0.9v0.9h-0.9zM415.7 461.4h0.9v0.9h-0.9zM422.0 458.7h0.9v0.9h-0.9z" fill="#3a3ae0" fill-opacity="0.45"/>
<path d="M414 494 L414 476 Q436 466 458 452 L459 462 Q456 480 452 494 Z" fill="#1010f0" filter="url(#b1)"/>
<ellipse cx="439" cy="477" rx="19" ry="11" transform="rotate(-55 439 477)" fill="#10a0f0" fill-opacity="1.0" filter="url(#b1)"/>
<ellipse cx="439" cy="477" rx="15" ry="8.5" transform="rotate(-55 439 477)" fill="#10e0d0" fill-opacity="1.0" filter="url(#b1)"/>
<ellipse cx="440" cy="477" rx="11" ry="6.2" transform="rotate(-55 440 477)" fill="#20f020" fill-opacity="1.0" filter="url(#b1)"/>
<ellipse cx="440" cy="476.5" rx="6.5" ry="4.0" transform="rotate(-55 440 476.5)" fill="#f0f010" fill-opacity="1.0" filter="url(#b1)"/>
<ellipse cx="440" cy="476.5" rx="3.0" ry="2.0" transform="rotate(-55 440 476.5)" fill="#ff8010" fill-opacity="1.0" filter="url(#b1)"/>
</g>
<rect x="414.6" y="393.4" width="100.79999999999995" height="99.90000000000003" fill="none" stroke="#666" stroke-width="1.1"/>
<line x1="457.30" y1="393.40" x2="457.30" y2="493.30" stroke="#444" stroke-width="1.1"/>
<line x1="414.60" y1="454.00" x2="515.40" y2="454.00" stroke="#444" stroke-width="1.1"/>
<text x="416.20" y="400.00" font-size="6.0" font-weight="bold" fill="#d82020" textLength="13.08" lengthAdjust="spacingAndGlyphs">0.06</text>
<text x="514.40" y="400.00" font-size="6.0" font-weight="bold" text-anchor="end" fill="#d82020" textLength="13.08" lengthAdjust="spacingAndGlyphs">0.20</text>
<rect x="415.20" y="484.30" width="19.42" height="8.40" fill="#fff"/>
<text x="416.20" y="491.70" font-size="6.0" font-weight="bold" fill="#d82020" textLength="16.82" lengthAdjust="spacingAndGlyphs">99.22</text>
<text x="514.40" y="491.70" font-size="6.0" font-weight="bold" text-anchor="end" fill="#d82020" textLength="13.08" lengthAdjust="spacingAndGlyphs">0.52</text>
<text transform="translate(504.60,438.50) rotate(90)" font-size="10.0" font-style="italic" text-anchor="middle" fill="#d82020" textLength="50.60" lengthAdjust="spacingAndGlyphs" stroke="#d82020" stroke-width="0.45">RapGEF2-/-</text>
<text x="31.00" y="383.10" font-size="14.0" font-weight="bold">K</text>
<text x="285.10" y="383.10" font-size="14.0" font-weight="bold">L</text>
<line x1="41.40" y1="405.00" x2="41.40" y2="462.30" stroke="#000" stroke-width="1.9"/>
<path d="M36.4 406.6 L41.4 393.0 L46.4 406.6 Z" fill="#000"/>
<line x1="296.50" y1="405.00" x2="296.50" y2="463.80" stroke="#000" stroke-width="1.9"/>
<path d="M291.5 406.6 L296.5 393.0 L301.5 406.6 Z" fill="#000"/>
<text transform="translate(46.60,482.40) rotate(-90)" font-size="11.8" font-weight="bold" text-anchor="middle" textLength="33.40" lengthAdjust="spacingAndGlyphs">Ter119</text>
<text transform="translate(301.30,481.00) rotate(-90)" font-size="11.2" font-weight="bold" text-anchor="middle" textLength="27.00" lengthAdjust="spacingAndGlyphs">Mac1</text>
<text x="51.70" y="510.10" font-size="10.8" font-weight="bold" textLength="27.40" lengthAdjust="spacingAndGlyphs">CD71</text>
<text x="304.80" y="508.90" font-size="10.8" font-weight="bold" textLength="19.30" lengthAdjust="spacingAndGlyphs">Gr1</text>
<line x1="83.10" y1="506.10" x2="243.50" y2="506.10" stroke="#000" stroke-width="1.9"/>
<path d="M242.5 501.2 L255.8 506.1 L242.5 511.0 Z" fill="#000"/>
<line x1="327.50" y1="506.10" x2="474.70" y2="506.10" stroke="#000" stroke-width="1.9"/>
<path d="M473.7 501.2 L487.4 506.1 L473.7 511.0 Z" fill="#000"/>
<text x="30.20" y="546.90" font-size="12.8" font-weight="bold" textLength="12.70" lengthAdjust="spacingAndGlyphs">M</text>
<text x="284.00" y="546.90" font-size="12.8" font-weight="bold" textLength="10.70" lengthAdjust="spacingAndGlyphs">N</text>
<path d="M59.00 707.30 V561.40 H271.90 V707.30" fill="none" stroke="#000" stroke-width="1.7"/>
<line x1="58.20" y1="707.30" x2="272.70" y2="707.30" stroke="#000" stroke-width="1.7"/>
<line x1="56.50" y1="707.30" x2="59.00" y2="707.30" stroke="#000" stroke-width="1.0"/>
<text x="50.80" y="710.34" font-size="8.5" font-weight="bold" text-anchor="end" textLength="4.07" lengthAdjust="spacingAndGlyphs" stroke="#000" stroke-width="0.25">0</text>
<line x1="56.50" y1="678.12" x2="59.00" y2="678.12" stroke="#000" stroke-width="1.0"/>
<text x="50.80" y="681.16" font-size="8.5" font-weight="bold" text-anchor="end" textLength="4.07" lengthAdjust="spacingAndGlyphs" stroke="#000" stroke-width="0.25">3</text>
<line x1="56.50" y1="648.94" x2="59.00" y2="648.94" stroke="#000" stroke-width="1.0"/>
<text x="50.80" y="651.98" font-size="8.5" font-weight="bold" text-anchor="end" textLength="4.07" lengthAdjust="spacingAndGlyphs" stroke="#000" stroke-width="0.25">6</text>
<line x1="56.50" y1="619.76" x2="59.00" y2="619.76" stroke="#000" stroke-width="1.0"/>
<text x="50.80" y="622.80" font-size="8.5" font-weight="bold" text-anchor="end" textLength="4.07" lengthAdjust="spacingAndGlyphs" stroke="#000" stroke-width="0.25">9</text>
<line x1="56.50" y1="590.58" x2="59.00" y2="590.58" stroke="#000" stroke-width="1.0"/>
<text x="50.80" y="593.62" font-size="8.5" font-weight="bold" text-anchor="end" textLength="8.13" lengthAdjust="spacingAndGlyphs" stroke="#000" stroke-width="0.25">12</text>
<line x1="56.50" y1="561.40" x2="59.00" y2="561.40" stroke="#000" stroke-width="1.0"/>
<text x="50.80" y="564.44" font-size="8.5" font-weight="bold" text-anchor="end" textLength="8.13" lengthAdjust="spacingAndGlyphs" stroke="#000" stroke-width="0.25">15</text>
<line x1="59.00" y1="707.30" x2="59.00" y2="709.70" stroke="#000" stroke-width="1"/>
<line x1="165.40" y1="707.30" x2="165.40" y2="709.70" stroke="#000" stroke-width="1"/>
<line x1="271.90" y1="707.30" x2="271.90" y2="709.70" stroke="#000" stroke-width="1"/>
<line x1="88.00" y1="658.80" x2="88.00" y2="639.40" stroke="#000" stroke-width="1.4"/>
<line x1="86.30" y1="640.00" x2="89.70" y2="640.00" stroke="#000" stroke-width="1.4"/>
<rect x="76.75" y="659.35" width="22.50" height="47.95" fill="#ff0000" stroke="#111" stroke-width="1.1"/>
<line x1="111.80" y1="626.30" x2="111.80" y2="601.90" stroke="#000" stroke-width="1.4"/>
<line x1="110.10" y1="602.50" x2="113.50" y2="602.50" stroke="#000" stroke-width="1.4"/>
<rect x="100.35" y="626.85" width="22.90" height="80.45" fill="#00ff00" stroke="#111" stroke-width="1.1"/>
<line x1="135.95" y1="597.30" x2="135.95" y2="573.10" stroke="#000" stroke-width="1.4"/>
<line x1="134.25" y1="573.70" x2="137.65" y2="573.70" stroke="#000" stroke-width="1.4"/>
<rect x="124.35" y="597.85" width="23.20" height="109.45" fill="#0000ff" stroke="#111" stroke-width="1.1"/>
<line x1="194.40" y1="701.20" x2="194.40" y2="695.40" stroke="#000" stroke-width="1.4"/>
<line x1="192.70" y1="696.00" x2="196.10" y2="696.00" stroke="#000" stroke-width="1.4"/>
<rect x="183.15" y="701.75" width="22.50" height="5.55" fill="#ff0000" stroke="#111" stroke-width="1.1"/>
<line x1="218.30" y1="685.00" x2="218.30" y2="670.00" stroke="#000" stroke-width="1.4"/>
<line x1="216.60" y1="670.60" x2="220.00" y2="670.60" stroke="#000" stroke-width="1.4"/>
<rect x="206.75" y="685.55" width="23.10" height="21.75" fill="#00ff00" stroke="#111" stroke-width="1.1"/>
<line x1="242.30" y1="685.00" x2="242.30" y2="673.50" stroke="#000" stroke-width="1.4"/>
<line x1="240.60" y1="674.10" x2="244.00" y2="674.10" stroke="#000" stroke-width="1.4"/>
<rect x="230.95" y="685.55" width="22.70" height="21.75" fill="#0000ff" stroke="#111" stroke-width="1.1"/>
<text x="77.00" y="722.70" font-size="10.6" font-weight="bold" font-style="italic" textLength="45.80" lengthAdjust="spacingAndGlyphs">RapGEF2</text>
<text x="123.00" y="718.10" font-size="7.4" font-weight="bold" font-style="italic" textLength="15.60" lengthAdjust="spacingAndGlyphs">+/+</text>
<text x="193.30" y="722.20" font-size="10.6" font-weight="bold" font-style="italic" textLength="46.20" lengthAdjust="spacingAndGlyphs">RapGEF2</text>
<text x="239.70" y="717.60" font-size="7.4" font-weight="bold" font-style="italic" textLength="10.40" lengthAdjust="spacingAndGlyphs">-/-</text>
<rect x="231.70" y="567.40" width="4.60" height="4.60" fill="#901828" stroke="#400810" stroke-width="1.2"/>
<text x="238.10" y="572.60" font-size="7.4" font-weight="bold" fill="#222" textLength="20.40" lengthAdjust="spacingAndGlyphs">BFU-E</text>
<rect x="231.70" y="578.70" width="4.60" height="4.60" fill="#18a018" stroke="#0a3a0a" stroke-width="1.2"/>
<text x="238.10" y="583.90" font-size="7.4" font-weight="bold" fill="#222" textLength="28.20" lengthAdjust="spacingAndGlyphs">CFU-GM</text>
<rect x="231.70" y="589.90" width="4.60" height="4.60" fill="#1818a0" stroke="#0a0a40" stroke-width="1.2"/>
<text x="238.10" y="595.10" font-size="7.4" font-weight="bold" fill="#222" textLength="28.40" lengthAdjust="spacingAndGlyphs">CFU-Mix</text>
<path d="M304.50 709.40 V561.00 H517.30 V709.40" fill="none" stroke="#000" stroke-width="1.7"/>
<line x1="303.70" y1="709.40" x2="518.10" y2="709.40" stroke="#000" stroke-width="1.7"/>
<line x1="302.00" y1="709.40" x2="304.50" y2="709.40" stroke="#000" stroke-width="1.0"/>
<text x="296.60" y="712.44" font-size="8.5" font-weight="bold" text-anchor="end" textLength="4.07" lengthAdjust="spacingAndGlyphs" stroke="#000" stroke-width="0.25">0</text>
<line x1="302.00" y1="679.72" x2="304.50" y2="679.72" stroke="#000" stroke-width="1.0"/>
<text x="296.60" y="682.76" font-size="8.5" font-weight="bold" text-anchor="end" textLength="4.07" lengthAdjust="spacingAndGlyphs" stroke="#000" stroke-width="0.25">4</text>
<line x1="302.00" y1="650.04" x2="304.50" y2="650.04" stroke="#000" stroke-width="1.0"/>
<text x="296.60" y="653.08" font-size="8.5" font-weight="bold" text-anchor="end" textLength="4.07" lengthAdjust="spacingAndGlyphs" stroke="#000" stroke-width="0.25">8</text>
<line x1="302.00" y1="620.36" x2="304.50" y2="620.36" stroke="#000" stroke-width="1.0"/>
<text x="296.60" y="623.40" font-size="8.5" font-weight="bold" text-anchor="end" textLength="8.13" lengthAdjust="spacingAndGlyphs" stroke="#000" stroke-width="0.25">12</text>
<line x1="302.00" y1="590.68" x2="304.50" y2="590.68" stroke="#000" stroke-width="1.0"/>
<text x="296.60" y="593.72" font-size="8.5" font-weight="bold" text-anchor="end" textLength="8.13" lengthAdjust="spacingAndGlyphs" stroke="#000" stroke-width="0.25">16</text>
<line x1="302.00" y1="561.00" x2="304.50" y2="561.00" stroke="#000" stroke-width="1.0"/>
<text x="296.60" y="564.04" font-size="8.5" font-weight="bold" text-anchor="end" textLength="8.13" lengthAdjust="spacingAndGlyphs" stroke="#000" stroke-width="0.25">20</text>
<line x1="304.50" y1="709.40" x2="304.50" y2="711.80" stroke="#000" stroke-width="1"/>
<line x1="411.00" y1="709.40" x2="411.00" y2="711.80" stroke="#000" stroke-width="1"/>
<line x1="517.30" y1="709.40" x2="517.30" y2="711.80" stroke="#000" stroke-width="1"/>
<line x1="333.60" y1="621.30" x2="333.60" y2="599.00" stroke="#000" stroke-width="1.4"/>
<line x1="331.90" y1="599.60" x2="335.30" y2="599.60" stroke="#000" stroke-width="1.4"/>
<rect x="322.45" y="621.85" width="22.30" height="87.55" fill="#ff0000" stroke="#111" stroke-width="1.1"/>
<line x1="357.55" y1="596.30" x2="357.55" y2="568.80" stroke="#000" stroke-width="1.4"/>
<line x1="355.85" y1="569.40" x2="359.25" y2="569.40" stroke="#000" stroke-width="1.4"/>
<rect x="345.85" y="596.85" width="23.40" height="112.55" fill="#00ff00" stroke="#111" stroke-width="1.1"/>
<line x1="381.45" y1="626.00" x2="381.45" y2="596.30" stroke="#000" stroke-width="1.4"/>
<line x1="379.75" y1="596.90" x2="383.15" y2="596.90" stroke="#000" stroke-width="1.4"/>
<rect x="370.35" y="626.55" width="22.20" height="82.85" fill="#0000ff" stroke="#111" stroke-width="1.1"/>
<line x1="440.10" y1="694.70" x2="440.10" y2="687.30" stroke="#000" stroke-width="1.4"/>
<line x1="438.40" y1="687.90" x2="441.80" y2="687.90" stroke="#000" stroke-width="1.4"/>
<rect x="428.75" y="695.25" width="22.70" height="14.15" fill="#ff0000" stroke="#111" stroke-width="1.1"/>
<line x1="464.10" y1="680.40" x2="464.10" y2="665.40" stroke="#000" stroke-width="1.4"/>
<line x1="462.40" y1="666.00" x2="465.80" y2="666.00" stroke="#000" stroke-width="1.4"/>
<rect x="452.55" y="680.95" width="23.10" height="28.45" fill="#00ff00" stroke="#111" stroke-width="1.1"/>
<line x1="488.00" y1="694.70" x2="488.00" y2="682.00" stroke="#000" stroke-width="1.4"/>
<line x1="486.30" y1="682.60" x2="489.70" y2="682.60" stroke="#000" stroke-width="1.4"/>
<rect x="476.75" y="695.25" width="22.50" height="14.15" fill="#0000ff" stroke="#111" stroke-width="1.1"/>
<text x="322.90" y="723.40" font-size="10.6" font-weight="bold" font-style="italic" textLength="45.90" lengthAdjust="spacingAndGlyphs">RapGEF2</text>
<text x="369.00" y="718.80" font-size="7.4" font-weight="bold" font-style="italic" textLength="18.20" lengthAdjust="spacingAndGlyphs">+/+</text>
<text x="437.90" y="722.70" font-size="10.6" font-weight="bold" font-style="italic" textLength="42.90" lengthAdjust="spacingAndGlyphs">RapGEF2</text>
<text x="481.00" y="718.10" font-size="7.4" font-weight="bold" font-style="italic" textLength="14.00" lengthAdjust="spacingAndGlyphs">-/-</text>
<rect x="477.90" y="567.00" width="4.60" height="4.60" fill="#901828" stroke="#400810" stroke-width="1.2"/>
<text x="484.00" y="572.20" font-size="7.4" font-weight="bold" fill="#222" textLength="20.40" lengthAdjust="spacingAndGlyphs">BFU-E</text>
<rect x="477.90" y="577.80" width="4.60" height="4.60" fill="#18a018" stroke="#0a3a0a" stroke-width="1.2"/>
<text x="484.00" y="583.00" font-size="7.4" font-weight="bold" fill="#222" textLength="28.50" lengthAdjust="spacingAndGlyphs">CFU-GM</text>
<rect x="477.90" y="588.30" width="4.60" height="4.60" fill="#1818a0" stroke="#0a0a40" stroke-width="1.2"/>
<text x="484.00" y="593.50" font-size="7.4" font-weight="bold" fill="#222" textLength="29.10" lengthAdjust="spacingAndGlyphs">CFU-Mix</text>
<text transform="translate(36.2,712.3) rotate(-90)" font-size="10.0" font-weight="bold"><tspan textLength="124.66" lengthAdjust="spacingAndGlyphs">No. of Colonies / 5 X 10</tspan><tspan dy="-4.4" font-size="8.50">2</tspan><tspan dy="4.4" textLength="28.21" lengthAdjust="spacingAndGlyphs"> cells</tspan></text>
</svg></body></html>
